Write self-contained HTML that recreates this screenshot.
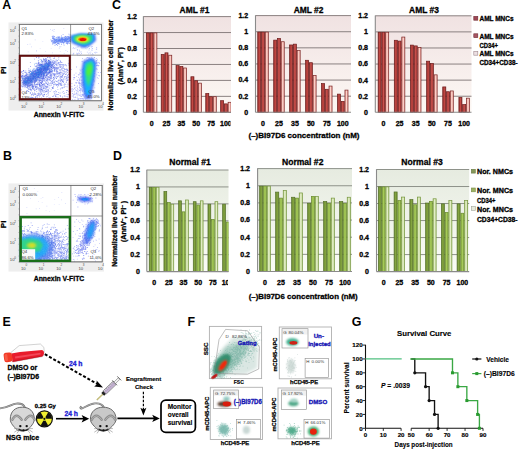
<!DOCTYPE html>
<html><head><meta charset="utf-8"><style>
html,body{margin:0;padding:0;background:#fff;overflow:hidden;}
svg{display:block;font-family:"Liberation Sans", sans-serif;}
</style></head><body>
<svg width="520" height="449" viewBox="0 0 520 449">
<defs>
<linearGradient id="cb1" x1="0" y1="0" x2="1" y2="0"><stop offset="0" stop-color="#8e2828"/><stop offset="0.5" stop-color="#c64c46"/><stop offset="1" stop-color="#922a2a"/></linearGradient><linearGradient id="cb2" x1="0" y1="0" x2="1" y2="0"><stop offset="0" stop-color="#9a2e2e"/><stop offset="0.5" stop-color="#cc5650"/><stop offset="1" stop-color="#9e3030"/></linearGradient><linearGradient id="cb3" x1="0" y1="0" x2="1" y2="0"><stop offset="0" stop-color="#e89890"/><stop offset="0.5" stop-color="#fcd4cc"/><stop offset="1" stop-color="#eaa098"/></linearGradient><linearGradient id="cbg" x1="0" y1="0" x2="0" y2="1"><stop offset="0" stop-color="#f0e2e2"/><stop offset="1" stop-color="#fdf8f4"/></linearGradient><linearGradient id="db1" x1="0" y1="0" x2="1" y2="0"><stop offset="0" stop-color="#66852c"/><stop offset="0.5" stop-color="#86a642"/><stop offset="1" stop-color="#68872e"/></linearGradient><linearGradient id="db2" x1="0" y1="0" x2="1" y2="0"><stop offset="0" stop-color="#86aa3e"/><stop offset="0.5" stop-color="#a8cc5c"/><stop offset="1" stop-color="#88ac40"/></linearGradient><linearGradient id="db3" x1="0" y1="0" x2="1" y2="0"><stop offset="0" stop-color="#b8d08a"/><stop offset="0.5" stop-color="#e6f0cc"/><stop offset="1" stop-color="#bad28c"/></linearGradient><linearGradient id="dbg" x1="0" y1="0" x2="0" y2="1"><stop offset="0" stop-color="#e6ebe0"/><stop offset="1" stop-color="#fafcf6"/></linearGradient>
<filter id="bl10" x="-50%" y="-50%" width="200%" height="200%"><feGaussianBlur stdDeviation="1.0"/></filter>
<filter id="bl14" x="-50%" y="-50%" width="200%" height="200%"><feGaussianBlur stdDeviation="1.4"/></filter>
<filter id="bl9" x="-50%" y="-50%" width="200%" height="200%"><feGaussianBlur stdDeviation="0.9"/></filter>
<filter id="bl8" x="-50%" y="-50%" width="200%" height="200%"><feGaussianBlur stdDeviation="0.8"/></filter>
<filter id="bl12" x="-50%" y="-50%" width="200%" height="200%"><feGaussianBlur stdDeviation="1.2"/></filter>
<filter id="bl6" x="-50%" y="-50%" width="200%" height="200%"><feGaussianBlur stdDeviation="0.6"/></filter>
</defs>
<rect width="520" height="449" fill="#fff"/>
<text x="2.20" y="8.60" font-size="12.4" font-weight="bold" text-anchor="start" fill="#000" stroke="#000" stroke-width="0.01" >A</text>
<text x="3.00" y="160.20" font-size="12.4" font-weight="bold" text-anchor="start" fill="#000" stroke="#000" stroke-width="0.01" >B</text>
<text x="112.00" y="8.50" font-size="12.4" font-weight="bold" text-anchor="start" fill="#000" stroke="#000" stroke-width="0.01" >C</text>
<text x="113.00" y="159.50" font-size="12.4" font-weight="bold" text-anchor="start" fill="#000" stroke="#000" stroke-width="0.01" >D</text>
<text x="2.50" y="326.40" font-size="12.4" font-weight="bold" text-anchor="start" fill="#000" stroke="#000" stroke-width="0.01" >E</text>
<text x="187.50" y="326.20" font-size="12.4" font-weight="bold" text-anchor="start" fill="#000" stroke="#000" stroke-width="0.01" >F</text>
<text x="351.80" y="326.10" font-size="12.4" font-weight="bold" text-anchor="start" fill="#000" stroke="#000" stroke-width="0.01" >G</text>
<rect x="8.50" y="22.40" width="95.00" height="88.20" fill="#eeeeee" stroke="none" stroke-width="1" />
<rect x="19.30" y="24.30" width="82.30" height="76.50" fill="#fff" stroke="#707070" stroke-width="0.7" />
<text x="9.80" y="32.00" font-size="4.2" font-weight="normal" text-anchor="start" fill="#484848" >10</text>
<text x="14.20" y="29.40" font-size="3.0" font-weight="normal" text-anchor="start" fill="#484848" >4</text>
<text x="9.80" y="45.00" font-size="4.2" font-weight="normal" text-anchor="start" fill="#484848" >10</text>
<text x="14.20" y="42.40" font-size="3.0" font-weight="normal" text-anchor="start" fill="#484848" >3</text>
<text x="9.80" y="64.20" font-size="4.2" font-weight="normal" text-anchor="start" fill="#484848" >10</text>
<text x="14.20" y="61.60" font-size="3.0" font-weight="normal" text-anchor="start" fill="#484848" >2</text>
<text x="9.80" y="82.80" font-size="4.2" font-weight="normal" text-anchor="start" fill="#484848" >10</text>
<text x="14.20" y="80.20" font-size="3.0" font-weight="normal" text-anchor="start" fill="#484848" >1</text>
<text x="9.80" y="100.30" font-size="4.2" font-weight="normal" text-anchor="start" fill="#484848" >10</text>
<text x="14.20" y="97.70" font-size="3.0" font-weight="normal" text-anchor="start" fill="#484848" >0</text>
<text x="21.00" y="108.40" font-size="4.2" font-weight="normal" text-anchor="start" fill="#484848" >10</text>
<text x="25.40" y="104.80" font-size="3.0" font-weight="normal" text-anchor="start" fill="#484848" >0</text>
<text x="38.40" y="108.40" font-size="4.2" font-weight="normal" text-anchor="start" fill="#484848" >10</text>
<text x="42.80" y="104.80" font-size="3.0" font-weight="normal" text-anchor="start" fill="#484848" >1</text>
<text x="56.20" y="108.40" font-size="4.2" font-weight="normal" text-anchor="start" fill="#484848" >10</text>
<text x="60.60" y="104.80" font-size="3.0" font-weight="normal" text-anchor="start" fill="#484848" >2</text>
<text x="78.40" y="108.40" font-size="4.2" font-weight="normal" text-anchor="start" fill="#484848" >10</text>
<text x="82.80" y="104.80" font-size="3.0" font-weight="normal" text-anchor="start" fill="#484848" >3</text>
<text x="97.80" y="108.40" font-size="4.2" font-weight="normal" text-anchor="start" fill="#484848" >10</text>
<text x="102.20" y="104.80" font-size="3.0" font-weight="normal" text-anchor="start" fill="#484848" >4</text>
<line x1="18.10" y1="24.30" x2="19.30" y2="24.30" stroke="#888" stroke-width="0.4" />
<line x1="18.10" y1="30.18" x2="19.30" y2="30.18" stroke="#888" stroke-width="0.4" />
<line x1="18.10" y1="36.07" x2="19.30" y2="36.07" stroke="#888" stroke-width="0.4" />
<line x1="18.10" y1="41.95" x2="19.30" y2="41.95" stroke="#888" stroke-width="0.4" />
<line x1="18.10" y1="47.84" x2="19.30" y2="47.84" stroke="#888" stroke-width="0.4" />
<line x1="18.10" y1="53.72" x2="19.30" y2="53.72" stroke="#888" stroke-width="0.4" />
<line x1="18.10" y1="59.61" x2="19.30" y2="59.61" stroke="#888" stroke-width="0.4" />
<line x1="18.10" y1="65.49" x2="19.30" y2="65.49" stroke="#888" stroke-width="0.4" />
<line x1="18.10" y1="71.38" x2="19.30" y2="71.38" stroke="#888" stroke-width="0.4" />
<line x1="18.10" y1="77.26" x2="19.30" y2="77.26" stroke="#888" stroke-width="0.4" />
<line x1="18.10" y1="83.15" x2="19.30" y2="83.15" stroke="#888" stroke-width="0.4" />
<line x1="18.10" y1="89.03" x2="19.30" y2="89.03" stroke="#888" stroke-width="0.4" />
<line x1="18.10" y1="94.92" x2="19.30" y2="94.92" stroke="#888" stroke-width="0.4" />
<line x1="18.10" y1="100.80" x2="19.30" y2="100.80" stroke="#888" stroke-width="0.4" />
<path d="M43.6 90.4h0.8v0.8h-0.8zM43.6 86.4h0.8v0.8h-0.8zM33.7 94.2h0.8v0.8h-0.8zM56.0 60.7h0.8v0.8h-0.8zM57.4 69.2h0.8v0.8h-0.8zM29.1 84.9h0.8v0.8h-0.8zM54.6 84.1h0.8v0.8h-0.8zM31.8 94.1h0.8v0.8h-0.8zM31.7 76.3h0.8v0.8h-0.8zM37.4 86.9h0.8v0.8h-0.8zM53.4 85.4h0.8v0.8h-0.8zM39.1 85.9h0.8v0.8h-0.8zM35.4 93.6h0.8v0.8h-0.8zM49.8 75.5h0.8v0.8h-0.8zM47.4 68.1h0.8v0.8h-0.8zM46.9 86.8h0.8v0.8h-0.8zM56.5 68.2h0.8v0.8h-0.8zM42.4 78.8h0.8v0.8h-0.8zM32.5 97.1h0.8v0.8h-0.8zM60.7 73.7h0.8v0.8h-0.8zM46.6 87.3h0.8v0.8h-0.8zM34.0 90.3h0.8v0.8h-0.8zM53.5 84.1h0.8v0.8h-0.8zM38.2 76.4h0.8v0.8h-0.8zM41.5 73.8h0.8v0.8h-0.8zM33.7 73.0h0.8v0.8h-0.8zM51.4 77.4h0.8v0.8h-0.8zM41.5 86.8h0.8v0.8h-0.8zM36.1 95.6h0.8v0.8h-0.8zM50.9 78.4h0.8v0.8h-0.8zM37.6 82.5h0.8v0.8h-0.8zM29.9 61.9h0.8v0.8h-0.8zM40.1 81.7h0.8v0.8h-0.8zM61.4 67.5h0.8v0.8h-0.8zM52.4 88.0h0.8v0.8h-0.8zM50.3 72.5h0.8v0.8h-0.8zM31.6 88.8h0.8v0.8h-0.8zM31.2 76.7h0.8v0.8h-0.8zM58.7 73.3h0.8v0.8h-0.8zM41.4 73.3h0.8v0.8h-0.8zM41.0 83.3h0.8v0.8h-0.8zM54.2 78.2h0.8v0.8h-0.8zM36.8 73.5h0.8v0.8h-0.8zM63.8 70.6h0.8v0.8h-0.8zM49.4 83.3h0.8v0.8h-0.8zM68.8 77.2h0.8v0.8h-0.8zM59.8 66.3h0.8v0.8h-0.8zM61.8 69.8h0.8v0.8h-0.8zM63.6 78.8h0.8v0.8h-0.8zM39.1 95.7h0.8v0.8h-0.8zM38.1 56.5h0.8v0.8h-0.8zM60.9 76.2h0.8v0.8h-0.8zM38.8 84.6h0.8v0.8h-0.8zM37.0 95.0h0.8v0.8h-0.8zM50.8 84.9h0.8v0.8h-0.8zM42.6 80.6h0.8v0.8h-0.8zM40.3 73.7h0.8v0.8h-0.8zM31.5 74.6h0.8v0.8h-0.8zM44.4 74.7h0.8v0.8h-0.8zM48.1 62.5h0.8v0.8h-0.8zM46.2 62.4h0.8v0.8h-0.8zM55.6 73.4h0.8v0.8h-0.8zM23.4 70.0h0.8v0.8h-0.8zM27.8 85.7h0.8v0.8h-0.8zM42.4 95.2h0.8v0.8h-0.8zM20.9 71.8h0.8v0.8h-0.8zM49.3 98.2h0.8v0.8h-0.8zM60.7 72.3h0.8v0.8h-0.8zM32.0 87.8h0.8v0.8h-0.8zM21.2 85.6h0.8v0.8h-0.8zM49.2 75.8h0.8v0.8h-0.8zM62.5 70.5h0.8v0.8h-0.8zM30.0 93.3h0.8v0.8h-0.8zM22.3 75.5h0.8v0.8h-0.8zM29.4 82.4h0.8v0.8h-0.8zM53.6 74.6h0.8v0.8h-0.8zM25.4 82.7h0.8v0.8h-0.8zM65.4 84.2h0.8v0.8h-0.8zM46.0 86.6h0.8v0.8h-0.8zM60.6 65.7h0.8v0.8h-0.8zM29.6 88.5h0.8v0.8h-0.8zM36.6 79.3h0.8v0.8h-0.8zM38.2 95.2h0.8v0.8h-0.8zM43.6 95.6h0.8v0.8h-0.8zM43.1 77.6h0.8v0.8h-0.8zM51.5 63.2h0.8v0.8h-0.8zM39.1 69.3h0.8v0.8h-0.8zM40.9 87.3h0.8v0.8h-0.8zM35.6 77.6h0.8v0.8h-0.8zM59.5 70.1h0.8v0.8h-0.8zM34.8 84.1h0.8v0.8h-0.8zM43.4 90.4h0.8v0.8h-0.8zM49.8 77.4h0.8v0.8h-0.8zM32.9 85.8h0.8v0.8h-0.8zM43.2 84.2h0.8v0.8h-0.8zM39.6 82.8h0.8v0.8h-0.8zM48.3 69.7h0.8v0.8h-0.8zM36.8 73.5h0.8v0.8h-0.8zM58.5 84.1h0.8v0.8h-0.8zM51.9 60.4h0.8v0.8h-0.8zM40.6 74.3h0.8v0.8h-0.8zM57.4 75.9h0.8v0.8h-0.8zM47.0 67.1h0.8v0.8h-0.8zM43.1 66.3h0.8v0.8h-0.8zM28.3 89.1h0.8v0.8h-0.8zM34.6 84.0h0.8v0.8h-0.8zM47.9 64.6h0.8v0.8h-0.8zM36.7 85.9h0.8v0.8h-0.8zM48.8 78.9h0.8v0.8h-0.8zM58.6 82.6h0.8v0.8h-0.8zM39.9 72.4h0.8v0.8h-0.8zM43.3 96.1h0.8v0.8h-0.8zM35.6 86.1h0.8v0.8h-0.8zM31.1 80.1h0.8v0.8h-0.8zM29.7 84.6h0.8v0.8h-0.8zM56.9 67.7h0.8v0.8h-0.8zM24.8 86.6h0.8v0.8h-0.8zM42.4 78.0h0.8v0.8h-0.8zM62.7 74.3h0.8v0.8h-0.8zM67.3 80.2h0.8v0.8h-0.8zM25.4 70.6h0.8v0.8h-0.8zM58.3 58.7h0.8v0.8h-0.8zM31.4 94.5h0.8v0.8h-0.8zM39.7 88.9h0.8v0.8h-0.8zM36.9 97.2h0.8v0.8h-0.8zM59.8 74.2h0.8v0.8h-0.8zM40.1 68.3h0.8v0.8h-0.8zM45.7 60.7h0.8v0.8h-0.8zM25.1 86.0h0.8v0.8h-0.8zM42.0 75.8h0.8v0.8h-0.8zM42.7 84.1h0.8v0.8h-0.8zM55.4 95.6h0.8v0.8h-0.8zM60.5 61.7h0.8v0.8h-0.8zM41.4 86.0h0.8v0.8h-0.8zM25.0 72.0h0.8v0.8h-0.8zM35.0 73.6h0.8v0.8h-0.8zM42.6 88.6h0.8v0.8h-0.8zM42.5 76.0h0.8v0.8h-0.8zM34.4 84.4h0.8v0.8h-0.8zM65.9 68.7h0.8v0.8h-0.8zM45.5 71.4h0.8v0.8h-0.8zM62.7 74.0h0.8v0.8h-0.8zM30.2 89.4h0.8v0.8h-0.8zM58.0 82.6h0.8v0.8h-0.8zM35.8 70.2h0.8v0.8h-0.8zM58.9 71.9h0.8v0.8h-0.8zM27.3 85.6h0.8v0.8h-0.8zM53.6 73.6h0.8v0.8h-0.8zM39.6 81.7h0.8v0.8h-0.8zM41.8 77.5h0.8v0.8h-0.8zM59.3 65.8h0.8v0.8h-0.8zM50.9 75.3h0.8v0.8h-0.8zM53.5 79.4h0.8v0.8h-0.8zM42.2 81.2h0.8v0.8h-0.8zM53.7 70.8h0.8v0.8h-0.8zM33.5 87.7h0.8v0.8h-0.8zM31.4 85.8h0.8v0.8h-0.8zM53.1 77.1h0.8v0.8h-0.8zM64.4 69.0h0.8v0.8h-0.8zM21.4 80.3h0.8v0.8h-0.8zM58.4 57.2h0.8v0.8h-0.8zM39.7 99.2h0.8v0.8h-0.8zM40.7 84.6h0.8v0.8h-0.8zM36.3 91.2h0.8v0.8h-0.8zM41.2 87.6h0.8v0.8h-0.8zM42.3 82.0h0.8v0.8h-0.8zM28.0 78.4h0.8v0.8h-0.8zM57.0 71.1h0.8v0.8h-0.8zM67.0 79.9h0.8v0.8h-0.8zM57.9 62.0h0.8v0.8h-0.8zM33.9 78.7h0.8v0.8h-0.8zM49.8 57.2h0.8v0.8h-0.8zM47.0 79.1h0.8v0.8h-0.8zM41.5 78.8h0.8v0.8h-0.8zM33.9 85.8h0.8v0.8h-0.8zM55.8 70.6h0.8v0.8h-0.8zM43.4 87.1h0.8v0.8h-0.8zM32.5 87.1h0.8v0.8h-0.8zM45.4 80.8h0.8v0.8h-0.8zM62.5 74.0h0.8v0.8h-0.8zM45.3 78.8h0.8v0.8h-0.8zM29.5 76.5h0.8v0.8h-0.8zM49.6 58.5h0.8v0.8h-0.8zM56.8 65.5h0.8v0.8h-0.8zM39.3 95.6h0.8v0.8h-0.8zM35.5 94.0h0.8v0.8h-0.8zM66.3 71.3h0.8v0.8h-0.8zM44.1 59.2h0.8v0.8h-0.8zM61.1 72.3h0.8v0.8h-0.8zM44.2 79.7h0.8v0.8h-0.8zM46.7 74.2h0.8v0.8h-0.8zM42.4 84.9h0.8v0.8h-0.8zM56.9 83.9h0.8v0.8h-0.8zM36.0 80.9h0.8v0.8h-0.8zM58.1 74.7h0.8v0.8h-0.8zM25.7 82.1h0.8v0.8h-0.8zM30.0 84.1h0.8v0.8h-0.8zM34.9 77.7h0.8v0.8h-0.8zM43.1 91.8h0.8v0.8h-0.8zM61.3 62.0h0.8v0.8h-0.8zM23.9 86.5h0.8v0.8h-0.8zM49.1 57.3h0.8v0.8h-0.8zM25.0 84.2h0.8v0.8h-0.8zM33.7 83.9h0.8v0.8h-0.8zM21.1 77.5h0.8v0.8h-0.8zM33.1 86.5h0.8v0.8h-0.8zM55.6 91.8h0.8v0.8h-0.8zM56.3 84.2h0.8v0.8h-0.8zM57.2 73.3h0.8v0.8h-0.8zM25.3 77.6h0.8v0.8h-0.8zM43.7 75.4h0.8v0.8h-0.8zM68.7 79.2h0.8v0.8h-0.8zM63.9 85.5h0.8v0.8h-0.8zM50.2 82.7h0.8v0.8h-0.8zM36.3 73.7h0.8v0.8h-0.8zM39.3 74.1h0.8v0.8h-0.8zM46.9 80.1h0.8v0.8h-0.8zM26.6 79.8h0.8v0.8h-0.8zM29.0 84.5h0.8v0.8h-0.8zM53.1 67.5h0.8v0.8h-0.8zM62.6 67.9h0.8v0.8h-0.8zM59.6 64.9h0.8v0.8h-0.8zM60.1 96.2h0.8v0.8h-0.8zM32.2 92.4h0.8v0.8h-0.8zM57.2 76.3h0.8v0.8h-0.8zM36.7 83.4h0.8v0.8h-0.8zM33.4 87.6h0.8v0.8h-0.8zM41.1 89.1h0.8v0.8h-0.8zM61.7 86.9h0.8v0.8h-0.8zM60.6 76.4h0.8v0.8h-0.8zM53.2 63.0h0.8v0.8h-0.8zM51.5 69.1h0.8v0.8h-0.8zM43.5 68.3h0.8v0.8h-0.8zM56.7 74.1h0.8v0.8h-0.8zM23.5 71.0h0.8v0.8h-0.8zM34.1 78.4h0.8v0.8h-0.8zM26.7 80.0h0.8v0.8h-0.8zM30.3 89.0h0.8v0.8h-0.8zM31.5 98.7h0.8v0.8h-0.8zM35.8 89.1h0.8v0.8h-0.8zM28.5 82.8h0.8v0.8h-0.8zM44.1 97.9h0.8v0.8h-0.8zM54.1 82.3h0.8v0.8h-0.8zM39.8 59.3h0.8v0.8h-0.8zM57.1 62.8h0.8v0.8h-0.8zM41.6 81.3h0.8v0.8h-0.8zM46.2 75.8h0.8v0.8h-0.8zM27.8 78.9h0.8v0.8h-0.8zM25.0 78.5h0.8v0.8h-0.8zM56.7 67.1h0.8v0.8h-0.8zM50.3 68.0h0.8v0.8h-0.8zM55.4 66.7h0.8v0.8h-0.8zM52.5 68.1h0.8v0.8h-0.8zM53.0 79.5h0.8v0.8h-0.8zM35.2 86.1h0.8v0.8h-0.8zM59.8 67.1h0.8v0.8h-0.8zM33.2 80.4h0.8v0.8h-0.8zM41.7 61.3h0.8v0.8h-0.8zM54.4 74.7h0.8v0.8h-0.8zM48.5 67.5h0.8v0.8h-0.8zM36.2 98.9h0.8v0.8h-0.8zM31.1 94.8h0.8v0.8h-0.8zM44.9 72.7h0.8v0.8h-0.8zM43.0 83.8h0.8v0.8h-0.8zM69.2 83.1h0.8v0.8h-0.8zM24.0 81.2h0.8v0.8h-0.8zM30.8 96.8h0.8v0.8h-0.8zM42.3 65.9h0.8v0.8h-0.8zM29.0 89.0h0.8v0.8h-0.8zM39.9 93.5h0.8v0.8h-0.8zM36.8 72.1h0.8v0.8h-0.8zM49.9 75.2h0.8v0.8h-0.8zM41.7 80.7h0.8v0.8h-0.8zM28.4 77.6h0.8v0.8h-0.8zM56.5 70.6h0.8v0.8h-0.8zM44.4 78.9h0.8v0.8h-0.8zM56.7 72.6h0.8v0.8h-0.8zM40.0 86.1h0.8v0.8h-0.8zM51.4 75.9h0.8v0.8h-0.8zM51.8 74.6h0.8v0.8h-0.8zM45.0 86.5h0.8v0.8h-0.8zM62.4 72.4h0.8v0.8h-0.8zM53.5 94.9h0.8v0.8h-0.8zM29.0 77.5h0.8v0.8h-0.8zM40.9 63.9h0.8v0.8h-0.8zM34.3 93.4h0.8v0.8h-0.8zM39.4 74.4h0.8v0.8h-0.8zM21.1 74.8h0.8v0.8h-0.8zM39.7 86.1h0.8v0.8h-0.8zM34.6 90.0h0.8v0.8h-0.8zM37.0 95.7h0.8v0.8h-0.8zM61.2 65.8h0.8v0.8h-0.8zM41.8 80.7h0.8v0.8h-0.8zM50.4 67.7h0.8v0.8h-0.8zM31.6 84.1h0.8v0.8h-0.8zM40.9 82.2h0.8v0.8h-0.8zM44.1 80.7h0.8v0.8h-0.8zM37.7 78.8h0.8v0.8h-0.8zM55.7 76.0h0.8v0.8h-0.8zM57.6 80.4h0.8v0.8h-0.8zM41.0 59.8h0.8v0.8h-0.8zM35.6 79.6h0.8v0.8h-0.8zM56.0 77.9h0.8v0.8h-0.8zM35.4 69.9h0.8v0.8h-0.8zM65.2 74.0h0.8v0.8h-0.8zM51.2 65.2h0.8v0.8h-0.8zM47.0 78.8h0.8v0.8h-0.8zM58.4 62.1h0.8v0.8h-0.8zM48.0 68.6h0.8v0.8h-0.8zM51.4 63.4h0.8v0.8h-0.8zM48.6 73.3h0.8v0.8h-0.8zM35.1 96.0h0.8v0.8h-0.8zM43.4 83.2h0.8v0.8h-0.8zM39.0 78.5h0.8v0.8h-0.8zM58.4 76.3h0.8v0.8h-0.8zM34.6 88.4h0.8v0.8h-0.8zM57.9 73.0h0.8v0.8h-0.8zM39.7 75.9h0.8v0.8h-0.8zM49.5 71.3h0.8v0.8h-0.8zM43.0 78.6h0.8v0.8h-0.8zM46.4 90.9h0.8v0.8h-0.8zM41.1 81.7h0.8v0.8h-0.8zM52.9 73.9h0.8v0.8h-0.8zM32.1 75.5h0.8v0.8h-0.8zM35.9 73.5h0.8v0.8h-0.8zM30.9 97.6h0.8v0.8h-0.8zM53.9 65.7h0.8v0.8h-0.8zM33.8 93.4h0.8v0.8h-0.8zM47.2 91.4h0.8v0.8h-0.8zM54.4 62.6h0.8v0.8h-0.8zM56.4 83.9h0.8v0.8h-0.8zM46.9 69.1h0.8v0.8h-0.8zM45.9 86.5h0.8v0.8h-0.8zM34.4 93.3h0.8v0.8h-0.8zM48.0 82.8h0.8v0.8h-0.8zM60.3 68.9h0.8v0.8h-0.8zM35.8 70.6h0.8v0.8h-0.8zM37.9 75.0h0.8v0.8h-0.8zM48.6 72.3h0.8v0.8h-0.8zM54.0 63.2h0.8v0.8h-0.8zM34.5 65.5h0.8v0.8h-0.8zM49.6 79.5h0.8v0.8h-0.8zM33.7 73.9h0.8v0.8h-0.8zM37.3 76.3h0.8v0.8h-0.8zM56.3 65.1h0.8v0.8h-0.8zM36.2 89.2h0.8v0.8h-0.8zM50.4 75.5h0.8v0.8h-0.8zM50.2 79.9h0.8v0.8h-0.8zM50.5 76.6h0.8v0.8h-0.8zM44.2 67.4h0.8v0.8h-0.8zM54.7 74.0h0.8v0.8h-0.8zM32.1 92.6h0.8v0.8h-0.8zM60.0 78.2h0.8v0.8h-0.8zM61.1 79.8h0.8v0.8h-0.8zM33.8 77.0h0.8v0.8h-0.8zM65.0 71.5h0.8v0.8h-0.8zM35.6 97.7h0.8v0.8h-0.8zM38.6 73.0h0.8v0.8h-0.8zM59.6 92.6h0.8v0.8h-0.8zM30.1 89.7h0.8v0.8h-0.8zM32.1 88.3h0.8v0.8h-0.8zM61.5 64.0h0.8v0.8h-0.8zM38.9 99.5h0.8v0.8h-0.8zM43.0 98.7h0.8v0.8h-0.8zM55.9 81.0h0.8v0.8h-0.8zM53.1 78.4h0.8v0.8h-0.8zM42.7 96.0h0.8v0.8h-0.8zM50.3 74.1h0.8v0.8h-0.8zM36.4 84.0h0.8v0.8h-0.8zM22.7 85.5h0.8v0.8h-0.8zM40.4 78.8h0.8v0.8h-0.8zM44.5 67.4h0.8v0.8h-0.8zM40.2 85.7h0.8v0.8h-0.8zM33.5 76.6h0.8v0.8h-0.8zM53.2 73.3h0.8v0.8h-0.8zM47.4 57.3h0.8v0.8h-0.8zM44.8 84.9h0.8v0.8h-0.8zM53.3 58.3h0.8v0.8h-0.8zM23.9 82.4h0.8v0.8h-0.8zM54.1 64.9h0.8v0.8h-0.8zM45.0 62.9h0.8v0.8h-0.8zM68.6 79.4h0.8v0.8h-0.8zM47.9 69.1h0.8v0.8h-0.8zM63.1 82.2h0.8v0.8h-0.8zM55.5 68.7h0.8v0.8h-0.8zM52.3 60.9h0.8v0.8h-0.8zM49.8 78.5h0.8v0.8h-0.8zM45.4 91.4h0.8v0.8h-0.8zM46.3 80.4h0.8v0.8h-0.8zM28.4 87.5h0.8v0.8h-0.8zM45.9 71.5h0.8v0.8h-0.8zM63.7 64.5h0.8v0.8h-0.8zM48.4 73.2h0.8v0.8h-0.8zM61.1 75.9h0.8v0.8h-0.8zM38.8 89.8h0.8v0.8h-0.8zM62.4 67.6h0.8v0.8h-0.8zM28.4 84.5h0.8v0.8h-0.8zM36.6 65.3h0.8v0.8h-0.8zM39.9 76.5h0.8v0.8h-0.8zM63.3 65.5h0.8v0.8h-0.8zM66.0 72.7h0.8v0.8h-0.8zM27.7 91.1h0.8v0.8h-0.8zM50.6 71.0h0.8v0.8h-0.8zM35.6 80.6h0.8v0.8h-0.8zM46.4 82.6h0.8v0.8h-0.8zM32.2 99.0h0.8v0.8h-0.8zM30.1 97.6h0.8v0.8h-0.8zM55.7 63.5h0.8v0.8h-0.8zM35.2 76.2h0.8v0.8h-0.8zM52.1 79.9h0.8v0.8h-0.8zM50.7 82.8h0.8v0.8h-0.8zM33.7 81.1h0.8v0.8h-0.8zM48.6 97.2h0.8v0.8h-0.8zM39.5 86.6h0.8v0.8h-0.8zM58.5 66.8h0.8v0.8h-0.8zM43.7 78.3h0.8v0.8h-0.8zM67.2 69.7h0.8v0.8h-0.8zM38.9 83.8h0.8v0.8h-0.8zM25.1 80.7h0.8v0.8h-0.8zM31.3 83.6h0.8v0.8h-0.8zM60.3 83.9h0.8v0.8h-0.8zM23.8 83.3h0.8v0.8h-0.8zM51.5 78.0h0.8v0.8h-0.8zM48.5 76.9h0.8v0.8h-0.8zM49.7 66.3h0.8v0.8h-0.8zM41.9 90.2h0.8v0.8h-0.8zM57.3 67.8h0.8v0.8h-0.8zM41.6 89.4h0.8v0.8h-0.8zM41.9 85.0h0.8v0.8h-0.8zM40.0 71.6h0.8v0.8h-0.8zM62.4 76.6h0.8v0.8h-0.8zM47.5 66.6h0.8v0.8h-0.8zM63.7 71.5h0.8v0.8h-0.8zM44.6 77.1h0.8v0.8h-0.8zM32.8 86.6h0.8v0.8h-0.8zM58.6 72.7h0.8v0.8h-0.8zM22.2 86.3h0.8v0.8h-0.8zM44.1 78.2h0.8v0.8h-0.8zM22.9 83.8h0.8v0.8h-0.8zM44.7 77.3h0.8v0.8h-0.8zM49.9 77.6h0.8v0.8h-0.8zM46.4 77.7h0.8v0.8h-0.8zM48.0 91.9h0.8v0.8h-0.8zM38.4 88.6h0.8v0.8h-0.8zM62.5 81.3h0.8v0.8h-0.8zM46.5 75.4h0.8v0.8h-0.8zM29.8 75.7h0.8v0.8h-0.8zM31.9 97.1h0.8v0.8h-0.8zM38.7 56.7h0.8v0.8h-0.8zM66.1 77.5h0.8v0.8h-0.8zM41.0 94.2h0.8v0.8h-0.8zM50.4 72.5h0.8v0.8h-0.8zM41.0 92.7h0.8v0.8h-0.8zM42.3 78.8h0.8v0.8h-0.8zM34.2 91.7h0.8v0.8h-0.8zM38.6 89.4h0.8v0.8h-0.8zM51.1 62.0h0.8v0.8h-0.8zM48.1 69.5h0.8v0.8h-0.8zM44.6 69.7h0.8v0.8h-0.8zM47.3 84.1h0.8v0.8h-0.8zM22.4 83.6h0.8v0.8h-0.8zM49.8 90.9h0.8v0.8h-0.8zM36.6 86.8h0.8v0.8h-0.8zM47.5 86.2h0.8v0.8h-0.8zM41.5 80.3h0.8v0.8h-0.8zM66.5 90.1h0.8v0.8h-0.8zM34.4 79.5h0.8v0.8h-0.8zM37.5 65.7h0.8v0.8h-0.8zM45.8 58.9h0.8v0.8h-0.8zM48.6 65.9h0.8v0.8h-0.8zM40.5 76.3h0.8v0.8h-0.8zM45.4 68.3h0.8v0.8h-0.8zM37.8 87.9h0.8v0.8h-0.8zM38.3 77.2h0.8v0.8h-0.8zM38.1 74.4h0.8v0.8h-0.8zM24.8 82.3h0.8v0.8h-0.8zM45.2 89.5h0.8v0.8h-0.8zM64.2 68.3h0.8v0.8h-0.8zM49.8 73.3h0.8v0.8h-0.8zM43.1 65.4h0.8v0.8h-0.8zM23.3 82.7h0.8v0.8h-0.8zM36.4 65.6h0.8v0.8h-0.8zM38.2 75.5h0.8v0.8h-0.8zM29.2 70.8h0.8v0.8h-0.8zM66.7 69.6h0.8v0.8h-0.8zM35.0 98.9h0.8v0.8h-0.8zM30.7 76.3h0.8v0.8h-0.8zM51.4 78.3h0.8v0.8h-0.8zM61.5 62.1h0.8v0.8h-0.8zM42.0 90.0h0.8v0.8h-0.8zM39.6 88.4h0.8v0.8h-0.8zM40.6 74.3h0.8v0.8h-0.8zM29.3 87.2h0.8v0.8h-0.8zM33.9 94.0h0.8v0.8h-0.8zM49.8 61.8h0.8v0.8h-0.8zM52.7 65.9h0.8v0.8h-0.8zM40.4 89.6h0.8v0.8h-0.8zM45.4 71.6h0.8v0.8h-0.8zM57.4 68.0h0.8v0.8h-0.8zM38.9 79.0h0.8v0.8h-0.8zM59.8 75.6h0.8v0.8h-0.8zM55.5 68.2h0.8v0.8h-0.8zM59.7 65.6h0.8v0.8h-0.8zM54.4 74.6h0.8v0.8h-0.8zM51.3 65.8h0.8v0.8h-0.8zM47.4 89.0h0.8v0.8h-0.8zM35.3 97.2h0.8v0.8h-0.8zM43.5 84.9h0.8v0.8h-0.8zM31.3 80.6h0.8v0.8h-0.8zM42.4 95.1h0.8v0.8h-0.8zM55.4 76.8h0.8v0.8h-0.8zM61.6 75.7h0.8v0.8h-0.8zM23.0 78.6h0.8v0.8h-0.8zM43.0 87.7h0.8v0.8h-0.8zM32.0 83.6h0.8v0.8h-0.8zM54.0 71.0h0.8v0.8h-0.8zM32.0 81.4h0.8v0.8h-0.8zM63.6 73.4h0.8v0.8h-0.8zM52.2 70.9h0.8v0.8h-0.8zM46.3 74.8h0.8v0.8h-0.8zM58.3 72.8h0.8v0.8h-0.8zM25.2 82.0h0.8v0.8h-0.8zM28.1 91.0h0.8v0.8h-0.8zM52.7 73.0h0.8v0.8h-0.8zM54.4 61.3h0.8v0.8h-0.8zM44.0 94.1h0.8v0.8h-0.8zM36.3 73.8h0.8v0.8h-0.8zM36.9 88.4h0.8v0.8h-0.8zM29.6 84.7h0.8v0.8h-0.8zM53.8 75.1h0.8v0.8h-0.8zM39.8 87.9h0.8v0.8h-0.8zM34.9 81.6h0.8v0.8h-0.8zM47.0 66.4h0.8v0.8h-0.8zM51.2 74.4h0.8v0.8h-0.8zM31.4 74.6h0.8v0.8h-0.8zM52.3 82.1h0.8v0.8h-0.8zM41.2 93.1h0.8v0.8h-0.8zM21.1 76.3h0.8v0.8h-0.8zM55.6 63.7h0.8v0.8h-0.8zM38.3 71.9h0.8v0.8h-0.8zM30.2 66.1h0.8v0.8h-0.8zM58.4 80.5h0.8v0.8h-0.8zM52.9 86.0h0.8v0.8h-0.8zM26.4 89.9h0.8v0.8h-0.8zM44.0 90.2h0.8v0.8h-0.8zM30.4 80.9h0.8v0.8h-0.8zM58.9 63.8h0.8v0.8h-0.8zM43.9 76.2h0.8v0.8h-0.8zM45.8 76.7h0.8v0.8h-0.8zM37.4 69.3h0.8v0.8h-0.8zM30.2 87.4h0.8v0.8h-0.8zM38.7 88.5h0.8v0.8h-0.8zM46.6 83.4h0.8v0.8h-0.8zM33.3 88.8h0.8v0.8h-0.8zM62.2 64.5h0.8v0.8h-0.8zM34.2 58.8h0.8v0.8h-0.8zM45.8 86.1h0.8v0.8h-0.8zM48.5 73.4h0.8v0.8h-0.8zM51.0 74.5h0.8v0.8h-0.8zM56.1 71.5h0.8v0.8h-0.8zM24.8 79.1h0.8v0.8h-0.8zM54.6 67.2h0.8v0.8h-0.8zM43.9 87.8h0.8v0.8h-0.8zM49.2 84.7h0.8v0.8h-0.8zM41.5 92.6h0.8v0.8h-0.8zM47.8 62.2h0.8v0.8h-0.8zM41.4 74.1h0.8v0.8h-0.8zM35.0 97.8h0.8v0.8h-0.8zM44.4 84.2h0.8v0.8h-0.8zM34.4 88.6h0.8v0.8h-0.8zM60.9 75.8h0.8v0.8h-0.8zM51.1 76.6h0.8v0.8h-0.8zM32.3 74.6h0.8v0.8h-0.8zM22.1 75.6h0.8v0.8h-0.8zM45.6 75.1h0.8v0.8h-0.8zM47.9 82.2h0.8v0.8h-0.8zM21.2 80.3h0.8v0.8h-0.8zM39.8 83.7h0.8v0.8h-0.8zM29.4 85.2h0.8v0.8h-0.8zM42.4 86.5h0.8v0.8h-0.8zM40.5 71.9h0.8v0.8h-0.8zM60.5 70.6h0.8v0.8h-0.8zM58.4 67.8h0.8v0.8h-0.8zM42.6 77.5h0.8v0.8h-0.8zM52.7 82.4h0.8v0.8h-0.8zM41.2 80.1h0.8v0.8h-0.8zM49.8 58.4h0.8v0.8h-0.8zM60.1 61.3h0.8v0.8h-0.8zM54.8 67.8h0.8v0.8h-0.8zM54.4 70.5h0.8v0.8h-0.8zM29.7 92.6h0.8v0.8h-0.8zM37.4 83.6h0.8v0.8h-0.8zM54.9 64.3h0.8v0.8h-0.8zM37.5 83.9h0.8v0.8h-0.8zM37.3 75.9h0.8v0.8h-0.8zM59.7 82.7h0.8v0.8h-0.8zM61.5 77.2h0.8v0.8h-0.8zM51.7 71.5h0.8v0.8h-0.8zM50.8 80.8h0.8v0.8h-0.8zM30.4 89.5h0.8v0.8h-0.8zM49.5 72.0h0.8v0.8h-0.8zM50.5 59.2h0.8v0.8h-0.8zM49.3 87.8h0.8v0.8h-0.8zM56.5 69.8h0.8v0.8h-0.8zM50.8 84.5h0.8v0.8h-0.8zM55.9 84.7h0.8v0.8h-0.8zM38.3 94.1h0.8v0.8h-0.8zM38.6 83.7h0.8v0.8h-0.8zM40.1 80.1h0.8v0.8h-0.8zM21.2 89.4h0.8v0.8h-0.8zM28.6 85.2h0.8v0.8h-0.8zM40.2 92.3h0.8v0.8h-0.8zM62.7 66.1h0.8v0.8h-0.8zM55.3 62.4h0.8v0.8h-0.8zM47.6 71.9h0.8v0.8h-0.8zM52.4 70.1h0.8v0.8h-0.8zM42.5 72.6h0.8v0.8h-0.8zM35.0 72.7h0.8v0.8h-0.8zM35.7 87.3h0.8v0.8h-0.8zM48.4 79.5h0.8v0.8h-0.8zM33.7 73.5h0.8v0.8h-0.8zM33.2 94.9h0.8v0.8h-0.8zM52.1 71.6h0.8v0.8h-0.8zM31.2 97.4h0.8v0.8h-0.8zM54.3 74.9h0.8v0.8h-0.8zM64.0 76.9h0.8v0.8h-0.8zM59.4 83.2h0.8v0.8h-0.8zM62.4 74.9h0.8v0.8h-0.8zM22.4 71.5h0.8v0.8h-0.8zM24.2 76.1h0.8v0.8h-0.8zM44.8 65.7h0.8v0.8h-0.8zM44.4 83.3h0.8v0.8h-0.8zM31.7 73.6h0.8v0.8h-0.8zM33.5 98.6h0.8v0.8h-0.8zM25.4 84.0h0.8v0.8h-0.8zM63.3 80.6h0.8v0.8h-0.8zM49.0 79.5h0.8v0.8h-0.8zM46.0 70.2h0.8v0.8h-0.8zM62.3 81.2h0.8v0.8h-0.8zM59.8 78.3h0.8v0.8h-0.8zM66.9 74.9h0.8v0.8h-0.8zM37.0 70.2h0.8v0.8h-0.8zM28.5 91.3h0.8v0.8h-0.8zM60.2 67.0h0.8v0.8h-0.8zM29.0 86.2h0.8v0.8h-0.8zM56.0 75.8h0.8v0.8h-0.8zM40.6 74.8h0.8v0.8h-0.8zM33.2 75.7h0.8v0.8h-0.8zM60.4 79.3h0.8v0.8h-0.8zM32.9 97.8h0.8v0.8h-0.8zM66.1 76.4h0.8v0.8h-0.8zM38.7 90.4h0.8v0.8h-0.8zM32.2 85.9h0.8v0.8h-0.8zM59.9 72.4h0.8v0.8h-0.8zM26.5 72.8h0.8v0.8h-0.8zM64.5 72.4h0.8v0.8h-0.8zM44.9 71.5h0.8v0.8h-0.8zM54.7 61.0h0.8v0.8h-0.8zM56.6 65.3h0.8v0.8h-0.8zM32.2 88.3h0.8v0.8h-0.8zM30.9 84.8h0.8v0.8h-0.8zM64.5 83.4h0.8v0.8h-0.8zM30.2 92.2h0.8v0.8h-0.8zM43.5 77.9h0.8v0.8h-0.8zM46.8 86.1h0.8v0.8h-0.8zM52.0 88.2h0.8v0.8h-0.8zM47.9 84.8h0.8v0.8h-0.8zM32.8 88.4h0.8v0.8h-0.8zM41.6 82.8h0.8v0.8h-0.8zM22.0 86.5h0.8v0.8h-0.8zM52.2 70.7h0.8v0.8h-0.8zM49.6 65.0h0.8v0.8h-0.8zM45.9 91.3h0.8v0.8h-0.8zM31.8 86.7h0.8v0.8h-0.8zM27.4 74.5h0.8v0.8h-0.8zM36.3 87.7h0.8v0.8h-0.8zM54.1 58.0h0.8v0.8h-0.8zM33.0 76.7h0.8v0.8h-0.8zM46.8 90.2h0.8v0.8h-0.8zM38.6 69.2h0.8v0.8h-0.8zM52.7 87.7h0.8v0.8h-0.8zM39.8 91.1h0.8v0.8h-0.8zM37.8 71.6h0.8v0.8h-0.8zM54.0 56.6h0.8v0.8h-0.8zM34.3 85.4h0.8v0.8h-0.8zM35.3 73.3h0.8v0.8h-0.8zM58.8 72.8h0.8v0.8h-0.8zM42.0 84.2h0.8v0.8h-0.8zM47.7 87.5h0.8v0.8h-0.8zM40.3 80.0h0.8v0.8h-0.8zM60.0 76.6h0.8v0.8h-0.8zM38.5 92.6h0.8v0.8h-0.8zM43.5 85.9h0.8v0.8h-0.8zM31.7 85.2h0.8v0.8h-0.8zM40.7 85.4h0.8v0.8h-0.8zM62.0 75.3h0.8v0.8h-0.8zM51.0 67.0h0.8v0.8h-0.8zM40.8 83.1h0.8v0.8h-0.8zM33.9 72.8h0.8v0.8h-0.8zM52.1 81.4h0.8v0.8h-0.8zM59.7 63.7h0.8v0.8h-0.8zM24.8 83.6h0.8v0.8h-0.8zM34.7 63.0h0.8v0.8h-0.8zM45.5 74.7h0.8v0.8h-0.8zM52.9 63.6h0.8v0.8h-0.8zM38.5 73.9h0.8v0.8h-0.8zM49.3 75.2h0.8v0.8h-0.8zM48.6 77.6h0.8v0.8h-0.8zM31.2 89.5h0.8v0.8h-0.8zM27.2 85.2h0.8v0.8h-0.8zM23.0 85.6h0.8v0.8h-0.8zM50.4 74.4h0.8v0.8h-0.8zM64.9 71.4h0.8v0.8h-0.8zM52.3 83.1h0.8v0.8h-0.8zM36.9 84.0h0.8v0.8h-0.8zM55.2 90.5h0.8v0.8h-0.8zM26.8 86.7h0.8v0.8h-0.8zM26.3 72.6h0.8v0.8h-0.8zM42.9 70.5h0.8v0.8h-0.8zM40.2 82.0h0.8v0.8h-0.8zM58.4 64.5h0.8v0.8h-0.8zM45.8 88.3h0.8v0.8h-0.8zM36.4 85.7h0.8v0.8h-0.8zM36.5 64.8h0.8v0.8h-0.8zM43.4 80.1h0.8v0.8h-0.8zM31.0 94.3h0.8v0.8h-0.8zM55.3 80.5h0.8v0.8h-0.8zM40.2 72.3h0.8v0.8h-0.8zM41.5 88.8h0.8v0.8h-0.8zM43.0 98.9h0.8v0.8h-0.8zM59.6 77.1h0.8v0.8h-0.8zM56.0 62.4h0.8v0.8h-0.8zM27.3 90.3h0.8v0.8h-0.8zM43.3 72.8h0.8v0.8h-0.8zM34.9 93.4h0.8v0.8h-0.8zM54.3 67.0h0.8v0.8h-0.8zM23.2 84.2h0.8v0.8h-0.8zM33.8 98.4h0.8v0.8h-0.8zM40.3 79.2h0.8v0.8h-0.8zM60.8 63.9h0.8v0.8h-0.8zM45.4 76.2h0.8v0.8h-0.8zM55.7 59.6h0.8v0.8h-0.8zM52.0 62.2h0.8v0.8h-0.8zM39.3 85.2h0.8v0.8h-0.8zM35.4 84.9h0.8v0.8h-0.8zM32.8 71.7h0.8v0.8h-0.8zM26.3 86.9h0.8v0.8h-0.8zM41.1 97.5h0.8v0.8h-0.8zM26.3 85.3h0.8v0.8h-0.8zM44.9 72.1h0.8v0.8h-0.8zM51.9 87.3h0.8v0.8h-0.8zM42.7 90.4h0.8v0.8h-0.8zM40.3 94.4h0.8v0.8h-0.8zM66.0 80.0h0.8v0.8h-0.8zM30.9 90.5h0.8v0.8h-0.8zM43.1 74.6h0.8v0.8h-0.8zM32.8 93.6h0.8v0.8h-0.8zM45.1 80.7h0.8v0.8h-0.8zM51.6 67.1h0.8v0.8h-0.8zM33.8 85.8h0.8v0.8h-0.8zM40.8 83.0h0.8v0.8h-0.8zM65.4 75.9h0.8v0.8h-0.8zM61.6 79.6h0.8v0.8h-0.8zM21.5 71.1h0.8v0.8h-0.8zM53.8 74.8h0.8v0.8h-0.8zM45.7 57.9h0.8v0.8h-0.8zM41.6 82.3h0.8v0.8h-0.8zM32.5 85.0h0.8v0.8h-0.8zM35.2 94.1h0.8v0.8h-0.8zM39.3 68.4h0.8v0.8h-0.8zM51.0 67.1h0.8v0.8h-0.8zM49.8 62.4h0.8v0.8h-0.8zM48.4 91.0h0.8v0.8h-0.8zM25.0 75.8h0.8v0.8h-0.8zM56.9 67.7h0.8v0.8h-0.8zM36.7 69.7h0.8v0.8h-0.8zM57.3 60.4h0.8v0.8h-0.8zM30.0 85.2h0.8v0.8h-0.8zM36.5 88.3h0.8v0.8h-0.8zM37.4 92.9h0.8v0.8h-0.8zM49.0 72.3h0.8v0.8h-0.8zM44.7 60.8h0.8v0.8h-0.8zM48.2 90.1h0.8v0.8h-0.8zM45.2 68.8h0.8v0.8h-0.8zM53.2 84.0h0.8v0.8h-0.8zM29.9 77.5h0.8v0.8h-0.8zM50.8 75.2h0.8v0.8h-0.8zM55.5 68.8h0.8v0.8h-0.8zM59.8 64.2h0.8v0.8h-0.8zM53.6 62.7h0.8v0.8h-0.8zM40.7 99.6h0.8v0.8h-0.8zM37.2 94.7h0.8v0.8h-0.8zM36.7 78.5h0.8v0.8h-0.8zM52.9 64.4h0.8v0.8h-0.8zM47.5 68.5h0.8v0.8h-0.8zM46.7 85.4h0.8v0.8h-0.8zM32.1 73.4h0.8v0.8h-0.8zM54.8 61.4h0.8v0.8h-0.8zM56.0 67.7h0.8v0.8h-0.8zM40.1 79.7h0.8v0.8h-0.8zM63.0 67.9h0.8v0.8h-0.8zM35.7 83.7h0.8v0.8h-0.8zM59.5 61.9h0.8v0.8h-0.8zM43.7 60.4h0.8v0.8h-0.8zM29.7 75.7h0.8v0.8h-0.8zM56.7 72.3h0.8v0.8h-0.8zM64.1 76.4h0.8v0.8h-0.8zM32.1 86.2h0.8v0.8h-0.8zM67.2 72.2h0.8v0.8h-0.8zM40.3 87.4h0.8v0.8h-0.8zM34.8 96.9h0.8v0.8h-0.8zM43.9 87.6h0.8v0.8h-0.8zM54.1 92.8h0.8v0.8h-0.8zM54.3 69.5h0.8v0.8h-0.8zM40.1 67.4h0.8v0.8h-0.8zM30.9 73.6h0.8v0.8h-0.8zM48.4 76.0h0.8v0.8h-0.8zM45.8 99.0h0.8v0.8h-0.8zM50.5 68.8h0.8v0.8h-0.8zM33.2 78.1h0.8v0.8h-0.8zM44.4 68.4h0.8v0.8h-0.8zM60.1 83.0h0.8v0.8h-0.8zM54.6 68.7h0.8v0.8h-0.8zM39.6 69.6h0.8v0.8h-0.8zM30.3 85.8h0.8v0.8h-0.8zM59.8 71.8h0.8v0.8h-0.8zM36.9 77.4h0.8v0.8h-0.8zM50.8 60.8h0.8v0.8h-0.8zM43.2 58.5h0.8v0.8h-0.8zM50.0 61.1h0.8v0.8h-0.8zM26.8 84.7h0.8v0.8h-0.8zM24.1 85.3h0.8v0.8h-0.8zM37.8 87.2h0.8v0.8h-0.8zM66.6 70.3h0.8v0.8h-0.8zM61.5 84.9h0.8v0.8h-0.8zM50.3 76.3h0.8v0.8h-0.8zM22.7 82.3h0.8v0.8h-0.8zM55.9 68.4h0.8v0.8h-0.8zM47.8 70.9h0.8v0.8h-0.8zM54.5 70.8h0.8v0.8h-0.8zM54.6 68.6h0.8v0.8h-0.8zM43.1 77.0h0.8v0.8h-0.8zM46.7 72.4h0.8v0.8h-0.8zM51.7 83.3h0.8v0.8h-0.8zM64.2 69.3h0.8v0.8h-0.8zM37.8 74.3h0.8v0.8h-0.8zM33.5 89.2h0.8v0.8h-0.8zM31.2 85.3h0.8v0.8h-0.8zM53.6 75.6h0.8v0.8h-0.8zM39.6 71.3h0.8v0.8h-0.8z" fill="#2238e0" fill-opacity="0.5"/>
<path d="M25.9 83.1h0.8v0.8h-0.8zM37.3 67.7h0.8v0.8h-0.8zM27.7 82.4h0.8v0.8h-0.8zM44.0 66.0h0.8v0.8h-0.8zM41.5 69.2h0.8v0.8h-0.8zM47.2 66.0h0.8v0.8h-0.8zM24.4 78.8h0.8v0.8h-0.8zM29.7 80.4h0.8v0.8h-0.8zM47.8 61.2h0.8v0.8h-0.8zM41.2 64.4h0.8v0.8h-0.8zM23.6 82.9h0.8v0.8h-0.8zM38.6 81.7h0.8v0.8h-0.8zM23.6 77.7h0.8v0.8h-0.8zM25.8 80.6h0.8v0.8h-0.8zM39.0 68.7h0.8v0.8h-0.8zM47.1 63.3h0.8v0.8h-0.8zM27.0 78.5h0.8v0.8h-0.8zM38.6 71.1h0.8v0.8h-0.8zM25.8 84.2h0.8v0.8h-0.8zM40.2 67.9h0.8v0.8h-0.8zM34.9 71.7h0.8v0.8h-0.8zM41.6 74.0h0.8v0.8h-0.8zM34.6 72.8h0.8v0.8h-0.8zM40.1 73.0h0.8v0.8h-0.8zM48.9 71.9h0.8v0.8h-0.8zM31.5 78.9h0.8v0.8h-0.8zM36.5 63.3h0.8v0.8h-0.8zM32.3 87.8h0.8v0.8h-0.8zM47.3 76.0h0.8v0.8h-0.8zM27.0 78.8h0.8v0.8h-0.8zM45.2 58.2h0.8v0.8h-0.8zM38.4 72.3h0.8v0.8h-0.8zM42.9 64.3h0.8v0.8h-0.8zM38.7 73.3h0.8v0.8h-0.8zM25.9 80.8h0.8v0.8h-0.8zM39.7 77.5h0.8v0.8h-0.8zM30.9 83.8h0.8v0.8h-0.8zM37.5 81.6h0.8v0.8h-0.8zM22.1 76.7h0.8v0.8h-0.8zM47.1 72.4h0.8v0.8h-0.8zM24.1 82.4h0.8v0.8h-0.8zM38.8 64.8h0.8v0.8h-0.8zM39.0 69.5h0.8v0.8h-0.8zM42.1 71.4h0.8v0.8h-0.8zM35.8 77.0h0.8v0.8h-0.8zM41.4 68.7h0.8v0.8h-0.8zM33.0 72.2h0.8v0.8h-0.8zM45.3 72.2h0.8v0.8h-0.8zM49.8 71.4h0.8v0.8h-0.8zM37.4 77.2h0.8v0.8h-0.8zM48.4 68.0h0.8v0.8h-0.8zM43.4 58.4h0.8v0.8h-0.8zM26.8 81.4h0.8v0.8h-0.8zM37.0 69.9h0.8v0.8h-0.8zM34.8 71.2h0.8v0.8h-0.8zM45.7 60.6h0.8v0.8h-0.8zM27.8 82.0h0.8v0.8h-0.8zM29.8 74.0h0.8v0.8h-0.8zM25.8 74.3h0.8v0.8h-0.8zM39.8 64.0h0.8v0.8h-0.8zM23.3 81.5h0.8v0.8h-0.8zM45.5 77.4h0.8v0.8h-0.8zM37.9 70.5h0.8v0.8h-0.8zM24.3 83.7h0.8v0.8h-0.8zM20.6 72.0h0.8v0.8h-0.8zM42.4 65.8h0.8v0.8h-0.8zM29.7 71.0h0.8v0.8h-0.8zM28.8 82.4h0.8v0.8h-0.8zM50.6 72.6h0.8v0.8h-0.8zM49.2 72.3h0.8v0.8h-0.8zM28.6 86.3h0.8v0.8h-0.8zM41.9 74.5h0.8v0.8h-0.8zM35.4 86.2h0.8v0.8h-0.8zM41.3 75.1h0.8v0.8h-0.8zM24.7 84.8h0.8v0.8h-0.8zM43.6 69.5h0.8v0.8h-0.8zM29.7 76.1h0.8v0.8h-0.8zM45.6 69.8h0.8v0.8h-0.8zM44.9 68.3h0.8v0.8h-0.8zM35.0 77.7h0.8v0.8h-0.8zM50.6 70.5h0.8v0.8h-0.8zM22.7 80.7h0.8v0.8h-0.8zM35.2 74.5h0.8v0.8h-0.8zM30.6 83.3h0.8v0.8h-0.8zM29.6 80.6h0.8v0.8h-0.8zM40.3 73.7h0.8v0.8h-0.8zM37.9 64.5h0.8v0.8h-0.8zM27.1 78.8h0.8v0.8h-0.8zM34.7 81.4h0.8v0.8h-0.8zM33.1 78.4h0.8v0.8h-0.8zM46.0 71.1h0.8v0.8h-0.8zM42.4 72.2h0.8v0.8h-0.8zM48.1 63.1h0.8v0.8h-0.8zM39.0 73.2h0.8v0.8h-0.8zM41.3 64.3h0.8v0.8h-0.8zM42.3 71.7h0.8v0.8h-0.8zM45.9 62.0h0.8v0.8h-0.8zM32.8 86.0h0.8v0.8h-0.8zM49.3 68.2h0.8v0.8h-0.8zM29.0 82.8h0.8v0.8h-0.8zM41.0 74.2h0.8v0.8h-0.8zM48.5 64.9h0.8v0.8h-0.8zM39.5 77.9h0.8v0.8h-0.8zM29.9 77.7h0.8v0.8h-0.8zM48.5 61.8h0.8v0.8h-0.8zM33.1 75.7h0.8v0.8h-0.8zM24.1 81.2h0.8v0.8h-0.8zM39.7 72.1h0.8v0.8h-0.8zM37.7 71.4h0.8v0.8h-0.8zM50.6 65.9h0.8v0.8h-0.8zM38.7 72.5h0.8v0.8h-0.8zM42.5 62.8h0.8v0.8h-0.8zM47.6 63.7h0.8v0.8h-0.8zM48.3 64.9h0.8v0.8h-0.8zM52.0 65.3h0.8v0.8h-0.8zM38.6 74.9h0.8v0.8h-0.8zM24.7 79.3h0.8v0.8h-0.8zM38.5 74.2h0.8v0.8h-0.8zM26.9 80.1h0.8v0.8h-0.8zM27.2 78.6h0.8v0.8h-0.8zM39.7 75.1h0.8v0.8h-0.8zM40.4 64.6h0.8v0.8h-0.8zM40.9 69.7h0.8v0.8h-0.8zM26.2 78.2h0.8v0.8h-0.8zM25.8 72.8h0.8v0.8h-0.8zM40.9 68.3h0.8v0.8h-0.8zM45.8 69.4h0.8v0.8h-0.8zM27.6 85.6h0.8v0.8h-0.8zM38.5 79.8h0.8v0.8h-0.8zM31.8 73.2h0.8v0.8h-0.8zM28.1 78.6h0.8v0.8h-0.8zM34.3 73.4h0.8v0.8h-0.8zM42.2 62.6h0.8v0.8h-0.8zM23.1 70.1h0.8v0.8h-0.8zM30.6 81.2h0.8v0.8h-0.8zM35.3 66.2h0.8v0.8h-0.8zM36.7 72.0h0.8v0.8h-0.8zM28.6 79.6h0.8v0.8h-0.8zM31.5 78.2h0.8v0.8h-0.8zM29.8 79.4h0.8v0.8h-0.8zM27.6 77.5h0.8v0.8h-0.8zM38.7 76.8h0.8v0.8h-0.8zM27.2 80.7h0.8v0.8h-0.8zM28.7 72.4h0.8v0.8h-0.8zM31.4 75.5h0.8v0.8h-0.8zM25.0 81.7h0.8v0.8h-0.8zM32.8 75.5h0.8v0.8h-0.8zM21.6 75.3h0.8v0.8h-0.8zM41.8 70.8h0.8v0.8h-0.8zM41.7 70.9h0.8v0.8h-0.8zM27.7 77.2h0.8v0.8h-0.8zM28.1 76.8h0.8v0.8h-0.8zM47.0 73.7h0.8v0.8h-0.8zM42.0 71.2h0.8v0.8h-0.8zM49.0 65.2h0.8v0.8h-0.8zM26.8 79.8h0.8v0.8h-0.8zM41.2 65.1h0.8v0.8h-0.8zM30.1 73.7h0.8v0.8h-0.8zM40.7 71.0h0.8v0.8h-0.8zM49.1 63.3h0.8v0.8h-0.8zM32.2 80.7h0.8v0.8h-0.8zM40.3 67.9h0.8v0.8h-0.8zM29.5 82.8h0.8v0.8h-0.8zM41.8 70.9h0.8v0.8h-0.8zM33.4 71.3h0.8v0.8h-0.8zM51.6 66.3h0.8v0.8h-0.8zM23.9 76.5h0.8v0.8h-0.8zM50.7 63.9h0.8v0.8h-0.8zM33.9 73.5h0.8v0.8h-0.8zM45.3 70.0h0.8v0.8h-0.8zM41.2 82.8h0.8v0.8h-0.8zM45.0 68.9h0.8v0.8h-0.8zM28.7 84.0h0.8v0.8h-0.8zM27.3 76.6h0.8v0.8h-0.8zM34.7 78.5h0.8v0.8h-0.8zM30.4 75.0h0.8v0.8h-0.8zM42.0 56.3h0.8v0.8h-0.8zM34.5 70.2h0.8v0.8h-0.8zM32.3 84.9h0.8v0.8h-0.8zM35.6 80.8h0.8v0.8h-0.8zM37.5 76.1h0.8v0.8h-0.8zM26.8 76.2h0.8v0.8h-0.8zM26.0 75.1h0.8v0.8h-0.8zM22.0 78.0h0.8v0.8h-0.8zM49.1 69.0h0.8v0.8h-0.8zM26.5 73.8h0.8v0.8h-0.8zM32.7 75.2h0.8v0.8h-0.8zM38.3 79.8h0.8v0.8h-0.8zM46.5 69.4h0.8v0.8h-0.8zM36.0 57.1h0.8v0.8h-0.8zM28.3 76.5h0.8v0.8h-0.8zM35.8 72.7h0.8v0.8h-0.8zM33.7 80.0h0.8v0.8h-0.8zM47.4 61.2h0.8v0.8h-0.8zM46.4 74.8h0.8v0.8h-0.8zM32.5 73.1h0.8v0.8h-0.8zM48.2 66.3h0.8v0.8h-0.8zM35.7 78.3h0.8v0.8h-0.8zM30.9 79.5h0.8v0.8h-0.8zM32.6 72.9h0.8v0.8h-0.8zM49.1 63.3h0.8v0.8h-0.8zM45.6 61.8h0.8v0.8h-0.8zM45.4 62.3h0.8v0.8h-0.8zM43.0 68.5h0.8v0.8h-0.8zM48.6 77.0h0.8v0.8h-0.8zM22.0 79.2h0.8v0.8h-0.8zM21.7 77.5h0.8v0.8h-0.8zM44.1 65.8h0.8v0.8h-0.8zM28.1 70.4h0.8v0.8h-0.8zM33.8 71.4h0.8v0.8h-0.8zM30.2 77.8h0.8v0.8h-0.8zM25.7 75.4h0.8v0.8h-0.8zM49.2 62.3h0.8v0.8h-0.8zM49.3 68.0h0.8v0.8h-0.8zM43.5 66.0h0.8v0.8h-0.8zM32.5 84.6h0.8v0.8h-0.8zM42.9 59.7h0.8v0.8h-0.8zM42.0 75.0h0.8v0.8h-0.8zM37.2 68.8h0.8v0.8h-0.8zM32.1 71.2h0.8v0.8h-0.8zM32.6 74.4h0.8v0.8h-0.8zM31.5 78.9h0.8v0.8h-0.8zM50.9 70.3h0.8v0.8h-0.8zM40.8 68.3h0.8v0.8h-0.8zM44.3 63.6h0.8v0.8h-0.8zM47.8 64.8h0.8v0.8h-0.8zM44.3 72.9h0.8v0.8h-0.8zM42.8 73.2h0.8v0.8h-0.8zM28.0 77.7h0.8v0.8h-0.8zM40.3 70.1h0.8v0.8h-0.8zM29.5 81.8h0.8v0.8h-0.8zM26.3 77.3h0.8v0.8h-0.8zM47.3 63.6h0.8v0.8h-0.8zM40.9 74.0h0.8v0.8h-0.8zM49.9 66.5h0.8v0.8h-0.8zM34.3 71.1h0.8v0.8h-0.8zM47.2 66.8h0.8v0.8h-0.8zM44.7 63.8h0.8v0.8h-0.8zM29.5 70.2h0.8v0.8h-0.8zM34.7 69.9h0.8v0.8h-0.8zM34.3 73.4h0.8v0.8h-0.8zM37.4 71.3h0.8v0.8h-0.8zM33.7 74.1h0.8v0.8h-0.8zM47.2 64.7h0.8v0.8h-0.8zM37.7 78.3h0.8v0.8h-0.8zM30.3 71.2h0.8v0.8h-0.8zM30.0 73.9h0.8v0.8h-0.8zM41.9 78.6h0.8v0.8h-0.8zM48.9 69.9h0.8v0.8h-0.8zM26.0 81.5h0.8v0.8h-0.8zM32.0 80.6h0.8v0.8h-0.8zM45.2 59.3h0.8v0.8h-0.8zM54.1 69.9h0.8v0.8h-0.8zM44.8 68.0h0.8v0.8h-0.8zM27.8 82.1h0.8v0.8h-0.8zM21.7 77.5h0.8v0.8h-0.8zM22.0 81.9h0.8v0.8h-0.8zM28.3 79.5h0.8v0.8h-0.8zM47.4 56.9h0.8v0.8h-0.8zM31.9 82.4h0.8v0.8h-0.8zM48.7 62.9h0.8v0.8h-0.8zM34.4 77.2h0.8v0.8h-0.8zM37.2 70.1h0.8v0.8h-0.8zM38.2 74.3h0.8v0.8h-0.8zM39.4 71.6h0.8v0.8h-0.8zM45.5 62.3h0.8v0.8h-0.8zM27.0 78.0h0.8v0.8h-0.8zM44.4 67.4h0.8v0.8h-0.8zM42.6 61.2h0.8v0.8h-0.8zM35.9 71.9h0.8v0.8h-0.8zM45.9 61.7h0.8v0.8h-0.8zM49.4 64.6h0.8v0.8h-0.8zM49.0 70.6h0.8v0.8h-0.8zM34.0 82.2h0.8v0.8h-0.8zM44.4 63.8h0.8v0.8h-0.8zM47.7 63.1h0.8v0.8h-0.8zM37.9 60.5h0.8v0.8h-0.8zM48.7 63.7h0.8v0.8h-0.8zM27.1 81.6h0.8v0.8h-0.8zM40.9 67.9h0.8v0.8h-0.8zM44.0 72.9h0.8v0.8h-0.8zM39.1 68.9h0.8v0.8h-0.8zM54.5 73.6h0.8v0.8h-0.8zM46.5 67.3h0.8v0.8h-0.8zM43.3 58.8h0.8v0.8h-0.8zM44.8 69.7h0.8v0.8h-0.8zM28.3 85.8h0.8v0.8h-0.8zM38.6 69.2h0.8v0.8h-0.8zM48.2 72.2h0.8v0.8h-0.8zM51.0 68.6h0.8v0.8h-0.8zM33.5 71.1h0.8v0.8h-0.8zM35.0 87.1h0.8v0.8h-0.8zM29.5 81.7h0.8v0.8h-0.8zM47.3 66.4h0.8v0.8h-0.8zM31.5 81.3h0.8v0.8h-0.8zM47.6 59.5h0.8v0.8h-0.8zM38.4 76.6h0.8v0.8h-0.8zM47.3 69.1h0.8v0.8h-0.8zM26.1 75.3h0.8v0.8h-0.8zM26.3 76.7h0.8v0.8h-0.8zM35.8 74.4h0.8v0.8h-0.8zM30.5 79.5h0.8v0.8h-0.8zM42.2 67.0h0.8v0.8h-0.8zM48.1 61.7h0.8v0.8h-0.8zM41.2 73.4h0.8v0.8h-0.8zM24.3 82.2h0.8v0.8h-0.8zM28.1 76.2h0.8v0.8h-0.8zM33.9 73.7h0.8v0.8h-0.8zM39.1 74.2h0.8v0.8h-0.8zM35.2 80.1h0.8v0.8h-0.8zM49.7 63.2h0.8v0.8h-0.8zM38.3 73.7h0.8v0.8h-0.8zM36.6 68.5h0.8v0.8h-0.8zM42.7 68.5h0.8v0.8h-0.8zM37.0 77.0h0.8v0.8h-0.8zM36.0 73.6h0.8v0.8h-0.8zM47.1 69.6h0.8v0.8h-0.8zM31.7 86.0h0.8v0.8h-0.8zM44.6 63.8h0.8v0.8h-0.8zM43.7 69.3h0.8v0.8h-0.8zM53.9 67.3h0.8v0.8h-0.8zM33.3 75.0h0.8v0.8h-0.8zM53.2 67.1h0.8v0.8h-0.8zM40.6 66.6h0.8v0.8h-0.8zM48.0 65.3h0.8v0.8h-0.8zM40.7 72.1h0.8v0.8h-0.8zM33.6 68.0h0.8v0.8h-0.8zM26.3 84.3h0.8v0.8h-0.8zM46.1 68.2h0.8v0.8h-0.8zM36.7 75.6h0.8v0.8h-0.8zM46.3 69.2h0.8v0.8h-0.8zM36.2 69.2h0.8v0.8h-0.8zM29.8 80.3h0.8v0.8h-0.8zM40.9 71.7h0.8v0.8h-0.8zM38.7 75.5h0.8v0.8h-0.8zM35.7 77.7h0.8v0.8h-0.8zM35.8 76.6h0.8v0.8h-0.8zM45.1 75.7h0.8v0.8h-0.8zM23.3 80.6h0.8v0.8h-0.8zM44.3 71.8h0.8v0.8h-0.8zM38.9 67.5h0.8v0.8h-0.8zM27.2 87.8h0.8v0.8h-0.8zM43.3 72.9h0.8v0.8h-0.8zM40.9 68.9h0.8v0.8h-0.8zM51.5 64.6h0.8v0.8h-0.8zM35.5 70.2h0.8v0.8h-0.8zM41.8 66.3h0.8v0.8h-0.8zM44.0 64.4h0.8v0.8h-0.8zM41.4 68.0h0.8v0.8h-0.8zM53.6 68.5h0.8v0.8h-0.8zM32.7 75.6h0.8v0.8h-0.8zM42.1 64.4h0.8v0.8h-0.8zM35.3 81.0h0.8v0.8h-0.8zM28.4 88.3h0.8v0.8h-0.8zM43.9 61.6h0.8v0.8h-0.8zM33.7 76.3h0.8v0.8h-0.8zM48.4 66.3h0.8v0.8h-0.8zM46.4 63.6h0.8v0.8h-0.8zM38.8 65.2h0.8v0.8h-0.8zM26.2 74.8h0.8v0.8h-0.8zM38.6 75.0h0.8v0.8h-0.8zM28.3 72.2h0.8v0.8h-0.8zM29.6 81.4h0.8v0.8h-0.8zM40.8 65.1h0.8v0.8h-0.8zM46.7 64.1h0.8v0.8h-0.8zM29.5 73.7h0.8v0.8h-0.8zM40.8 66.4h0.8v0.8h-0.8zM33.6 74.9h0.8v0.8h-0.8zM25.6 75.8h0.8v0.8h-0.8zM37.9 67.6h0.8v0.8h-0.8zM23.6 79.6h0.8v0.8h-0.8zM45.1 61.2h0.8v0.8h-0.8zM28.7 77.7h0.8v0.8h-0.8zM43.1 66.1h0.8v0.8h-0.8zM37.5 72.6h0.8v0.8h-0.8zM46.9 67.4h0.8v0.8h-0.8zM50.6 65.5h0.8v0.8h-0.8zM34.4 81.7h0.8v0.8h-0.8zM50.6 70.9h0.8v0.8h-0.8zM43.7 67.5h0.8v0.8h-0.8zM32.1 72.6h0.8v0.8h-0.8zM23.4 81.4h0.8v0.8h-0.8zM43.1 69.6h0.8v0.8h-0.8zM40.7 70.0h0.8v0.8h-0.8zM29.4 75.5h0.8v0.8h-0.8zM49.6 64.3h0.8v0.8h-0.8zM23.2 82.5h0.8v0.8h-0.8zM38.4 69.6h0.8v0.8h-0.8zM35.2 79.3h0.8v0.8h-0.8zM28.7 83.6h0.8v0.8h-0.8zM37.6 69.6h0.8v0.8h-0.8zM44.5 68.2h0.8v0.8h-0.8zM48.0 60.1h0.8v0.8h-0.8zM25.5 75.4h0.8v0.8h-0.8zM31.7 71.4h0.8v0.8h-0.8zM29.5 78.4h0.8v0.8h-0.8zM36.0 73.8h0.8v0.8h-0.8zM29.0 82.4h0.8v0.8h-0.8zM32.3 77.4h0.8v0.8h-0.8zM52.2 64.0h0.8v0.8h-0.8zM47.1 68.3h0.8v0.8h-0.8zM33.0 72.7h0.8v0.8h-0.8zM26.5 80.0h0.8v0.8h-0.8zM24.1 78.0h0.8v0.8h-0.8zM47.2 69.7h0.8v0.8h-0.8zM48.2 62.7h0.8v0.8h-0.8zM43.2 74.1h0.8v0.8h-0.8zM29.4 79.8h0.8v0.8h-0.8zM41.8 65.8h0.8v0.8h-0.8zM45.8 60.5h0.8v0.8h-0.8zM30.0 80.6h0.8v0.8h-0.8zM43.6 70.0h0.8v0.8h-0.8zM30.0 82.8h0.8v0.8h-0.8zM41.2 73.9h0.8v0.8h-0.8zM30.5 74.3h0.8v0.8h-0.8zM39.1 71.7h0.8v0.8h-0.8zM46.3 69.0h0.8v0.8h-0.8zM28.4 68.5h0.8v0.8h-0.8zM39.5 67.2h0.8v0.8h-0.8zM48.1 63.6h0.8v0.8h-0.8zM44.1 64.8h0.8v0.8h-0.8zM43.7 59.1h0.8v0.8h-0.8zM44.4 64.6h0.8v0.8h-0.8zM35.2 79.5h0.8v0.8h-0.8zM41.1 71.5h0.8v0.8h-0.8zM33.3 77.9h0.8v0.8h-0.8zM45.0 60.4h0.8v0.8h-0.8zM34.3 82.5h0.8v0.8h-0.8zM26.0 78.2h0.8v0.8h-0.8zM40.3 71.5h0.8v0.8h-0.8zM41.1 64.1h0.8v0.8h-0.8zM50.0 63.3h0.8v0.8h-0.8zM39.8 67.5h0.8v0.8h-0.8zM31.6 80.2h0.8v0.8h-0.8zM24.6 80.3h0.8v0.8h-0.8zM46.4 63.0h0.8v0.8h-0.8zM43.1 74.9h0.8v0.8h-0.8zM29.7 80.9h0.8v0.8h-0.8zM28.8 77.7h0.8v0.8h-0.8zM47.3 68.0h0.8v0.8h-0.8zM31.0 72.3h0.8v0.8h-0.8zM39.8 79.9h0.8v0.8h-0.8zM41.6 76.9h0.8v0.8h-0.8zM26.6 82.3h0.8v0.8h-0.8zM38.9 64.0h0.8v0.8h-0.8zM42.8 72.5h0.8v0.8h-0.8zM39.2 75.4h0.8v0.8h-0.8zM45.9 64.9h0.8v0.8h-0.8zM30.4 83.2h0.8v0.8h-0.8zM30.7 70.9h0.8v0.8h-0.8zM31.8 80.3h0.8v0.8h-0.8zM37.0 69.6h0.8v0.8h-0.8zM41.1 67.4h0.8v0.8h-0.8zM39.9 69.1h0.8v0.8h-0.8zM44.2 72.2h0.8v0.8h-0.8zM48.2 73.5h0.8v0.8h-0.8zM30.7 77.8h0.8v0.8h-0.8zM24.5 78.5h0.8v0.8h-0.8zM36.7 77.1h0.8v0.8h-0.8zM27.2 80.5h0.8v0.8h-0.8zM43.9 66.5h0.8v0.8h-0.8zM33.9 81.7h0.8v0.8h-0.8zM37.0 79.4h0.8v0.8h-0.8zM45.9 58.7h0.8v0.8h-0.8zM46.5 68.6h0.8v0.8h-0.8zM35.7 76.6h0.8v0.8h-0.8zM49.1 70.8h0.8v0.8h-0.8zM44.8 63.9h0.8v0.8h-0.8zM47.1 74.8h0.8v0.8h-0.8zM40.6 68.5h0.8v0.8h-0.8zM40.0 72.6h0.8v0.8h-0.8zM42.5 67.8h0.8v0.8h-0.8zM49.3 71.9h0.8v0.8h-0.8zM26.2 82.1h0.8v0.8h-0.8zM25.2 77.3h0.8v0.8h-0.8zM37.9 76.5h0.8v0.8h-0.8zM39.2 83.6h0.8v0.8h-0.8zM49.2 62.2h0.8v0.8h-0.8zM41.4 65.7h0.8v0.8h-0.8zM21.2 76.4h0.8v0.8h-0.8zM46.2 71.7h0.8v0.8h-0.8zM35.0 73.5h0.8v0.8h-0.8zM48.3 63.2h0.8v0.8h-0.8zM48.0 64.1h0.8v0.8h-0.8zM45.1 72.7h0.8v0.8h-0.8zM26.9 85.9h0.8v0.8h-0.8zM27.9 82.5h0.8v0.8h-0.8zM44.4 66.8h0.8v0.8h-0.8zM30.4 78.7h0.8v0.8h-0.8zM46.1 63.6h0.8v0.8h-0.8zM47.4 66.1h0.8v0.8h-0.8zM39.5 66.0h0.8v0.8h-0.8zM27.4 76.0h0.8v0.8h-0.8zM29.8 75.7h0.8v0.8h-0.8zM43.1 65.8h0.8v0.8h-0.8zM38.8 74.3h0.8v0.8h-0.8zM35.6 79.3h0.8v0.8h-0.8zM50.0 62.1h0.8v0.8h-0.8zM43.4 66.8h0.8v0.8h-0.8zM44.5 66.6h0.8v0.8h-0.8zM48.1 66.3h0.8v0.8h-0.8zM34.8 71.8h0.8v0.8h-0.8zM44.2 71.6h0.8v0.8h-0.8zM23.2 81.1h0.8v0.8h-0.8zM32.6 71.8h0.8v0.8h-0.8zM35.9 66.0h0.8v0.8h-0.8zM42.4 77.7h0.8v0.8h-0.8zM46.6 62.4h0.8v0.8h-0.8zM28.2 80.1h0.8v0.8h-0.8zM44.9 65.3h0.8v0.8h-0.8zM36.5 73.0h0.8v0.8h-0.8zM41.1 59.7h0.8v0.8h-0.8zM26.2 77.6h0.8v0.8h-0.8zM28.8 80.3h0.8v0.8h-0.8zM45.8 62.8h0.8v0.8h-0.8zM37.4 77.6h0.8v0.8h-0.8zM38.9 81.7h0.8v0.8h-0.8zM49.1 64.8h0.8v0.8h-0.8zM28.8 85.3h0.8v0.8h-0.8zM28.3 79.3h0.8v0.8h-0.8zM38.6 83.8h0.8v0.8h-0.8zM27.4 84.8h0.8v0.8h-0.8zM37.2 64.4h0.8v0.8h-0.8zM32.8 81.4h0.8v0.8h-0.8zM37.7 62.8h0.8v0.8h-0.8zM46.2 60.0h0.8v0.8h-0.8zM34.1 80.1h0.8v0.8h-0.8zM45.3 69.9h0.8v0.8h-0.8zM44.3 73.6h0.8v0.8h-0.8zM44.4 69.5h0.8v0.8h-0.8zM39.9 70.4h0.8v0.8h-0.8zM23.5 75.4h0.8v0.8h-0.8zM39.3 84.5h0.8v0.8h-0.8zM43.4 75.1h0.8v0.8h-0.8zM31.5 84.0h0.8v0.8h-0.8zM36.2 74.8h0.8v0.8h-0.8zM45.1 66.9h0.8v0.8h-0.8zM37.5 76.9h0.8v0.8h-0.8zM37.1 71.8h0.8v0.8h-0.8zM33.2 76.3h0.8v0.8h-0.8zM22.4 75.5h0.8v0.8h-0.8zM38.4 57.6h0.8v0.8h-0.8zM23.5 80.6h0.8v0.8h-0.8zM36.5 72.3h0.8v0.8h-0.8zM38.8 79.5h0.8v0.8h-0.8zM21.9 75.2h0.8v0.8h-0.8zM49.3 64.6h0.8v0.8h-0.8zM30.7 73.1h0.8v0.8h-0.8zM48.9 64.4h0.8v0.8h-0.8zM44.4 68.9h0.8v0.8h-0.8zM40.3 77.2h0.8v0.8h-0.8zM49.5 61.3h0.8v0.8h-0.8zM34.3 69.8h0.8v0.8h-0.8zM36.7 67.4h0.8v0.8h-0.8zM50.8 67.1h0.8v0.8h-0.8zM45.6 66.7h0.8v0.8h-0.8zM46.2 67.5h0.8v0.8h-0.8zM40.7 76.7h0.8v0.8h-0.8zM42.7 77.4h0.8v0.8h-0.8zM36.0 72.7h0.8v0.8h-0.8zM47.7 69.2h0.8v0.8h-0.8zM52.7 66.2h0.8v0.8h-0.8zM51.0 67.3h0.8v0.8h-0.8zM30.2 81.2h0.8v0.8h-0.8zM24.6 75.2h0.8v0.8h-0.8zM27.6 83.2h0.8v0.8h-0.8zM50.7 74.2h0.8v0.8h-0.8zM46.6 66.5h0.8v0.8h-0.8zM38.0 61.9h0.8v0.8h-0.8zM33.0 79.3h0.8v0.8h-0.8zM46.1 72.5h0.8v0.8h-0.8zM32.6 79.0h0.8v0.8h-0.8zM50.8 71.8h0.8v0.8h-0.8zM46.0 73.6h0.8v0.8h-0.8zM24.1 80.4h0.8v0.8h-0.8zM36.1 75.3h0.8v0.8h-0.8zM48.5 67.6h0.8v0.8h-0.8zM47.6 72.7h0.8v0.8h-0.8zM43.0 70.0h0.8v0.8h-0.8zM38.1 77.0h0.8v0.8h-0.8zM47.2 72.9h0.8v0.8h-0.8zM44.7 70.9h0.8v0.8h-0.8zM45.4 71.7h0.8v0.8h-0.8zM32.3 79.2h0.8v0.8h-0.8zM49.5 64.5h0.8v0.8h-0.8zM39.3 73.2h0.8v0.8h-0.8zM38.3 73.7h0.8v0.8h-0.8zM38.0 76.3h0.8v0.8h-0.8zM49.9 69.7h0.8v0.8h-0.8zM37.5 69.3h0.8v0.8h-0.8zM35.3 71.7h0.8v0.8h-0.8zM39.3 80.7h0.8v0.8h-0.8zM49.6 64.2h0.8v0.8h-0.8zM41.5 72.7h0.8v0.8h-0.8zM46.5 64.9h0.8v0.8h-0.8zM48.4 66.4h0.8v0.8h-0.8zM30.2 77.9h0.8v0.8h-0.8zM27.9 82.6h0.8v0.8h-0.8zM43.0 71.9h0.8v0.8h-0.8zM40.1 70.6h0.8v0.8h-0.8zM37.2 74.1h0.8v0.8h-0.8zM34.3 74.1h0.8v0.8h-0.8zM43.2 77.5h0.8v0.8h-0.8zM30.6 73.4h0.8v0.8h-0.8zM41.0 75.0h0.8v0.8h-0.8zM27.5 77.4h0.8v0.8h-0.8zM41.7 66.4h0.8v0.8h-0.8zM38.8 72.6h0.8v0.8h-0.8zM32.6 70.1h0.8v0.8h-0.8zM35.3 80.2h0.8v0.8h-0.8zM23.4 80.3h0.8v0.8h-0.8zM41.1 65.6h0.8v0.8h-0.8zM30.4 82.1h0.8v0.8h-0.8zM34.2 73.9h0.8v0.8h-0.8zM36.7 66.9h0.8v0.8h-0.8zM32.3 82.2h0.8v0.8h-0.8zM25.5 80.8h0.8v0.8h-0.8zM48.7 71.0h0.8v0.8h-0.8zM39.3 65.4h0.8v0.8h-0.8zM43.0 66.2h0.8v0.8h-0.8zM43.6 72.7h0.8v0.8h-0.8zM34.2 76.1h0.8v0.8h-0.8zM36.2 72.9h0.8v0.8h-0.8zM35.3 76.2h0.8v0.8h-0.8zM37.5 72.0h0.8v0.8h-0.8zM29.6 78.4h0.8v0.8h-0.8zM46.6 71.4h0.8v0.8h-0.8zM41.5 65.7h0.8v0.8h-0.8zM42.6 68.5h0.8v0.8h-0.8zM35.4 78.4h0.8v0.8h-0.8zM25.3 74.8h0.8v0.8h-0.8zM44.6 68.8h0.8v0.8h-0.8zM36.1 79.5h0.8v0.8h-0.8zM29.5 76.5h0.8v0.8h-0.8zM48.2 63.0h0.8v0.8h-0.8zM32.6 73.2h0.8v0.8h-0.8zM27.4 84.5h0.8v0.8h-0.8zM25.4 84.9h0.8v0.8h-0.8zM35.3 77.7h0.8v0.8h-0.8zM27.5 74.5h0.8v0.8h-0.8zM46.8 70.1h0.8v0.8h-0.8zM47.2 64.6h0.8v0.8h-0.8zM29.1 79.7h0.8v0.8h-0.8zM30.0 88.8h0.8v0.8h-0.8zM39.3 72.4h0.8v0.8h-0.8zM35.5 71.1h0.8v0.8h-0.8zM48.4 62.7h0.8v0.8h-0.8zM25.5 82.8h0.8v0.8h-0.8zM31.1 82.1h0.8v0.8h-0.8zM40.5 72.0h0.8v0.8h-0.8zM41.3 78.4h0.8v0.8h-0.8zM36.2 80.3h0.8v0.8h-0.8zM25.4 76.8h0.8v0.8h-0.8zM27.8 83.8h0.8v0.8h-0.8zM23.8 76.6h0.8v0.8h-0.8zM43.0 66.4h0.8v0.8h-0.8zM43.9 65.7h0.8v0.8h-0.8zM33.6 76.9h0.8v0.8h-0.8zM37.6 69.8h0.8v0.8h-0.8zM27.0 81.5h0.8v0.8h-0.8zM52.1 67.8h0.8v0.8h-0.8zM40.2 71.0h0.8v0.8h-0.8zM34.1 73.7h0.8v0.8h-0.8zM37.1 84.5h0.8v0.8h-0.8zM30.2 81.1h0.8v0.8h-0.8zM34.6 82.1h0.8v0.8h-0.8zM22.2 78.3h0.8v0.8h-0.8zM23.6 82.5h0.8v0.8h-0.8zM49.8 62.3h0.8v0.8h-0.8zM22.8 80.2h0.8v0.8h-0.8zM37.6 72.2h0.8v0.8h-0.8zM45.6 63.4h0.8v0.8h-0.8zM41.3 72.5h0.8v0.8h-0.8zM33.5 78.2h0.8v0.8h-0.8zM26.7 86.9h0.8v0.8h-0.8zM40.4 64.0h0.8v0.8h-0.8zM45.3 67.8h0.8v0.8h-0.8zM24.7 78.4h0.8v0.8h-0.8zM46.0 68.6h0.8v0.8h-0.8zM43.9 68.3h0.8v0.8h-0.8zM41.0 64.9h0.8v0.8h-0.8zM38.2 67.0h0.8v0.8h-0.8zM42.2 65.2h0.8v0.8h-0.8zM35.3 75.4h0.8v0.8h-0.8zM32.6 73.0h0.8v0.8h-0.8zM24.0 81.2h0.8v0.8h-0.8zM33.1 71.5h0.8v0.8h-0.8zM48.1 65.7h0.8v0.8h-0.8zM36.1 75.0h0.8v0.8h-0.8zM27.3 76.3h0.8v0.8h-0.8zM42.6 64.2h0.8v0.8h-0.8zM51.2 70.9h0.8v0.8h-0.8zM43.1 75.5h0.8v0.8h-0.8zM25.9 81.8h0.8v0.8h-0.8zM42.5 67.2h0.8v0.8h-0.8zM37.8 67.0h0.8v0.8h-0.8zM37.7 74.5h0.8v0.8h-0.8zM27.9 78.1h0.8v0.8h-0.8zM29.1 71.9h0.8v0.8h-0.8zM38.9 80.0h0.8v0.8h-0.8zM31.2 73.8h0.8v0.8h-0.8zM42.2 72.9h0.8v0.8h-0.8zM25.6 78.1h0.8v0.8h-0.8zM49.7 69.0h0.8v0.8h-0.8zM40.6 70.9h0.8v0.8h-0.8zM37.6 75.9h0.8v0.8h-0.8zM30.8 80.0h0.8v0.8h-0.8zM44.8 71.3h0.8v0.8h-0.8zM32.5 73.7h0.8v0.8h-0.8zM34.4 81.0h0.8v0.8h-0.8zM41.0 69.2h0.8v0.8h-0.8zM36.7 79.5h0.8v0.8h-0.8zM38.8 72.1h0.8v0.8h-0.8zM43.2 76.3h0.8v0.8h-0.8zM37.4 77.1h0.8v0.8h-0.8zM42.3 78.5h0.8v0.8h-0.8zM32.2 77.2h0.8v0.8h-0.8zM39.3 62.5h0.8v0.8h-0.8zM28.6 82.5h0.8v0.8h-0.8zM47.3 69.8h0.8v0.8h-0.8zM34.1 83.2h0.8v0.8h-0.8zM50.1 66.5h0.8v0.8h-0.8zM24.8 79.7h0.8v0.8h-0.8zM26.0 81.3h0.8v0.8h-0.8zM45.7 60.2h0.8v0.8h-0.8zM28.5 83.7h0.8v0.8h-0.8zM39.6 67.0h0.8v0.8h-0.8zM33.5 82.4h0.8v0.8h-0.8zM39.5 68.3h0.8v0.8h-0.8zM27.8 79.9h0.8v0.8h-0.8zM32.0 69.7h0.8v0.8h-0.8zM45.0 64.3h0.8v0.8h-0.8zM23.1 76.4h0.8v0.8h-0.8zM47.4 67.4h0.8v0.8h-0.8zM41.3 71.1h0.8v0.8h-0.8zM35.7 81.0h0.8v0.8h-0.8zM37.0 75.7h0.8v0.8h-0.8zM33.7 73.2h0.8v0.8h-0.8zM36.1 84.0h0.8v0.8h-0.8zM36.3 68.2h0.8v0.8h-0.8zM27.6 81.3h0.8v0.8h-0.8zM32.5 72.7h0.8v0.8h-0.8zM41.5 71.2h0.8v0.8h-0.8zM26.5 76.4h0.8v0.8h-0.8zM33.5 75.2h0.8v0.8h-0.8zM42.2 64.6h0.8v0.8h-0.8zM34.7 71.4h0.8v0.8h-0.8zM38.8 77.3h0.8v0.8h-0.8zM37.9 71.9h0.8v0.8h-0.8zM29.7 73.5h0.8v0.8h-0.8zM53.9 67.8h0.8v0.8h-0.8zM36.2 72.3h0.8v0.8h-0.8zM27.1 83.6h0.8v0.8h-0.8zM44.1 72.1h0.8v0.8h-0.8zM48.6 65.0h0.8v0.8h-0.8zM30.2 85.0h0.8v0.8h-0.8zM22.5 73.1h0.8v0.8h-0.8zM33.5 73.2h0.8v0.8h-0.8zM42.5 66.0h0.8v0.8h-0.8zM40.3 65.3h0.8v0.8h-0.8zM39.3 65.9h0.8v0.8h-0.8zM48.7 60.2h0.8v0.8h-0.8zM38.0 63.2h0.8v0.8h-0.8zM44.9 70.0h0.8v0.8h-0.8zM49.1 62.9h0.8v0.8h-0.8zM39.1 73.3h0.8v0.8h-0.8zM41.6 81.0h0.8v0.8h-0.8zM32.3 72.2h0.8v0.8h-0.8zM38.6 83.6h0.8v0.8h-0.8zM22.2 76.4h0.8v0.8h-0.8zM22.6 73.8h0.8v0.8h-0.8zM24.5 71.9h0.8v0.8h-0.8zM34.4 80.6h0.8v0.8h-0.8zM41.2 75.7h0.8v0.8h-0.8zM39.9 65.1h0.8v0.8h-0.8zM33.2 78.3h0.8v0.8h-0.8zM44.1 74.8h0.8v0.8h-0.8zM41.2 62.4h0.8v0.8h-0.8zM27.0 77.0h0.8v0.8h-0.8zM32.4 77.5h0.8v0.8h-0.8zM27.2 83.3h0.8v0.8h-0.8zM32.2 78.1h0.8v0.8h-0.8zM39.3 69.9h0.8v0.8h-0.8zM49.0 61.7h0.8v0.8h-0.8zM36.7 80.3h0.8v0.8h-0.8zM25.1 81.5h0.8v0.8h-0.8zM37.7 71.8h0.8v0.8h-0.8zM44.3 64.6h0.8v0.8h-0.8zM20.9 76.0h0.8v0.8h-0.8zM41.6 76.3h0.8v0.8h-0.8zM47.0 77.5h0.8v0.8h-0.8zM35.0 78.5h0.8v0.8h-0.8zM49.5 65.0h0.8v0.8h-0.8zM40.9 56.2h0.8v0.8h-0.8zM41.2 76.6h0.8v0.8h-0.8zM49.6 69.1h0.8v0.8h-0.8zM46.6 64.0h0.8v0.8h-0.8zM31.8 72.5h0.8v0.8h-0.8zM43.2 69.4h0.8v0.8h-0.8zM46.4 71.1h0.8v0.8h-0.8z" fill="#1f36d8" fill-opacity="0.6"/>
<path d="M61.4 83.7h0.8v0.8h-0.8zM49.3 60.7h0.8v0.8h-0.8zM51.4 69.4h0.8v0.8h-0.8zM56.2 98.7h0.8v0.8h-0.8zM44.5 63.0h0.8v0.8h-0.8zM59.5 64.3h0.8v0.8h-0.8zM44.9 77.3h0.8v0.8h-0.8zM68.6 72.8h0.8v0.8h-0.8zM47.8 78.8h0.8v0.8h-0.8zM43.0 75.9h0.8v0.8h-0.8zM59.7 72.8h0.8v0.8h-0.8zM62.7 67.3h0.8v0.8h-0.8zM41.1 84.8h0.8v0.8h-0.8zM52.0 96.3h0.8v0.8h-0.8zM41.3 89.5h0.8v0.8h-0.8zM58.8 74.6h0.8v0.8h-0.8zM42.0 84.2h0.8v0.8h-0.8zM61.5 78.7h0.8v0.8h-0.8zM52.6 87.1h0.8v0.8h-0.8zM56.9 76.7h0.8v0.8h-0.8zM43.8 78.3h0.8v0.8h-0.8zM55.0 95.4h0.8v0.8h-0.8zM68.8 82.0h0.8v0.8h-0.8zM48.2 68.8h0.8v0.8h-0.8zM57.5 89.2h0.8v0.8h-0.8zM45.7 87.3h0.8v0.8h-0.8zM69.0 75.5h0.8v0.8h-0.8zM67.1 77.2h0.8v0.8h-0.8zM58.2 94.2h0.8v0.8h-0.8zM44.3 73.6h0.8v0.8h-0.8zM68.5 62.6h0.8v0.8h-0.8zM47.5 78.8h0.8v0.8h-0.8zM61.1 84.9h0.8v0.8h-0.8zM66.8 86.5h0.8v0.8h-0.8zM38.0 62.8h0.8v0.8h-0.8zM39.1 77.0h0.8v0.8h-0.8zM38.8 80.8h0.8v0.8h-0.8zM57.6 68.0h0.8v0.8h-0.8zM64.5 76.3h0.8v0.8h-0.8zM67.8 74.1h0.8v0.8h-0.8zM57.2 81.4h0.8v0.8h-0.8zM46.2 90.8h0.8v0.8h-0.8zM38.1 69.9h0.8v0.8h-0.8zM47.9 94.8h0.8v0.8h-0.8zM53.5 61.4h0.8v0.8h-0.8zM47.3 84.1h0.8v0.8h-0.8zM63.1 64.3h0.8v0.8h-0.8zM62.2 75.4h0.8v0.8h-0.8zM54.2 76.6h0.8v0.8h-0.8zM51.6 99.1h0.8v0.8h-0.8zM66.5 96.3h0.8v0.8h-0.8zM60.8 87.7h0.8v0.8h-0.8zM42.4 61.4h0.8v0.8h-0.8zM63.8 86.6h0.8v0.8h-0.8zM57.6 72.4h0.8v0.8h-0.8zM46.3 96.4h0.8v0.8h-0.8zM54.5 60.8h0.8v0.8h-0.8zM48.6 73.8h0.8v0.8h-0.8zM40.1 98.6h0.8v0.8h-0.8zM66.0 92.2h0.8v0.8h-0.8zM38.1 76.5h0.8v0.8h-0.8zM41.5 88.7h0.8v0.8h-0.8zM63.1 91.2h0.8v0.8h-0.8zM62.5 64.8h0.8v0.8h-0.8zM38.4 63.7h0.8v0.8h-0.8zM64.1 92.8h0.8v0.8h-0.8zM54.0 69.3h0.8v0.8h-0.8zM64.6 64.8h0.8v0.8h-0.8zM48.1 60.1h0.8v0.8h-0.8zM68.5 76.4h0.8v0.8h-0.8zM61.9 91.7h0.8v0.8h-0.8zM56.0 99.0h0.8v0.8h-0.8zM62.0 96.6h0.8v0.8h-0.8zM67.9 63.2h0.8v0.8h-0.8zM61.3 68.9h0.8v0.8h-0.8zM48.1 73.5h0.8v0.8h-0.8zM68.6 62.4h0.8v0.8h-0.8zM51.5 65.1h0.8v0.8h-0.8zM68.9 79.6h0.8v0.8h-0.8zM59.8 80.5h0.8v0.8h-0.8zM61.8 73.3h0.8v0.8h-0.8zM50.8 89.4h0.8v0.8h-0.8zM59.8 95.1h0.8v0.8h-0.8zM47.6 93.5h0.8v0.8h-0.8zM60.9 82.6h0.8v0.8h-0.8zM50.7 82.4h0.8v0.8h-0.8zM40.4 63.8h0.8v0.8h-0.8zM47.7 64.9h0.8v0.8h-0.8zM39.5 88.3h0.8v0.8h-0.8zM60.7 84.3h0.8v0.8h-0.8zM44.4 88.5h0.8v0.8h-0.8zM63.6 84.5h0.8v0.8h-0.8zM45.1 82.3h0.8v0.8h-0.8zM50.2 70.6h0.8v0.8h-0.8zM42.6 94.2h0.8v0.8h-0.8zM57.6 96.8h0.8v0.8h-0.8zM43.3 70.4h0.8v0.8h-0.8zM53.8 62.3h0.8v0.8h-0.8zM47.4 81.3h0.8v0.8h-0.8zM52.9 95.9h0.8v0.8h-0.8zM55.9 85.2h0.8v0.8h-0.8zM56.1 91.0h0.8v0.8h-0.8zM49.4 60.0h0.8v0.8h-0.8zM68.4 91.3h0.8v0.8h-0.8zM41.9 64.4h0.8v0.8h-0.8zM44.9 86.0h0.8v0.8h-0.8zM42.1 60.8h0.8v0.8h-0.8zM53.3 60.2h0.8v0.8h-0.8zM46.0 75.1h0.8v0.8h-0.8zM44.4 60.1h0.8v0.8h-0.8zM46.1 69.6h0.8v0.8h-0.8zM48.1 76.4h0.8v0.8h-0.8zM49.2 72.8h0.8v0.8h-0.8zM38.6 93.1h0.8v0.8h-0.8zM60.9 79.5h0.8v0.8h-0.8zM38.1 69.2h0.8v0.8h-0.8zM65.9 78.1h0.8v0.8h-0.8zM44.4 92.4h0.8v0.8h-0.8zM65.6 64.8h0.8v0.8h-0.8zM53.5 82.2h0.8v0.8h-0.8zM41.6 72.6h0.8v0.8h-0.8zM57.2 86.6h0.8v0.8h-0.8zM57.5 84.5h0.8v0.8h-0.8zM49.7 62.7h0.8v0.8h-0.8zM38.5 93.1h0.8v0.8h-0.8zM64.8 95.8h0.8v0.8h-0.8zM40.4 90.4h0.8v0.8h-0.8zM43.3 73.7h0.8v0.8h-0.8zM44.2 94.0h0.8v0.8h-0.8zM63.4 92.9h0.8v0.8h-0.8zM49.8 97.0h0.8v0.8h-0.8zM46.1 82.7h0.8v0.8h-0.8zM58.9 69.2h0.8v0.8h-0.8zM49.8 64.0h0.8v0.8h-0.8zM62.7 67.3h0.8v0.8h-0.8zM42.2 71.0h0.8v0.8h-0.8zM57.8 85.2h0.8v0.8h-0.8zM54.3 93.7h0.8v0.8h-0.8zM61.3 68.3h0.8v0.8h-0.8zM54.6 66.7h0.8v0.8h-0.8zM45.5 65.8h0.8v0.8h-0.8zM40.4 73.8h0.8v0.8h-0.8zM65.5 85.9h0.8v0.8h-0.8zM40.7 68.7h0.8v0.8h-0.8zM56.3 80.9h0.8v0.8h-0.8zM38.8 63.7h0.8v0.8h-0.8zM55.5 83.7h0.8v0.8h-0.8zM40.5 90.5h0.8v0.8h-0.8zM45.5 83.3h0.8v0.8h-0.8zM54.4 73.4h0.8v0.8h-0.8zM67.3 75.6h0.8v0.8h-0.8zM51.1 81.3h0.8v0.8h-0.8zM64.0 99.0h0.8v0.8h-0.8zM61.9 81.3h0.8v0.8h-0.8zM60.2 85.2h0.8v0.8h-0.8zM67.7 98.3h0.8v0.8h-0.8zM61.6 68.5h0.8v0.8h-0.8zM55.6 77.4h0.8v0.8h-0.8zM45.2 90.9h0.8v0.8h-0.8zM44.9 88.0h0.8v0.8h-0.8zM53.2 76.9h0.8v0.8h-0.8zM59.9 88.6h0.8v0.8h-0.8zM68.7 99.5h0.8v0.8h-0.8zM62.8 70.4h0.8v0.8h-0.8zM58.7 79.6h0.8v0.8h-0.8zM67.2 77.7h0.8v0.8h-0.8zM49.1 61.0h0.8v0.8h-0.8zM52.6 81.0h0.8v0.8h-0.8zM47.6 64.2h0.8v0.8h-0.8zM53.0 62.8h0.8v0.8h-0.8zM43.3 77.5h0.8v0.8h-0.8zM48.8 79.8h0.8v0.8h-0.8zM54.4 75.3h0.8v0.8h-0.8zM42.1 60.7h0.8v0.8h-0.8zM55.3 98.3h0.8v0.8h-0.8zM46.7 73.9h0.8v0.8h-0.8zM47.9 89.3h0.8v0.8h-0.8zM53.3 91.4h0.8v0.8h-0.8zM38.2 65.2h0.8v0.8h-0.8zM44.4 74.6h0.8v0.8h-0.8zM50.4 75.2h0.8v0.8h-0.8zM67.9 77.3h0.8v0.8h-0.8zM55.8 98.1h0.8v0.8h-0.8zM57.9 83.5h0.8v0.8h-0.8zM63.7 73.2h0.8v0.8h-0.8zM39.1 97.8h0.8v0.8h-0.8zM54.6 83.0h0.8v0.8h-0.8zM40.1 89.4h0.8v0.8h-0.8zM49.6 85.4h0.8v0.8h-0.8zM46.8 96.3h0.8v0.8h-0.8zM49.4 70.9h0.8v0.8h-0.8zM65.7 68.8h0.8v0.8h-0.8zM46.4 79.2h0.8v0.8h-0.8zM68.4 64.6h0.8v0.8h-0.8zM44.5 91.4h0.8v0.8h-0.8zM40.3 76.4h0.8v0.8h-0.8zM62.3 88.2h0.8v0.8h-0.8zM62.6 64.6h0.8v0.8h-0.8zM65.6 74.1h0.8v0.8h-0.8zM63.2 78.6h0.8v0.8h-0.8zM65.6 78.9h0.8v0.8h-0.8zM46.0 66.0h0.8v0.8h-0.8zM53.4 62.0h0.8v0.8h-0.8zM43.1 94.5h0.8v0.8h-0.8zM55.8 94.1h0.8v0.8h-0.8zM42.7 79.0h0.8v0.8h-0.8zM52.5 64.3h0.8v0.8h-0.8zM46.2 96.4h0.8v0.8h-0.8zM60.4 80.1h0.8v0.8h-0.8zM56.9 94.0h0.8v0.8h-0.8zM67.6 83.5h0.8v0.8h-0.8zM39.6 94.4h0.8v0.8h-0.8zM43.1 69.5h0.8v0.8h-0.8zM42.2 80.2h0.8v0.8h-0.8zM56.1 78.2h0.8v0.8h-0.8zM52.6 65.6h0.8v0.8h-0.8zM60.3 81.2h0.8v0.8h-0.8zM47.6 92.9h0.8v0.8h-0.8zM67.1 96.4h0.8v0.8h-0.8zM68.5 62.7h0.8v0.8h-0.8zM50.0 77.8h0.8v0.8h-0.8zM46.0 89.4h0.8v0.8h-0.8zM66.1 65.5h0.8v0.8h-0.8zM53.7 98.2h0.8v0.8h-0.8zM65.6 77.8h0.8v0.8h-0.8zM41.2 78.0h0.8v0.8h-0.8zM54.0 91.0h0.8v0.8h-0.8zM43.8 71.0h0.8v0.8h-0.8zM68.5 60.5h0.8v0.8h-0.8zM56.9 63.8h0.8v0.8h-0.8zM61.3 76.7h0.8v0.8h-0.8zM66.7 68.8h0.8v0.8h-0.8zM65.2 69.0h0.8v0.8h-0.8zM39.5 63.4h0.8v0.8h-0.8zM40.4 75.4h0.8v0.8h-0.8zM68.1 74.0h0.8v0.8h-0.8zM60.2 61.4h0.8v0.8h-0.8zM54.0 81.3h0.8v0.8h-0.8zM41.0 82.9h0.8v0.8h-0.8zM51.8 72.9h0.8v0.8h-0.8zM63.7 87.3h0.8v0.8h-0.8zM41.7 64.2h0.8v0.8h-0.8zM39.6 70.4h0.8v0.8h-0.8zM57.7 98.3h0.8v0.8h-0.8zM68.0 94.1h0.8v0.8h-0.8zM41.9 91.3h0.8v0.8h-0.8zM61.6 78.7h0.8v0.8h-0.8zM68.9 83.7h0.8v0.8h-0.8zM41.7 68.5h0.8v0.8h-0.8zM42.0 84.1h0.8v0.8h-0.8zM57.3 93.9h0.8v0.8h-0.8zM38.3 60.4h0.8v0.8h-0.8zM68.2 70.4h0.8v0.8h-0.8zM46.2 94.2h0.8v0.8h-0.8zM41.5 91.3h0.8v0.8h-0.8zM65.8 82.2h0.8v0.8h-0.8zM56.9 60.2h0.8v0.8h-0.8zM56.8 84.2h0.8v0.8h-0.8zM61.9 80.4h0.8v0.8h-0.8zM41.5 68.8h0.8v0.8h-0.8zM58.2 63.1h0.8v0.8h-0.8zM41.3 69.9h0.8v0.8h-0.8zM62.7 81.6h0.8v0.8h-0.8zM49.1 98.1h0.8v0.8h-0.8zM56.0 69.4h0.8v0.8h-0.8zM55.5 93.8h0.8v0.8h-0.8zM49.4 77.2h0.8v0.8h-0.8zM55.9 99.0h0.8v0.8h-0.8zM57.8 67.2h0.8v0.8h-0.8zM56.0 72.7h0.8v0.8h-0.8zM52.7 88.2h0.8v0.8h-0.8zM38.6 80.1h0.8v0.8h-0.8zM47.7 83.7h0.8v0.8h-0.8zM63.4 78.5h0.8v0.8h-0.8zM57.5 71.4h0.8v0.8h-0.8zM45.9 80.1h0.8v0.8h-0.8zM54.5 68.8h0.8v0.8h-0.8zM61.7 79.7h0.8v0.8h-0.8zM49.0 70.0h0.8v0.8h-0.8zM63.9 95.6h0.8v0.8h-0.8zM67.1 69.8h0.8v0.8h-0.8zM40.2 84.9h0.8v0.8h-0.8zM38.8 93.8h0.8v0.8h-0.8zM59.1 73.3h0.8v0.8h-0.8zM51.7 87.0h0.8v0.8h-0.8zM43.0 74.4h0.8v0.8h-0.8zM62.4 86.9h0.8v0.8h-0.8zM56.1 64.1h0.8v0.8h-0.8zM44.7 70.1h0.8v0.8h-0.8zM39.0 85.3h0.8v0.8h-0.8zM55.8 96.5h0.8v0.8h-0.8zM55.2 96.3h0.8v0.8h-0.8zM52.5 80.4h0.8v0.8h-0.8zM46.7 78.3h0.8v0.8h-0.8zM67.0 79.3h0.8v0.8h-0.8zM38.1 74.0h0.8v0.8h-0.8zM44.1 84.6h0.8v0.8h-0.8zM53.8 78.8h0.8v0.8h-0.8zM66.7 90.1h0.8v0.8h-0.8zM40.7 61.2h0.8v0.8h-0.8zM59.7 83.6h0.8v0.8h-0.8zM58.2 79.8h0.8v0.8h-0.8zM39.1 77.8h0.8v0.8h-0.8zM63.9 83.8h0.8v0.8h-0.8zM39.4 64.9h0.8v0.8h-0.8zM66.0 81.5h0.8v0.8h-0.8zM43.1 87.9h0.8v0.8h-0.8zM66.7 94.2h0.8v0.8h-0.8zM58.0 91.9h0.8v0.8h-0.8zM40.7 78.3h0.8v0.8h-0.8zM63.1 73.5h0.8v0.8h-0.8zM42.5 94.2h0.8v0.8h-0.8zM59.8 60.3h0.8v0.8h-0.8zM40.0 82.0h0.8v0.8h-0.8zM67.6 84.4h0.8v0.8h-0.8zM65.2 64.2h0.8v0.8h-0.8zM55.9 67.2h0.8v0.8h-0.8zM48.3 65.9h0.8v0.8h-0.8zM52.4 61.8h0.8v0.8h-0.8zM58.4 85.5h0.8v0.8h-0.8z" fill="#2640e4" fill-opacity="0.5"/>
<path d="M22.0 80.0 L30.0 74.0 L42.0 65.0 L50.0 61.5 L53.0 64.0 L46.0 71.0 L36.0 79.0 L28.0 85.0 L22.0 86.0Z" fill="#3a62e0" fill-opacity="0.55" filter="url(#bl14)"/>
<path d="M24.0 82.0 L33.0 76.0 L44.0 67.0 L50.0 64.0 L45.0 70.0 L35.0 78.0 L26.0 84.0Z" fill="#2a4ed8" fill-opacity="0.45" filter="url(#bl10)"/>
<path d="M46.9 65.5h0.8v0.8h-0.8zM41.0 60.4h0.8v0.8h-0.8zM43.5 72.4h0.8v0.8h-0.8zM38.8 73.8h0.8v0.8h-0.8zM43.5 72.6h0.8v0.8h-0.8zM34.0 74.8h0.8v0.8h-0.8zM43.4 72.9h0.8v0.8h-0.8zM50.0 63.9h0.8v0.8h-0.8zM38.8 72.7h0.8v0.8h-0.8zM23.8 78.4h0.8v0.8h-0.8zM38.6 74.7h0.8v0.8h-0.8zM29.0 76.7h0.8v0.8h-0.8zM40.0 68.1h0.8v0.8h-0.8zM40.1 78.1h0.8v0.8h-0.8zM47.8 67.0h0.8v0.8h-0.8zM47.0 64.8h0.8v0.8h-0.8zM40.6 68.3h0.8v0.8h-0.8zM35.9 72.4h0.8v0.8h-0.8zM37.7 79.1h0.8v0.8h-0.8zM39.3 67.0h0.8v0.8h-0.8zM32.5 73.6h0.8v0.8h-0.8zM37.7 72.4h0.8v0.8h-0.8zM48.7 61.4h0.8v0.8h-0.8zM30.7 75.6h0.8v0.8h-0.8zM39.5 73.2h0.8v0.8h-0.8zM35.8 76.7h0.8v0.8h-0.8zM49.3 69.3h0.8v0.8h-0.8zM39.9 67.3h0.8v0.8h-0.8zM45.3 63.9h0.8v0.8h-0.8zM24.0 82.2h0.8v0.8h-0.8zM27.2 79.2h0.8v0.8h-0.8zM37.4 74.8h0.8v0.8h-0.8zM37.9 70.6h0.8v0.8h-0.8zM46.1 73.5h0.8v0.8h-0.8zM35.8 62.8h0.8v0.8h-0.8zM41.2 65.5h0.8v0.8h-0.8zM35.6 76.5h0.8v0.8h-0.8zM32.6 78.6h0.8v0.8h-0.8zM28.5 81.1h0.8v0.8h-0.8zM34.5 75.9h0.8v0.8h-0.8zM35.6 71.6h0.8v0.8h-0.8zM36.7 72.1h0.8v0.8h-0.8zM45.5 70.1h0.8v0.8h-0.8zM51.8 70.1h0.8v0.8h-0.8zM29.2 81.6h0.8v0.8h-0.8zM41.9 64.9h0.8v0.8h-0.8zM33.7 78.4h0.8v0.8h-0.8zM26.2 77.4h0.8v0.8h-0.8zM38.9 71.2h0.8v0.8h-0.8zM31.2 73.7h0.8v0.8h-0.8zM39.2 70.5h0.8v0.8h-0.8zM30.2 73.5h0.8v0.8h-0.8zM33.2 71.2h0.8v0.8h-0.8zM29.7 79.4h0.8v0.8h-0.8zM45.5 64.7h0.8v0.8h-0.8zM32.5 80.1h0.8v0.8h-0.8zM43.2 65.4h0.8v0.8h-0.8zM37.4 70.6h0.8v0.8h-0.8zM47.4 67.4h0.8v0.8h-0.8zM25.3 80.3h0.8v0.8h-0.8zM38.5 75.2h0.8v0.8h-0.8zM25.9 81.5h0.8v0.8h-0.8zM46.9 63.8h0.8v0.8h-0.8zM31.3 87.2h0.8v0.8h-0.8zM36.9 69.0h0.8v0.8h-0.8zM26.8 79.3h0.8v0.8h-0.8zM42.0 74.3h0.8v0.8h-0.8zM40.5 71.3h0.8v0.8h-0.8zM40.6 75.8h0.8v0.8h-0.8zM33.1 69.1h0.8v0.8h-0.8zM33.7 77.1h0.8v0.8h-0.8zM41.0 71.2h0.8v0.8h-0.8zM22.9 77.7h0.8v0.8h-0.8zM32.2 72.3h0.8v0.8h-0.8zM45.2 65.6h0.8v0.8h-0.8zM36.0 79.7h0.8v0.8h-0.8zM37.2 68.9h0.8v0.8h-0.8zM25.0 81.1h0.8v0.8h-0.8zM26.3 82.9h0.8v0.8h-0.8zM42.2 74.3h0.8v0.8h-0.8zM45.6 64.9h0.8v0.8h-0.8zM25.9 82.9h0.8v0.8h-0.8zM27.9 82.6h0.8v0.8h-0.8zM44.7 69.7h0.8v0.8h-0.8zM45.4 64.1h0.8v0.8h-0.8zM35.8 78.5h0.8v0.8h-0.8zM31.5 72.3h0.8v0.8h-0.8zM47.9 61.6h0.8v0.8h-0.8zM40.0 63.8h0.8v0.8h-0.8zM41.6 66.2h0.8v0.8h-0.8zM24.5 81.4h0.8v0.8h-0.8zM49.7 71.2h0.8v0.8h-0.8zM43.5 68.6h0.8v0.8h-0.8zM34.2 64.3h0.8v0.8h-0.8zM34.4 74.5h0.8v0.8h-0.8zM23.6 78.1h0.8v0.8h-0.8zM31.7 72.9h0.8v0.8h-0.8zM38.9 76.6h0.8v0.8h-0.8zM44.8 71.4h0.8v0.8h-0.8zM29.6 77.0h0.8v0.8h-0.8zM31.1 73.1h0.8v0.8h-0.8zM36.8 74.6h0.8v0.8h-0.8zM39.1 67.9h0.8v0.8h-0.8zM49.0 64.8h0.8v0.8h-0.8zM26.4 81.1h0.8v0.8h-0.8zM44.9 65.8h0.8v0.8h-0.8zM30.4 84.1h0.8v0.8h-0.8zM37.5 75.4h0.8v0.8h-0.8zM43.3 73.0h0.8v0.8h-0.8zM30.7 77.7h0.8v0.8h-0.8zM28.8 78.7h0.8v0.8h-0.8zM46.7 69.4h0.8v0.8h-0.8zM46.1 68.2h0.8v0.8h-0.8zM44.6 66.7h0.8v0.8h-0.8zM38.8 73.7h0.8v0.8h-0.8zM46.8 70.0h0.8v0.8h-0.8zM29.9 69.6h0.8v0.8h-0.8zM48.4 65.1h0.8v0.8h-0.8zM42.6 67.1h0.8v0.8h-0.8zM36.0 76.8h0.8v0.8h-0.8zM41.5 75.9h0.8v0.8h-0.8zM31.2 82.0h0.8v0.8h-0.8zM27.8 78.5h0.8v0.8h-0.8zM27.8 77.0h0.8v0.8h-0.8zM44.5 65.2h0.8v0.8h-0.8zM35.6 71.3h0.8v0.8h-0.8zM40.0 66.4h0.8v0.8h-0.8zM32.0 75.6h0.8v0.8h-0.8zM39.8 68.1h0.8v0.8h-0.8zM36.0 72.5h0.8v0.8h-0.8zM39.0 72.1h0.8v0.8h-0.8zM31.2 81.1h0.8v0.8h-0.8zM29.3 74.4h0.8v0.8h-0.8zM46.4 63.0h0.8v0.8h-0.8zM40.2 72.1h0.8v0.8h-0.8zM43.9 75.5h0.8v0.8h-0.8zM42.6 65.9h0.8v0.8h-0.8zM26.6 82.3h0.8v0.8h-0.8zM35.3 68.9h0.8v0.8h-0.8zM50.7 67.0h0.8v0.8h-0.8zM30.5 71.2h0.8v0.8h-0.8zM32.2 78.8h0.8v0.8h-0.8zM37.7 66.5h0.8v0.8h-0.8zM43.0 73.4h0.8v0.8h-0.8zM36.8 73.7h0.8v0.8h-0.8zM48.4 72.1h0.8v0.8h-0.8zM28.8 72.3h0.8v0.8h-0.8zM37.5 76.5h0.8v0.8h-0.8zM24.3 81.4h0.8v0.8h-0.8zM47.8 66.8h0.8v0.8h-0.8z" fill="#1898f0" fill-opacity="0.5"/>
<path d="M64.8 40.1h0.8v0.8h-0.8zM51.7 40.4h0.8v0.8h-0.8zM59.1 39.6h0.8v0.8h-0.8zM65.8 38.9h0.8v0.8h-0.8zM53.6 42.9h0.8v0.8h-0.8zM54.2 41.1h0.8v0.8h-0.8zM54.2 36.0h0.8v0.8h-0.8zM65.7 36.0h0.8v0.8h-0.8zM57.2 45.2h0.8v0.8h-0.8zM63.3 43.4h0.8v0.8h-0.8zM63.7 44.7h0.8v0.8h-0.8zM52.7 38.1h0.8v0.8h-0.8zM52.1 37.9h0.8v0.8h-0.8zM64.3 36.8h0.8v0.8h-0.8zM68.7 40.0h0.8v0.8h-0.8zM57.2 43.5h0.8v0.8h-0.8zM60.8 38.3h0.8v0.8h-0.8zM62.5 40.6h0.8v0.8h-0.8zM60.3 40.4h0.8v0.8h-0.8zM54.2 41.9h0.8v0.8h-0.8zM67.0 40.9h0.8v0.8h-0.8zM63.5 38.7h0.8v0.8h-0.8zM54.6 45.2h0.8v0.8h-0.8zM67.0 43.8h0.8v0.8h-0.8zM65.8 41.1h0.8v0.8h-0.8zM61.6 41.2h0.8v0.8h-0.8zM62.4 41.3h0.8v0.8h-0.8zM65.3 41.0h0.8v0.8h-0.8zM59.9 39.8h0.8v0.8h-0.8zM57.6 42.5h0.8v0.8h-0.8zM67.7 37.8h0.8v0.8h-0.8zM61.6 40.2h0.8v0.8h-0.8zM64.2 41.8h0.8v0.8h-0.8zM54.1 38.8h0.8v0.8h-0.8zM58.7 40.6h0.8v0.8h-0.8zM58.2 37.5h0.8v0.8h-0.8zM52.7 35.5h0.8v0.8h-0.8zM67.1 42.9h0.8v0.8h-0.8zM67.8 36.4h0.8v0.8h-0.8zM55.4 40.5h0.8v0.8h-0.8zM54.8 42.0h0.8v0.8h-0.8zM64.8 38.3h0.8v0.8h-0.8zM53.4 37.3h0.8v0.8h-0.8zM69.6 39.0h0.8v0.8h-0.8zM69.5 37.3h0.8v0.8h-0.8zM54.2 40.7h0.8v0.8h-0.8zM66.1 41.3h0.8v0.8h-0.8zM64.4 41.3h0.8v0.8h-0.8zM52.3 41.5h0.8v0.8h-0.8zM58.1 42.4h0.8v0.8h-0.8zM58.7 40.8h0.8v0.8h-0.8zM66.9 37.8h0.8v0.8h-0.8zM52.5 40.1h0.8v0.8h-0.8zM57.8 41.3h0.8v0.8h-0.8zM67.0 42.7h0.8v0.8h-0.8zM57.1 38.8h0.8v0.8h-0.8zM65.3 38.8h0.8v0.8h-0.8zM53.4 36.2h0.8v0.8h-0.8zM58.5 39.1h0.8v0.8h-0.8zM61.9 37.4h0.8v0.8h-0.8zM52.2 38.1h0.8v0.8h-0.8zM55.5 43.7h0.8v0.8h-0.8zM69.3 37.3h0.8v0.8h-0.8zM66.5 40.1h0.8v0.8h-0.8zM54.9 42.1h0.8v0.8h-0.8zM53.0 38.5h0.8v0.8h-0.8zM67.1 36.2h0.8v0.8h-0.8zM56.1 39.1h0.8v0.8h-0.8zM63.9 39.7h0.8v0.8h-0.8zM64.5 38.4h0.8v0.8h-0.8zM64.4 39.0h0.8v0.8h-0.8zM51.3 41.1h0.8v0.8h-0.8zM54.2 38.4h0.8v0.8h-0.8zM61.8 38.9h0.8v0.8h-0.8zM68.6 41.3h0.8v0.8h-0.8zM54.6 42.2h0.8v0.8h-0.8zM68.5 33.8h0.8v0.8h-0.8zM51.8 41.8h0.8v0.8h-0.8zM54.0 40.2h0.8v0.8h-0.8zM62.7 42.2h0.8v0.8h-0.8zM65.1 38.0h0.8v0.8h-0.8zM52.2 36.2h0.8v0.8h-0.8zM60.1 41.7h0.8v0.8h-0.8zM64.8 37.3h0.8v0.8h-0.8zM58.8 40.8h0.8v0.8h-0.8zM60.0 39.9h0.8v0.8h-0.8zM67.3 38.4h0.8v0.8h-0.8zM67.1 41.3h0.8v0.8h-0.8zM54.2 42.0h0.8v0.8h-0.8zM52.1 43.8h0.8v0.8h-0.8zM65.1 36.1h0.8v0.8h-0.8zM60.3 40.7h0.8v0.8h-0.8zM66.9 37.6h0.8v0.8h-0.8zM60.7 38.5h0.8v0.8h-0.8zM69.1 37.5h0.8v0.8h-0.8zM55.3 41.8h0.8v0.8h-0.8zM54.7 42.8h0.8v0.8h-0.8zM62.1 39.3h0.8v0.8h-0.8zM52.3 42.8h0.8v0.8h-0.8zM58.8 36.3h0.8v0.8h-0.8zM64.8 38.9h0.8v0.8h-0.8zM68.2 38.6h0.8v0.8h-0.8zM63.5 42.0h0.8v0.8h-0.8zM70.2 40.4h0.8v0.8h-0.8zM61.0 42.5h0.8v0.8h-0.8zM64.3 41.0h0.8v0.8h-0.8zM64.8 37.8h0.8v0.8h-0.8zM57.6 40.1h0.8v0.8h-0.8zM58.9 37.0h0.8v0.8h-0.8zM54.4 39.1h0.8v0.8h-0.8zM62.8 41.7h0.8v0.8h-0.8zM69.4 39.7h0.8v0.8h-0.8zM61.1 40.8h0.8v0.8h-0.8zM58.8 43.2h0.8v0.8h-0.8zM58.6 40.4h0.8v0.8h-0.8zM53.0 39.8h0.8v0.8h-0.8zM65.5 40.4h0.8v0.8h-0.8zM58.7 44.0h0.8v0.8h-0.8zM58.5 40.0h0.8v0.8h-0.8zM65.6 38.3h0.8v0.8h-0.8zM64.6 39.7h0.8v0.8h-0.8zM64.1 40.8h0.8v0.8h-0.8zM64.4 39.4h0.8v0.8h-0.8zM66.8 37.4h0.8v0.8h-0.8zM68.4 37.2h0.8v0.8h-0.8zM63.8 40.0h0.8v0.8h-0.8zM53.4 38.1h0.8v0.8h-0.8zM55.9 42.0h0.8v0.8h-0.8zM58.9 37.1h0.8v0.8h-0.8zM56.4 40.2h0.8v0.8h-0.8zM58.1 43.1h0.8v0.8h-0.8zM70.0 36.7h0.8v0.8h-0.8zM66.7 37.6h0.8v0.8h-0.8zM69.6 37.2h0.8v0.8h-0.8zM62.0 41.9h0.8v0.8h-0.8zM62.1 37.4h0.8v0.8h-0.8zM52.6 42.8h0.8v0.8h-0.8zM62.3 38.6h0.8v0.8h-0.8zM55.1 39.9h0.8v0.8h-0.8zM52.1 37.0h0.8v0.8h-0.8zM65.8 38.4h0.8v0.8h-0.8zM69.2 43.0h0.8v0.8h-0.8zM59.0 38.4h0.8v0.8h-0.8zM62.6 39.7h0.8v0.8h-0.8zM62.3 38.7h0.8v0.8h-0.8zM57.5 36.4h0.8v0.8h-0.8zM68.9 38.1h0.8v0.8h-0.8zM56.4 41.8h0.8v0.8h-0.8zM66.0 38.2h0.8v0.8h-0.8zM55.4 41.8h0.8v0.8h-0.8zM61.0 40.5h0.8v0.8h-0.8zM54.5 42.6h0.8v0.8h-0.8zM61.3 39.1h0.8v0.8h-0.8zM52.7 36.8h0.8v0.8h-0.8zM66.1 41.8h0.8v0.8h-0.8zM66.5 38.9h0.8v0.8h-0.8zM60.8 37.4h0.8v0.8h-0.8zM64.9 40.5h0.8v0.8h-0.8zM56.8 41.1h0.8v0.8h-0.8zM62.4 41.3h0.8v0.8h-0.8zM55.2 39.6h0.8v0.8h-0.8zM65.2 40.0h0.8v0.8h-0.8zM53.2 42.5h0.8v0.8h-0.8zM58.5 38.5h0.8v0.8h-0.8zM69.4 41.0h0.8v0.8h-0.8zM54.2 42.6h0.8v0.8h-0.8zM65.7 39.5h0.8v0.8h-0.8zM67.2 39.2h0.8v0.8h-0.8zM62.7 34.3h0.8v0.8h-0.8zM67.3 42.1h0.8v0.8h-0.8zM59.5 46.4h0.8v0.8h-0.8zM65.7 42.5h0.8v0.8h-0.8zM61.0 35.6h0.8v0.8h-0.8zM64.1 41.4h0.8v0.8h-0.8zM61.9 37.9h0.8v0.8h-0.8zM62.0 41.0h0.8v0.8h-0.8zM65.2 37.9h0.8v0.8h-0.8zM67.9 38.4h0.8v0.8h-0.8zM61.4 39.3h0.8v0.8h-0.8zM65.9 39.0h0.8v0.8h-0.8zM67.9 36.0h0.8v0.8h-0.8zM70.2 41.1h0.8v0.8h-0.8zM59.2 39.4h0.8v0.8h-0.8zM63.0 42.4h0.8v0.8h-0.8zM61.6 38.7h0.8v0.8h-0.8zM67.8 38.0h0.8v0.8h-0.8zM57.6 40.2h0.8v0.8h-0.8zM68.1 36.7h0.8v0.8h-0.8zM65.4 40.2h0.8v0.8h-0.8zM61.7 39.3h0.8v0.8h-0.8zM65.1 38.2h0.8v0.8h-0.8zM65.4 36.3h0.8v0.8h-0.8zM59.3 41.6h0.8v0.8h-0.8zM57.7 37.3h0.8v0.8h-0.8zM59.6 40.5h0.8v0.8h-0.8zM65.5 41.1h0.8v0.8h-0.8zM55.3 39.5h0.8v0.8h-0.8zM56.2 44.1h0.8v0.8h-0.8zM64.6 37.5h0.8v0.8h-0.8zM58.1 39.9h0.8v0.8h-0.8zM63.1 39.2h0.8v0.8h-0.8zM66.0 36.9h0.8v0.8h-0.8zM51.4 40.1h0.8v0.8h-0.8zM62.5 38.5h0.8v0.8h-0.8zM69.5 40.3h0.8v0.8h-0.8zM64.9 37.9h0.8v0.8h-0.8zM58.7 38.6h0.8v0.8h-0.8zM58.0 43.1h0.8v0.8h-0.8zM55.5 40.8h0.8v0.8h-0.8zM56.3 41.0h0.8v0.8h-0.8zM58.1 41.2h0.8v0.8h-0.8zM66.0 40.7h0.8v0.8h-0.8zM66.0 43.3h0.8v0.8h-0.8zM60.2 39.3h0.8v0.8h-0.8zM57.0 43.0h0.8v0.8h-0.8zM61.2 37.2h0.8v0.8h-0.8zM62.7 36.9h0.8v0.8h-0.8zM66.1 41.3h0.8v0.8h-0.8zM60.7 37.8h0.8v0.8h-0.8zM54.7 43.0h0.8v0.8h-0.8zM62.4 39.3h0.8v0.8h-0.8zM63.9 39.2h0.8v0.8h-0.8zM57.4 41.7h0.8v0.8h-0.8zM65.9 38.2h0.8v0.8h-0.8zM56.3 37.0h0.8v0.8h-0.8zM56.3 40.4h0.8v0.8h-0.8zM62.0 40.5h0.8v0.8h-0.8zM65.7 38.6h0.8v0.8h-0.8zM56.5 41.5h0.8v0.8h-0.8zM61.0 39.3h0.8v0.8h-0.8zM61.9 41.6h0.8v0.8h-0.8zM61.3 40.4h0.8v0.8h-0.8zM70.0 39.1h0.8v0.8h-0.8zM61.3 37.8h0.8v0.8h-0.8zM69.0 38.1h0.8v0.8h-0.8zM52.8 38.6h0.8v0.8h-0.8zM53.9 41.6h0.8v0.8h-0.8zM64.0 36.7h0.8v0.8h-0.8zM59.9 41.5h0.8v0.8h-0.8zM55.3 42.1h0.8v0.8h-0.8zM60.7 38.9h0.8v0.8h-0.8zM54.4 40.4h0.8v0.8h-0.8zM60.8 42.1h0.8v0.8h-0.8zM68.6 42.5h0.8v0.8h-0.8zM70.0 39.1h0.8v0.8h-0.8zM68.0 41.1h0.8v0.8h-0.8zM67.5 41.1h0.8v0.8h-0.8zM53.2 41.7h0.8v0.8h-0.8zM60.5 39.2h0.8v0.8h-0.8zM61.0 40.7h0.8v0.8h-0.8zM61.2 44.2h0.8v0.8h-0.8zM52.7 41.4h0.8v0.8h-0.8zM57.9 36.8h0.8v0.8h-0.8zM69.4 36.5h0.8v0.8h-0.8zM64.9 37.3h0.8v0.8h-0.8zM50.5 39.5h0.8v0.8h-0.8zM52.8 41.0h0.8v0.8h-0.8zM69.8 34.4h0.8v0.8h-0.8zM53.9 39.2h0.8v0.8h-0.8zM67.8 42.6h0.8v0.8h-0.8z" fill="#2a50f0" fill-opacity="0.6"/>
<path d="M54.0 38.5 L71.0 37.5 L71.0 41.5 L54.0 42.0Z" fill="#3a70f0" fill-opacity="0.6" filter="url(#bl10)"/>
<path d="M53.6 43.8h0.7v0.7h-0.7zM58.9 48.1h0.7v0.7h-0.7zM50.8 48.4h0.7v0.7h-0.7zM27.8 51.6h0.7v0.7h-0.7zM52.7 29.5h0.7v0.7h-0.7zM29.7 43.7h0.7v0.7h-0.7zM36.1 51.4h0.7v0.7h-0.7zM34.8 39.6h0.7v0.7h-0.7zM45.2 51.4h0.7v0.7h-0.7zM36.0 50.2h0.7v0.7h-0.7zM55.3 41.8h0.7v0.7h-0.7zM65.5 50.0h0.7v0.7h-0.7zM56.5 41.2h0.7v0.7h-0.7zM24.0 32.7h0.7v0.7h-0.7zM51.9 30.0h0.7v0.7h-0.7zM51.6 36.0h0.7v0.7h-0.7zM39.8 48.4h0.7v0.7h-0.7zM60.7 46.4h0.7v0.7h-0.7zM42.5 40.9h0.7v0.7h-0.7zM67.3 51.1h0.7v0.7h-0.7zM50.0 29.1h0.7v0.7h-0.7zM63.5 28.2h0.7v0.7h-0.7zM27.4 44.1h0.7v0.7h-0.7zM31.0 46.6h0.7v0.7h-0.7zM53.6 31.3h0.7v0.7h-0.7zM63.8 53.0h0.7v0.7h-0.7zM52.2 52.5h0.7v0.7h-0.7zM58.9 39.3h0.7v0.7h-0.7zM59.9 51.4h0.7v0.7h-0.7zM54.0 29.2h0.7v0.7h-0.7z" fill="#6070f0" fill-opacity="0.4"/>
<path d="M84.2 83.1h0.8v0.8h-0.8zM77.1 90.4h0.8v0.8h-0.8zM90.4 72.1h0.8v0.8h-0.8zM72.2 92.9h0.8v0.8h-0.8zM93.2 79.0h0.8v0.8h-0.8zM87.6 81.1h0.8v0.8h-0.8zM98.2 65.5h0.8v0.8h-0.8zM85.4 79.6h0.8v0.8h-0.8zM91.0 84.3h0.8v0.8h-0.8zM79.7 84.9h0.8v0.8h-0.8zM84.5 80.1h0.8v0.8h-0.8zM71.1 69.2h0.8v0.8h-0.8zM98.4 75.2h0.8v0.8h-0.8zM93.3 59.3h0.8v0.8h-0.8zM91.6 74.8h0.8v0.8h-0.8zM96.7 69.0h0.8v0.8h-0.8zM87.4 80.3h0.8v0.8h-0.8zM74.0 77.1h0.8v0.8h-0.8zM86.7 85.9h0.8v0.8h-0.8zM91.2 83.7h0.8v0.8h-0.8zM83.7 65.3h0.8v0.8h-0.8zM89.4 72.2h0.8v0.8h-0.8zM87.7 57.1h0.8v0.8h-0.8zM92.0 61.6h0.8v0.8h-0.8zM90.4 68.1h0.8v0.8h-0.8zM77.5 89.3h0.8v0.8h-0.8zM80.3 98.0h0.8v0.8h-0.8zM84.3 83.4h0.8v0.8h-0.8zM81.2 84.7h0.8v0.8h-0.8zM97.6 64.9h0.8v0.8h-0.8zM99.1 62.9h0.8v0.8h-0.8zM75.8 83.3h0.8v0.8h-0.8zM84.0 96.6h0.8v0.8h-0.8zM78.8 83.1h0.8v0.8h-0.8zM79.6 80.0h0.8v0.8h-0.8zM94.3 62.7h0.8v0.8h-0.8zM84.2 81.0h0.8v0.8h-0.8zM82.2 98.2h0.8v0.8h-0.8zM91.1 61.9h0.8v0.8h-0.8zM92.1 72.4h0.8v0.8h-0.8zM87.3 78.5h0.8v0.8h-0.8zM76.5 86.8h0.8v0.8h-0.8zM96.9 65.3h0.8v0.8h-0.8zM71.6 91.0h0.8v0.8h-0.8zM96.0 64.9h0.8v0.8h-0.8zM84.7 93.1h0.8v0.8h-0.8zM76.4 82.0h0.8v0.8h-0.8zM96.2 61.7h0.8v0.8h-0.8zM73.8 74.6h0.8v0.8h-0.8zM85.4 70.9h0.8v0.8h-0.8zM84.7 87.5h0.8v0.8h-0.8zM91.0 61.2h0.8v0.8h-0.8zM83.9 68.0h0.8v0.8h-0.8zM80.8 95.9h0.8v0.8h-0.8zM90.2 66.4h0.8v0.8h-0.8zM72.3 98.9h0.8v0.8h-0.8zM82.4 93.9h0.8v0.8h-0.8zM79.2 82.3h0.8v0.8h-0.8zM97.7 77.9h0.8v0.8h-0.8zM80.5 94.0h0.8v0.8h-0.8zM98.5 64.9h0.8v0.8h-0.8zM88.5 70.9h0.8v0.8h-0.8zM93.7 68.8h0.8v0.8h-0.8zM84.3 84.0h0.8v0.8h-0.8zM81.6 98.0h0.8v0.8h-0.8zM88.5 87.3h0.8v0.8h-0.8zM89.6 89.1h0.8v0.8h-0.8zM83.3 81.7h0.8v0.8h-0.8zM81.1 82.4h0.8v0.8h-0.8zM89.4 63.3h0.8v0.8h-0.8zM84.1 75.9h0.8v0.8h-0.8zM85.9 63.0h0.8v0.8h-0.8zM81.8 94.3h0.8v0.8h-0.8zM85.1 66.0h0.8v0.8h-0.8zM93.2 59.8h0.8v0.8h-0.8zM78.8 79.5h0.8v0.8h-0.8zM83.0 71.4h0.8v0.8h-0.8zM93.3 65.5h0.8v0.8h-0.8zM96.4 68.3h0.8v0.8h-0.8zM88.6 86.0h0.8v0.8h-0.8zM84.8 83.1h0.8v0.8h-0.8zM79.7 78.8h0.8v0.8h-0.8zM78.2 99.0h0.8v0.8h-0.8zM92.7 79.5h0.8v0.8h-0.8zM90.3 73.6h0.8v0.8h-0.8zM84.5 88.4h0.8v0.8h-0.8zM91.2 66.1h0.8v0.8h-0.8zM82.3 71.8h0.8v0.8h-0.8zM75.5 82.1h0.8v0.8h-0.8zM73.3 89.2h0.8v0.8h-0.8zM83.3 81.5h0.8v0.8h-0.8zM81.4 77.0h0.8v0.8h-0.8zM90.7 71.9h0.8v0.8h-0.8zM84.9 79.3h0.8v0.8h-0.8zM91.1 64.4h0.8v0.8h-0.8zM79.0 79.9h0.8v0.8h-0.8zM89.9 84.4h0.8v0.8h-0.8zM82.9 94.9h0.8v0.8h-0.8zM76.3 92.6h0.8v0.8h-0.8zM89.0 82.0h0.8v0.8h-0.8zM72.4 90.5h0.8v0.8h-0.8zM75.4 97.1h0.8v0.8h-0.8zM84.6 69.1h0.8v0.8h-0.8zM90.7 89.5h0.8v0.8h-0.8zM76.3 76.0h0.8v0.8h-0.8zM94.4 87.4h0.8v0.8h-0.8zM80.0 76.7h0.8v0.8h-0.8zM89.6 58.5h0.8v0.8h-0.8zM93.9 65.2h0.8v0.8h-0.8zM90.7 84.3h0.8v0.8h-0.8zM95.6 62.9h0.8v0.8h-0.8zM87.6 68.2h0.8v0.8h-0.8zM91.2 57.4h0.8v0.8h-0.8zM84.9 82.3h0.8v0.8h-0.8zM82.5 82.6h0.8v0.8h-0.8zM74.3 77.1h0.8v0.8h-0.8zM98.9 62.6h0.8v0.8h-0.8zM85.5 68.8h0.8v0.8h-0.8zM91.2 76.7h0.8v0.8h-0.8zM86.9 68.7h0.8v0.8h-0.8zM81.1 98.5h0.8v0.8h-0.8zM84.2 80.4h0.8v0.8h-0.8zM84.9 98.9h0.8v0.8h-0.8zM96.1 60.1h0.8v0.8h-0.8zM93.1 70.0h0.8v0.8h-0.8zM92.4 58.3h0.8v0.8h-0.8zM77.9 73.9h0.8v0.8h-0.8zM86.7 57.1h0.8v0.8h-0.8zM97.2 64.8h0.8v0.8h-0.8zM79.4 86.4h0.8v0.8h-0.8zM72.9 94.2h0.8v0.8h-0.8zM80.1 87.9h0.8v0.8h-0.8zM74.9 96.4h0.8v0.8h-0.8zM82.6 81.7h0.8v0.8h-0.8zM83.6 94.2h0.8v0.8h-0.8zM78.9 90.2h0.8v0.8h-0.8zM91.0 60.0h0.8v0.8h-0.8zM84.6 66.6h0.8v0.8h-0.8zM80.4 70.5h0.8v0.8h-0.8zM82.0 58.0h0.8v0.8h-0.8zM80.1 92.5h0.8v0.8h-0.8zM82.1 95.0h0.8v0.8h-0.8zM84.6 81.7h0.8v0.8h-0.8zM85.6 80.2h0.8v0.8h-0.8zM79.1 84.8h0.8v0.8h-0.8zM90.8 79.9h0.8v0.8h-0.8zM84.4 62.0h0.8v0.8h-0.8zM84.7 98.0h0.8v0.8h-0.8zM87.9 70.8h0.8v0.8h-0.8zM91.8 85.3h0.8v0.8h-0.8zM97.8 72.1h0.8v0.8h-0.8zM87.4 91.8h0.8v0.8h-0.8zM88.4 86.8h0.8v0.8h-0.8zM87.3 67.0h0.8v0.8h-0.8zM79.5 89.9h0.8v0.8h-0.8zM73.7 77.8h0.8v0.8h-0.8zM83.9 91.4h0.8v0.8h-0.8zM87.3 59.7h0.8v0.8h-0.8zM90.4 65.6h0.8v0.8h-0.8zM87.5 77.7h0.8v0.8h-0.8zM94.2 75.8h0.8v0.8h-0.8zM74.1 91.5h0.8v0.8h-0.8zM75.5 93.8h0.8v0.8h-0.8zM94.4 70.5h0.8v0.8h-0.8zM89.4 74.6h0.8v0.8h-0.8zM84.6 73.2h0.8v0.8h-0.8zM76.7 91.5h0.8v0.8h-0.8zM86.7 71.4h0.8v0.8h-0.8zM100.2 72.3h0.8v0.8h-0.8zM86.7 63.4h0.8v0.8h-0.8zM71.3 89.5h0.8v0.8h-0.8zM75.6 72.7h0.8v0.8h-0.8zM71.8 95.8h0.8v0.8h-0.8zM73.3 95.5h0.8v0.8h-0.8zM88.5 60.9h0.8v0.8h-0.8zM79.9 89.2h0.8v0.8h-0.8zM71.6 87.9h0.8v0.8h-0.8zM74.3 88.1h0.8v0.8h-0.8zM79.3 83.5h0.8v0.8h-0.8zM84.8 69.0h0.8v0.8h-0.8zM93.4 62.2h0.8v0.8h-0.8zM96.4 74.4h0.8v0.8h-0.8zM84.8 73.0h0.8v0.8h-0.8zM78.5 94.8h0.8v0.8h-0.8zM80.7 96.3h0.8v0.8h-0.8zM91.3 59.5h0.8v0.8h-0.8zM73.4 78.9h0.8v0.8h-0.8zM80.7 88.7h0.8v0.8h-0.8zM93.1 68.4h0.8v0.8h-0.8zM81.4 79.5h0.8v0.8h-0.8zM94.3 91.6h0.8v0.8h-0.8zM86.7 77.2h0.8v0.8h-0.8zM88.4 60.4h0.8v0.8h-0.8zM82.8 69.4h0.8v0.8h-0.8zM80.6 90.4h0.8v0.8h-0.8zM79.4 88.5h0.8v0.8h-0.8zM77.1 98.8h0.8v0.8h-0.8zM90.7 80.0h0.8v0.8h-0.8zM92.2 59.9h0.8v0.8h-0.8zM79.0 73.7h0.8v0.8h-0.8zM84.6 80.9h0.8v0.8h-0.8zM88.2 87.9h0.8v0.8h-0.8zM82.2 75.7h0.8v0.8h-0.8zM80.4 83.0h0.8v0.8h-0.8zM85.0 69.8h0.8v0.8h-0.8zM77.1 88.3h0.8v0.8h-0.8zM79.9 90.8h0.8v0.8h-0.8zM96.2 60.5h0.8v0.8h-0.8zM73.4 77.1h0.8v0.8h-0.8zM82.4 85.0h0.8v0.8h-0.8zM78.5 93.8h0.8v0.8h-0.8zM82.7 94.5h0.8v0.8h-0.8zM79.6 69.5h0.8v0.8h-0.8zM83.6 77.4h0.8v0.8h-0.8zM83.8 84.5h0.8v0.8h-0.8zM81.4 88.4h0.8v0.8h-0.8zM77.1 79.7h0.8v0.8h-0.8zM77.8 98.8h0.8v0.8h-0.8zM81.2 86.3h0.8v0.8h-0.8zM85.7 83.7h0.8v0.8h-0.8zM83.3 99.7h0.8v0.8h-0.8zM76.9 96.8h0.8v0.8h-0.8zM81.8 69.2h0.8v0.8h-0.8zM76.0 66.6h0.8v0.8h-0.8zM85.6 71.3h0.8v0.8h-0.8zM100.3 60.2h0.8v0.8h-0.8zM85.8 86.4h0.8v0.8h-0.8zM82.4 89.8h0.8v0.8h-0.8zM72.4 93.2h0.8v0.8h-0.8zM79.8 99.4h0.8v0.8h-0.8zM76.7 79.8h0.8v0.8h-0.8zM87.8 77.6h0.8v0.8h-0.8zM85.0 79.4h0.8v0.8h-0.8zM77.0 80.3h0.8v0.8h-0.8zM88.6 71.2h0.8v0.8h-0.8zM74.5 99.0h0.8v0.8h-0.8zM93.4 70.6h0.8v0.8h-0.8zM82.6 98.9h0.8v0.8h-0.8zM88.9 92.9h0.8v0.8h-0.8zM89.2 61.0h0.8v0.8h-0.8zM76.7 94.8h0.8v0.8h-0.8zM81.3 95.7h0.8v0.8h-0.8zM71.5 83.2h0.8v0.8h-0.8zM88.9 90.8h0.8v0.8h-0.8zM89.2 57.6h0.8v0.8h-0.8zM84.4 59.5h0.8v0.8h-0.8zM89.7 59.1h0.8v0.8h-0.8zM81.2 83.7h0.8v0.8h-0.8zM85.9 93.9h0.8v0.8h-0.8zM81.7 61.1h0.8v0.8h-0.8zM80.9 76.0h0.8v0.8h-0.8zM79.2 82.8h0.8v0.8h-0.8zM96.5 62.1h0.8v0.8h-0.8zM93.7 69.1h0.8v0.8h-0.8zM79.5 98.0h0.8v0.8h-0.8zM80.4 73.2h0.8v0.8h-0.8zM75.9 93.4h0.8v0.8h-0.8zM94.1 64.6h0.8v0.8h-0.8zM93.7 70.9h0.8v0.8h-0.8zM76.9 94.4h0.8v0.8h-0.8zM93.2 66.3h0.8v0.8h-0.8zM95.5 68.6h0.8v0.8h-0.8zM83.6 71.2h0.8v0.8h-0.8zM78.0 77.3h0.8v0.8h-0.8zM96.5 65.3h0.8v0.8h-0.8zM83.1 68.1h0.8v0.8h-0.8zM91.6 90.3h0.8v0.8h-0.8zM77.8 97.9h0.8v0.8h-0.8zM79.3 86.6h0.8v0.8h-0.8zM74.2 84.7h0.8v0.8h-0.8zM88.2 58.6h0.8v0.8h-0.8zM78.1 82.7h0.8v0.8h-0.8zM83.9 93.4h0.8v0.8h-0.8zM81.5 80.3h0.8v0.8h-0.8zM83.6 72.9h0.8v0.8h-0.8zM92.2 72.7h0.8v0.8h-0.8zM97.0 59.4h0.8v0.8h-0.8zM84.9 81.2h0.8v0.8h-0.8zM79.4 95.3h0.8v0.8h-0.8zM84.1 72.7h0.8v0.8h-0.8zM78.7 81.4h0.8v0.8h-0.8zM88.0 76.6h0.8v0.8h-0.8zM79.6 82.8h0.8v0.8h-0.8zM78.1 81.8h0.8v0.8h-0.8zM88.2 77.1h0.8v0.8h-0.8zM86.6 87.9h0.8v0.8h-0.8zM78.4 74.8h0.8v0.8h-0.8zM94.0 57.1h0.8v0.8h-0.8zM79.0 82.5h0.8v0.8h-0.8zM81.7 89.9h0.8v0.8h-0.8zM93.2 84.5h0.8v0.8h-0.8zM98.0 83.0h0.8v0.8h-0.8zM76.6 92.9h0.8v0.8h-0.8zM94.3 72.9h0.8v0.8h-0.8zM91.2 63.6h0.8v0.8h-0.8zM93.5 59.2h0.8v0.8h-0.8zM79.3 78.6h0.8v0.8h-0.8zM82.4 87.2h0.8v0.8h-0.8zM83.4 72.7h0.8v0.8h-0.8zM91.1 98.2h0.8v0.8h-0.8zM86.7 63.0h0.8v0.8h-0.8zM79.8 84.6h0.8v0.8h-0.8zM89.2 63.3h0.8v0.8h-0.8zM89.5 83.1h0.8v0.8h-0.8zM92.0 67.2h0.8v0.8h-0.8zM81.5 88.7h0.8v0.8h-0.8zM76.8 80.2h0.8v0.8h-0.8zM73.9 94.3h0.8v0.8h-0.8zM92.9 64.9h0.8v0.8h-0.8zM82.9 95.6h0.8v0.8h-0.8zM76.9 85.6h0.8v0.8h-0.8zM93.9 80.4h0.8v0.8h-0.8zM79.8 90.2h0.8v0.8h-0.8zM85.5 80.9h0.8v0.8h-0.8zM82.8 84.3h0.8v0.8h-0.8zM88.7 69.7h0.8v0.8h-0.8zM78.9 87.1h0.8v0.8h-0.8zM72.9 95.6h0.8v0.8h-0.8zM84.7 91.4h0.8v0.8h-0.8zM84.7 72.2h0.8v0.8h-0.8zM89.9 64.7h0.8v0.8h-0.8zM74.4 93.4h0.8v0.8h-0.8zM80.3 95.4h0.8v0.8h-0.8zM86.7 95.2h0.8v0.8h-0.8zM79.4 72.4h0.8v0.8h-0.8zM86.5 82.0h0.8v0.8h-0.8zM88.3 95.3h0.8v0.8h-0.8zM84.9 67.4h0.8v0.8h-0.8zM86.5 70.3h0.8v0.8h-0.8zM93.5 60.8h0.8v0.8h-0.8zM86.5 64.2h0.8v0.8h-0.8zM75.2 89.4h0.8v0.8h-0.8zM74.4 85.2h0.8v0.8h-0.8zM89.6 78.5h0.8v0.8h-0.8zM88.4 73.3h0.8v0.8h-0.8zM91.0 61.3h0.8v0.8h-0.8zM93.3 62.9h0.8v0.8h-0.8zM93.7 81.5h0.8v0.8h-0.8zM84.2 80.6h0.8v0.8h-0.8zM92.8 63.0h0.8v0.8h-0.8zM90.2 73.8h0.8v0.8h-0.8zM82.1 91.2h0.8v0.8h-0.8zM87.1 72.1h0.8v0.8h-0.8zM74.8 87.3h0.8v0.8h-0.8zM92.5 66.0h0.8v0.8h-0.8zM81.3 80.5h0.8v0.8h-0.8zM85.4 85.5h0.8v0.8h-0.8zM86.6 98.4h0.8v0.8h-0.8zM86.3 93.3h0.8v0.8h-0.8zM83.3 97.9h0.8v0.8h-0.8zM86.7 72.8h0.8v0.8h-0.8zM73.6 97.1h0.8v0.8h-0.8zM96.1 64.9h0.8v0.8h-0.8zM84.2 62.0h0.8v0.8h-0.8zM99.2 75.4h0.8v0.8h-0.8zM76.0 90.0h0.8v0.8h-0.8zM90.1 69.6h0.8v0.8h-0.8zM89.9 81.5h0.8v0.8h-0.8zM84.2 69.2h0.8v0.8h-0.8zM90.0 69.0h0.8v0.8h-0.8zM96.9 77.2h0.8v0.8h-0.8zM88.0 88.1h0.8v0.8h-0.8zM84.4 90.4h0.8v0.8h-0.8zM86.0 73.9h0.8v0.8h-0.8zM85.8 58.5h0.8v0.8h-0.8zM90.2 62.8h0.8v0.8h-0.8zM90.2 68.8h0.8v0.8h-0.8zM71.5 86.3h0.8v0.8h-0.8zM78.0 91.4h0.8v0.8h-0.8zM84.8 91.0h0.8v0.8h-0.8zM84.9 95.3h0.8v0.8h-0.8zM83.2 82.1h0.8v0.8h-0.8zM96.5 62.8h0.8v0.8h-0.8zM83.9 66.6h0.8v0.8h-0.8zM86.3 92.5h0.8v0.8h-0.8zM84.4 89.8h0.8v0.8h-0.8zM96.3 58.0h0.8v0.8h-0.8zM86.5 60.3h0.8v0.8h-0.8zM71.8 88.6h0.8v0.8h-0.8zM97.9 62.2h0.8v0.8h-0.8z" fill="#3040f0" fill-opacity="0.45"/>
<path d="M76.5 52.9h0.8v0.8h-0.8zM76.9 49.1h0.8v0.8h-0.8zM96.3 47.1h0.8v0.8h-0.8zM86.5 48.5h0.8v0.8h-0.8zM90.9 46.6h0.8v0.8h-0.8zM88.9 48.3h0.8v0.8h-0.8zM95.9 49.0h0.8v0.8h-0.8zM88.7 46.3h0.8v0.8h-0.8zM95.5 51.7h0.8v0.8h-0.8zM94.9 52.7h0.8v0.8h-0.8zM73.5 52.7h0.8v0.8h-0.8zM81.5 47.8h0.8v0.8h-0.8zM94.3 52.0h0.8v0.8h-0.8zM80.7 46.6h0.8v0.8h-0.8zM88.2 46.5h0.8v0.8h-0.8zM78.0 46.4h0.8v0.8h-0.8zM76.3 52.7h0.8v0.8h-0.8zM78.7 54.9h0.8v0.8h-0.8zM79.0 53.2h0.8v0.8h-0.8zM90.4 51.8h0.8v0.8h-0.8zM87.1 47.3h0.8v0.8h-0.8zM92.7 54.3h0.8v0.8h-0.8zM85.3 47.7h0.8v0.8h-0.8zM74.2 48.3h0.8v0.8h-0.8zM96.3 48.9h0.8v0.8h-0.8zM79.0 50.7h0.8v0.8h-0.8zM72.9 53.1h0.8v0.8h-0.8zM91.5 48.8h0.8v0.8h-0.8zM72.7 54.1h0.8v0.8h-0.8zM92.2 52.9h0.8v0.8h-0.8zM77.3 54.6h0.8v0.8h-0.8zM88.0 46.3h0.8v0.8h-0.8zM96.5 52.3h0.8v0.8h-0.8zM76.6 54.0h0.8v0.8h-0.8zM86.9 51.7h0.8v0.8h-0.8zM72.7 47.9h0.8v0.8h-0.8zM91.8 46.1h0.8v0.8h-0.8zM76.8 46.6h0.8v0.8h-0.8zM86.6 47.2h0.8v0.8h-0.8zM91.6 50.1h0.8v0.8h-0.8zM91.6 54.2h0.8v0.8h-0.8zM96.3 47.7h0.8v0.8h-0.8zM81.1 53.1h0.8v0.8h-0.8zM80.3 54.4h0.8v0.8h-0.8zM80.4 51.6h0.8v0.8h-0.8zM78.4 52.5h0.8v0.8h-0.8zM79.1 49.8h0.8v0.8h-0.8zM90.1 53.5h0.8v0.8h-0.8zM75.5 47.6h0.8v0.8h-0.8zM77.3 52.9h0.8v0.8h-0.8zM88.8 52.5h0.8v0.8h-0.8zM92.2 48.1h0.8v0.8h-0.8zM84.4 46.0h0.8v0.8h-0.8zM80.8 51.4h0.8v0.8h-0.8zM78.5 53.2h0.8v0.8h-0.8zM77.3 50.0h0.8v0.8h-0.8zM89.1 48.0h0.8v0.8h-0.8zM88.6 49.6h0.8v0.8h-0.8zM73.2 46.9h0.8v0.8h-0.8zM88.3 53.4h0.8v0.8h-0.8z" fill="#4060f0" fill-opacity="0.4"/>
<path d="M70.0 36.0 L80.0 33.5 L95.0 34.0 L96.0 40.5 L90.0 45.5 L84.0 48.0 L79.0 46.0 L72.0 43.0Z" fill="#3a5cf0" fill-opacity="0.9" filter="url(#bl12)"/>
<path d="M71.5 36.0 L81.0 34.0 L94.0 34.5 L94.0 40.5 L89.0 44.5 L84.0 46.0 L79.0 44.0 L72.5 41.5Z" fill="#18a8ff" fill-opacity="1.0" filter="url(#bl10)"/>
<path d="M74.0 36.2 L82.0 34.8 L92.0 35.5 L92.0 40.5 L87.5 43.5 L83.0 44.0 L78.0 42.5 L74.0 40.0Z" fill="#30e070" fill-opacity="1.0" filter="url(#bl9)"/>
<ellipse cx="82.4" cy="39.2" rx="6.6" ry="3.2" fill="#e8f020" filter="url(#bl8)"/>
<ellipse cx="82.6" cy="39.3" rx="4.4" ry="2.1" fill="#ff8000" filter="url(#bl6)"/>
<ellipse cx="82.8" cy="39.4" rx="3.2" ry="1.5" fill="#e41200" filter="url(#bl6)"/>
<path d="M83.0 61.0 L92.0 57.5 L96.5 62.0 L95.0 78.0 L91.0 99.0 L85.0 99.0 L82.0 85.0 L81.5 70.0Z" fill="#3a5cf0" fill-opacity="0.85" filter="url(#bl12)"/>
<path d="M84.5 63.0 L92.0 59.5 L95.0 64.0 L93.0 78.0 L89.5 95.0 L86.0 95.0 L84.0 83.0 L83.5 70.0Z" fill="#18b0ff" fill-opacity="1.0" filter="url(#bl10)"/>
<path d="M86.0 64.0 L91.5 61.5 L93.0 66.0 L91.5 78.0 L88.5 87.0 L86.0 80.0 L85.5 70.0Z" fill="#30e080" fill-opacity="1.0" filter="url(#bl9)"/>
<ellipse cx="89.2" cy="70.5" rx="2.4" ry="5.4" fill="#50f040" transform="rotate(16 89.2 70.5)" filter="url(#bl8)"/>
<rect x="19.30" y="24.30" width="82.30" height="76.50" fill="none" stroke="#707070" stroke-width="0.7" />
<line x1="70.60" y1="24.30" x2="70.60" y2="100.80" stroke="#555" stroke-width="0.6" />
<line x1="19.30" y1="55.20" x2="101.60" y2="55.20" stroke="#555" stroke-width="0.6" />
<rect x="19.80" y="55.80" width="50.00" height="43.40" fill="none" stroke="#5e0c0c" stroke-width="2.0" />
<text x="21.50" y="29.60" font-size="4.3" font-weight="normal" text-anchor="start" fill="#303030" >Q1</text>
<text x="21.50" y="34.60" font-size="4.3" font-weight="normal" text-anchor="start" fill="#303030" >2.83%</text>
<text x="88.50" y="29.60" font-size="4.3" font-weight="normal" text-anchor="start" fill="#303030" >Q2</text>
<text x="87.50" y="34.60" font-size="4.3" font-weight="normal" text-anchor="start" fill="#303030" >43.5%</text>
<text x="88.50" y="93.40" font-size="4.3" font-weight="normal" text-anchor="start" fill="#303030" >Q3</text>
<text x="87.50" y="98.40" font-size="4.3" font-weight="normal" text-anchor="start" fill="#303030" >45.0%</text>
<text x="21.50" y="93.80" font-size="4.3" font-weight="normal" text-anchor="start" fill="#303030" >Q4</text>
<text x="21.50" y="98.80" font-size="4.3" font-weight="normal" text-anchor="start" fill="#303030" >13%</text>
<text x="6.20" y="70.20" font-size="8" font-weight="bold" text-anchor="middle" fill="#000" stroke="#000" stroke-width="0.3" transform="rotate(-90 6.2 70.2)">PI</text>
<text x="59.00" y="117.30" font-size="8" font-weight="bold" text-anchor="middle" fill="#000" textLength="50.5" lengthAdjust="spacingAndGlyphs" stroke="#000" stroke-width="0.3" >Annexin V-FITC</text>
<rect x="8.50" y="183.40" width="95.50" height="88.20" fill="#eeeeee" stroke="none" stroke-width="1" />
<rect x="19.40" y="185.40" width="82.80" height="76.50" fill="#fff" stroke="#707070" stroke-width="0.7" />
<text x="9.80" y="193.00" font-size="4.2" font-weight="normal" text-anchor="start" fill="#484848" >10</text>
<text x="14.20" y="190.40" font-size="3.0" font-weight="normal" text-anchor="start" fill="#484848" >4</text>
<text x="9.80" y="206.00" font-size="4.2" font-weight="normal" text-anchor="start" fill="#484848" >10</text>
<text x="14.20" y="203.40" font-size="3.0" font-weight="normal" text-anchor="start" fill="#484848" >3</text>
<text x="9.80" y="225.20" font-size="4.2" font-weight="normal" text-anchor="start" fill="#484848" >10</text>
<text x="14.20" y="222.60" font-size="3.0" font-weight="normal" text-anchor="start" fill="#484848" >2</text>
<text x="9.80" y="243.80" font-size="4.2" font-weight="normal" text-anchor="start" fill="#484848" >10</text>
<text x="14.20" y="241.20" font-size="3.0" font-weight="normal" text-anchor="start" fill="#484848" >1</text>
<text x="9.80" y="261.30" font-size="4.2" font-weight="normal" text-anchor="start" fill="#484848" >10</text>
<text x="14.20" y="258.70" font-size="3.0" font-weight="normal" text-anchor="start" fill="#484848" >0</text>
<text x="21.00" y="269.60" font-size="4.2" font-weight="normal" text-anchor="start" fill="#484848" >10</text>
<text x="25.40" y="266.00" font-size="3.0" font-weight="normal" text-anchor="start" fill="#484848" >0</text>
<text x="38.40" y="269.60" font-size="4.2" font-weight="normal" text-anchor="start" fill="#484848" >10</text>
<text x="42.80" y="266.00" font-size="3.0" font-weight="normal" text-anchor="start" fill="#484848" >1</text>
<text x="56.20" y="269.60" font-size="4.2" font-weight="normal" text-anchor="start" fill="#484848" >10</text>
<text x="60.60" y="266.00" font-size="3.0" font-weight="normal" text-anchor="start" fill="#484848" >2</text>
<text x="78.40" y="269.60" font-size="4.2" font-weight="normal" text-anchor="start" fill="#484848" >10</text>
<text x="82.80" y="266.00" font-size="3.0" font-weight="normal" text-anchor="start" fill="#484848" >3</text>
<text x="97.80" y="269.60" font-size="4.2" font-weight="normal" text-anchor="start" fill="#484848" >10</text>
<text x="102.20" y="266.00" font-size="3.0" font-weight="normal" text-anchor="start" fill="#484848" >4</text>
<line x1="18.20" y1="185.40" x2="19.40" y2="185.40" stroke="#888" stroke-width="0.4" />
<line x1="18.20" y1="191.28" x2="19.40" y2="191.28" stroke="#888" stroke-width="0.4" />
<line x1="18.20" y1="197.17" x2="19.40" y2="197.17" stroke="#888" stroke-width="0.4" />
<line x1="18.20" y1="203.05" x2="19.40" y2="203.05" stroke="#888" stroke-width="0.4" />
<line x1="18.20" y1="208.94" x2="19.40" y2="208.94" stroke="#888" stroke-width="0.4" />
<line x1="18.20" y1="214.82" x2="19.40" y2="214.82" stroke="#888" stroke-width="0.4" />
<line x1="18.20" y1="220.71" x2="19.40" y2="220.71" stroke="#888" stroke-width="0.4" />
<line x1="18.20" y1="226.59" x2="19.40" y2="226.59" stroke="#888" stroke-width="0.4" />
<line x1="18.20" y1="232.48" x2="19.40" y2="232.48" stroke="#888" stroke-width="0.4" />
<line x1="18.20" y1="238.36" x2="19.40" y2="238.36" stroke="#888" stroke-width="0.4" />
<line x1="18.20" y1="244.25" x2="19.40" y2="244.25" stroke="#888" stroke-width="0.4" />
<line x1="18.20" y1="250.13" x2="19.40" y2="250.13" stroke="#888" stroke-width="0.4" />
<line x1="18.20" y1="256.02" x2="19.40" y2="256.02" stroke="#888" stroke-width="0.4" />
<line x1="18.20" y1="261.90" x2="19.40" y2="261.90" stroke="#888" stroke-width="0.4" />
<path d="M53.9 255.2h0.8v0.8h-0.8zM58.7 254.1h0.8v0.8h-0.8zM33.8 256.6h0.8v0.8h-0.8zM30.0 243.3h0.8v0.8h-0.8zM63.0 255.2h0.8v0.8h-0.8zM21.8 255.0h0.8v0.8h-0.8zM37.5 248.1h0.8v0.8h-0.8zM55.5 257.1h0.8v0.8h-0.8zM31.5 240.4h0.8v0.8h-0.8zM44.6 239.4h0.8v0.8h-0.8zM58.9 261.1h0.8v0.8h-0.8zM64.3 232.9h0.8v0.8h-0.8zM42.9 240.3h0.8v0.8h-0.8zM37.7 244.8h0.8v0.8h-0.8zM55.1 244.2h0.8v0.8h-0.8zM49.6 245.1h0.8v0.8h-0.8zM23.3 254.5h0.8v0.8h-0.8zM48.8 239.0h0.8v0.8h-0.8zM51.9 239.9h0.8v0.8h-0.8zM40.5 252.6h0.8v0.8h-0.8zM40.6 255.1h0.8v0.8h-0.8zM51.8 249.1h0.8v0.8h-0.8zM55.4 259.3h0.8v0.8h-0.8zM62.7 239.1h0.8v0.8h-0.8zM47.0 238.0h0.8v0.8h-0.8zM60.2 236.8h0.8v0.8h-0.8zM43.8 224.0h0.8v0.8h-0.8zM47.2 260.3h0.8v0.8h-0.8zM67.4 247.7h0.8v0.8h-0.8zM52.0 258.1h0.8v0.8h-0.8zM69.5 240.8h0.8v0.8h-0.8zM32.3 246.5h0.8v0.8h-0.8zM33.6 235.8h0.8v0.8h-0.8zM64.2 244.3h0.8v0.8h-0.8zM30.8 232.0h0.8v0.8h-0.8zM58.8 237.1h0.8v0.8h-0.8zM22.7 247.8h0.8v0.8h-0.8zM55.2 227.3h0.8v0.8h-0.8zM21.7 257.8h0.8v0.8h-0.8zM63.9 259.3h0.8v0.8h-0.8zM33.9 261.0h0.8v0.8h-0.8zM60.0 256.7h0.8v0.8h-0.8zM50.6 255.6h0.8v0.8h-0.8zM45.5 257.6h0.8v0.8h-0.8zM59.5 252.8h0.8v0.8h-0.8zM54.4 247.7h0.8v0.8h-0.8zM47.6 254.7h0.8v0.8h-0.8zM39.3 248.7h0.8v0.8h-0.8zM62.9 257.6h0.8v0.8h-0.8zM52.5 247.0h0.8v0.8h-0.8zM54.0 257.4h0.8v0.8h-0.8zM54.3 258.0h0.8v0.8h-0.8zM37.9 253.5h0.8v0.8h-0.8zM32.4 255.0h0.8v0.8h-0.8zM68.6 252.0h0.8v0.8h-0.8zM29.8 246.3h0.8v0.8h-0.8zM20.8 233.0h0.8v0.8h-0.8zM50.3 256.1h0.8v0.8h-0.8zM52.8 258.5h0.8v0.8h-0.8zM42.2 235.5h0.8v0.8h-0.8zM32.5 261.1h0.8v0.8h-0.8zM64.6 256.4h0.8v0.8h-0.8zM27.3 238.5h0.8v0.8h-0.8zM43.2 237.6h0.8v0.8h-0.8zM23.0 257.2h0.8v0.8h-0.8zM47.2 252.3h0.8v0.8h-0.8zM26.5 258.2h0.8v0.8h-0.8zM48.7 243.0h0.8v0.8h-0.8zM53.3 260.0h0.8v0.8h-0.8zM32.7 258.7h0.8v0.8h-0.8zM63.7 256.8h0.8v0.8h-0.8zM28.3 245.4h0.8v0.8h-0.8zM26.3 261.2h0.8v0.8h-0.8zM51.7 241.2h0.8v0.8h-0.8zM39.7 250.7h0.8v0.8h-0.8zM64.0 248.6h0.8v0.8h-0.8zM61.8 258.4h0.8v0.8h-0.8zM46.4 258.6h0.8v0.8h-0.8zM40.0 240.6h0.8v0.8h-0.8zM51.4 238.4h0.8v0.8h-0.8zM33.6 248.2h0.8v0.8h-0.8zM55.4 251.1h0.8v0.8h-0.8zM30.6 245.3h0.8v0.8h-0.8zM64.0 258.0h0.8v0.8h-0.8zM47.3 256.4h0.8v0.8h-0.8zM54.4 231.1h0.8v0.8h-0.8zM31.4 256.6h0.8v0.8h-0.8zM30.0 242.7h0.8v0.8h-0.8zM69.3 244.5h0.8v0.8h-0.8zM42.4 253.3h0.8v0.8h-0.8zM33.3 253.8h0.8v0.8h-0.8zM25.1 256.8h0.8v0.8h-0.8zM54.9 252.2h0.8v0.8h-0.8zM47.1 240.4h0.8v0.8h-0.8zM27.2 256.0h0.8v0.8h-0.8zM34.4 247.3h0.8v0.8h-0.8zM68.2 247.8h0.8v0.8h-0.8zM66.5 252.0h0.8v0.8h-0.8zM52.8 261.0h0.8v0.8h-0.8zM43.1 233.1h0.8v0.8h-0.8zM54.8 253.8h0.8v0.8h-0.8zM59.3 260.5h0.8v0.8h-0.8zM49.6 257.6h0.8v0.8h-0.8zM21.2 236.7h0.8v0.8h-0.8zM41.4 242.4h0.8v0.8h-0.8zM50.6 244.2h0.8v0.8h-0.8zM42.8 248.4h0.8v0.8h-0.8zM47.8 249.6h0.8v0.8h-0.8zM52.8 246.0h0.8v0.8h-0.8zM47.2 261.0h0.8v0.8h-0.8zM23.7 243.5h0.8v0.8h-0.8zM31.7 261.1h0.8v0.8h-0.8zM56.6 233.2h0.8v0.8h-0.8zM68.4 256.4h0.8v0.8h-0.8zM42.2 236.5h0.8v0.8h-0.8zM31.6 256.1h0.8v0.8h-0.8zM36.1 253.5h0.8v0.8h-0.8zM45.2 239.7h0.8v0.8h-0.8zM28.9 255.9h0.8v0.8h-0.8zM57.0 260.2h0.8v0.8h-0.8zM55.5 237.7h0.8v0.8h-0.8zM50.7 246.0h0.8v0.8h-0.8zM21.3 253.2h0.8v0.8h-0.8zM24.4 243.6h0.8v0.8h-0.8zM61.8 254.4h0.8v0.8h-0.8zM22.5 248.3h0.8v0.8h-0.8zM62.3 260.7h0.8v0.8h-0.8zM62.7 230.8h0.8v0.8h-0.8zM27.9 251.1h0.8v0.8h-0.8zM44.4 232.2h0.8v0.8h-0.8zM33.7 258.6h0.8v0.8h-0.8zM22.9 260.0h0.8v0.8h-0.8zM54.6 245.2h0.8v0.8h-0.8zM43.2 236.0h0.8v0.8h-0.8zM26.6 248.1h0.8v0.8h-0.8zM66.6 255.7h0.8v0.8h-0.8zM55.7 236.3h0.8v0.8h-0.8zM43.2 258.5h0.8v0.8h-0.8zM25.9 247.6h0.8v0.8h-0.8zM28.3 257.6h0.8v0.8h-0.8zM31.7 260.9h0.8v0.8h-0.8zM55.9 238.1h0.8v0.8h-0.8zM28.8 253.8h0.8v0.8h-0.8zM51.9 261.0h0.8v0.8h-0.8zM21.4 244.3h0.8v0.8h-0.8zM31.1 248.6h0.8v0.8h-0.8zM66.8 259.7h0.8v0.8h-0.8zM60.2 257.8h0.8v0.8h-0.8zM24.6 240.9h0.8v0.8h-0.8zM46.9 253.3h0.8v0.8h-0.8zM63.3 238.8h0.8v0.8h-0.8zM57.4 239.5h0.8v0.8h-0.8zM51.6 250.1h0.8v0.8h-0.8zM58.2 243.0h0.8v0.8h-0.8zM28.7 252.5h0.8v0.8h-0.8zM63.3 249.7h0.8v0.8h-0.8zM58.3 248.8h0.8v0.8h-0.8zM23.8 254.8h0.8v0.8h-0.8zM25.4 239.5h0.8v0.8h-0.8zM27.6 246.1h0.8v0.8h-0.8zM30.3 260.7h0.8v0.8h-0.8zM54.1 243.0h0.8v0.8h-0.8zM47.2 257.6h0.8v0.8h-0.8zM21.3 257.3h0.8v0.8h-0.8zM48.2 258.8h0.8v0.8h-0.8zM23.6 238.9h0.8v0.8h-0.8zM28.4 258.3h0.8v0.8h-0.8zM50.8 245.6h0.8v0.8h-0.8zM61.5 237.2h0.8v0.8h-0.8zM31.6 252.3h0.8v0.8h-0.8zM43.4 246.0h0.8v0.8h-0.8zM51.1 260.2h0.8v0.8h-0.8zM31.7 246.7h0.8v0.8h-0.8zM37.9 252.6h0.8v0.8h-0.8zM26.9 235.2h0.8v0.8h-0.8zM62.6 256.4h0.8v0.8h-0.8zM43.4 259.9h0.8v0.8h-0.8zM61.6 246.7h0.8v0.8h-0.8zM52.4 255.6h0.8v0.8h-0.8zM41.5 245.7h0.8v0.8h-0.8zM26.2 246.6h0.8v0.8h-0.8zM61.1 246.0h0.8v0.8h-0.8zM45.6 253.2h0.8v0.8h-0.8zM39.9 260.4h0.8v0.8h-0.8zM42.9 256.8h0.8v0.8h-0.8zM40.3 244.4h0.8v0.8h-0.8zM23.1 238.7h0.8v0.8h-0.8zM28.3 241.1h0.8v0.8h-0.8zM24.1 254.0h0.8v0.8h-0.8zM32.5 256.8h0.8v0.8h-0.8zM44.5 249.4h0.8v0.8h-0.8zM66.9 256.8h0.8v0.8h-0.8zM22.9 245.2h0.8v0.8h-0.8zM39.2 249.1h0.8v0.8h-0.8zM49.3 244.5h0.8v0.8h-0.8zM49.1 250.4h0.8v0.8h-0.8zM26.0 258.1h0.8v0.8h-0.8zM39.1 253.3h0.8v0.8h-0.8zM22.5 251.0h0.8v0.8h-0.8zM62.2 254.4h0.8v0.8h-0.8zM21.4 249.3h0.8v0.8h-0.8zM22.1 256.4h0.8v0.8h-0.8zM25.6 259.5h0.8v0.8h-0.8zM51.7 226.8h0.8v0.8h-0.8zM55.2 248.7h0.8v0.8h-0.8zM22.3 242.6h0.8v0.8h-0.8zM37.5 255.4h0.8v0.8h-0.8zM48.4 259.2h0.8v0.8h-0.8zM26.2 247.7h0.8v0.8h-0.8zM33.0 243.1h0.8v0.8h-0.8zM36.7 252.9h0.8v0.8h-0.8zM47.4 247.8h0.8v0.8h-0.8zM60.3 243.5h0.8v0.8h-0.8zM52.6 249.6h0.8v0.8h-0.8zM40.4 240.4h0.8v0.8h-0.8zM43.8 256.0h0.8v0.8h-0.8zM42.3 253.8h0.8v0.8h-0.8zM35.7 232.4h0.8v0.8h-0.8zM30.8 239.1h0.8v0.8h-0.8zM46.4 231.8h0.8v0.8h-0.8zM42.2 247.6h0.8v0.8h-0.8zM39.2 256.9h0.8v0.8h-0.8zM38.9 238.4h0.8v0.8h-0.8zM61.1 259.1h0.8v0.8h-0.8zM30.1 257.2h0.8v0.8h-0.8zM49.5 252.2h0.8v0.8h-0.8zM44.6 248.6h0.8v0.8h-0.8zM31.5 259.9h0.8v0.8h-0.8zM45.7 260.7h0.8v0.8h-0.8zM57.2 259.2h0.8v0.8h-0.8zM55.7 253.3h0.8v0.8h-0.8zM57.8 248.0h0.8v0.8h-0.8zM22.2 246.3h0.8v0.8h-0.8zM55.8 258.9h0.8v0.8h-0.8zM24.8 255.0h0.8v0.8h-0.8zM65.6 248.8h0.8v0.8h-0.8zM29.9 261.2h0.8v0.8h-0.8zM35.7 248.2h0.8v0.8h-0.8zM55.4 230.0h0.8v0.8h-0.8zM50.2 258.6h0.8v0.8h-0.8zM30.9 259.8h0.8v0.8h-0.8zM31.5 233.6h0.8v0.8h-0.8zM55.8 251.4h0.8v0.8h-0.8zM66.5 256.7h0.8v0.8h-0.8zM48.7 235.5h0.8v0.8h-0.8zM32.9 245.9h0.8v0.8h-0.8zM49.2 259.0h0.8v0.8h-0.8zM53.5 248.9h0.8v0.8h-0.8zM24.3 247.0h0.8v0.8h-0.8zM61.7 254.4h0.8v0.8h-0.8zM52.3 244.4h0.8v0.8h-0.8zM29.6 260.9h0.8v0.8h-0.8zM65.2 258.7h0.8v0.8h-0.8zM38.0 249.3h0.8v0.8h-0.8zM55.9 259.4h0.8v0.8h-0.8zM40.4 249.9h0.8v0.8h-0.8zM62.1 261.0h0.8v0.8h-0.8zM39.9 260.0h0.8v0.8h-0.8zM39.3 246.6h0.8v0.8h-0.8zM51.0 243.4h0.8v0.8h-0.8zM56.0 260.3h0.8v0.8h-0.8zM49.5 251.2h0.8v0.8h-0.8zM22.8 253.0h0.8v0.8h-0.8zM57.3 252.5h0.8v0.8h-0.8zM47.8 255.3h0.8v0.8h-0.8zM24.1 256.3h0.8v0.8h-0.8zM55.2 243.4h0.8v0.8h-0.8zM34.2 241.3h0.8v0.8h-0.8zM26.5 247.9h0.8v0.8h-0.8zM55.8 256.9h0.8v0.8h-0.8zM47.2 244.8h0.8v0.8h-0.8zM21.9 256.0h0.8v0.8h-0.8zM40.5 242.9h0.8v0.8h-0.8zM35.0 252.1h0.8v0.8h-0.8zM26.3 242.6h0.8v0.8h-0.8zM30.5 260.8h0.8v0.8h-0.8zM43.7 252.8h0.8v0.8h-0.8zM29.9 250.5h0.8v0.8h-0.8zM44.1 259.9h0.8v0.8h-0.8zM28.6 234.2h0.8v0.8h-0.8zM23.1 248.6h0.8v0.8h-0.8zM47.4 248.1h0.8v0.8h-0.8zM21.7 241.3h0.8v0.8h-0.8zM33.4 257.0h0.8v0.8h-0.8zM38.8 255.2h0.8v0.8h-0.8zM26.8 237.4h0.8v0.8h-0.8zM59.6 248.2h0.8v0.8h-0.8zM40.8 248.7h0.8v0.8h-0.8zM42.5 255.6h0.8v0.8h-0.8zM49.7 244.7h0.8v0.8h-0.8zM24.2 249.3h0.8v0.8h-0.8zM50.9 253.0h0.8v0.8h-0.8zM26.0 235.0h0.8v0.8h-0.8zM25.4 252.7h0.8v0.8h-0.8zM69.0 257.8h0.8v0.8h-0.8zM53.5 252.2h0.8v0.8h-0.8zM39.3 244.0h0.8v0.8h-0.8zM65.3 259.2h0.8v0.8h-0.8zM20.9 231.2h0.8v0.8h-0.8zM58.3 255.5h0.8v0.8h-0.8zM39.4 237.2h0.8v0.8h-0.8zM65.7 250.3h0.8v0.8h-0.8zM33.9 259.2h0.8v0.8h-0.8zM44.5 253.3h0.8v0.8h-0.8zM43.3 248.7h0.8v0.8h-0.8zM62.2 247.8h0.8v0.8h-0.8zM32.9 252.9h0.8v0.8h-0.8zM23.5 261.1h0.8v0.8h-0.8zM57.1 251.3h0.8v0.8h-0.8zM60.3 252.1h0.8v0.8h-0.8zM47.0 256.4h0.8v0.8h-0.8zM57.9 247.9h0.8v0.8h-0.8zM24.9 256.2h0.8v0.8h-0.8zM56.8 257.2h0.8v0.8h-0.8zM52.5 258.7h0.8v0.8h-0.8zM54.9 260.3h0.8v0.8h-0.8zM30.7 222.4h0.8v0.8h-0.8zM36.9 252.4h0.8v0.8h-0.8zM42.5 260.8h0.8v0.8h-0.8zM26.9 257.6h0.8v0.8h-0.8zM29.9 237.7h0.8v0.8h-0.8zM40.9 259.8h0.8v0.8h-0.8zM55.4 235.9h0.8v0.8h-0.8zM24.1 250.8h0.8v0.8h-0.8zM24.3 251.4h0.8v0.8h-0.8zM35.5 231.5h0.8v0.8h-0.8zM64.3 253.8h0.8v0.8h-0.8zM27.9 230.1h0.8v0.8h-0.8zM45.0 254.6h0.8v0.8h-0.8zM45.2 260.3h0.8v0.8h-0.8zM29.3 245.6h0.8v0.8h-0.8zM25.4 253.5h0.8v0.8h-0.8zM32.5 253.0h0.8v0.8h-0.8zM33.7 243.3h0.8v0.8h-0.8zM40.6 254.3h0.8v0.8h-0.8zM66.2 256.9h0.8v0.8h-0.8zM43.5 233.3h0.8v0.8h-0.8zM39.5 257.9h0.8v0.8h-0.8zM41.7 248.7h0.8v0.8h-0.8zM21.8 232.9h0.8v0.8h-0.8zM59.4 259.8h0.8v0.8h-0.8zM44.5 253.4h0.8v0.8h-0.8zM28.4 254.8h0.8v0.8h-0.8zM67.7 243.7h0.8v0.8h-0.8zM26.6 256.8h0.8v0.8h-0.8zM44.8 251.0h0.8v0.8h-0.8zM55.0 247.8h0.8v0.8h-0.8zM35.4 239.3h0.8v0.8h-0.8zM40.5 258.8h0.8v0.8h-0.8zM30.4 255.3h0.8v0.8h-0.8zM40.0 251.9h0.8v0.8h-0.8zM52.4 261.1h0.8v0.8h-0.8zM40.3 251.6h0.8v0.8h-0.8zM58.1 254.6h0.8v0.8h-0.8zM37.9 251.5h0.8v0.8h-0.8zM30.2 255.3h0.8v0.8h-0.8zM51.8 255.1h0.8v0.8h-0.8zM43.5 248.5h0.8v0.8h-0.8zM45.3 254.1h0.8v0.8h-0.8zM55.9 229.8h0.8v0.8h-0.8zM28.9 236.9h0.8v0.8h-0.8zM50.2 247.0h0.8v0.8h-0.8zM62.1 233.7h0.8v0.8h-0.8zM41.7 244.7h0.8v0.8h-0.8zM66.3 253.2h0.8v0.8h-0.8zM41.2 240.8h0.8v0.8h-0.8zM29.7 243.2h0.8v0.8h-0.8zM39.4 259.7h0.8v0.8h-0.8zM52.3 257.4h0.8v0.8h-0.8zM22.2 245.5h0.8v0.8h-0.8zM57.7 236.4h0.8v0.8h-0.8zM31.9 232.2h0.8v0.8h-0.8zM46.8 223.6h0.8v0.8h-0.8zM56.3 229.7h0.8v0.8h-0.8zM40.6 258.9h0.8v0.8h-0.8zM23.1 260.7h0.8v0.8h-0.8zM67.0 250.2h0.8v0.8h-0.8zM27.0 230.7h0.8v0.8h-0.8zM69.3 257.6h0.8v0.8h-0.8zM31.5 251.1h0.8v0.8h-0.8zM62.4 240.3h0.8v0.8h-0.8zM27.1 251.4h0.8v0.8h-0.8zM34.5 260.0h0.8v0.8h-0.8zM29.3 235.5h0.8v0.8h-0.8zM37.4 229.2h0.8v0.8h-0.8zM51.4 235.4h0.8v0.8h-0.8zM36.3 231.4h0.8v0.8h-0.8zM38.3 260.7h0.8v0.8h-0.8zM36.8 252.3h0.8v0.8h-0.8zM47.7 257.0h0.8v0.8h-0.8zM52.4 258.4h0.8v0.8h-0.8zM35.2 236.8h0.8v0.8h-0.8zM21.1 243.8h0.8v0.8h-0.8zM52.4 252.9h0.8v0.8h-0.8zM50.1 229.1h0.8v0.8h-0.8zM48.6 224.3h0.8v0.8h-0.8zM29.7 227.2h0.8v0.8h-0.8zM21.5 254.3h0.8v0.8h-0.8zM45.5 242.8h0.8v0.8h-0.8zM47.4 252.5h0.8v0.8h-0.8zM51.5 249.2h0.8v0.8h-0.8zM57.4 236.5h0.8v0.8h-0.8zM23.5 231.1h0.8v0.8h-0.8zM30.0 247.6h0.8v0.8h-0.8zM50.8 234.6h0.8v0.8h-0.8zM27.9 252.0h0.8v0.8h-0.8zM58.8 244.5h0.8v0.8h-0.8zM37.4 243.7h0.8v0.8h-0.8zM27.1 261.2h0.8v0.8h-0.8zM54.6 254.0h0.8v0.8h-0.8zM29.2 238.2h0.8v0.8h-0.8zM37.5 252.7h0.8v0.8h-0.8zM41.1 258.3h0.8v0.8h-0.8zM45.1 242.4h0.8v0.8h-0.8zM60.5 240.2h0.8v0.8h-0.8zM49.3 251.5h0.8v0.8h-0.8zM29.5 256.2h0.8v0.8h-0.8zM21.4 236.5h0.8v0.8h-0.8zM42.4 253.3h0.8v0.8h-0.8zM49.2 240.5h0.8v0.8h-0.8zM63.4 254.6h0.8v0.8h-0.8zM61.0 252.7h0.8v0.8h-0.8zM57.1 244.7h0.8v0.8h-0.8zM38.6 253.5h0.8v0.8h-0.8zM37.1 252.0h0.8v0.8h-0.8zM50.8 227.6h0.8v0.8h-0.8zM65.7 255.9h0.8v0.8h-0.8zM63.9 252.8h0.8v0.8h-0.8zM29.6 252.3h0.8v0.8h-0.8zM40.2 256.7h0.8v0.8h-0.8zM56.3 252.2h0.8v0.8h-0.8zM29.1 248.2h0.8v0.8h-0.8zM40.9 237.7h0.8v0.8h-0.8zM57.4 259.9h0.8v0.8h-0.8zM53.4 260.6h0.8v0.8h-0.8zM32.2 260.4h0.8v0.8h-0.8zM35.6 258.8h0.8v0.8h-0.8zM47.9 240.7h0.8v0.8h-0.8zM21.9 245.9h0.8v0.8h-0.8zM61.4 259.3h0.8v0.8h-0.8zM22.9 246.6h0.8v0.8h-0.8zM64.6 254.9h0.8v0.8h-0.8zM63.0 253.1h0.8v0.8h-0.8zM39.2 258.1h0.8v0.8h-0.8zM26.8 253.5h0.8v0.8h-0.8zM63.8 253.1h0.8v0.8h-0.8zM21.1 259.2h0.8v0.8h-0.8zM25.0 257.5h0.8v0.8h-0.8zM32.8 258.1h0.8v0.8h-0.8zM25.8 257.6h0.8v0.8h-0.8zM23.9 248.5h0.8v0.8h-0.8zM64.4 252.2h0.8v0.8h-0.8zM67.1 243.2h0.8v0.8h-0.8zM55.6 244.8h0.8v0.8h-0.8zM53.9 250.9h0.8v0.8h-0.8zM34.4 252.4h0.8v0.8h-0.8zM51.9 247.0h0.8v0.8h-0.8zM22.8 240.9h0.8v0.8h-0.8zM32.4 257.9h0.8v0.8h-0.8zM52.6 246.0h0.8v0.8h-0.8zM41.8 254.5h0.8v0.8h-0.8zM53.7 260.2h0.8v0.8h-0.8zM49.3 255.7h0.8v0.8h-0.8zM37.2 248.5h0.8v0.8h-0.8zM32.6 250.5h0.8v0.8h-0.8zM48.0 260.3h0.8v0.8h-0.8zM54.2 232.8h0.8v0.8h-0.8zM52.6 255.1h0.8v0.8h-0.8zM33.2 253.9h0.8v0.8h-0.8zM33.7 241.6h0.8v0.8h-0.8zM59.6 249.8h0.8v0.8h-0.8zM35.9 235.4h0.8v0.8h-0.8zM42.9 241.4h0.8v0.8h-0.8zM67.3 243.7h0.8v0.8h-0.8zM46.4 257.6h0.8v0.8h-0.8zM22.9 230.1h0.8v0.8h-0.8zM61.1 249.8h0.8v0.8h-0.8zM36.2 233.5h0.8v0.8h-0.8zM51.5 253.4h0.8v0.8h-0.8zM49.4 234.5h0.8v0.8h-0.8zM51.1 242.5h0.8v0.8h-0.8zM35.7 236.3h0.8v0.8h-0.8zM25.5 253.5h0.8v0.8h-0.8zM34.2 258.8h0.8v0.8h-0.8zM26.8 249.9h0.8v0.8h-0.8zM61.8 258.0h0.8v0.8h-0.8zM54.2 237.7h0.8v0.8h-0.8zM27.8 252.9h0.8v0.8h-0.8zM29.0 240.7h0.8v0.8h-0.8zM33.4 236.4h0.8v0.8h-0.8zM43.7 260.8h0.8v0.8h-0.8zM61.9 256.6h0.8v0.8h-0.8zM65.5 245.6h0.8v0.8h-0.8zM27.0 251.2h0.8v0.8h-0.8zM27.7 260.9h0.8v0.8h-0.8zM66.1 258.7h0.8v0.8h-0.8zM63.5 256.9h0.8v0.8h-0.8zM21.8 231.1h0.8v0.8h-0.8zM40.6 252.9h0.8v0.8h-0.8zM41.9 253.4h0.8v0.8h-0.8zM21.8 237.4h0.8v0.8h-0.8zM47.5 253.9h0.8v0.8h-0.8zM25.7 256.8h0.8v0.8h-0.8zM44.3 258.1h0.8v0.8h-0.8zM30.8 240.4h0.8v0.8h-0.8zM24.5 252.8h0.8v0.8h-0.8zM26.3 254.5h0.8v0.8h-0.8zM39.6 248.3h0.8v0.8h-0.8zM43.7 232.5h0.8v0.8h-0.8zM48.0 261.2h0.8v0.8h-0.8zM20.9 255.9h0.8v0.8h-0.8zM28.9 250.1h0.8v0.8h-0.8zM59.9 252.3h0.8v0.8h-0.8zM47.6 248.5h0.8v0.8h-0.8zM40.1 258.0h0.8v0.8h-0.8zM25.8 237.5h0.8v0.8h-0.8zM25.1 260.8h0.8v0.8h-0.8zM28.2 258.6h0.8v0.8h-0.8zM26.7 241.4h0.8v0.8h-0.8zM57.5 248.4h0.8v0.8h-0.8zM34.1 249.8h0.8v0.8h-0.8zM35.5 254.7h0.8v0.8h-0.8zM61.8 241.6h0.8v0.8h-0.8zM43.6 241.1h0.8v0.8h-0.8zM34.9 250.1h0.8v0.8h-0.8zM23.1 250.0h0.8v0.8h-0.8zM28.7 260.6h0.8v0.8h-0.8zM31.4 257.5h0.8v0.8h-0.8zM57.5 257.5h0.8v0.8h-0.8zM51.5 233.3h0.8v0.8h-0.8zM34.1 245.7h0.8v0.8h-0.8zM22.1 226.2h0.8v0.8h-0.8zM46.7 260.5h0.8v0.8h-0.8zM49.5 249.5h0.8v0.8h-0.8zM68.5 251.8h0.8v0.8h-0.8zM39.2 258.1h0.8v0.8h-0.8zM62.2 233.6h0.8v0.8h-0.8zM32.9 254.0h0.8v0.8h-0.8zM26.1 255.7h0.8v0.8h-0.8zM32.0 258.0h0.8v0.8h-0.8zM37.7 259.6h0.8v0.8h-0.8zM32.2 249.6h0.8v0.8h-0.8zM51.0 253.0h0.8v0.8h-0.8zM41.7 244.8h0.8v0.8h-0.8zM61.9 250.7h0.8v0.8h-0.8zM22.9 257.1h0.8v0.8h-0.8zM22.1 230.3h0.8v0.8h-0.8zM37.7 260.9h0.8v0.8h-0.8zM24.1 245.6h0.8v0.8h-0.8zM24.7 257.7h0.8v0.8h-0.8zM31.6 235.4h0.8v0.8h-0.8zM23.9 227.8h0.8v0.8h-0.8zM49.6 260.8h0.8v0.8h-0.8zM27.0 247.5h0.8v0.8h-0.8zM47.4 251.0h0.8v0.8h-0.8zM30.4 252.1h0.8v0.8h-0.8zM26.5 229.2h0.8v0.8h-0.8zM59.4 245.5h0.8v0.8h-0.8zM48.3 239.4h0.8v0.8h-0.8zM36.7 250.4h0.8v0.8h-0.8zM58.8 248.3h0.8v0.8h-0.8zM48.8 251.9h0.8v0.8h-0.8zM48.1 243.2h0.8v0.8h-0.8zM46.7 250.2h0.8v0.8h-0.8zM21.6 259.9h0.8v0.8h-0.8zM29.3 258.3h0.8v0.8h-0.8zM68.8 242.5h0.8v0.8h-0.8zM40.2 259.2h0.8v0.8h-0.8zM54.7 244.0h0.8v0.8h-0.8zM26.8 255.4h0.8v0.8h-0.8zM56.3 258.0h0.8v0.8h-0.8zM21.8 258.4h0.8v0.8h-0.8zM22.0 233.7h0.8v0.8h-0.8zM67.7 243.0h0.8v0.8h-0.8zM63.2 257.4h0.8v0.8h-0.8zM61.2 255.3h0.8v0.8h-0.8zM60.4 258.7h0.8v0.8h-0.8zM58.0 243.4h0.8v0.8h-0.8zM41.1 250.8h0.8v0.8h-0.8zM30.2 257.7h0.8v0.8h-0.8zM52.0 235.4h0.8v0.8h-0.8zM37.9 253.6h0.8v0.8h-0.8zM51.8 238.1h0.8v0.8h-0.8zM42.0 252.2h0.8v0.8h-0.8zM42.9 243.0h0.8v0.8h-0.8zM30.4 255.6h0.8v0.8h-0.8zM22.8 256.2h0.8v0.8h-0.8zM57.2 258.8h0.8v0.8h-0.8zM46.7 245.7h0.8v0.8h-0.8zM32.8 240.5h0.8v0.8h-0.8zM30.0 252.5h0.8v0.8h-0.8zM27.7 251.4h0.8v0.8h-0.8zM31.9 260.8h0.8v0.8h-0.8zM37.2 255.1h0.8v0.8h-0.8zM36.0 244.6h0.8v0.8h-0.8zM28.2 249.5h0.8v0.8h-0.8zM65.1 260.3h0.8v0.8h-0.8zM23.3 240.1h0.8v0.8h-0.8zM43.5 243.8h0.8v0.8h-0.8zM58.2 259.6h0.8v0.8h-0.8zM45.2 240.3h0.8v0.8h-0.8zM23.7 255.9h0.8v0.8h-0.8zM32.1 240.1h0.8v0.8h-0.8zM68.8 227.8h0.8v0.8h-0.8zM31.5 258.7h0.8v0.8h-0.8zM59.5 258.6h0.8v0.8h-0.8zM32.5 241.3h0.8v0.8h-0.8zM26.8 231.0h0.8v0.8h-0.8zM29.4 256.2h0.8v0.8h-0.8zM45.5 234.5h0.8v0.8h-0.8zM50.5 256.1h0.8v0.8h-0.8zM37.2 239.3h0.8v0.8h-0.8zM45.4 249.6h0.8v0.8h-0.8zM34.7 258.9h0.8v0.8h-0.8zM46.8 257.7h0.8v0.8h-0.8zM58.0 251.2h0.8v0.8h-0.8zM42.4 244.0h0.8v0.8h-0.8zM46.2 254.5h0.8v0.8h-0.8zM69.3 260.4h0.8v0.8h-0.8zM50.8 241.8h0.8v0.8h-0.8zM59.6 260.2h0.8v0.8h-0.8zM53.7 236.9h0.8v0.8h-0.8zM60.0 253.4h0.8v0.8h-0.8zM59.8 241.2h0.8v0.8h-0.8zM37.8 250.4h0.8v0.8h-0.8zM48.7 247.9h0.8v0.8h-0.8zM49.5 256.2h0.8v0.8h-0.8zM47.2 237.4h0.8v0.8h-0.8zM41.8 239.0h0.8v0.8h-0.8zM39.9 253.8h0.8v0.8h-0.8zM36.2 257.5h0.8v0.8h-0.8zM22.3 248.0h0.8v0.8h-0.8zM31.7 243.5h0.8v0.8h-0.8zM46.4 250.1h0.8v0.8h-0.8zM64.8 256.6h0.8v0.8h-0.8zM24.3 230.7h0.8v0.8h-0.8zM32.3 258.2h0.8v0.8h-0.8zM45.6 258.8h0.8v0.8h-0.8zM64.5 240.3h0.8v0.8h-0.8zM53.4 227.6h0.8v0.8h-0.8zM64.1 253.2h0.8v0.8h-0.8zM34.9 249.1h0.8v0.8h-0.8zM54.1 235.9h0.8v0.8h-0.8zM52.6 255.5h0.8v0.8h-0.8zM41.7 255.3h0.8v0.8h-0.8zM28.7 249.0h0.8v0.8h-0.8zM65.5 244.1h0.8v0.8h-0.8zM46.6 249.3h0.8v0.8h-0.8zM28.6 260.9h0.8v0.8h-0.8zM39.7 247.3h0.8v0.8h-0.8zM25.9 248.7h0.8v0.8h-0.8zM49.0 258.0h0.8v0.8h-0.8zM53.8 260.4h0.8v0.8h-0.8zM21.1 257.1h0.8v0.8h-0.8zM29.3 253.6h0.8v0.8h-0.8zM59.2 255.9h0.8v0.8h-0.8zM41.7 252.1h0.8v0.8h-0.8zM32.5 244.3h0.8v0.8h-0.8zM22.9 230.1h0.8v0.8h-0.8zM53.1 245.2h0.8v0.8h-0.8zM31.2 253.5h0.8v0.8h-0.8zM35.4 239.2h0.8v0.8h-0.8zM37.7 260.3h0.8v0.8h-0.8zM40.2 253.5h0.8v0.8h-0.8zM66.6 243.9h0.8v0.8h-0.8zM31.0 252.7h0.8v0.8h-0.8zM66.2 236.3h0.8v0.8h-0.8zM37.8 244.8h0.8v0.8h-0.8zM38.6 247.4h0.8v0.8h-0.8zM56.2 246.1h0.8v0.8h-0.8zM34.5 248.7h0.8v0.8h-0.8zM60.1 257.2h0.8v0.8h-0.8zM38.2 240.4h0.8v0.8h-0.8zM30.8 244.1h0.8v0.8h-0.8zM45.9 251.4h0.8v0.8h-0.8zM44.0 258.1h0.8v0.8h-0.8zM42.6 236.1h0.8v0.8h-0.8zM30.5 255.6h0.8v0.8h-0.8zM30.0 255.4h0.8v0.8h-0.8zM39.9 259.8h0.8v0.8h-0.8zM65.7 251.7h0.8v0.8h-0.8zM48.7 230.9h0.8v0.8h-0.8zM67.9 228.5h0.8v0.8h-0.8zM54.8 256.9h0.8v0.8h-0.8zM35.2 252.7h0.8v0.8h-0.8zM49.6 248.6h0.8v0.8h-0.8zM44.5 247.7h0.8v0.8h-0.8zM50.3 248.5h0.8v0.8h-0.8zM38.5 237.4h0.8v0.8h-0.8zM22.5 259.8h0.8v0.8h-0.8zM37.8 260.3h0.8v0.8h-0.8zM25.1 255.5h0.8v0.8h-0.8zM31.3 251.0h0.8v0.8h-0.8zM42.0 254.3h0.8v0.8h-0.8zM33.7 237.3h0.8v0.8h-0.8zM48.8 247.5h0.8v0.8h-0.8zM22.7 250.7h0.8v0.8h-0.8zM34.4 258.6h0.8v0.8h-0.8zM59.1 260.7h0.8v0.8h-0.8zM56.6 253.0h0.8v0.8h-0.8zM40.3 230.6h0.8v0.8h-0.8zM58.1 239.0h0.8v0.8h-0.8zM41.9 226.8h0.8v0.8h-0.8zM29.8 254.4h0.8v0.8h-0.8zM35.5 251.8h0.8v0.8h-0.8zM35.3 251.9h0.8v0.8h-0.8zM65.6 232.1h0.8v0.8h-0.8zM44.1 261.2h0.8v0.8h-0.8zM40.4 249.8h0.8v0.8h-0.8zM66.8 251.0h0.8v0.8h-0.8zM23.0 252.4h0.8v0.8h-0.8zM42.4 252.8h0.8v0.8h-0.8zM36.5 261.0h0.8v0.8h-0.8zM67.3 250.0h0.8v0.8h-0.8zM41.6 260.2h0.8v0.8h-0.8zM43.0 243.9h0.8v0.8h-0.8zM55.4 229.1h0.8v0.8h-0.8zM44.8 255.0h0.8v0.8h-0.8zM42.6 225.3h0.8v0.8h-0.8zM52.8 258.0h0.8v0.8h-0.8zM44.8 242.3h0.8v0.8h-0.8zM33.3 244.4h0.8v0.8h-0.8zM26.5 258.0h0.8v0.8h-0.8zM60.7 260.9h0.8v0.8h-0.8zM36.6 256.5h0.8v0.8h-0.8zM26.1 244.0h0.8v0.8h-0.8zM22.5 256.1h0.8v0.8h-0.8zM24.5 258.7h0.8v0.8h-0.8zM56.5 260.9h0.8v0.8h-0.8zM44.3 259.2h0.8v0.8h-0.8zM47.7 241.0h0.8v0.8h-0.8zM63.1 257.5h0.8v0.8h-0.8zM58.2 233.4h0.8v0.8h-0.8zM44.2 241.7h0.8v0.8h-0.8zM58.5 246.4h0.8v0.8h-0.8zM68.8 254.1h0.8v0.8h-0.8zM31.0 254.9h0.8v0.8h-0.8zM53.6 251.2h0.8v0.8h-0.8zM54.1 231.8h0.8v0.8h-0.8zM54.7 231.5h0.8v0.8h-0.8zM22.7 259.0h0.8v0.8h-0.8zM45.5 242.9h0.8v0.8h-0.8zM20.9 244.8h0.8v0.8h-0.8zM57.9 250.8h0.8v0.8h-0.8zM27.6 239.4h0.8v0.8h-0.8zM58.6 240.9h0.8v0.8h-0.8zM53.9 239.3h0.8v0.8h-0.8zM50.1 256.1h0.8v0.8h-0.8zM28.3 240.9h0.8v0.8h-0.8zM26.2 242.5h0.8v0.8h-0.8zM53.7 242.1h0.8v0.8h-0.8zM60.6 231.7h0.8v0.8h-0.8zM60.3 247.2h0.8v0.8h-0.8zM54.4 251.7h0.8v0.8h-0.8zM40.6 238.1h0.8v0.8h-0.8zM57.2 233.4h0.8v0.8h-0.8zM43.6 244.3h0.8v0.8h-0.8zM27.8 235.4h0.8v0.8h-0.8zM62.6 247.1h0.8v0.8h-0.8zM23.2 250.3h0.8v0.8h-0.8zM40.2 253.6h0.8v0.8h-0.8zM30.6 253.9h0.8v0.8h-0.8zM38.2 245.9h0.8v0.8h-0.8zM44.9 242.1h0.8v0.8h-0.8zM56.9 245.0h0.8v0.8h-0.8zM67.5 259.8h0.8v0.8h-0.8zM33.7 254.7h0.8v0.8h-0.8zM37.9 256.1h0.8v0.8h-0.8zM58.4 255.0h0.8v0.8h-0.8zM50.7 244.2h0.8v0.8h-0.8zM48.8 257.7h0.8v0.8h-0.8zM44.3 246.5h0.8v0.8h-0.8zM29.8 237.8h0.8v0.8h-0.8zM29.7 240.6h0.8v0.8h-0.8zM24.3 259.9h0.8v0.8h-0.8zM24.7 245.5h0.8v0.8h-0.8zM33.1 243.6h0.8v0.8h-0.8zM27.0 258.3h0.8v0.8h-0.8zM24.3 253.6h0.8v0.8h-0.8zM41.4 255.7h0.8v0.8h-0.8zM50.6 256.8h0.8v0.8h-0.8zM34.4 234.8h0.8v0.8h-0.8zM49.4 252.0h0.8v0.8h-0.8zM21.1 253.1h0.8v0.8h-0.8zM62.1 243.7h0.8v0.8h-0.8zM48.9 243.7h0.8v0.8h-0.8zM46.2 243.6h0.8v0.8h-0.8zM39.3 237.9h0.8v0.8h-0.8zM33.9 257.4h0.8v0.8h-0.8zM66.9 225.3h0.8v0.8h-0.8zM62.4 261.0h0.8v0.8h-0.8zM54.9 248.1h0.8v0.8h-0.8zM51.9 259.6h0.8v0.8h-0.8zM35.5 232.9h0.8v0.8h-0.8zM49.8 257.9h0.8v0.8h-0.8zM57.3 254.0h0.8v0.8h-0.8zM54.8 232.1h0.8v0.8h-0.8zM22.9 237.1h0.8v0.8h-0.8zM35.0 251.0h0.8v0.8h-0.8zM51.6 241.5h0.8v0.8h-0.8zM45.1 257.0h0.8v0.8h-0.8zM66.2 251.6h0.8v0.8h-0.8zM40.2 254.4h0.8v0.8h-0.8zM35.2 240.7h0.8v0.8h-0.8zM50.8 251.2h0.8v0.8h-0.8zM27.2 249.1h0.8v0.8h-0.8zM40.0 255.9h0.8v0.8h-0.8zM58.0 246.8h0.8v0.8h-0.8zM29.0 256.7h0.8v0.8h-0.8zM58.8 240.6h0.8v0.8h-0.8zM37.6 250.9h0.8v0.8h-0.8zM46.0 261.2h0.8v0.8h-0.8zM26.6 245.2h0.8v0.8h-0.8zM65.7 245.8h0.8v0.8h-0.8zM62.8 247.3h0.8v0.8h-0.8zM37.6 254.6h0.8v0.8h-0.8zM67.7 258.7h0.8v0.8h-0.8zM25.5 256.6h0.8v0.8h-0.8zM22.2 248.5h0.8v0.8h-0.8zM47.6 260.8h0.8v0.8h-0.8zM60.7 246.8h0.8v0.8h-0.8zM60.7 257.5h0.8v0.8h-0.8zM41.6 260.8h0.8v0.8h-0.8zM49.8 234.1h0.8v0.8h-0.8zM57.2 233.2h0.8v0.8h-0.8zM54.1 247.4h0.8v0.8h-0.8zM29.7 237.2h0.8v0.8h-0.8zM56.6 250.3h0.8v0.8h-0.8zM66.3 255.7h0.8v0.8h-0.8zM45.3 258.7h0.8v0.8h-0.8zM39.4 239.5h0.8v0.8h-0.8zM50.3 246.5h0.8v0.8h-0.8zM29.2 228.7h0.8v0.8h-0.8zM49.3 255.6h0.8v0.8h-0.8zM61.5 255.4h0.8v0.8h-0.8zM33.7 232.8h0.8v0.8h-0.8zM30.5 259.8h0.8v0.8h-0.8zM33.6 252.7h0.8v0.8h-0.8zM21.4 250.7h0.8v0.8h-0.8zM69.2 254.2h0.8v0.8h-0.8zM34.5 256.9h0.8v0.8h-0.8zM36.7 258.4h0.8v0.8h-0.8zM51.3 250.0h0.8v0.8h-0.8zM50.2 251.7h0.8v0.8h-0.8zM66.2 239.0h0.8v0.8h-0.8zM54.2 255.6h0.8v0.8h-0.8zM60.7 255.0h0.8v0.8h-0.8zM32.1 260.3h0.8v0.8h-0.8zM22.6 247.2h0.8v0.8h-0.8zM30.0 246.1h0.8v0.8h-0.8zM28.3 230.9h0.8v0.8h-0.8zM43.5 241.8h0.8v0.8h-0.8zM58.6 254.1h0.8v0.8h-0.8zM40.2 254.8h0.8v0.8h-0.8zM51.0 242.1h0.8v0.8h-0.8zM38.0 258.3h0.8v0.8h-0.8zM34.7 238.1h0.8v0.8h-0.8zM48.6 258.6h0.8v0.8h-0.8zM20.8 254.3h0.8v0.8h-0.8zM20.7 260.8h0.8v0.8h-0.8zM38.5 234.2h0.8v0.8h-0.8zM67.8 251.0h0.8v0.8h-0.8zM32.4 259.3h0.8v0.8h-0.8zM21.7 256.4h0.8v0.8h-0.8zM32.6 248.2h0.8v0.8h-0.8zM67.9 254.8h0.8v0.8h-0.8zM27.8 225.1h0.8v0.8h-0.8zM66.9 255.4h0.8v0.8h-0.8zM22.7 243.4h0.8v0.8h-0.8zM25.4 242.0h0.8v0.8h-0.8zM32.0 258.2h0.8v0.8h-0.8zM30.3 255.0h0.8v0.8h-0.8zM41.1 256.2h0.8v0.8h-0.8zM37.3 233.0h0.8v0.8h-0.8zM44.0 257.9h0.8v0.8h-0.8zM57.5 244.1h0.8v0.8h-0.8zM36.2 243.2h0.8v0.8h-0.8zM37.3 252.0h0.8v0.8h-0.8zM24.8 255.2h0.8v0.8h-0.8zM51.5 257.4h0.8v0.8h-0.8zM53.5 247.2h0.8v0.8h-0.8zM63.1 244.1h0.8v0.8h-0.8zM36.7 256.9h0.8v0.8h-0.8zM26.2 258.8h0.8v0.8h-0.8zM37.5 258.5h0.8v0.8h-0.8zM25.9 243.1h0.8v0.8h-0.8zM36.1 258.8h0.8v0.8h-0.8zM43.3 257.9h0.8v0.8h-0.8zM29.4 260.0h0.8v0.8h-0.8zM56.9 230.0h0.8v0.8h-0.8zM67.0 248.9h0.8v0.8h-0.8zM29.7 247.2h0.8v0.8h-0.8zM31.5 257.2h0.8v0.8h-0.8zM59.3 251.9h0.8v0.8h-0.8zM36.6 233.9h0.8v0.8h-0.8zM45.2 253.1h0.8v0.8h-0.8zM51.9 247.4h0.8v0.8h-0.8zM40.3 248.7h0.8v0.8h-0.8zM27.5 260.3h0.8v0.8h-0.8zM48.5 245.6h0.8v0.8h-0.8zM27.2 257.1h0.8v0.8h-0.8zM50.7 259.0h0.8v0.8h-0.8zM53.6 235.8h0.8v0.8h-0.8zM36.5 249.4h0.8v0.8h-0.8zM23.3 234.6h0.8v0.8h-0.8zM49.4 258.3h0.8v0.8h-0.8zM24.1 244.3h0.8v0.8h-0.8zM30.6 257.9h0.8v0.8h-0.8zM22.5 255.3h0.8v0.8h-0.8zM24.1 229.8h0.8v0.8h-0.8zM59.0 250.9h0.8v0.8h-0.8zM68.8 257.8h0.8v0.8h-0.8zM28.4 250.3h0.8v0.8h-0.8zM60.2 260.4h0.8v0.8h-0.8zM37.1 237.6h0.8v0.8h-0.8zM26.6 244.8h0.8v0.8h-0.8zM65.7 247.4h0.8v0.8h-0.8zM27.3 246.7h0.8v0.8h-0.8zM23.1 249.4h0.8v0.8h-0.8zM42.6 238.1h0.8v0.8h-0.8zM52.6 238.5h0.8v0.8h-0.8zM44.6 251.9h0.8v0.8h-0.8zM64.7 257.9h0.8v0.8h-0.8zM65.3 236.3h0.8v0.8h-0.8zM25.3 239.3h0.8v0.8h-0.8zM57.7 257.1h0.8v0.8h-0.8zM24.4 245.9h0.8v0.8h-0.8zM57.9 255.9h0.8v0.8h-0.8zM40.6 247.2h0.8v0.8h-0.8zM42.7 251.1h0.8v0.8h-0.8zM45.6 255.6h0.8v0.8h-0.8zM58.7 236.6h0.8v0.8h-0.8zM51.9 260.2h0.8v0.8h-0.8zM27.1 240.6h0.8v0.8h-0.8zM24.2 233.8h0.8v0.8h-0.8zM27.2 238.6h0.8v0.8h-0.8zM43.9 247.2h0.8v0.8h-0.8zM22.4 259.2h0.8v0.8h-0.8zM32.5 248.1h0.8v0.8h-0.8zM60.3 259.9h0.8v0.8h-0.8zM41.8 257.6h0.8v0.8h-0.8zM42.9 255.3h0.8v0.8h-0.8zM59.7 251.4h0.8v0.8h-0.8zM29.8 242.1h0.8v0.8h-0.8zM48.5 256.9h0.8v0.8h-0.8zM67.9 257.2h0.8v0.8h-0.8zM37.5 252.5h0.8v0.8h-0.8zM24.3 238.0h0.8v0.8h-0.8zM44.6 256.5h0.8v0.8h-0.8zM66.2 257.9h0.8v0.8h-0.8zM51.1 235.4h0.8v0.8h-0.8zM45.8 256.7h0.8v0.8h-0.8zM65.1 260.5h0.8v0.8h-0.8zM29.2 247.0h0.8v0.8h-0.8zM59.2 240.5h0.8v0.8h-0.8zM44.3 242.5h0.8v0.8h-0.8zM53.6 250.6h0.8v0.8h-0.8zM28.5 242.7h0.8v0.8h-0.8zM61.0 253.1h0.8v0.8h-0.8zM60.2 247.8h0.8v0.8h-0.8zM54.4 251.9h0.8v0.8h-0.8zM60.3 255.3h0.8v0.8h-0.8zM25.9 257.5h0.8v0.8h-0.8zM49.4 249.0h0.8v0.8h-0.8zM35.9 233.5h0.8v0.8h-0.8zM26.4 238.3h0.8v0.8h-0.8zM48.6 255.7h0.8v0.8h-0.8zM54.6 250.3h0.8v0.8h-0.8zM30.1 238.9h0.8v0.8h-0.8zM25.8 246.0h0.8v0.8h-0.8zM50.8 261.0h0.8v0.8h-0.8zM58.9 250.7h0.8v0.8h-0.8zM24.4 257.3h0.8v0.8h-0.8zM27.4 258.1h0.8v0.8h-0.8zM42.3 249.3h0.8v0.8h-0.8zM41.2 255.8h0.8v0.8h-0.8zM66.8 245.8h0.8v0.8h-0.8zM50.7 229.1h0.8v0.8h-0.8zM28.4 259.5h0.8v0.8h-0.8zM64.3 258.6h0.8v0.8h-0.8zM56.9 259.7h0.8v0.8h-0.8zM45.5 257.0h0.8v0.8h-0.8zM35.4 261.1h0.8v0.8h-0.8zM59.7 247.3h0.8v0.8h-0.8zM51.3 255.7h0.8v0.8h-0.8zM34.8 258.7h0.8v0.8h-0.8zM49.4 255.7h0.8v0.8h-0.8zM22.5 247.3h0.8v0.8h-0.8zM48.6 250.0h0.8v0.8h-0.8zM35.1 259.0h0.8v0.8h-0.8zM42.6 240.2h0.8v0.8h-0.8zM47.2 244.3h0.8v0.8h-0.8zM34.4 259.4h0.8v0.8h-0.8zM25.2 240.0h0.8v0.8h-0.8zM34.9 257.5h0.8v0.8h-0.8zM63.3 242.0h0.8v0.8h-0.8zM31.0 260.8h0.8v0.8h-0.8zM22.5 254.8h0.8v0.8h-0.8zM37.9 244.8h0.8v0.8h-0.8zM43.6 259.1h0.8v0.8h-0.8zM62.1 246.8h0.8v0.8h-0.8zM64.6 258.8h0.8v0.8h-0.8zM27.7 251.0h0.8v0.8h-0.8zM26.6 253.6h0.8v0.8h-0.8zM68.6 244.0h0.8v0.8h-0.8zM30.9 232.6h0.8v0.8h-0.8zM50.0 253.4h0.8v0.8h-0.8zM42.0 251.8h0.8v0.8h-0.8zM25.3 239.7h0.8v0.8h-0.8zM38.5 257.9h0.8v0.8h-0.8zM57.3 234.8h0.8v0.8h-0.8zM22.4 250.5h0.8v0.8h-0.8zM28.2 237.8h0.8v0.8h-0.8zM21.2 233.8h0.8v0.8h-0.8zM21.9 253.1h0.8v0.8h-0.8zM41.4 244.4h0.8v0.8h-0.8zM23.1 256.7h0.8v0.8h-0.8zM50.1 233.3h0.8v0.8h-0.8zM26.1 257.1h0.8v0.8h-0.8zM40.0 256.7h0.8v0.8h-0.8zM50.7 248.5h0.8v0.8h-0.8zM27.4 255.9h0.8v0.8h-0.8zM50.8 255.4h0.8v0.8h-0.8zM43.4 245.0h0.8v0.8h-0.8zM39.8 249.8h0.8v0.8h-0.8zM23.2 234.0h0.8v0.8h-0.8zM56.5 235.7h0.8v0.8h-0.8zM30.5 235.5h0.8v0.8h-0.8zM27.5 247.3h0.8v0.8h-0.8zM36.1 251.0h0.8v0.8h-0.8zM27.7 245.7h0.8v0.8h-0.8zM34.0 245.9h0.8v0.8h-0.8zM60.0 256.3h0.8v0.8h-0.8zM23.0 251.6h0.8v0.8h-0.8zM42.6 255.0h0.8v0.8h-0.8zM26.3 246.8h0.8v0.8h-0.8zM41.1 251.7h0.8v0.8h-0.8zM37.7 227.2h0.8v0.8h-0.8zM45.7 244.2h0.8v0.8h-0.8zM64.5 233.7h0.8v0.8h-0.8zM38.3 250.7h0.8v0.8h-0.8zM50.8 247.3h0.8v0.8h-0.8zM31.3 250.2h0.8v0.8h-0.8zM50.5 253.7h0.8v0.8h-0.8zM29.1 244.6h0.8v0.8h-0.8zM46.7 251.6h0.8v0.8h-0.8zM43.9 241.8h0.8v0.8h-0.8zM66.0 258.2h0.8v0.8h-0.8zM46.3 248.9h0.8v0.8h-0.8zM33.0 258.8h0.8v0.8h-0.8zM44.9 245.6h0.8v0.8h-0.8zM66.9 238.6h0.8v0.8h-0.8zM26.4 243.6h0.8v0.8h-0.8zM57.9 248.4h0.8v0.8h-0.8zM67.7 259.8h0.8v0.8h-0.8zM27.7 237.9h0.8v0.8h-0.8zM40.6 253.3h0.8v0.8h-0.8zM37.6 240.6h0.8v0.8h-0.8zM36.5 258.9h0.8v0.8h-0.8zM63.8 251.1h0.8v0.8h-0.8zM28.3 243.5h0.8v0.8h-0.8zM26.8 260.4h0.8v0.8h-0.8zM23.5 257.1h0.8v0.8h-0.8zM53.8 243.3h0.8v0.8h-0.8zM25.6 259.4h0.8v0.8h-0.8zM52.7 245.7h0.8v0.8h-0.8zM67.6 249.1h0.8v0.8h-0.8zM40.2 247.8h0.8v0.8h-0.8zM33.3 250.0h0.8v0.8h-0.8zM34.8 246.0h0.8v0.8h-0.8zM48.3 240.2h0.8v0.8h-0.8zM45.4 258.1h0.8v0.8h-0.8zM31.2 248.6h0.8v0.8h-0.8zM61.4 243.2h0.8v0.8h-0.8zM49.5 260.5h0.8v0.8h-0.8zM51.4 256.7h0.8v0.8h-0.8zM60.7 251.4h0.8v0.8h-0.8zM39.2 260.5h0.8v0.8h-0.8zM34.5 253.3h0.8v0.8h-0.8zM27.9 240.9h0.8v0.8h-0.8zM61.8 252.6h0.8v0.8h-0.8zM28.0 246.3h0.8v0.8h-0.8zM57.9 237.2h0.8v0.8h-0.8zM24.7 226.2h0.8v0.8h-0.8zM53.7 245.0h0.8v0.8h-0.8zM34.4 256.0h0.8v0.8h-0.8zM21.5 256.2h0.8v0.8h-0.8zM47.9 232.2h0.8v0.8h-0.8zM45.6 246.7h0.8v0.8h-0.8zM38.3 246.9h0.8v0.8h-0.8zM30.0 254.0h0.8v0.8h-0.8zM27.1 236.9h0.8v0.8h-0.8zM42.8 257.2h0.8v0.8h-0.8zM30.6 249.3h0.8v0.8h-0.8zM49.4 252.6h0.8v0.8h-0.8zM24.1 257.8h0.8v0.8h-0.8zM45.6 248.6h0.8v0.8h-0.8zM65.9 254.4h0.8v0.8h-0.8zM25.7 242.0h0.8v0.8h-0.8zM26.8 244.1h0.8v0.8h-0.8zM25.5 251.3h0.8v0.8h-0.8zM29.5 256.0h0.8v0.8h-0.8zM50.3 261.0h0.8v0.8h-0.8zM46.4 259.3h0.8v0.8h-0.8zM41.0 260.5h0.8v0.8h-0.8zM22.6 259.0h0.8v0.8h-0.8zM63.7 237.1h0.8v0.8h-0.8zM43.5 256.3h0.8v0.8h-0.8zM43.7 260.7h0.8v0.8h-0.8zM31.7 235.4h0.8v0.8h-0.8zM36.3 249.9h0.8v0.8h-0.8zM27.2 229.8h0.8v0.8h-0.8zM34.0 252.0h0.8v0.8h-0.8zM44.3 255.1h0.8v0.8h-0.8zM21.6 256.6h0.8v0.8h-0.8zM56.9 252.6h0.8v0.8h-0.8zM27.4 243.8h0.8v0.8h-0.8zM66.0 251.0h0.8v0.8h-0.8zM22.3 238.5h0.8v0.8h-0.8zM65.1 257.5h0.8v0.8h-0.8zM34.6 252.0h0.8v0.8h-0.8zM35.7 254.7h0.8v0.8h-0.8zM31.8 248.5h0.8v0.8h-0.8zM49.1 260.2h0.8v0.8h-0.8zM30.9 231.5h0.8v0.8h-0.8zM51.7 257.2h0.8v0.8h-0.8zM49.2 259.3h0.8v0.8h-0.8zM48.8 243.5h0.8v0.8h-0.8zM28.3 237.5h0.8v0.8h-0.8zM20.7 258.3h0.8v0.8h-0.8zM41.1 257.6h0.8v0.8h-0.8zM39.8 239.9h0.8v0.8h-0.8zM41.1 242.9h0.8v0.8h-0.8zM46.0 256.0h0.8v0.8h-0.8zM39.0 241.4h0.8v0.8h-0.8zM20.8 248.4h0.8v0.8h-0.8zM40.7 242.7h0.8v0.8h-0.8zM23.4 253.8h0.8v0.8h-0.8zM50.6 260.1h0.8v0.8h-0.8zM41.8 253.1h0.8v0.8h-0.8zM30.4 252.6h0.8v0.8h-0.8zM41.1 257.3h0.8v0.8h-0.8zM37.0 249.1h0.8v0.8h-0.8zM37.9 236.1h0.8v0.8h-0.8zM49.3 253.6h0.8v0.8h-0.8zM54.5 261.2h0.8v0.8h-0.8zM57.0 232.3h0.8v0.8h-0.8zM38.4 253.7h0.8v0.8h-0.8zM21.3 243.8h0.8v0.8h-0.8zM66.9 260.5h0.8v0.8h-0.8zM51.0 247.1h0.8v0.8h-0.8zM41.8 252.9h0.8v0.8h-0.8zM61.3 258.0h0.8v0.8h-0.8zM45.9 255.7h0.8v0.8h-0.8zM42.7 254.2h0.8v0.8h-0.8zM47.0 255.7h0.8v0.8h-0.8zM47.8 255.2h0.8v0.8h-0.8zM23.9 233.1h0.8v0.8h-0.8zM21.5 250.7h0.8v0.8h-0.8zM21.4 257.2h0.8v0.8h-0.8zM50.6 252.8h0.8v0.8h-0.8zM33.9 232.7h0.8v0.8h-0.8zM51.0 242.8h0.8v0.8h-0.8zM42.8 257.8h0.8v0.8h-0.8zM50.6 260.2h0.8v0.8h-0.8zM52.7 242.3h0.8v0.8h-0.8zM56.0 237.5h0.8v0.8h-0.8zM39.1 258.3h0.8v0.8h-0.8zM22.6 247.5h0.8v0.8h-0.8zM20.8 259.3h0.8v0.8h-0.8zM60.6 250.9h0.8v0.8h-0.8zM55.0 244.6h0.8v0.8h-0.8zM29.2 258.1h0.8v0.8h-0.8zM42.9 246.4h0.8v0.8h-0.8zM28.2 252.2h0.8v0.8h-0.8zM31.7 248.2h0.8v0.8h-0.8zM41.1 256.3h0.8v0.8h-0.8zM46.7 234.2h0.8v0.8h-0.8zM24.2 259.9h0.8v0.8h-0.8zM21.3 255.3h0.8v0.8h-0.8zM63.6 260.5h0.8v0.8h-0.8zM44.2 250.1h0.8v0.8h-0.8zM69.5 234.4h0.8v0.8h-0.8zM64.1 259.8h0.8v0.8h-0.8zM34.3 249.5h0.8v0.8h-0.8zM58.3 255.5h0.8v0.8h-0.8zM28.0 237.1h0.8v0.8h-0.8zM21.0 235.6h0.8v0.8h-0.8zM66.0 253.8h0.8v0.8h-0.8zM50.8 249.2h0.8v0.8h-0.8zM43.2 240.8h0.8v0.8h-0.8zM40.9 253.7h0.8v0.8h-0.8zM56.0 246.3h0.8v0.8h-0.8zM34.6 240.6h0.8v0.8h-0.8zM33.8 250.3h0.8v0.8h-0.8zM30.1 237.9h0.8v0.8h-0.8zM67.6 236.9h0.8v0.8h-0.8zM69.3 256.9h0.8v0.8h-0.8zM24.8 258.1h0.8v0.8h-0.8zM34.2 239.9h0.8v0.8h-0.8zM24.1 240.1h0.8v0.8h-0.8zM30.3 248.8h0.8v0.8h-0.8zM34.5 256.3h0.8v0.8h-0.8zM27.9 257.7h0.8v0.8h-0.8zM33.0 255.6h0.8v0.8h-0.8zM65.7 248.1h0.8v0.8h-0.8zM40.2 260.9h0.8v0.8h-0.8zM41.4 231.4h0.8v0.8h-0.8zM56.5 229.0h0.8v0.8h-0.8zM32.3 261.1h0.8v0.8h-0.8zM63.4 260.9h0.8v0.8h-0.8zM53.6 249.8h0.8v0.8h-0.8zM51.0 261.0h0.8v0.8h-0.8zM46.8 241.5h0.8v0.8h-0.8zM29.9 251.8h0.8v0.8h-0.8zM55.7 251.9h0.8v0.8h-0.8zM37.5 258.9h0.8v0.8h-0.8zM45.0 255.6h0.8v0.8h-0.8zM54.7 239.1h0.8v0.8h-0.8zM31.1 243.2h0.8v0.8h-0.8zM51.7 253.2h0.8v0.8h-0.8zM53.9 258.4h0.8v0.8h-0.8zM62.3 258.4h0.8v0.8h-0.8zM39.8 261.0h0.8v0.8h-0.8zM37.9 253.0h0.8v0.8h-0.8zM66.5 243.4h0.8v0.8h-0.8zM30.4 261.1h0.8v0.8h-0.8zM34.4 253.4h0.8v0.8h-0.8zM60.6 255.7h0.8v0.8h-0.8zM42.0 234.7h0.8v0.8h-0.8zM67.9 260.6h0.8v0.8h-0.8zM65.0 228.7h0.8v0.8h-0.8zM45.7 255.6h0.8v0.8h-0.8zM67.6 237.1h0.8v0.8h-0.8zM38.1 246.2h0.8v0.8h-0.8zM45.3 248.5h0.8v0.8h-0.8zM41.6 254.4h0.8v0.8h-0.8zM28.7 255.0h0.8v0.8h-0.8zM24.6 247.3h0.8v0.8h-0.8zM67.2 244.7h0.8v0.8h-0.8zM52.5 244.0h0.8v0.8h-0.8zM41.0 256.5h0.8v0.8h-0.8zM26.7 248.2h0.8v0.8h-0.8zM46.3 260.1h0.8v0.8h-0.8zM48.2 240.4h0.8v0.8h-0.8zM47.2 231.1h0.8v0.8h-0.8zM36.6 239.5h0.8v0.8h-0.8zM62.5 257.2h0.8v0.8h-0.8zM63.8 256.8h0.8v0.8h-0.8zM47.1 256.8h0.8v0.8h-0.8zM47.4 237.2h0.8v0.8h-0.8zM45.9 232.3h0.8v0.8h-0.8zM58.2 253.2h0.8v0.8h-0.8zM37.3 253.6h0.8v0.8h-0.8zM49.8 250.0h0.8v0.8h-0.8zM29.4 246.6h0.8v0.8h-0.8zM48.9 254.4h0.8v0.8h-0.8zM39.6 258.8h0.8v0.8h-0.8zM21.9 261.0h0.8v0.8h-0.8zM28.7 246.4h0.8v0.8h-0.8zM50.6 254.1h0.8v0.8h-0.8zM25.0 245.9h0.8v0.8h-0.8zM50.8 252.8h0.8v0.8h-0.8zM51.9 260.0h0.8v0.8h-0.8zM58.6 243.3h0.8v0.8h-0.8zM59.1 249.2h0.8v0.8h-0.8zM59.7 256.1h0.8v0.8h-0.8zM58.8 248.3h0.8v0.8h-0.8zM68.9 259.6h0.8v0.8h-0.8zM28.5 245.0h0.8v0.8h-0.8zM61.9 240.8h0.8v0.8h-0.8zM21.2 236.6h0.8v0.8h-0.8zM21.2 259.6h0.8v0.8h-0.8zM42.1 237.2h0.8v0.8h-0.8zM64.1 247.8h0.8v0.8h-0.8zM29.9 256.6h0.8v0.8h-0.8zM61.5 247.4h0.8v0.8h-0.8zM69.6 240.1h0.8v0.8h-0.8zM47.8 259.3h0.8v0.8h-0.8zM37.4 258.2h0.8v0.8h-0.8zM51.5 261.0h0.8v0.8h-0.8zM33.3 254.5h0.8v0.8h-0.8zM42.6 244.1h0.8v0.8h-0.8zM21.2 254.7h0.8v0.8h-0.8zM28.3 241.1h0.8v0.8h-0.8zM64.4 247.0h0.8v0.8h-0.8zM57.2 232.3h0.8v0.8h-0.8zM45.1 258.8h0.8v0.8h-0.8zM28.6 252.7h0.8v0.8h-0.8zM45.6 235.4h0.8v0.8h-0.8zM45.3 236.6h0.8v0.8h-0.8zM34.5 247.5h0.8v0.8h-0.8zM69.6 259.0h0.8v0.8h-0.8zM58.6 235.0h0.8v0.8h-0.8zM33.6 259.0h0.8v0.8h-0.8zM29.1 256.2h0.8v0.8h-0.8zM22.8 257.6h0.8v0.8h-0.8zM25.8 252.1h0.8v0.8h-0.8zM32.4 258.3h0.8v0.8h-0.8zM49.1 254.6h0.8v0.8h-0.8zM55.1 257.0h0.8v0.8h-0.8zM53.6 226.7h0.8v0.8h-0.8zM38.0 257.4h0.8v0.8h-0.8zM38.1 241.2h0.8v0.8h-0.8zM51.6 253.2h0.8v0.8h-0.8zM35.8 246.6h0.8v0.8h-0.8zM52.9 242.1h0.8v0.8h-0.8zM29.8 242.6h0.8v0.8h-0.8zM52.8 241.7h0.8v0.8h-0.8zM68.1 240.9h0.8v0.8h-0.8zM42.9 253.1h0.8v0.8h-0.8zM39.0 253.2h0.8v0.8h-0.8zM54.1 246.1h0.8v0.8h-0.8zM43.8 250.9h0.8v0.8h-0.8zM54.8 260.2h0.8v0.8h-0.8zM45.8 258.1h0.8v0.8h-0.8zM52.2 237.1h0.8v0.8h-0.8zM33.2 260.1h0.8v0.8h-0.8zM40.4 253.6h0.8v0.8h-0.8zM41.1 245.0h0.8v0.8h-0.8zM52.9 260.8h0.8v0.8h-0.8zM36.1 260.3h0.8v0.8h-0.8zM58.7 261.0h0.8v0.8h-0.8zM24.5 259.5h0.8v0.8h-0.8zM61.4 247.6h0.8v0.8h-0.8zM39.2 253.4h0.8v0.8h-0.8zM20.6 241.4h0.8v0.8h-0.8zM57.9 237.8h0.8v0.8h-0.8zM63.1 249.0h0.8v0.8h-0.8zM25.3 255.5h0.8v0.8h-0.8zM57.2 241.4h0.8v0.8h-0.8zM39.4 257.5h0.8v0.8h-0.8zM41.6 255.1h0.8v0.8h-0.8zM53.0 241.9h0.8v0.8h-0.8zM31.2 259.5h0.8v0.8h-0.8zM32.9 241.4h0.8v0.8h-0.8zM27.7 252.1h0.8v0.8h-0.8zM49.7 253.8h0.8v0.8h-0.8zM38.5 260.7h0.8v0.8h-0.8zM55.9 252.1h0.8v0.8h-0.8zM66.3 257.7h0.8v0.8h-0.8zM50.4 259.8h0.8v0.8h-0.8zM64.2 245.8h0.8v0.8h-0.8zM68.7 243.4h0.8v0.8h-0.8zM51.1 253.4h0.8v0.8h-0.8zM46.9 235.7h0.8v0.8h-0.8zM61.0 252.5h0.8v0.8h-0.8zM25.9 236.5h0.8v0.8h-0.8zM63.0 252.8h0.8v0.8h-0.8zM27.7 252.1h0.8v0.8h-0.8zM50.2 242.2h0.8v0.8h-0.8zM65.9 243.7h0.8v0.8h-0.8zM44.4 254.2h0.8v0.8h-0.8zM53.7 253.4h0.8v0.8h-0.8zM24.0 259.9h0.8v0.8h-0.8zM25.1 234.2h0.8v0.8h-0.8zM48.1 253.2h0.8v0.8h-0.8zM42.1 251.2h0.8v0.8h-0.8zM24.0 244.1h0.8v0.8h-0.8zM58.5 243.1h0.8v0.8h-0.8zM32.5 259.2h0.8v0.8h-0.8zM52.6 256.8h0.8v0.8h-0.8zM59.7 232.2h0.8v0.8h-0.8zM24.7 243.1h0.8v0.8h-0.8zM42.4 256.3h0.8v0.8h-0.8zM47.2 257.3h0.8v0.8h-0.8zM39.4 254.2h0.8v0.8h-0.8zM42.7 253.0h0.8v0.8h-0.8zM21.1 253.4h0.8v0.8h-0.8zM45.7 260.5h0.8v0.8h-0.8zM61.1 256.2h0.8v0.8h-0.8zM48.9 246.6h0.8v0.8h-0.8zM29.6 257.9h0.8v0.8h-0.8zM53.7 234.9h0.8v0.8h-0.8zM23.7 256.8h0.8v0.8h-0.8zM68.2 257.8h0.8v0.8h-0.8zM28.6 251.7h0.8v0.8h-0.8zM34.2 254.7h0.8v0.8h-0.8zM43.9 233.7h0.8v0.8h-0.8zM49.1 237.2h0.8v0.8h-0.8zM31.8 225.1h0.8v0.8h-0.8zM24.8 259.0h0.8v0.8h-0.8zM32.0 252.6h0.8v0.8h-0.8zM28.6 244.0h0.8v0.8h-0.8zM41.6 245.3h0.8v0.8h-0.8zM41.6 256.1h0.8v0.8h-0.8zM39.6 261.0h0.8v0.8h-0.8zM32.7 254.3h0.8v0.8h-0.8zM32.8 239.0h0.8v0.8h-0.8zM47.4 250.8h0.8v0.8h-0.8zM60.4 248.8h0.8v0.8h-0.8zM29.5 246.0h0.8v0.8h-0.8zM55.1 235.9h0.8v0.8h-0.8zM40.5 250.1h0.8v0.8h-0.8zM37.5 256.3h0.8v0.8h-0.8zM49.5 251.6h0.8v0.8h-0.8zM54.6 245.5h0.8v0.8h-0.8zM51.6 255.9h0.8v0.8h-0.8zM26.7 250.8h0.8v0.8h-0.8zM39.1 235.2h0.8v0.8h-0.8zM40.4 242.1h0.8v0.8h-0.8zM61.2 244.4h0.8v0.8h-0.8zM51.0 248.7h0.8v0.8h-0.8zM50.7 253.5h0.8v0.8h-0.8zM38.7 259.3h0.8v0.8h-0.8zM33.5 247.5h0.8v0.8h-0.8zM37.6 231.4h0.8v0.8h-0.8zM34.2 251.4h0.8v0.8h-0.8zM37.1 259.0h0.8v0.8h-0.8zM28.5 240.0h0.8v0.8h-0.8zM22.1 254.0h0.8v0.8h-0.8zM30.8 252.4h0.8v0.8h-0.8zM46.9 254.7h0.8v0.8h-0.8zM29.3 261.1h0.8v0.8h-0.8zM30.8 260.0h0.8v0.8h-0.8zM21.5 255.0h0.8v0.8h-0.8zM33.7 248.6h0.8v0.8h-0.8zM65.2 248.1h0.8v0.8h-0.8zM46.9 258.4h0.8v0.8h-0.8zM50.0 232.8h0.8v0.8h-0.8zM46.7 247.4h0.8v0.8h-0.8zM31.8 253.0h0.8v0.8h-0.8zM33.4 246.0h0.8v0.8h-0.8zM56.5 252.7h0.8v0.8h-0.8zM56.7 248.4h0.8v0.8h-0.8zM46.4 242.1h0.8v0.8h-0.8zM53.8 245.9h0.8v0.8h-0.8zM41.7 235.5h0.8v0.8h-0.8zM54.5 241.1h0.8v0.8h-0.8zM63.5 249.8h0.8v0.8h-0.8zM63.2 236.0h0.8v0.8h-0.8zM27.0 243.0h0.8v0.8h-0.8zM33.2 260.8h0.8v0.8h-0.8zM22.2 259.4h0.8v0.8h-0.8zM40.5 250.4h0.8v0.8h-0.8zM55.6 258.9h0.8v0.8h-0.8zM63.3 247.6h0.8v0.8h-0.8zM31.4 252.5h0.8v0.8h-0.8zM38.7 238.0h0.8v0.8h-0.8zM30.0 259.0h0.8v0.8h-0.8zM42.3 246.7h0.8v0.8h-0.8zM50.4 238.5h0.8v0.8h-0.8zM24.5 245.8h0.8v0.8h-0.8zM64.6 260.3h0.8v0.8h-0.8zM43.1 231.8h0.8v0.8h-0.8zM42.7 256.1h0.8v0.8h-0.8zM66.4 256.1h0.8v0.8h-0.8zM50.5 238.2h0.8v0.8h-0.8zM30.1 255.2h0.8v0.8h-0.8zM22.7 255.3h0.8v0.8h-0.8zM26.3 251.1h0.8v0.8h-0.8zM26.1 251.2h0.8v0.8h-0.8zM66.8 252.4h0.8v0.8h-0.8zM33.1 257.5h0.8v0.8h-0.8zM41.2 244.9h0.8v0.8h-0.8zM20.8 245.1h0.8v0.8h-0.8zM35.5 249.2h0.8v0.8h-0.8zM33.5 254.1h0.8v0.8h-0.8zM49.3 237.1h0.8v0.8h-0.8zM38.7 259.3h0.8v0.8h-0.8zM47.8 252.3h0.8v0.8h-0.8zM40.1 243.1h0.8v0.8h-0.8zM20.8 245.1h0.8v0.8h-0.8zM59.4 255.4h0.8v0.8h-0.8zM32.7 241.9h0.8v0.8h-0.8zM51.0 252.1h0.8v0.8h-0.8zM22.1 252.4h0.8v0.8h-0.8zM61.6 252.1h0.8v0.8h-0.8zM38.9 248.0h0.8v0.8h-0.8zM66.9 258.9h0.8v0.8h-0.8zM20.8 245.7h0.8v0.8h-0.8zM65.4 244.0h0.8v0.8h-0.8zM39.9 255.6h0.8v0.8h-0.8zM28.6 239.0h0.8v0.8h-0.8zM61.4 254.3h0.8v0.8h-0.8zM33.0 249.8h0.8v0.8h-0.8zM41.5 236.8h0.8v0.8h-0.8zM54.5 239.6h0.8v0.8h-0.8zM38.1 260.8h0.8v0.8h-0.8zM66.2 260.1h0.8v0.8h-0.8zM31.3 256.3h0.8v0.8h-0.8zM43.5 238.8h0.8v0.8h-0.8zM55.4 235.8h0.8v0.8h-0.8zM49.1 254.9h0.8v0.8h-0.8zM50.6 247.8h0.8v0.8h-0.8zM34.0 246.9h0.8v0.8h-0.8zM41.3 254.1h0.8v0.8h-0.8zM41.9 245.5h0.8v0.8h-0.8zM44.2 256.3h0.8v0.8h-0.8zM28.8 255.7h0.8v0.8h-0.8zM52.5 242.8h0.8v0.8h-0.8zM47.3 259.2h0.8v0.8h-0.8zM51.8 242.2h0.8v0.8h-0.8zM24.3 244.9h0.8v0.8h-0.8zM54.8 250.0h0.8v0.8h-0.8zM61.5 251.9h0.8v0.8h-0.8zM47.3 237.2h0.8v0.8h-0.8zM39.6 248.6h0.8v0.8h-0.8zM26.9 258.3h0.8v0.8h-0.8zM56.0 258.3h0.8v0.8h-0.8z" fill="#2d48e8" fill-opacity="0.55"/>
<path d="M60.7 248.9h0.8v0.8h-0.8zM35.7 241.2h0.8v0.8h-0.8zM51.9 233.3h0.8v0.8h-0.8zM25.4 241.9h0.8v0.8h-0.8zM55.0 237.6h0.8v0.8h-0.8zM47.5 234.5h0.8v0.8h-0.8zM47.0 238.3h0.8v0.8h-0.8zM42.1 234.8h0.8v0.8h-0.8zM40.7 252.0h0.8v0.8h-0.8zM29.5 242.1h0.8v0.8h-0.8zM46.3 236.5h0.8v0.8h-0.8zM28.5 257.3h0.8v0.8h-0.8zM38.6 246.5h0.8v0.8h-0.8zM43.7 245.5h0.8v0.8h-0.8zM56.5 242.4h0.8v0.8h-0.8zM39.0 245.2h0.8v0.8h-0.8zM50.8 238.4h0.8v0.8h-0.8zM49.7 245.0h0.8v0.8h-0.8zM33.8 256.5h0.8v0.8h-0.8zM39.2 253.1h0.8v0.8h-0.8zM23.7 248.0h0.8v0.8h-0.8zM56.5 240.0h0.8v0.8h-0.8zM36.5 245.4h0.8v0.8h-0.8zM34.4 246.9h0.8v0.8h-0.8zM55.0 243.9h0.8v0.8h-0.8zM51.3 238.5h0.8v0.8h-0.8zM55.5 248.5h0.8v0.8h-0.8zM42.5 242.1h0.8v0.8h-0.8zM57.0 255.0h0.8v0.8h-0.8zM45.2 252.6h0.8v0.8h-0.8zM55.2 243.2h0.8v0.8h-0.8zM42.9 239.0h0.8v0.8h-0.8zM24.3 246.1h0.8v0.8h-0.8zM41.6 240.4h0.8v0.8h-0.8zM57.5 234.4h0.8v0.8h-0.8zM31.2 245.6h0.8v0.8h-0.8zM27.9 245.2h0.8v0.8h-0.8zM41.5 228.8h0.8v0.8h-0.8zM34.4 232.8h0.8v0.8h-0.8zM41.9 234.8h0.8v0.8h-0.8zM45.5 247.6h0.8v0.8h-0.8zM32.7 251.6h0.8v0.8h-0.8zM38.7 250.0h0.8v0.8h-0.8zM32.6 245.3h0.8v0.8h-0.8zM32.7 232.7h0.8v0.8h-0.8zM24.2 247.5h0.8v0.8h-0.8zM56.3 231.6h0.8v0.8h-0.8zM50.2 233.3h0.8v0.8h-0.8zM34.8 246.3h0.8v0.8h-0.8zM42.0 251.5h0.8v0.8h-0.8zM50.1 232.6h0.8v0.8h-0.8zM34.3 260.0h0.8v0.8h-0.8zM51.0 236.8h0.8v0.8h-0.8zM62.4 241.0h0.8v0.8h-0.8zM43.1 246.4h0.8v0.8h-0.8zM44.6 244.3h0.8v0.8h-0.8zM34.6 252.4h0.8v0.8h-0.8zM45.2 246.8h0.8v0.8h-0.8zM42.5 248.9h0.8v0.8h-0.8zM42.2 254.9h0.8v0.8h-0.8zM40.5 259.1h0.8v0.8h-0.8zM51.2 240.5h0.8v0.8h-0.8zM32.2 238.4h0.8v0.8h-0.8zM30.0 250.7h0.8v0.8h-0.8zM34.3 239.3h0.8v0.8h-0.8zM36.7 253.3h0.8v0.8h-0.8zM41.0 238.0h0.8v0.8h-0.8zM51.2 243.1h0.8v0.8h-0.8zM53.8 238.7h0.8v0.8h-0.8zM51.7 243.1h0.8v0.8h-0.8zM35.4 255.4h0.8v0.8h-0.8zM61.3 245.2h0.8v0.8h-0.8zM42.7 246.3h0.8v0.8h-0.8zM53.8 233.8h0.8v0.8h-0.8zM26.6 248.6h0.8v0.8h-0.8zM30.4 245.6h0.8v0.8h-0.8zM50.3 243.9h0.8v0.8h-0.8zM34.4 240.0h0.8v0.8h-0.8zM43.7 244.1h0.8v0.8h-0.8zM45.6 241.1h0.8v0.8h-0.8zM54.9 240.1h0.8v0.8h-0.8zM57.3 240.2h0.8v0.8h-0.8zM48.0 257.2h0.8v0.8h-0.8zM28.8 245.4h0.8v0.8h-0.8zM38.5 244.9h0.8v0.8h-0.8zM54.5 253.1h0.8v0.8h-0.8zM56.2 240.0h0.8v0.8h-0.8zM46.0 232.8h0.8v0.8h-0.8zM38.2 239.4h0.8v0.8h-0.8zM42.1 239.7h0.8v0.8h-0.8zM48.8 247.7h0.8v0.8h-0.8zM34.9 249.6h0.8v0.8h-0.8zM49.3 242.3h0.8v0.8h-0.8zM50.8 238.5h0.8v0.8h-0.8zM34.8 250.8h0.8v0.8h-0.8zM43.3 235.9h0.8v0.8h-0.8zM36.6 238.5h0.8v0.8h-0.8zM26.0 255.6h0.8v0.8h-0.8zM41.0 238.9h0.8v0.8h-0.8zM23.8 245.6h0.8v0.8h-0.8zM28.7 243.1h0.8v0.8h-0.8zM29.8 250.6h0.8v0.8h-0.8zM47.4 234.2h0.8v0.8h-0.8zM28.2 248.1h0.8v0.8h-0.8zM36.7 231.0h0.8v0.8h-0.8zM55.3 255.8h0.8v0.8h-0.8zM27.0 251.3h0.8v0.8h-0.8zM32.7 243.3h0.8v0.8h-0.8zM58.5 233.0h0.8v0.8h-0.8zM41.2 242.4h0.8v0.8h-0.8zM31.7 250.2h0.8v0.8h-0.8zM36.9 249.7h0.8v0.8h-0.8zM44.0 257.2h0.8v0.8h-0.8zM39.2 235.7h0.8v0.8h-0.8zM31.1 250.4h0.8v0.8h-0.8zM58.7 237.9h0.8v0.8h-0.8zM41.1 250.1h0.8v0.8h-0.8zM41.3 242.7h0.8v0.8h-0.8zM58.6 245.4h0.8v0.8h-0.8zM30.2 239.4h0.8v0.8h-0.8zM54.1 235.8h0.8v0.8h-0.8zM50.2 238.0h0.8v0.8h-0.8zM46.2 250.8h0.8v0.8h-0.8zM23.7 247.3h0.8v0.8h-0.8zM46.7 234.4h0.8v0.8h-0.8zM34.8 254.7h0.8v0.8h-0.8zM27.9 257.4h0.8v0.8h-0.8zM28.9 248.3h0.8v0.8h-0.8zM47.6 233.6h0.8v0.8h-0.8zM48.3 236.1h0.8v0.8h-0.8zM42.0 237.0h0.8v0.8h-0.8zM25.7 241.4h0.8v0.8h-0.8zM44.3 239.9h0.8v0.8h-0.8zM31.4 232.1h0.8v0.8h-0.8zM47.9 246.2h0.8v0.8h-0.8zM53.5 237.5h0.8v0.8h-0.8zM55.2 247.2h0.8v0.8h-0.8zM47.2 226.7h0.8v0.8h-0.8zM38.6 252.9h0.8v0.8h-0.8zM30.7 252.9h0.8v0.8h-0.8zM44.7 245.5h0.8v0.8h-0.8zM65.1 249.9h0.8v0.8h-0.8zM38.7 242.4h0.8v0.8h-0.8zM48.1 245.8h0.8v0.8h-0.8zM30.1 247.7h0.8v0.8h-0.8zM59.0 242.3h0.8v0.8h-0.8zM52.2 246.5h0.8v0.8h-0.8zM52.9 242.6h0.8v0.8h-0.8zM38.8 242.4h0.8v0.8h-0.8zM61.2 235.8h0.8v0.8h-0.8zM48.8 237.9h0.8v0.8h-0.8zM51.2 241.3h0.8v0.8h-0.8zM42.7 238.7h0.8v0.8h-0.8zM44.6 248.2h0.8v0.8h-0.8zM53.5 239.3h0.8v0.8h-0.8zM53.6 244.8h0.8v0.8h-0.8zM38.5 240.3h0.8v0.8h-0.8zM43.1 239.6h0.8v0.8h-0.8zM27.3 244.2h0.8v0.8h-0.8zM33.1 243.8h0.8v0.8h-0.8zM39.5 254.2h0.8v0.8h-0.8zM26.5 247.4h0.8v0.8h-0.8zM54.9 230.7h0.8v0.8h-0.8zM36.8 238.5h0.8v0.8h-0.8zM27.5 249.7h0.8v0.8h-0.8zM46.0 241.7h0.8v0.8h-0.8zM47.2 230.0h0.8v0.8h-0.8zM40.9 235.1h0.8v0.8h-0.8zM54.6 234.6h0.8v0.8h-0.8zM29.1 247.2h0.8v0.8h-0.8zM52.5 235.7h0.8v0.8h-0.8zM54.0 235.2h0.8v0.8h-0.8zM55.3 235.1h0.8v0.8h-0.8zM58.2 240.4h0.8v0.8h-0.8zM60.6 244.6h0.8v0.8h-0.8zM42.4 255.5h0.8v0.8h-0.8zM50.3 245.5h0.8v0.8h-0.8zM31.9 256.6h0.8v0.8h-0.8zM53.5 233.3h0.8v0.8h-0.8zM51.8 243.7h0.8v0.8h-0.8zM49.7 240.0h0.8v0.8h-0.8zM48.8 249.2h0.8v0.8h-0.8zM23.0 235.7h0.8v0.8h-0.8zM53.2 242.6h0.8v0.8h-0.8zM44.1 244.0h0.8v0.8h-0.8zM56.3 235.0h0.8v0.8h-0.8zM28.4 244.2h0.8v0.8h-0.8zM30.8 231.9h0.8v0.8h-0.8zM45.2 248.5h0.8v0.8h-0.8zM42.5 235.8h0.8v0.8h-0.8zM49.1 249.7h0.8v0.8h-0.8zM40.7 238.9h0.8v0.8h-0.8zM45.1 237.7h0.8v0.8h-0.8zM34.5 249.3h0.8v0.8h-0.8zM46.2 247.1h0.8v0.8h-0.8zM52.5 245.1h0.8v0.8h-0.8zM28.3 254.5h0.8v0.8h-0.8zM27.6 256.9h0.8v0.8h-0.8zM44.7 251.3h0.8v0.8h-0.8zM50.4 244.4h0.8v0.8h-0.8zM40.5 242.6h0.8v0.8h-0.8zM32.1 240.3h0.8v0.8h-0.8zM44.4 241.2h0.8v0.8h-0.8zM55.6 241.2h0.8v0.8h-0.8zM39.0 253.7h0.8v0.8h-0.8zM29.8 231.1h0.8v0.8h-0.8zM62.7 247.7h0.8v0.8h-0.8zM26.0 248.7h0.8v0.8h-0.8zM47.4 236.1h0.8v0.8h-0.8zM45.8 233.9h0.8v0.8h-0.8zM39.6 247.0h0.8v0.8h-0.8zM49.5 249.5h0.8v0.8h-0.8zM31.1 231.3h0.8v0.8h-0.8zM53.8 240.5h0.8v0.8h-0.8zM48.3 233.8h0.8v0.8h-0.8zM59.8 236.8h0.8v0.8h-0.8zM33.7 244.2h0.8v0.8h-0.8zM39.1 254.9h0.8v0.8h-0.8zM53.9 224.4h0.8v0.8h-0.8zM27.4 253.7h0.8v0.8h-0.8zM36.3 240.5h0.8v0.8h-0.8zM27.1 246.1h0.8v0.8h-0.8zM55.7 233.7h0.8v0.8h-0.8zM52.4 248.5h0.8v0.8h-0.8zM42.1 241.8h0.8v0.8h-0.8zM39.6 248.6h0.8v0.8h-0.8zM42.9 236.0h0.8v0.8h-0.8zM40.9 236.7h0.8v0.8h-0.8zM50.8 238.8h0.8v0.8h-0.8zM33.0 247.5h0.8v0.8h-0.8zM41.6 236.9h0.8v0.8h-0.8zM42.0 243.5h0.8v0.8h-0.8zM51.7 239.6h0.8v0.8h-0.8zM59.2 232.9h0.8v0.8h-0.8zM52.2 250.0h0.8v0.8h-0.8zM30.0 249.8h0.8v0.8h-0.8zM42.2 228.3h0.8v0.8h-0.8zM54.0 246.7h0.8v0.8h-0.8zM37.5 245.4h0.8v0.8h-0.8zM30.1 257.2h0.8v0.8h-0.8zM28.3 239.8h0.8v0.8h-0.8zM61.2 241.9h0.8v0.8h-0.8zM38.7 257.6h0.8v0.8h-0.8zM36.5 254.5h0.8v0.8h-0.8zM36.3 244.2h0.8v0.8h-0.8zM25.6 237.3h0.8v0.8h-0.8zM57.3 238.0h0.8v0.8h-0.8zM39.3 253.6h0.8v0.8h-0.8zM31.3 253.4h0.8v0.8h-0.8zM45.6 227.3h0.8v0.8h-0.8zM51.2 240.0h0.8v0.8h-0.8zM36.8 239.5h0.8v0.8h-0.8zM49.2 242.1h0.8v0.8h-0.8zM49.1 234.1h0.8v0.8h-0.8zM37.2 242.6h0.8v0.8h-0.8zM30.2 242.3h0.8v0.8h-0.8zM48.4 238.7h0.8v0.8h-0.8zM33.0 243.9h0.8v0.8h-0.8zM38.9 256.3h0.8v0.8h-0.8zM24.5 236.3h0.8v0.8h-0.8zM47.7 258.3h0.8v0.8h-0.8zM21.6 232.3h0.8v0.8h-0.8zM44.2 240.2h0.8v0.8h-0.8zM43.7 244.2h0.8v0.8h-0.8zM37.4 233.9h0.8v0.8h-0.8zM26.0 237.8h0.8v0.8h-0.8zM49.0 231.0h0.8v0.8h-0.8zM51.3 248.1h0.8v0.8h-0.8zM44.6 237.3h0.8v0.8h-0.8zM38.4 239.3h0.8v0.8h-0.8zM43.8 239.2h0.8v0.8h-0.8zM43.9 239.5h0.8v0.8h-0.8zM50.3 248.7h0.8v0.8h-0.8zM45.2 238.3h0.8v0.8h-0.8zM60.6 241.1h0.8v0.8h-0.8zM40.1 239.5h0.8v0.8h-0.8zM46.4 231.3h0.8v0.8h-0.8zM58.8 244.3h0.8v0.8h-0.8zM41.0 247.2h0.8v0.8h-0.8zM31.0 245.8h0.8v0.8h-0.8zM25.1 243.1h0.8v0.8h-0.8zM32.1 260.7h0.8v0.8h-0.8zM37.6 253.5h0.8v0.8h-0.8zM41.7 238.8h0.8v0.8h-0.8zM51.9 241.5h0.8v0.8h-0.8zM62.4 252.2h0.8v0.8h-0.8zM24.8 252.5h0.8v0.8h-0.8zM46.3 242.2h0.8v0.8h-0.8zM54.7 241.6h0.8v0.8h-0.8zM59.0 244.6h0.8v0.8h-0.8zM36.9 253.2h0.8v0.8h-0.8zM54.4 242.2h0.8v0.8h-0.8zM28.1 256.9h0.8v0.8h-0.8zM51.7 235.5h0.8v0.8h-0.8zM58.9 240.0h0.8v0.8h-0.8zM51.0 233.9h0.8v0.8h-0.8zM27.1 247.0h0.8v0.8h-0.8zM51.4 241.7h0.8v0.8h-0.8zM24.4 246.5h0.8v0.8h-0.8zM41.4 244.7h0.8v0.8h-0.8z" fill="#2a4ae0" fill-opacity="0.5"/>
<path d="M20.6 236.0 L34.0 233.0 L48.0 236.0 L54.0 244.0 L52.0 256.0 L42.0 261.0 L20.6 261.0Z" fill="#3a70ec" fill-opacity="0.6" filter="url(#bl14)"/>
<path d="M20.6 238.0 L32.0 236.0 L44.0 238.0 L49.0 245.0 L46.0 254.0 L36.0 259.0 L20.6 259.0Z" fill="#18b0f8" fill-opacity="0.8" filter="url(#bl12)"/>
<path d="M20.6 240.0 L30.0 238.5 L39.0 240.0 L43.0 245.0 L40.0 251.0 L30.0 253.0 L20.6 253.0Z" fill="#30d880" fill-opacity="0.9" filter="url(#bl10)"/>
<ellipse cx="31.5" cy="245.4" rx="5.0" ry="3.0" fill="#a8e040" filter="url(#bl10)"/>
<ellipse cx="32" cy="245.4" rx="2.8" ry="1.8" fill="#d8dc28" filter="url(#bl8)"/>
<path d="M82.7 246.1h0.8v0.8h-0.8zM91.4 237.9h0.8v0.8h-0.8zM88.0 230.1h0.8v0.8h-0.8zM87.3 227.2h0.8v0.8h-0.8zM83.2 258.3h0.8v0.8h-0.8zM82.8 243.0h0.8v0.8h-0.8zM83.1 247.1h0.8v0.8h-0.8zM91.6 223.2h0.8v0.8h-0.8zM84.6 237.6h0.8v0.8h-0.8zM82.0 259.2h0.8v0.8h-0.8zM88.4 238.4h0.8v0.8h-0.8zM86.2 238.6h0.8v0.8h-0.8zM89.4 235.3h0.8v0.8h-0.8zM81.2 248.0h0.8v0.8h-0.8zM84.3 236.5h0.8v0.8h-0.8zM76.8 230.3h0.8v0.8h-0.8zM91.4 227.2h0.8v0.8h-0.8zM77.1 249.1h0.8v0.8h-0.8zM81.7 250.4h0.8v0.8h-0.8zM89.9 227.7h0.8v0.8h-0.8zM82.7 244.4h0.8v0.8h-0.8zM87.7 233.0h0.8v0.8h-0.8zM87.6 253.0h0.8v0.8h-0.8zM97.0 222.1h0.8v0.8h-0.8zM82.5 239.9h0.8v0.8h-0.8zM85.7 228.2h0.8v0.8h-0.8zM89.7 218.5h0.8v0.8h-0.8zM85.8 231.6h0.8v0.8h-0.8zM83.4 255.1h0.8v0.8h-0.8zM88.3 239.7h0.8v0.8h-0.8zM76.6 249.5h0.8v0.8h-0.8zM84.4 233.4h0.8v0.8h-0.8zM93.3 224.9h0.8v0.8h-0.8zM90.2 237.5h0.8v0.8h-0.8zM92.3 228.1h0.8v0.8h-0.8zM85.7 231.5h0.8v0.8h-0.8zM81.4 252.1h0.8v0.8h-0.8zM79.1 252.7h0.8v0.8h-0.8zM90.8 227.1h0.8v0.8h-0.8zM83.3 243.8h0.8v0.8h-0.8zM91.0 235.2h0.8v0.8h-0.8zM92.9 231.1h0.8v0.8h-0.8zM95.8 228.2h0.8v0.8h-0.8zM94.4 232.0h0.8v0.8h-0.8zM78.5 235.5h0.8v0.8h-0.8zM89.3 228.7h0.8v0.8h-0.8zM95.5 224.0h0.8v0.8h-0.8zM79.7 251.2h0.8v0.8h-0.8zM82.9 246.3h0.8v0.8h-0.8zM85.0 235.1h0.8v0.8h-0.8zM84.0 251.2h0.8v0.8h-0.8zM94.9 227.7h0.8v0.8h-0.8zM83.5 243.7h0.8v0.8h-0.8zM79.7 243.7h0.8v0.8h-0.8zM83.1 243.9h0.8v0.8h-0.8zM76.8 245.6h0.8v0.8h-0.8zM90.1 226.4h0.8v0.8h-0.8zM76.2 247.0h0.8v0.8h-0.8zM80.9 242.3h0.8v0.8h-0.8zM83.3 247.5h0.8v0.8h-0.8zM91.5 220.3h0.8v0.8h-0.8zM84.4 251.0h0.8v0.8h-0.8zM89.9 234.2h0.8v0.8h-0.8zM93.1 223.2h0.8v0.8h-0.8zM88.2 235.9h0.8v0.8h-0.8zM86.9 242.0h0.8v0.8h-0.8zM78.4 255.1h0.8v0.8h-0.8zM86.1 243.2h0.8v0.8h-0.8zM94.5 224.8h0.8v0.8h-0.8zM77.7 247.5h0.8v0.8h-0.8zM90.1 234.8h0.8v0.8h-0.8zM83.4 240.3h0.8v0.8h-0.8zM92.6 225.2h0.8v0.8h-0.8zM85.9 252.6h0.8v0.8h-0.8zM86.3 234.0h0.8v0.8h-0.8zM85.8 239.2h0.8v0.8h-0.8zM80.2 243.4h0.8v0.8h-0.8zM88.7 239.6h0.8v0.8h-0.8zM88.9 235.2h0.8v0.8h-0.8zM95.4 219.2h0.8v0.8h-0.8zM91.8 224.0h0.8v0.8h-0.8zM83.9 245.0h0.8v0.8h-0.8zM88.8 232.5h0.8v0.8h-0.8zM86.9 238.1h0.8v0.8h-0.8zM80.2 244.3h0.8v0.8h-0.8zM79.1 248.5h0.8v0.8h-0.8zM83.7 243.8h0.8v0.8h-0.8zM99.9 225.5h0.8v0.8h-0.8zM98.0 225.2h0.8v0.8h-0.8zM96.0 224.6h0.8v0.8h-0.8zM85.3 237.6h0.8v0.8h-0.8zM96.5 223.7h0.8v0.8h-0.8zM88.7 235.7h0.8v0.8h-0.8zM78.3 253.0h0.8v0.8h-0.8zM90.6 226.3h0.8v0.8h-0.8zM75.8 249.8h0.8v0.8h-0.8zM92.6 232.6h0.8v0.8h-0.8zM88.5 230.9h0.8v0.8h-0.8zM83.3 238.7h0.8v0.8h-0.8zM87.8 234.5h0.8v0.8h-0.8zM94.7 229.8h0.8v0.8h-0.8zM98.2 223.2h0.8v0.8h-0.8zM92.0 223.9h0.8v0.8h-0.8zM91.1 224.4h0.8v0.8h-0.8zM97.5 226.1h0.8v0.8h-0.8zM86.0 240.7h0.8v0.8h-0.8zM92.7 233.8h0.8v0.8h-0.8zM92.5 229.8h0.8v0.8h-0.8zM78.8 250.0h0.8v0.8h-0.8zM84.8 229.4h0.8v0.8h-0.8zM91.6 219.9h0.8v0.8h-0.8zM72.0 253.5h0.8v0.8h-0.8zM77.7 251.7h0.8v0.8h-0.8zM75.1 250.0h0.8v0.8h-0.8zM97.7 221.3h0.8v0.8h-0.8zM95.4 223.8h0.8v0.8h-0.8zM85.0 246.1h0.8v0.8h-0.8zM88.2 236.4h0.8v0.8h-0.8zM83.3 241.4h0.8v0.8h-0.8zM89.8 228.3h0.8v0.8h-0.8zM80.3 242.2h0.8v0.8h-0.8zM89.5 240.4h0.8v0.8h-0.8zM92.2 229.3h0.8v0.8h-0.8zM85.6 234.9h0.8v0.8h-0.8zM89.1 244.6h0.8v0.8h-0.8zM84.3 238.5h0.8v0.8h-0.8zM87.9 255.8h0.8v0.8h-0.8zM92.6 233.8h0.8v0.8h-0.8zM86.0 242.0h0.8v0.8h-0.8zM91.4 219.9h0.8v0.8h-0.8zM89.0 239.2h0.8v0.8h-0.8zM88.8 239.5h0.8v0.8h-0.8zM89.1 238.3h0.8v0.8h-0.8zM85.8 232.9h0.8v0.8h-0.8zM83.0 246.8h0.8v0.8h-0.8zM83.1 247.3h0.8v0.8h-0.8zM88.2 224.2h0.8v0.8h-0.8zM76.7 255.7h0.8v0.8h-0.8zM96.4 223.1h0.8v0.8h-0.8zM90.1 225.7h0.8v0.8h-0.8zM88.2 225.6h0.8v0.8h-0.8zM96.0 221.1h0.8v0.8h-0.8zM89.4 230.4h0.8v0.8h-0.8zM95.5 226.8h0.8v0.8h-0.8zM78.0 245.6h0.8v0.8h-0.8zM92.5 233.8h0.8v0.8h-0.8zM84.0 235.2h0.8v0.8h-0.8zM96.7 223.2h0.8v0.8h-0.8zM95.3 228.9h0.8v0.8h-0.8zM92.9 222.5h0.8v0.8h-0.8zM85.6 224.0h0.8v0.8h-0.8zM81.3 245.4h0.8v0.8h-0.8zM80.7 240.9h0.8v0.8h-0.8zM93.3 222.1h0.8v0.8h-0.8zM81.8 233.3h0.8v0.8h-0.8zM88.2 240.2h0.8v0.8h-0.8zM88.5 240.4h0.8v0.8h-0.8zM94.9 223.9h0.8v0.8h-0.8zM82.4 240.8h0.8v0.8h-0.8zM91.5 223.8h0.8v0.8h-0.8zM88.6 232.2h0.8v0.8h-0.8zM76.2 253.3h0.8v0.8h-0.8zM81.7 245.7h0.8v0.8h-0.8zM83.4 248.4h0.8v0.8h-0.8zM92.6 223.7h0.8v0.8h-0.8zM91.3 226.4h0.8v0.8h-0.8zM96.2 217.9h0.8v0.8h-0.8zM93.5 230.5h0.8v0.8h-0.8zM85.7 226.4h0.8v0.8h-0.8zM89.9 235.9h0.8v0.8h-0.8zM79.4 244.3h0.8v0.8h-0.8zM83.1 254.9h0.8v0.8h-0.8zM81.0 249.2h0.8v0.8h-0.8zM90.1 232.2h0.8v0.8h-0.8zM79.5 243.8h0.8v0.8h-0.8zM90.0 241.9h0.8v0.8h-0.8zM93.0 221.4h0.8v0.8h-0.8zM97.7 222.6h0.8v0.8h-0.8zM87.7 232.0h0.8v0.8h-0.8zM93.4 234.7h0.8v0.8h-0.8zM80.8 245.0h0.8v0.8h-0.8zM90.6 226.5h0.8v0.8h-0.8zM91.4 229.7h0.8v0.8h-0.8zM89.0 233.2h0.8v0.8h-0.8zM95.5 225.8h0.8v0.8h-0.8zM87.5 242.3h0.8v0.8h-0.8zM87.6 244.4h0.8v0.8h-0.8zM83.4 248.3h0.8v0.8h-0.8zM90.6 238.7h0.8v0.8h-0.8zM84.2 235.2h0.8v0.8h-0.8zM90.1 226.1h0.8v0.8h-0.8zM85.7 231.3h0.8v0.8h-0.8zM81.4 242.8h0.8v0.8h-0.8zM81.6 249.1h0.8v0.8h-0.8zM94.6 228.7h0.8v0.8h-0.8zM88.4 237.1h0.8v0.8h-0.8zM76.9 249.1h0.8v0.8h-0.8zM81.8 247.5h0.8v0.8h-0.8zM73.5 247.4h0.8v0.8h-0.8zM89.4 218.3h0.8v0.8h-0.8zM84.3 234.2h0.8v0.8h-0.8zM85.4 233.5h0.8v0.8h-0.8zM89.9 234.4h0.8v0.8h-0.8zM98.8 230.6h0.8v0.8h-0.8zM84.7 230.3h0.8v0.8h-0.8zM84.7 234.3h0.8v0.8h-0.8zM83.8 245.6h0.8v0.8h-0.8zM84.3 233.9h0.8v0.8h-0.8zM91.5 222.4h0.8v0.8h-0.8zM96.8 219.5h0.8v0.8h-0.8zM96.2 221.1h0.8v0.8h-0.8zM85.8 233.9h0.8v0.8h-0.8zM89.1 237.0h0.8v0.8h-0.8zM87.3 225.9h0.8v0.8h-0.8zM85.1 229.5h0.8v0.8h-0.8zM88.4 233.2h0.8v0.8h-0.8zM78.3 251.2h0.8v0.8h-0.8zM99.4 223.8h0.8v0.8h-0.8zM92.5 226.8h0.8v0.8h-0.8zM94.9 226.2h0.8v0.8h-0.8zM98.0 225.0h0.8v0.8h-0.8zM82.9 249.2h0.8v0.8h-0.8zM87.0 229.6h0.8v0.8h-0.8zM82.5 245.1h0.8v0.8h-0.8zM94.3 229.7h0.8v0.8h-0.8zM90.6 219.9h0.8v0.8h-0.8zM86.0 236.6h0.8v0.8h-0.8zM82.4 237.6h0.8v0.8h-0.8zM87.2 237.9h0.8v0.8h-0.8zM92.5 236.9h0.8v0.8h-0.8zM79.1 252.4h0.8v0.8h-0.8zM90.2 221.9h0.8v0.8h-0.8zM87.8 222.1h0.8v0.8h-0.8zM88.7 232.0h0.8v0.8h-0.8zM94.6 225.0h0.8v0.8h-0.8zM96.0 226.8h0.8v0.8h-0.8zM86.0 232.0h0.8v0.8h-0.8zM82.6 241.2h0.8v0.8h-0.8zM87.0 250.9h0.8v0.8h-0.8zM73.8 252.7h0.8v0.8h-0.8zM79.6 236.3h0.8v0.8h-0.8zM90.5 232.7h0.8v0.8h-0.8zM94.5 233.6h0.8v0.8h-0.8zM93.1 240.8h0.8v0.8h-0.8zM90.8 234.7h0.8v0.8h-0.8zM85.7 251.4h0.8v0.8h-0.8zM85.7 253.9h0.8v0.8h-0.8zM82.1 249.5h0.8v0.8h-0.8zM88.8 237.5h0.8v0.8h-0.8zM91.5 232.6h0.8v0.8h-0.8zM89.3 232.9h0.8v0.8h-0.8zM96.2 222.1h0.8v0.8h-0.8zM78.2 249.6h0.8v0.8h-0.8zM80.2 245.6h0.8v0.8h-0.8zM86.3 232.5h0.8v0.8h-0.8zM96.4 219.4h0.8v0.8h-0.8zM81.3 244.6h0.8v0.8h-0.8zM90.2 232.2h0.8v0.8h-0.8zM89.2 243.2h0.8v0.8h-0.8zM79.5 249.0h0.8v0.8h-0.8zM82.5 235.4h0.8v0.8h-0.8zM77.5 248.2h0.8v0.8h-0.8zM91.1 237.2h0.8v0.8h-0.8zM79.8 241.3h0.8v0.8h-0.8zM85.9 231.6h0.8v0.8h-0.8zM86.0 228.3h0.8v0.8h-0.8zM90.3 224.4h0.8v0.8h-0.8zM77.4 241.3h0.8v0.8h-0.8zM94.3 220.3h0.8v0.8h-0.8zM92.2 221.5h0.8v0.8h-0.8zM89.7 235.3h0.8v0.8h-0.8zM92.0 237.6h0.8v0.8h-0.8zM86.7 243.0h0.8v0.8h-0.8zM97.0 222.5h0.8v0.8h-0.8zM76.2 245.1h0.8v0.8h-0.8zM81.4 249.7h0.8v0.8h-0.8zM90.8 221.7h0.8v0.8h-0.8zM92.5 221.8h0.8v0.8h-0.8zM96.3 226.2h0.8v0.8h-0.8zM82.1 232.5h0.8v0.8h-0.8zM85.3 247.1h0.8v0.8h-0.8zM92.2 225.3h0.8v0.8h-0.8zM83.4 238.5h0.8v0.8h-0.8zM79.5 233.0h0.8v0.8h-0.8zM82.0 252.5h0.8v0.8h-0.8zM87.0 229.9h0.8v0.8h-0.8zM82.2 242.6h0.8v0.8h-0.8zM85.9 231.8h0.8v0.8h-0.8zM80.1 248.9h0.8v0.8h-0.8zM90.3 229.6h0.8v0.8h-0.8zM88.1 227.5h0.8v0.8h-0.8zM81.4 243.2h0.8v0.8h-0.8zM99.0 229.5h0.8v0.8h-0.8zM86.3 239.0h0.8v0.8h-0.8zM94.0 222.6h0.8v0.8h-0.8zM82.6 241.4h0.8v0.8h-0.8zM85.1 248.1h0.8v0.8h-0.8zM77.5 253.0h0.8v0.8h-0.8zM77.9 251.8h0.8v0.8h-0.8zM86.4 232.3h0.8v0.8h-0.8zM86.2 240.2h0.8v0.8h-0.8zM83.4 225.8h0.8v0.8h-0.8zM90.3 233.1h0.8v0.8h-0.8zM90.4 222.7h0.8v0.8h-0.8zM87.9 227.0h0.8v0.8h-0.8zM87.8 228.3h0.8v0.8h-0.8zM87.2 230.4h0.8v0.8h-0.8zM91.1 223.7h0.8v0.8h-0.8zM75.2 252.1h0.8v0.8h-0.8zM74.3 246.3h0.8v0.8h-0.8zM86.4 244.9h0.8v0.8h-0.8zM91.6 230.8h0.8v0.8h-0.8zM86.6 232.9h0.8v0.8h-0.8zM83.2 242.2h0.8v0.8h-0.8zM85.4 243.4h0.8v0.8h-0.8zM97.8 220.0h0.8v0.8h-0.8zM93.0 235.3h0.8v0.8h-0.8zM90.2 220.9h0.8v0.8h-0.8zM90.1 235.8h0.8v0.8h-0.8zM91.5 231.3h0.8v0.8h-0.8zM90.3 237.3h0.8v0.8h-0.8zM88.4 240.2h0.8v0.8h-0.8zM82.4 247.6h0.8v0.8h-0.8zM81.4 248.6h0.8v0.8h-0.8zM85.8 233.6h0.8v0.8h-0.8zM88.5 229.1h0.8v0.8h-0.8zM97.7 225.2h0.8v0.8h-0.8zM87.0 247.1h0.8v0.8h-0.8zM76.7 252.4h0.8v0.8h-0.8zM82.7 239.0h0.8v0.8h-0.8zM89.9 224.7h0.8v0.8h-0.8zM90.3 226.1h0.8v0.8h-0.8zM84.1 237.6h0.8v0.8h-0.8zM77.9 238.3h0.8v0.8h-0.8zM83.3 231.0h0.8v0.8h-0.8zM83.8 247.6h0.8v0.8h-0.8zM94.6 227.0h0.8v0.8h-0.8zM80.6 249.6h0.8v0.8h-0.8zM89.0 233.2h0.8v0.8h-0.8zM93.2 226.8h0.8v0.8h-0.8zM82.2 248.0h0.8v0.8h-0.8zM86.7 228.1h0.8v0.8h-0.8zM84.6 238.2h0.8v0.8h-0.8zM88.6 218.1h0.8v0.8h-0.8zM86.7 240.7h0.8v0.8h-0.8zM85.7 253.1h0.8v0.8h-0.8zM90.4 230.3h0.8v0.8h-0.8zM88.0 230.9h0.8v0.8h-0.8zM83.7 232.8h0.8v0.8h-0.8zM81.9 251.8h0.8v0.8h-0.8zM92.0 226.6h0.8v0.8h-0.8zM83.4 243.3h0.8v0.8h-0.8zM96.1 224.3h0.8v0.8h-0.8zM95.0 226.8h0.8v0.8h-0.8zM88.3 233.2h0.8v0.8h-0.8zM85.1 249.1h0.8v0.8h-0.8zM85.8 231.5h0.8v0.8h-0.8zM79.8 249.7h0.8v0.8h-0.8zM84.9 240.0h0.8v0.8h-0.8zM94.1 228.5h0.8v0.8h-0.8zM85.9 236.8h0.8v0.8h-0.8zM78.8 254.9h0.8v0.8h-0.8zM90.2 222.7h0.8v0.8h-0.8zM81.5 240.1h0.8v0.8h-0.8zM79.8 235.8h0.8v0.8h-0.8zM87.0 244.8h0.8v0.8h-0.8zM85.3 233.8h0.8v0.8h-0.8zM94.4 219.9h0.8v0.8h-0.8zM79.7 246.2h0.8v0.8h-0.8zM84.3 245.0h0.8v0.8h-0.8zM90.9 230.4h0.8v0.8h-0.8zM84.9 237.4h0.8v0.8h-0.8zM79.7 250.4h0.8v0.8h-0.8zM89.6 231.6h0.8v0.8h-0.8zM89.8 240.2h0.8v0.8h-0.8zM92.9 223.1h0.8v0.8h-0.8zM80.3 244.7h0.8v0.8h-0.8zM91.2 227.7h0.8v0.8h-0.8zM78.3 248.0h0.8v0.8h-0.8zM87.7 240.6h0.8v0.8h-0.8zM89.5 229.2h0.8v0.8h-0.8zM95.3 220.6h0.8v0.8h-0.8zM82.8 253.1h0.8v0.8h-0.8zM80.4 252.4h0.8v0.8h-0.8zM81.6 244.2h0.8v0.8h-0.8zM90.1 233.6h0.8v0.8h-0.8zM82.9 246.7h0.8v0.8h-0.8zM85.6 247.2h0.8v0.8h-0.8zM95.4 222.5h0.8v0.8h-0.8zM82.0 241.0h0.8v0.8h-0.8zM87.1 220.6h0.8v0.8h-0.8zM87.2 242.7h0.8v0.8h-0.8zM83.4 258.4h0.8v0.8h-0.8zM93.3 249.8h0.8v0.8h-0.8zM81.6 248.0h0.8v0.8h-0.8zM87.1 225.3h0.8v0.8h-0.8zM93.3 228.7h0.8v0.8h-0.8zM79.4 237.9h0.8v0.8h-0.8zM91.6 222.9h0.8v0.8h-0.8zM84.1 249.2h0.8v0.8h-0.8zM88.8 226.6h0.8v0.8h-0.8zM91.3 224.2h0.8v0.8h-0.8zM83.1 248.4h0.8v0.8h-0.8zM82.8 235.3h0.8v0.8h-0.8zM84.5 234.2h0.8v0.8h-0.8zM87.2 240.6h0.8v0.8h-0.8zM92.3 225.7h0.8v0.8h-0.8zM91.1 222.6h0.8v0.8h-0.8zM82.1 236.6h0.8v0.8h-0.8zM86.2 253.0h0.8v0.8h-0.8zM84.4 241.7h0.8v0.8h-0.8zM83.1 226.5h0.8v0.8h-0.8zM84.0 234.8h0.8v0.8h-0.8zM84.2 242.7h0.8v0.8h-0.8zM81.5 247.2h0.8v0.8h-0.8zM80.0 243.4h0.8v0.8h-0.8zM79.5 252.4h0.8v0.8h-0.8zM97.8 221.4h0.8v0.8h-0.8zM90.0 235.7h0.8v0.8h-0.8zM86.9 237.3h0.8v0.8h-0.8z" fill="#2e42e8" fill-opacity="0.55"/>
<path d="M76.7 240.2h0.8v0.8h-0.8zM89.3 242.6h0.8v0.8h-0.8zM80.7 245.4h0.8v0.8h-0.8zM84.1 258.0h0.8v0.8h-0.8zM81.9 223.9h0.8v0.8h-0.8zM84.1 231.3h0.8v0.8h-0.8zM95.1 249.7h0.8v0.8h-0.8zM98.7 238.6h0.8v0.8h-0.8zM93.4 246.0h0.8v0.8h-0.8zM74.4 221.6h0.8v0.8h-0.8zM97.1 258.5h0.8v0.8h-0.8zM82.6 220.7h0.8v0.8h-0.8zM77.9 253.5h0.8v0.8h-0.8zM82.3 249.5h0.8v0.8h-0.8zM91.7 230.4h0.8v0.8h-0.8zM74.4 226.0h0.8v0.8h-0.8zM79.3 228.4h0.8v0.8h-0.8zM85.8 247.7h0.8v0.8h-0.8zM86.4 229.4h0.8v0.8h-0.8zM97.3 219.0h0.8v0.8h-0.8zM94.5 236.3h0.8v0.8h-0.8zM93.2 218.1h0.8v0.8h-0.8zM72.8 259.0h0.8v0.8h-0.8zM85.3 239.3h0.8v0.8h-0.8zM73.3 255.8h0.8v0.8h-0.8zM81.9 258.1h0.8v0.8h-0.8zM75.0 233.7h0.8v0.8h-0.8zM96.0 257.2h0.8v0.8h-0.8zM96.7 220.6h0.8v0.8h-0.8zM93.7 254.2h0.8v0.8h-0.8zM96.5 249.0h0.8v0.8h-0.8zM77.0 239.6h0.8v0.8h-0.8zM76.1 219.1h0.8v0.8h-0.8zM88.1 245.2h0.8v0.8h-0.8zM96.5 221.2h0.8v0.8h-0.8zM95.6 239.4h0.8v0.8h-0.8zM92.8 230.3h0.8v0.8h-0.8zM85.6 249.2h0.8v0.8h-0.8zM81.4 219.6h0.8v0.8h-0.8zM80.5 247.4h0.8v0.8h-0.8zM74.1 260.7h0.8v0.8h-0.8zM86.4 241.3h0.8v0.8h-0.8zM74.5 250.8h0.8v0.8h-0.8zM87.9 235.3h0.8v0.8h-0.8zM93.5 223.7h0.8v0.8h-0.8zM78.5 255.8h0.8v0.8h-0.8zM76.9 258.8h0.8v0.8h-0.8zM95.0 260.6h0.8v0.8h-0.8zM94.7 244.4h0.8v0.8h-0.8zM77.9 252.5h0.8v0.8h-0.8zM93.8 258.7h0.8v0.8h-0.8zM92.8 220.6h0.8v0.8h-0.8zM95.6 249.2h0.8v0.8h-0.8zM87.7 220.2h0.8v0.8h-0.8zM78.1 220.8h0.8v0.8h-0.8zM72.7 237.3h0.8v0.8h-0.8zM72.8 248.1h0.8v0.8h-0.8zM73.6 258.9h0.8v0.8h-0.8zM93.6 235.9h0.8v0.8h-0.8zM90.1 224.8h0.8v0.8h-0.8zM99.0 243.2h0.8v0.8h-0.8zM79.5 222.1h0.8v0.8h-0.8zM79.4 228.7h0.8v0.8h-0.8zM90.0 233.3h0.8v0.8h-0.8zM80.2 235.7h0.8v0.8h-0.8zM91.0 257.9h0.8v0.8h-0.8zM93.6 223.9h0.8v0.8h-0.8zM97.6 221.8h0.8v0.8h-0.8zM73.0 248.5h0.8v0.8h-0.8zM88.1 224.1h0.8v0.8h-0.8zM98.4 251.1h0.8v0.8h-0.8zM78.2 250.8h0.8v0.8h-0.8zM76.1 240.4h0.8v0.8h-0.8zM85.2 236.6h0.8v0.8h-0.8zM74.1 248.9h0.8v0.8h-0.8zM83.4 256.9h0.8v0.8h-0.8zM72.9 231.1h0.8v0.8h-0.8zM95.9 239.9h0.8v0.8h-0.8zM75.3 255.7h0.8v0.8h-0.8zM75.9 241.3h0.8v0.8h-0.8zM86.5 240.7h0.8v0.8h-0.8zM79.0 228.1h0.8v0.8h-0.8zM85.6 242.0h0.8v0.8h-0.8zM97.2 247.1h0.8v0.8h-0.8zM73.4 251.4h0.8v0.8h-0.8zM90.6 235.1h0.8v0.8h-0.8zM98.7 250.1h0.8v0.8h-0.8zM86.6 228.7h0.8v0.8h-0.8zM75.8 250.1h0.8v0.8h-0.8zM92.2 255.3h0.8v0.8h-0.8z" fill="#4050f0" fill-opacity="0.4"/>
<path d="M84.0 236.0 L88.0 223.0 L94.0 219.0 L96.0 224.0 L93.0 236.0 L88.0 244.0 L84.0 244.0Z" fill="#3a60f0" fill-opacity="0.7" filter="url(#bl12)"/>
<path d="M87.0 234.0 L90.0 225.0 L94.0 222.0 L94.5 227.0 L92.0 236.0 L88.0 239.0Z" fill="#1aa8f8" fill-opacity="0.8" filter="url(#bl10)"/>
<path d="M78.0 197.0 L85.0 196.5 L92.0 198.0 L91.0 201.5 L84.0 202.0 L78.0 200.5Z" fill="#3a58f0" fill-opacity="0.8" filter="url(#bl9)"/>
<ellipse cx="85" cy="199.2" rx="3.5" ry="1.3" fill="#2090f8" filter="url(#bl6)"/>
<path d="M87.2 203.4h0.8v0.8h-0.8zM84.5 198.1h0.8v0.8h-0.8zM84.4 194.1h0.8v0.8h-0.8zM91.9 200.4h0.8v0.8h-0.8zM94.4 194.8h0.8v0.8h-0.8zM79.6 194.4h0.8v0.8h-0.8zM90.6 197.1h0.8v0.8h-0.8zM85.0 196.6h0.8v0.8h-0.8zM78.2 196.9h0.8v0.8h-0.8zM85.5 197.5h0.8v0.8h-0.8zM81.8 199.2h0.8v0.8h-0.8zM81.2 198.8h0.8v0.8h-0.8zM78.3 194.4h0.8v0.8h-0.8zM77.4 195.7h0.8v0.8h-0.8zM87.7 194.3h0.8v0.8h-0.8zM77.5 206.6h0.8v0.8h-0.8zM81.8 202.3h0.8v0.8h-0.8zM79.3 197.8h0.8v0.8h-0.8zM82.7 197.6h0.8v0.8h-0.8zM86.4 199.3h0.8v0.8h-0.8zM89.5 198.1h0.8v0.8h-0.8zM85.4 196.4h0.8v0.8h-0.8zM89.7 195.1h0.8v0.8h-0.8zM77.0 196.8h0.8v0.8h-0.8zM80.7 194.0h0.8v0.8h-0.8zM75.2 195.9h0.8v0.8h-0.8zM84.6 203.7h0.8v0.8h-0.8zM80.4 196.1h0.8v0.8h-0.8zM84.4 201.4h0.8v0.8h-0.8zM90.6 201.1h0.8v0.8h-0.8zM80.6 201.4h0.8v0.8h-0.8zM72.7 199.8h0.8v0.8h-0.8zM92.2 201.5h0.8v0.8h-0.8zM95.5 197.6h0.8v0.8h-0.8zM84.6 198.5h0.8v0.8h-0.8zM88.1 202.4h0.8v0.8h-0.8zM83.8 200.9h0.8v0.8h-0.8zM86.0 199.5h0.8v0.8h-0.8zM77.2 199.6h0.8v0.8h-0.8zM88.3 197.3h0.8v0.8h-0.8zM76.0 201.9h0.8v0.8h-0.8zM92.1 198.3h0.8v0.8h-0.8zM89.2 194.9h0.8v0.8h-0.8zM90.4 198.1h0.8v0.8h-0.8zM89.9 195.5h0.8v0.8h-0.8zM85.5 197.0h0.8v0.8h-0.8zM74.6 194.1h0.8v0.8h-0.8zM86.7 197.3h0.8v0.8h-0.8zM87.8 200.2h0.8v0.8h-0.8zM87.9 197.9h0.8v0.8h-0.8z" fill="#3040f0" fill-opacity="0.45"/>
<path d="M37.5 190.9h0.7v0.7h-0.7zM40.7 197.9h0.7v0.7h-0.7zM33.9 188.0h0.7v0.7h-0.7zM26.5 207.2h0.7v0.7h-0.7zM49.1 211.4h0.7v0.7h-0.7zM26.6 213.2h0.7v0.7h-0.7zM58.2 197.1h0.7v0.7h-0.7zM42.5 197.1h0.7v0.7h-0.7zM65.1 203.2h0.7v0.7h-0.7zM27.0 195.6h0.7v0.7h-0.7zM38.3 200.9h0.7v0.7h-0.7zM45.7 209.9h0.7v0.7h-0.7zM35.8 208.6h0.7v0.7h-0.7zM53.9 203.9h0.7v0.7h-0.7zM53.9 210.4h0.7v0.7h-0.7zM58.8 203.9h0.7v0.7h-0.7zM24.9 190.6h0.7v0.7h-0.7zM25.5 188.8h0.7v0.7h-0.7zM30.3 198.2h0.7v0.7h-0.7zM41.8 201.9h0.7v0.7h-0.7zM46.5 205.7h0.7v0.7h-0.7zM39.0 208.1h0.7v0.7h-0.7zM61.5 192.1h0.7v0.7h-0.7zM54.4 199.4h0.7v0.7h-0.7zM61.2 199.5h0.7v0.7h-0.7z" fill="#6070f0" fill-opacity="0.35"/>
<rect x="20.60" y="249.20" width="14.60" height="11.80" fill="#fafafa" stroke="none" stroke-width="1" />
<rect x="19.40" y="185.40" width="82.80" height="76.50" fill="none" stroke="#707070" stroke-width="0.7" />
<line x1="70.90" y1="185.40" x2="70.90" y2="261.90" stroke="#555" stroke-width="0.6" />
<line x1="19.40" y1="216.00" x2="102.20" y2="216.00" stroke="#555" stroke-width="0.6" />
<rect x="20.70" y="217.20" width="49.20" height="43.60" fill="none" stroke="#1a6e1a" stroke-width="2.4" />
<text x="22.50" y="190.20" font-size="4.3" font-weight="normal" text-anchor="start" fill="#303030" >Q1</text>
<text x="22.50" y="195.60" font-size="4.3" font-weight="normal" text-anchor="start" fill="#303030" >0.000%</text>
<text x="90.50" y="190.20" font-size="4.3" font-weight="normal" text-anchor="start" fill="#303030" >Q2</text>
<text x="89.50" y="195.60" font-size="4.3" font-weight="normal" text-anchor="start" fill="#303030" >2.28%</text>
<text x="90.50" y="253.40" font-size="4.3" font-weight="normal" text-anchor="start" fill="#303030" >Q3</text>
<text x="89.50" y="258.80" font-size="4.3" font-weight="normal" text-anchor="start" fill="#303030" >11.0%</text>
<text x="21.50" y="253.40" font-size="4.3" font-weight="normal" text-anchor="start" fill="#303030" >Q4</text>
<text x="21.50" y="258.80" font-size="4.3" font-weight="normal" text-anchor="start" fill="#303030" >86.6%</text>
<text x="6.20" y="224.40" font-size="8" font-weight="bold" text-anchor="middle" fill="#000" stroke="#000" stroke-width="0.3" transform="rotate(-90 6.2 224.4)">PI</text>
<text x="59.00" y="280.50" font-size="8" font-weight="bold" text-anchor="middle" fill="#000" textLength="50.5" lengthAdjust="spacingAndGlyphs" stroke="#000" stroke-width="0.3" >Annexin V-FITC</text>
<clipPath id="cp143"><rect x="143.4" y="14.600000000000001" width="87.6" height="99.69999999999999"/></clipPath>
<clipPath id="cp143l"><rect x="141.4" y="112.3" width="89.1" height="20"/></clipPath>
<rect x="143.40" y="16.60" width="87.60" height="95.70" fill="url(#cbg)" stroke="none" stroke-width="1" />
<line x1="143.40" y1="96.35" x2="231.00" y2="96.35" stroke="#8a8080" stroke-width="1.0" />
<line x1="143.40" y1="80.40" x2="231.00" y2="80.40" stroke="#8a8080" stroke-width="1.0" />
<line x1="143.40" y1="64.45" x2="231.00" y2="64.45" stroke="#8a8080" stroke-width="1.0" />
<line x1="143.40" y1="48.50" x2="231.00" y2="48.50" stroke="#8a8080" stroke-width="1.0" />
<line x1="143.40" y1="32.55" x2="231.00" y2="32.55" stroke="#8a8080" stroke-width="1.0" />
<line x1="143.40" y1="16.60" x2="231.00" y2="16.60" stroke="#8a8080" stroke-width="1.0" />
<g clip-path="url(#cp143)">
<rect x="146.35" y="32.90" width="3.05" height="79.40" fill="url(#cb1)" stroke="#6e1c1c" stroke-width="0.7" />
<rect x="150.10" y="32.90" width="3.05" height="79.40" fill="url(#cb2)" stroke="#6e1c1c" stroke-width="0.7" />
<rect x="153.85" y="32.90" width="3.05" height="79.40" fill="url(#cb3)" stroke="#7a2424" stroke-width="0.7" />
<rect x="161.20" y="54.43" width="3.05" height="57.87" fill="url(#cb1)" stroke="#6e1c1c" stroke-width="0.7" />
<rect x="164.95" y="52.84" width="3.05" height="59.46" fill="url(#cb2)" stroke="#6e1c1c" stroke-width="0.7" />
<rect x="168.70" y="55.23" width="3.05" height="57.07" fill="url(#cb3)" stroke="#7a2424" stroke-width="0.7" />
<rect x="176.05" y="65.60" width="3.05" height="46.70" fill="url(#cb1)" stroke="#6e1c1c" stroke-width="0.7" />
<rect x="179.80" y="66.39" width="3.05" height="45.90" fill="url(#cb2)" stroke="#6e1c1c" stroke-width="0.7" />
<rect x="183.55" y="67.99" width="3.05" height="44.31" fill="url(#cb3)" stroke="#7a2424" stroke-width="0.7" />
<rect x="190.90" y="76.76" width="3.05" height="35.54" fill="url(#cb1)" stroke="#6e1c1c" stroke-width="0.7" />
<rect x="194.65" y="80.75" width="3.05" height="31.55" fill="url(#cb2)" stroke="#6e1c1c" stroke-width="0.7" />
<rect x="198.40" y="83.14" width="3.05" height="29.16" fill="url(#cb3)" stroke="#7a2424" stroke-width="0.7" />
<rect x="205.75" y="93.51" width="3.05" height="18.79" fill="url(#cb1)" stroke="#6e1c1c" stroke-width="0.7" />
<rect x="209.50" y="96.70" width="3.05" height="15.60" fill="url(#cb2)" stroke="#6e1c1c" stroke-width="0.7" />
<rect x="213.25" y="96.70" width="3.05" height="15.60" fill="url(#cb3)" stroke="#7a2424" stroke-width="0.7" />
<rect x="220.60" y="100.69" width="3.05" height="11.61" fill="url(#cb1)" stroke="#6e1c1c" stroke-width="0.7" />
<rect x="224.35" y="103.88" width="3.05" height="8.42" fill="url(#cb2)" stroke="#6e1c1c" stroke-width="0.7" />
<rect x="228.10" y="102.28" width="3.05" height="10.02" fill="url(#cb3)" stroke="#7a2424" stroke-width="0.7" />
</g>
<line x1="143.40" y1="16.30" x2="143.40" y2="112.30" stroke="#8a8a8a" stroke-width="1.1" />
<line x1="143.40" y1="112.30" x2="231.00" y2="112.30" stroke="#8a8a8a" stroke-width="1.1" />
<text x="137.00" y="114.70" font-size="7" font-weight="bold" text-anchor="end" fill="#000" stroke="#000" stroke-width="0.3" >0</text>
<text x="137.00" y="98.75" font-size="7" font-weight="bold" text-anchor="end" fill="#000" stroke="#000" stroke-width="0.3" >0.2</text>
<text x="137.00" y="82.80" font-size="7" font-weight="bold" text-anchor="end" fill="#000" stroke="#000" stroke-width="0.3" >0.4</text>
<text x="137.00" y="66.85" font-size="7" font-weight="bold" text-anchor="end" fill="#000" stroke="#000" stroke-width="0.3" >0.6</text>
<text x="137.00" y="50.90" font-size="7" font-weight="bold" text-anchor="end" fill="#000" stroke="#000" stroke-width="0.3" >0.8</text>
<text x="137.00" y="34.95" font-size="7" font-weight="bold" text-anchor="end" fill="#000" stroke="#000" stroke-width="0.3" >1</text>
<text x="137.00" y="19.00" font-size="7" font-weight="bold" text-anchor="end" fill="#000" stroke="#000" stroke-width="0.3" >1.2</text>
<g clip-path="url(#cp143l)">
<text x="151.62" y="126.20" font-size="7" font-weight="bold" text-anchor="middle" fill="#000" stroke="#000" stroke-width="0.3" >0</text>
<text x="166.47" y="126.20" font-size="7" font-weight="bold" text-anchor="middle" fill="#000" stroke="#000" stroke-width="0.3" >25</text>
<text x="181.32" y="126.20" font-size="7" font-weight="bold" text-anchor="middle" fill="#000" stroke="#000" stroke-width="0.3" >35</text>
<text x="196.17" y="126.20" font-size="7" font-weight="bold" text-anchor="middle" fill="#000" stroke="#000" stroke-width="0.3" >50</text>
<text x="211.03" y="126.20" font-size="7" font-weight="bold" text-anchor="middle" fill="#000" stroke="#000" stroke-width="0.3" >75</text>
<text x="225.88" y="126.20" font-size="7" font-weight="bold" text-anchor="middle" fill="#000" stroke="#000" stroke-width="0.3" >100</text>
</g>
<text x="194.50" y="12.60" font-size="9.2" font-weight="bold" text-anchor="middle" fill="#000" textLength="29.8" lengthAdjust="spacingAndGlyphs" stroke="#000" stroke-width="0.3" >AML #1</text>
<clipPath id="cp255"><rect x="255.5" y="13.6" width="95.5" height="100.7"/></clipPath>
<clipPath id="cp255l"><rect x="253.5" y="112.3" width="97.0" height="20"/></clipPath>
<rect x="255.50" y="15.60" width="95.50" height="96.70" fill="url(#cbg)" stroke="none" stroke-width="1" />
<line x1="255.50" y1="96.18" x2="351.00" y2="96.18" stroke="#8a8080" stroke-width="1.0" />
<line x1="255.50" y1="80.07" x2="351.00" y2="80.07" stroke="#8a8080" stroke-width="1.0" />
<line x1="255.50" y1="63.95" x2="351.00" y2="63.95" stroke="#8a8080" stroke-width="1.0" />
<line x1="255.50" y1="47.83" x2="351.00" y2="47.83" stroke="#8a8080" stroke-width="1.0" />
<line x1="255.50" y1="31.72" x2="351.00" y2="31.72" stroke="#8a8080" stroke-width="1.0" />
<line x1="255.50" y1="15.60" x2="351.00" y2="15.60" stroke="#8a8080" stroke-width="1.0" />
<g clip-path="url(#cp255)">
<rect x="257.75" y="32.07" width="3.05" height="80.23" fill="url(#cb1)" stroke="#6e1c1c" stroke-width="0.7" />
<rect x="261.50" y="32.07" width="3.05" height="80.23" fill="url(#cb2)" stroke="#6e1c1c" stroke-width="0.7" />
<rect x="265.25" y="32.07" width="3.05" height="80.23" fill="url(#cb3)" stroke="#7a2424" stroke-width="0.7" />
<rect x="273.69" y="40.12" width="3.05" height="72.18" fill="url(#cb1)" stroke="#6e1c1c" stroke-width="0.7" />
<rect x="277.44" y="38.51" width="3.05" height="73.79" fill="url(#cb2)" stroke="#6e1c1c" stroke-width="0.7" />
<rect x="281.19" y="41.74" width="3.05" height="70.56" fill="url(#cb3)" stroke="#7a2424" stroke-width="0.7" />
<rect x="289.63" y="44.96" width="3.05" height="67.34" fill="url(#cb1)" stroke="#6e1c1c" stroke-width="0.7" />
<rect x="293.38" y="44.15" width="3.05" height="68.15" fill="url(#cb2)" stroke="#6e1c1c" stroke-width="0.7" />
<rect x="297.13" y="50.60" width="3.05" height="61.70" fill="url(#cb3)" stroke="#7a2424" stroke-width="0.7" />
<rect x="305.57" y="60.27" width="3.05" height="52.03" fill="url(#cb1)" stroke="#6e1c1c" stroke-width="0.7" />
<rect x="309.32" y="62.69" width="3.05" height="49.61" fill="url(#cb2)" stroke="#6e1c1c" stroke-width="0.7" />
<rect x="313.07" y="75.58" width="3.05" height="36.72" fill="url(#cb3)" stroke="#7a2424" stroke-width="0.7" />
<rect x="321.51" y="83.64" width="3.05" height="28.66" fill="url(#cb1)" stroke="#6e1c1c" stroke-width="0.7" />
<rect x="325.26" y="89.28" width="3.05" height="23.02" fill="url(#cb2)" stroke="#6e1c1c" stroke-width="0.7" />
<rect x="329.01" y="86.06" width="3.05" height="26.24" fill="url(#cb3)" stroke="#7a2424" stroke-width="0.7" />
<rect x="337.45" y="94.12" width="3.05" height="18.18" fill="url(#cb1)" stroke="#6e1c1c" stroke-width="0.7" />
<rect x="341.20" y="101.37" width="3.05" height="10.93" fill="url(#cb2)" stroke="#6e1c1c" stroke-width="0.7" />
<rect x="344.95" y="90.09" width="3.05" height="22.21" fill="url(#cb3)" stroke="#7a2424" stroke-width="0.7" />
</g>
<line x1="255.50" y1="15.30" x2="255.50" y2="112.30" stroke="#8a8a8a" stroke-width="1.1" />
<line x1="255.50" y1="112.30" x2="351.00" y2="112.30" stroke="#8a8a8a" stroke-width="1.1" />
<text x="248.20" y="114.70" font-size="7" font-weight="bold" text-anchor="end" fill="#000" stroke="#000" stroke-width="0.3" >0</text>
<text x="248.20" y="98.58" font-size="7" font-weight="bold" text-anchor="end" fill="#000" stroke="#000" stroke-width="0.3" >0.2</text>
<text x="248.20" y="82.47" font-size="7" font-weight="bold" text-anchor="end" fill="#000" stroke="#000" stroke-width="0.3" >0.4</text>
<text x="248.20" y="66.35" font-size="7" font-weight="bold" text-anchor="end" fill="#000" stroke="#000" stroke-width="0.3" >0.6</text>
<text x="248.20" y="50.23" font-size="7" font-weight="bold" text-anchor="end" fill="#000" stroke="#000" stroke-width="0.3" >0.8</text>
<text x="248.20" y="34.12" font-size="7" font-weight="bold" text-anchor="end" fill="#000" stroke="#000" stroke-width="0.3" >1</text>
<text x="248.20" y="18.00" font-size="7" font-weight="bold" text-anchor="end" fill="#000" stroke="#000" stroke-width="0.3" >1.2</text>
<g clip-path="url(#cp255l)">
<text x="263.02" y="126.20" font-size="7" font-weight="bold" text-anchor="middle" fill="#000" stroke="#000" stroke-width="0.3" >0</text>
<text x="278.96" y="126.20" font-size="7" font-weight="bold" text-anchor="middle" fill="#000" stroke="#000" stroke-width="0.3" >25</text>
<text x="294.90" y="126.20" font-size="7" font-weight="bold" text-anchor="middle" fill="#000" stroke="#000" stroke-width="0.3" >35</text>
<text x="310.84" y="126.20" font-size="7" font-weight="bold" text-anchor="middle" fill="#000" stroke="#000" stroke-width="0.3" >50</text>
<text x="326.78" y="126.20" font-size="7" font-weight="bold" text-anchor="middle" fill="#000" stroke="#000" stroke-width="0.3" >75</text>
<text x="342.72" y="126.20" font-size="7" font-weight="bold" text-anchor="middle" fill="#000" stroke="#000" stroke-width="0.3" >100</text>
</g>
<text x="308.60" y="12.60" font-size="9.2" font-weight="bold" text-anchor="middle" fill="#000" textLength="29.8" lengthAdjust="spacingAndGlyphs" stroke="#000" stroke-width="0.3" >AML #2</text>
<clipPath id="cp375"><rect x="375.3" y="13.8" width="96.19999999999999" height="100.5"/></clipPath>
<clipPath id="cp375l"><rect x="373.3" y="112.3" width="97.69999999999999" height="20"/></clipPath>
<rect x="375.30" y="15.80" width="96.20" height="96.50" fill="url(#cbg)" stroke="none" stroke-width="1" />
<line x1="375.30" y1="96.22" x2="471.50" y2="96.22" stroke="#8a8080" stroke-width="1.0" />
<line x1="375.30" y1="80.13" x2="471.50" y2="80.13" stroke="#8a8080" stroke-width="1.0" />
<line x1="375.30" y1="64.05" x2="471.50" y2="64.05" stroke="#8a8080" stroke-width="1.0" />
<line x1="375.30" y1="47.97" x2="471.50" y2="47.97" stroke="#8a8080" stroke-width="1.0" />
<line x1="375.30" y1="31.88" x2="471.50" y2="31.88" stroke="#8a8080" stroke-width="1.0" />
<line x1="375.30" y1="15.80" x2="471.50" y2="15.80" stroke="#8a8080" stroke-width="1.0" />
<g clip-path="url(#cp375)">
<rect x="378.15" y="32.23" width="3.05" height="80.07" fill="url(#cb1)" stroke="#6e1c1c" stroke-width="0.7" />
<rect x="381.90" y="32.23" width="3.05" height="80.07" fill="url(#cb2)" stroke="#6e1c1c" stroke-width="0.7" />
<rect x="385.65" y="32.23" width="3.05" height="80.07" fill="url(#cb3)" stroke="#7a2424" stroke-width="0.7" />
<rect x="394.30" y="40.27" width="3.05" height="72.03" fill="url(#cb1)" stroke="#6e1c1c" stroke-width="0.7" />
<rect x="398.05" y="41.08" width="3.05" height="71.22" fill="url(#cb2)" stroke="#6e1c1c" stroke-width="0.7" />
<rect x="401.80" y="37.06" width="3.05" height="75.24" fill="url(#cb3)" stroke="#7a2424" stroke-width="0.7" />
<rect x="410.45" y="45.10" width="3.05" height="67.20" fill="url(#cb1)" stroke="#6e1c1c" stroke-width="0.7" />
<rect x="414.20" y="45.90" width="3.05" height="66.40" fill="url(#cb2)" stroke="#6e1c1c" stroke-width="0.7" />
<rect x="417.95" y="47.51" width="3.05" height="64.79" fill="url(#cb3)" stroke="#7a2424" stroke-width="0.7" />
<rect x="426.60" y="61.18" width="3.05" height="51.12" fill="url(#cb1)" stroke="#6e1c1c" stroke-width="0.7" />
<rect x="430.35" y="63.60" width="3.05" height="48.70" fill="url(#cb2)" stroke="#6e1c1c" stroke-width="0.7" />
<rect x="434.10" y="74.85" width="3.05" height="37.45" fill="url(#cb3)" stroke="#7a2424" stroke-width="0.7" />
<rect x="442.75" y="86.92" width="3.05" height="25.38" fill="url(#cb1)" stroke="#6e1c1c" stroke-width="0.7" />
<rect x="446.50" y="91.74" width="3.05" height="20.56" fill="url(#cb2)" stroke="#6e1c1c" stroke-width="0.7" />
<rect x="450.25" y="90.94" width="3.05" height="21.36" fill="url(#cb3)" stroke="#7a2424" stroke-width="0.7" />
<rect x="458.90" y="97.37" width="3.05" height="14.93" fill="url(#cb1)" stroke="#6e1c1c" stroke-width="0.7" />
<rect x="462.65" y="104.61" width="3.05" height="7.69" fill="url(#cb2)" stroke="#6e1c1c" stroke-width="0.7" />
<rect x="466.40" y="98.17" width="3.05" height="14.12" fill="url(#cb3)" stroke="#7a2424" stroke-width="0.7" />
</g>
<line x1="375.30" y1="15.50" x2="375.30" y2="112.30" stroke="#8a8a8a" stroke-width="1.1" />
<line x1="375.30" y1="112.30" x2="471.50" y2="112.30" stroke="#8a8a8a" stroke-width="1.1" />
<text x="368.00" y="114.70" font-size="7" font-weight="bold" text-anchor="end" fill="#000" stroke="#000" stroke-width="0.3" >0</text>
<text x="368.00" y="98.62" font-size="7" font-weight="bold" text-anchor="end" fill="#000" stroke="#000" stroke-width="0.3" >0.2</text>
<text x="368.00" y="82.53" font-size="7" font-weight="bold" text-anchor="end" fill="#000" stroke="#000" stroke-width="0.3" >0.4</text>
<text x="368.00" y="66.45" font-size="7" font-weight="bold" text-anchor="end" fill="#000" stroke="#000" stroke-width="0.3" >0.6</text>
<text x="368.00" y="50.37" font-size="7" font-weight="bold" text-anchor="end" fill="#000" stroke="#000" stroke-width="0.3" >0.8</text>
<text x="368.00" y="34.28" font-size="7" font-weight="bold" text-anchor="end" fill="#000" stroke="#000" stroke-width="0.3" >1</text>
<text x="368.00" y="18.20" font-size="7" font-weight="bold" text-anchor="end" fill="#000" stroke="#000" stroke-width="0.3" >1.2</text>
<g clip-path="url(#cp375l)">
<text x="383.43" y="126.20" font-size="7" font-weight="bold" text-anchor="middle" fill="#000" stroke="#000" stroke-width="0.3" >0</text>
<text x="399.57" y="126.20" font-size="7" font-weight="bold" text-anchor="middle" fill="#000" stroke="#000" stroke-width="0.3" >25</text>
<text x="415.73" y="126.20" font-size="7" font-weight="bold" text-anchor="middle" fill="#000" stroke="#000" stroke-width="0.3" >35</text>
<text x="431.88" y="126.20" font-size="7" font-weight="bold" text-anchor="middle" fill="#000" stroke="#000" stroke-width="0.3" >50</text>
<text x="448.02" y="126.20" font-size="7" font-weight="bold" text-anchor="middle" fill="#000" stroke="#000" stroke-width="0.3" >75</text>
<text x="464.18" y="126.20" font-size="7" font-weight="bold" text-anchor="middle" fill="#000" stroke="#000" stroke-width="0.3" >100</text>
</g>
<text x="424.00" y="12.60" font-size="9.2" font-weight="bold" text-anchor="middle" fill="#000" textLength="29.8" lengthAdjust="spacingAndGlyphs" stroke="#000" stroke-width="0.3" >AML #3</text>
<clipPath id="cp146"><rect x="146.8" y="168.0" width="81.69999999999999" height="105.60000000000002"/></clipPath>
<clipPath id="cp146l"><rect x="144.8" y="271.6" width="83.19999999999999" height="20"/></clipPath>
<rect x="146.80" y="170.00" width="81.70" height="101.60" fill="url(#dbg)" stroke="none" stroke-width="1" />
<line x1="146.80" y1="254.67" x2="228.50" y2="254.67" stroke="#8e928a" stroke-width="1.0" />
<line x1="146.80" y1="237.73" x2="228.50" y2="237.73" stroke="#8e928a" stroke-width="1.0" />
<line x1="146.80" y1="220.80" x2="228.50" y2="220.80" stroke="#8e928a" stroke-width="1.0" />
<line x1="146.80" y1="203.87" x2="228.50" y2="203.87" stroke="#8e928a" stroke-width="1.0" />
<line x1="146.80" y1="186.93" x2="228.50" y2="186.93" stroke="#8e928a" stroke-width="1.0" />
<line x1="146.80" y1="170.00" x2="228.50" y2="170.00" stroke="#8e928a" stroke-width="1.0" />
<g clip-path="url(#cp146)">
<rect x="149.25" y="187.28" width="2.80" height="84.32" fill="url(#db1)" stroke="#56722a" stroke-width="0.7" />
<rect x="152.75" y="187.28" width="2.80" height="84.32" fill="url(#db2)" stroke="#6a8a30" stroke-width="0.7" />
<rect x="156.25" y="187.28" width="2.80" height="84.32" fill="url(#db3)" stroke="#76963e" stroke-width="0.7" />
<rect x="163.93" y="191.52" width="2.80" height="80.08" fill="url(#db1)" stroke="#56722a" stroke-width="0.7" />
<rect x="167.43" y="202.52" width="2.80" height="69.08" fill="url(#db2)" stroke="#6a8a30" stroke-width="0.7" />
<rect x="170.93" y="204.22" width="2.80" height="67.38" fill="url(#db3)" stroke="#76963e" stroke-width="0.7" />
<rect x="178.61" y="200.83" width="2.80" height="70.77" fill="url(#db1)" stroke="#56722a" stroke-width="0.7" />
<rect x="182.11" y="211.84" width="2.80" height="59.76" fill="url(#db2)" stroke="#6a8a30" stroke-width="0.7" />
<rect x="185.61" y="199.98" width="2.80" height="71.62" fill="url(#db3)" stroke="#76963e" stroke-width="0.7" />
<rect x="193.29" y="201.68" width="2.80" height="69.92" fill="url(#db1)" stroke="#56722a" stroke-width="0.7" />
<rect x="196.79" y="205.06" width="2.80" height="66.54" fill="url(#db2)" stroke="#6a8a30" stroke-width="0.7" />
<rect x="200.29" y="200.83" width="2.80" height="70.77" fill="url(#db3)" stroke="#76963e" stroke-width="0.7" />
<rect x="207.97" y="204.22" width="2.80" height="67.38" fill="url(#db1)" stroke="#56722a" stroke-width="0.7" />
<rect x="211.47" y="219.46" width="2.80" height="52.14" fill="url(#db2)" stroke="#6a8a30" stroke-width="0.7" />
<rect x="214.97" y="201.68" width="2.80" height="69.92" fill="url(#db3)" stroke="#76963e" stroke-width="0.7" />
<rect x="222.65" y="204.22" width="2.80" height="67.38" fill="url(#db1)" stroke="#56722a" stroke-width="0.7" />
<rect x="226.15" y="222.00" width="2.80" height="49.60" fill="url(#db2)" stroke="#6a8a30" stroke-width="0.7" />
<rect x="229.65" y="204.22" width="2.80" height="67.38" fill="url(#db3)" stroke="#76963e" stroke-width="0.7" />
</g>
<line x1="146.80" y1="169.70" x2="146.80" y2="271.60" stroke="#8a8a8a" stroke-width="1.1" />
<line x1="146.80" y1="271.60" x2="228.50" y2="271.60" stroke="#8a8a8a" stroke-width="1.1" />
<text x="140.00" y="274.00" font-size="7" font-weight="bold" text-anchor="end" fill="#000" stroke="#000" stroke-width="0.3" >0</text>
<text x="140.00" y="257.07" font-size="7" font-weight="bold" text-anchor="end" fill="#000" stroke="#000" stroke-width="0.3" >0.2</text>
<text x="140.00" y="240.13" font-size="7" font-weight="bold" text-anchor="end" fill="#000" stroke="#000" stroke-width="0.3" >0.4</text>
<text x="140.00" y="223.20" font-size="7" font-weight="bold" text-anchor="end" fill="#000" stroke="#000" stroke-width="0.3" >0.6</text>
<text x="140.00" y="206.27" font-size="7" font-weight="bold" text-anchor="end" fill="#000" stroke="#000" stroke-width="0.3" >0.8</text>
<text x="140.00" y="189.33" font-size="7" font-weight="bold" text-anchor="end" fill="#000" stroke="#000" stroke-width="0.3" >1</text>
<text x="140.00" y="172.40" font-size="7" font-weight="bold" text-anchor="end" fill="#000" stroke="#000" stroke-width="0.3" >1.2</text>
<g clip-path="url(#cp146l)">
<text x="154.15" y="284.60" font-size="7" font-weight="bold" text-anchor="middle" fill="#000" stroke="#000" stroke-width="0.3" >0</text>
<text x="168.83" y="284.60" font-size="7" font-weight="bold" text-anchor="middle" fill="#000" stroke="#000" stroke-width="0.3" >25</text>
<text x="183.51" y="284.60" font-size="7" font-weight="bold" text-anchor="middle" fill="#000" stroke="#000" stroke-width="0.3" >35</text>
<text x="198.19" y="284.60" font-size="7" font-weight="bold" text-anchor="middle" fill="#000" stroke="#000" stroke-width="0.3" >50</text>
<text x="212.87" y="284.60" font-size="7" font-weight="bold" text-anchor="middle" fill="#000" stroke="#000" stroke-width="0.3" >75</text>
<text x="227.55" y="284.60" font-size="7" font-weight="bold" text-anchor="middle" fill="#000" stroke="#000" stroke-width="0.3" >100</text>
</g>
<text x="190.00" y="165.30" font-size="9.2" font-weight="bold" text-anchor="middle" fill="#000" textLength="41.4" lengthAdjust="spacingAndGlyphs" stroke="#000" stroke-width="0.3" >Normal #1</text>
<clipPath id="cp257"><rect x="257.6" y="166.6" width="94.39999999999998" height="106.9"/></clipPath>
<clipPath id="cp257l"><rect x="255.60000000000002" y="271.5" width="95.89999999999998" height="20"/></clipPath>
<rect x="257.60" y="168.60" width="94.40" height="102.90" fill="url(#dbg)" stroke="none" stroke-width="1" />
<line x1="257.60" y1="254.35" x2="352.00" y2="254.35" stroke="#8e928a" stroke-width="1.0" />
<line x1="257.60" y1="237.20" x2="352.00" y2="237.20" stroke="#8e928a" stroke-width="1.0" />
<line x1="257.60" y1="220.05" x2="352.00" y2="220.05" stroke="#8e928a" stroke-width="1.0" />
<line x1="257.60" y1="202.90" x2="352.00" y2="202.90" stroke="#8e928a" stroke-width="1.0" />
<line x1="257.60" y1="185.75" x2="352.00" y2="185.75" stroke="#8e928a" stroke-width="1.0" />
<line x1="257.60" y1="168.60" x2="352.00" y2="168.60" stroke="#8e928a" stroke-width="1.0" />
<g clip-path="url(#cp257)">
<rect x="259.65" y="186.10" width="3.10" height="85.40" fill="url(#db1)" stroke="#56722a" stroke-width="0.7" />
<rect x="263.45" y="186.10" width="3.10" height="85.40" fill="url(#db2)" stroke="#6a8a30" stroke-width="0.7" />
<rect x="267.25" y="186.10" width="3.10" height="85.40" fill="url(#db3)" stroke="#76963e" stroke-width="0.7" />
<rect x="275.65" y="192.10" width="3.10" height="79.40" fill="url(#db1)" stroke="#56722a" stroke-width="0.7" />
<rect x="279.45" y="198.10" width="3.10" height="73.40" fill="url(#db2)" stroke="#6a8a30" stroke-width="0.7" />
<rect x="283.25" y="190.39" width="3.10" height="81.11" fill="url(#db3)" stroke="#76963e" stroke-width="0.7" />
<rect x="291.65" y="197.25" width="3.10" height="74.25" fill="url(#db1)" stroke="#56722a" stroke-width="0.7" />
<rect x="295.45" y="198.10" width="3.10" height="73.40" fill="url(#db2)" stroke="#6a8a30" stroke-width="0.7" />
<rect x="299.25" y="192.96" width="3.10" height="78.54" fill="url(#db3)" stroke="#76963e" stroke-width="0.7" />
<rect x="307.65" y="203.25" width="3.10" height="68.25" fill="url(#db1)" stroke="#56722a" stroke-width="0.7" />
<rect x="311.45" y="196.39" width="3.10" height="75.11" fill="url(#db2)" stroke="#6a8a30" stroke-width="0.7" />
<rect x="315.25" y="196.39" width="3.10" height="75.11" fill="url(#db3)" stroke="#76963e" stroke-width="0.7" />
<rect x="323.65" y="201.53" width="3.10" height="69.97" fill="url(#db1)" stroke="#56722a" stroke-width="0.7" />
<rect x="327.45" y="203.25" width="3.10" height="68.25" fill="url(#db2)" stroke="#6a8a30" stroke-width="0.7" />
<rect x="331.25" y="198.10" width="3.10" height="73.40" fill="url(#db3)" stroke="#76963e" stroke-width="0.7" />
<rect x="339.65" y="201.53" width="3.10" height="69.97" fill="url(#db1)" stroke="#56722a" stroke-width="0.7" />
<rect x="343.45" y="203.25" width="3.10" height="68.25" fill="url(#db2)" stroke="#6a8a30" stroke-width="0.7" />
<rect x="347.25" y="197.25" width="3.10" height="74.25" fill="url(#db3)" stroke="#76963e" stroke-width="0.7" />
</g>
<line x1="257.60" y1="168.30" x2="257.60" y2="271.50" stroke="#8a8a8a" stroke-width="1.1" />
<line x1="257.60" y1="271.50" x2="352.00" y2="271.50" stroke="#8a8a8a" stroke-width="1.1" />
<text x="250.00" y="273.90" font-size="7" font-weight="bold" text-anchor="end" fill="#000" stroke="#000" stroke-width="0.3" >0</text>
<text x="250.00" y="256.75" font-size="7" font-weight="bold" text-anchor="end" fill="#000" stroke="#000" stroke-width="0.3" >0.2</text>
<text x="250.00" y="239.60" font-size="7" font-weight="bold" text-anchor="end" fill="#000" stroke="#000" stroke-width="0.3" >0.4</text>
<text x="250.00" y="222.45" font-size="7" font-weight="bold" text-anchor="end" fill="#000" stroke="#000" stroke-width="0.3" >0.6</text>
<text x="250.00" y="205.30" font-size="7" font-weight="bold" text-anchor="end" fill="#000" stroke="#000" stroke-width="0.3" >0.8</text>
<text x="250.00" y="188.15" font-size="7" font-weight="bold" text-anchor="end" fill="#000" stroke="#000" stroke-width="0.3" >1</text>
<text x="250.00" y="171.00" font-size="7" font-weight="bold" text-anchor="end" fill="#000" stroke="#000" stroke-width="0.3" >1.2</text>
<g clip-path="url(#cp257l)">
<text x="265.00" y="284.60" font-size="7" font-weight="bold" text-anchor="middle" fill="#000" stroke="#000" stroke-width="0.3" >0</text>
<text x="281.00" y="284.60" font-size="7" font-weight="bold" text-anchor="middle" fill="#000" stroke="#000" stroke-width="0.3" >25</text>
<text x="297.00" y="284.60" font-size="7" font-weight="bold" text-anchor="middle" fill="#000" stroke="#000" stroke-width="0.3" >35</text>
<text x="313.00" y="284.60" font-size="7" font-weight="bold" text-anchor="middle" fill="#000" stroke="#000" stroke-width="0.3" >50</text>
<text x="329.00" y="284.60" font-size="7" font-weight="bold" text-anchor="middle" fill="#000" stroke="#000" stroke-width="0.3" >75</text>
<text x="345.00" y="284.60" font-size="7" font-weight="bold" text-anchor="middle" fill="#000" stroke="#000" stroke-width="0.3" >100</text>
</g>
<text x="302.70" y="165.30" font-size="9.2" font-weight="bold" text-anchor="middle" fill="#000" textLength="41.4" lengthAdjust="spacingAndGlyphs" stroke="#000" stroke-width="0.3" >Normal #2</text>
<clipPath id="cp376"><rect x="376.5" y="167.5" width="92.69999999999999" height="106.10000000000002"/></clipPath>
<clipPath id="cp376l"><rect x="374.5" y="271.6" width="94.19999999999999" height="20"/></clipPath>
<rect x="376.50" y="169.50" width="92.70" height="102.10" fill="url(#dbg)" stroke="none" stroke-width="1" />
<line x1="376.50" y1="254.58" x2="469.20" y2="254.58" stroke="#8e928a" stroke-width="1.0" />
<line x1="376.50" y1="237.57" x2="469.20" y2="237.57" stroke="#8e928a" stroke-width="1.0" />
<line x1="376.50" y1="220.55" x2="469.20" y2="220.55" stroke="#8e928a" stroke-width="1.0" />
<line x1="376.50" y1="203.53" x2="469.20" y2="203.53" stroke="#8e928a" stroke-width="1.0" />
<line x1="376.50" y1="186.52" x2="469.20" y2="186.52" stroke="#8e928a" stroke-width="1.0" />
<line x1="376.50" y1="169.50" x2="469.20" y2="169.50" stroke="#8e928a" stroke-width="1.0" />
<g clip-path="url(#cp376)">
<rect x="378.35" y="186.87" width="3.05" height="84.73" fill="url(#db1)" stroke="#56722a" stroke-width="0.7" />
<rect x="382.10" y="186.87" width="3.05" height="84.73" fill="url(#db2)" stroke="#6a8a30" stroke-width="0.7" />
<rect x="385.85" y="186.87" width="3.05" height="84.73" fill="url(#db3)" stroke="#76963e" stroke-width="0.7" />
<rect x="394.10" y="191.97" width="3.05" height="79.63" fill="url(#db1)" stroke="#56722a" stroke-width="0.7" />
<rect x="397.85" y="200.48" width="3.05" height="71.12" fill="url(#db2)" stroke="#6a8a30" stroke-width="0.7" />
<rect x="401.60" y="197.08" width="3.05" height="74.52" fill="url(#db3)" stroke="#76963e" stroke-width="0.7" />
<rect x="409.85" y="199.63" width="3.05" height="71.97" fill="url(#db1)" stroke="#56722a" stroke-width="0.7" />
<rect x="413.60" y="204.73" width="3.05" height="66.87" fill="url(#db2)" stroke="#6a8a30" stroke-width="0.7" />
<rect x="417.35" y="197.08" width="3.05" height="74.52" fill="url(#db3)" stroke="#76963e" stroke-width="0.7" />
<rect x="425.60" y="203.03" width="3.05" height="68.57" fill="url(#db1)" stroke="#56722a" stroke-width="0.7" />
<rect x="429.35" y="201.33" width="3.05" height="70.27" fill="url(#db2)" stroke="#6a8a30" stroke-width="0.7" />
<rect x="433.10" y="198.78" width="3.05" height="72.82" fill="url(#db3)" stroke="#76963e" stroke-width="0.7" />
<rect x="441.35" y="203.88" width="3.05" height="67.72" fill="url(#db1)" stroke="#56722a" stroke-width="0.7" />
<rect x="445.10" y="212.39" width="3.05" height="59.21" fill="url(#db2)" stroke="#6a8a30" stroke-width="0.7" />
<rect x="448.85" y="200.48" width="3.05" height="71.12" fill="url(#db3)" stroke="#76963e" stroke-width="0.7" />
<rect x="457.10" y="203.88" width="3.05" height="67.72" fill="url(#db1)" stroke="#56722a" stroke-width="0.7" />
<rect x="460.85" y="213.24" width="3.05" height="58.36" fill="url(#db2)" stroke="#6a8a30" stroke-width="0.7" />
<rect x="464.60" y="200.48" width="3.05" height="71.12" fill="url(#db3)" stroke="#76963e" stroke-width="0.7" />
</g>
<line x1="376.50" y1="169.20" x2="376.50" y2="271.60" stroke="#8a8a8a" stroke-width="1.1" />
<line x1="376.50" y1="271.60" x2="469.20" y2="271.60" stroke="#8a8a8a" stroke-width="1.1" />
<text x="369.00" y="274.00" font-size="7" font-weight="bold" text-anchor="end" fill="#000" stroke="#000" stroke-width="0.3" >0</text>
<text x="369.00" y="256.98" font-size="7" font-weight="bold" text-anchor="end" fill="#000" stroke="#000" stroke-width="0.3" >0.2</text>
<text x="369.00" y="239.97" font-size="7" font-weight="bold" text-anchor="end" fill="#000" stroke="#000" stroke-width="0.3" >0.4</text>
<text x="369.00" y="222.95" font-size="7" font-weight="bold" text-anchor="end" fill="#000" stroke="#000" stroke-width="0.3" >0.6</text>
<text x="369.00" y="205.93" font-size="7" font-weight="bold" text-anchor="end" fill="#000" stroke="#000" stroke-width="0.3" >0.8</text>
<text x="369.00" y="188.92" font-size="7" font-weight="bold" text-anchor="end" fill="#000" stroke="#000" stroke-width="0.3" >1</text>
<text x="369.00" y="171.90" font-size="7" font-weight="bold" text-anchor="end" fill="#000" stroke="#000" stroke-width="0.3" >1.2</text>
<g clip-path="url(#cp376l)">
<text x="383.62" y="284.60" font-size="7" font-weight="bold" text-anchor="middle" fill="#000" stroke="#000" stroke-width="0.3" >0</text>
<text x="399.38" y="284.60" font-size="7" font-weight="bold" text-anchor="middle" fill="#000" stroke="#000" stroke-width="0.3" >25</text>
<text x="415.12" y="284.60" font-size="7" font-weight="bold" text-anchor="middle" fill="#000" stroke="#000" stroke-width="0.3" >35</text>
<text x="430.88" y="284.60" font-size="7" font-weight="bold" text-anchor="middle" fill="#000" stroke="#000" stroke-width="0.3" >50</text>
<text x="446.62" y="284.60" font-size="7" font-weight="bold" text-anchor="middle" fill="#000" stroke="#000" stroke-width="0.3" >75</text>
<text x="462.38" y="284.60" font-size="7" font-weight="bold" text-anchor="middle" fill="#000" stroke="#000" stroke-width="0.3" >100</text>
</g>
<text x="422.00" y="165.30" font-size="9.2" font-weight="bold" text-anchor="middle" fill="#000" textLength="41.4" lengthAdjust="spacingAndGlyphs" stroke="#000" stroke-width="0.3" >Normal #3</text>
<text x="113.00" y="65.20" font-size="7.8" font-weight="bold" text-anchor="middle" fill="#000" textLength="90.7" lengthAdjust="spacingAndGlyphs" stroke="#000" stroke-width="0.3" transform="rotate(-90 113.0 65.2)">Normalized live cell number</text>
<text x="122.6" y="65.8" font-size="7.6" font-weight="bold" text-anchor="middle" stroke="#000" stroke-width="0.3" transform="rotate(-90 122.6 65.8)" textLength="37.2" lengthAdjust="spacingAndGlyphs">(AnnV<tspan font-size="5.2" dy="-2.9">–</tspan><tspan dy="2.9">, PI</tspan><tspan font-size="5.2" dy="-2.9">–</tspan><tspan dy="2.9">)</tspan></text>
<text x="116.80" y="221.00" font-size="7.8" font-weight="bold" text-anchor="middle" fill="#000" textLength="91.7" lengthAdjust="spacingAndGlyphs" stroke="#000" stroke-width="0.3" transform="rotate(-90 116.8 221.0)">Normalized live Cell number</text>
<text x="126.5" y="221.4" font-size="7.6" font-weight="bold" text-anchor="middle" stroke="#000" stroke-width="0.3" transform="rotate(-90 126.5 221.4)" textLength="41.2" lengthAdjust="spacingAndGlyphs">(AnnV<tspan font-size="5.2" dy="-2.9">–</tspan><tspan dy="2.9">,  PI</tspan><tspan font-size="5.2" dy="-2.9">–</tspan><tspan dy="2.9"> )</tspan></text>
<text x="304.00" y="138.20" font-size="8" font-weight="bold" text-anchor="middle" fill="#000" textLength="111" lengthAdjust="spacingAndGlyphs" stroke="#000" stroke-width="0.3" >(–)BI97D6 concentration (nM)</text>
<text x="303.20" y="298.60" font-size="8" font-weight="bold" text-anchor="middle" fill="#000" textLength="109" lengthAdjust="spacingAndGlyphs" stroke="#000" stroke-width="0.3" >(–)BI97D6 concentration (nM)</text>
<rect x="473.80" y="16.40" width="4.00" height="3.80" fill="#9e4656" stroke="#6e2830" stroke-width="0.6" />
<text x="479.50" y="21.20" font-size="6.8" font-weight="bold" text-anchor="start" fill="#000" textLength="34" lengthAdjust="spacingAndGlyphs" stroke="#000" stroke-width="0.3" >AML MNCs</text>
<rect x="473.80" y="33.80" width="4.00" height="3.80" fill="#a85664" stroke="#6e2830" stroke-width="0.6" />
<text x="479.50" y="38.60" font-size="6.8" font-weight="bold" text-anchor="start" fill="#000" textLength="34" lengthAdjust="spacingAndGlyphs" stroke="#000" stroke-width="0.3" >AML MNCs</text>
<text x="479.50" y="47.60" font-size="6.8" font-weight="bold" text-anchor="start" fill="#000" textLength="18.5" lengthAdjust="spacingAndGlyphs" stroke="#000" stroke-width="0.3" >CD34+</text>
<rect x="473.80" y="51.40" width="4.00" height="3.80" fill="#ecdfe2" stroke="#a08890" stroke-width="0.6" />
<text x="479.50" y="56.00" font-size="6.8" font-weight="bold" text-anchor="start" fill="#000" textLength="34" lengthAdjust="spacingAndGlyphs" stroke="#000" stroke-width="0.3" >AML MNCs</text>
<text x="479.50" y="64.80" font-size="6.8" font-weight="bold" text-anchor="start" fill="#000" textLength="38" lengthAdjust="spacingAndGlyphs" stroke="#000" stroke-width="0.3" >CD34+CD38-</text>
<rect x="471.30" y="169.30" width="4.00" height="3.80" fill="#86985a" stroke="#687a46" stroke-width="0.6" />
<text x="477.00" y="174.30" font-size="6.8" font-weight="bold" text-anchor="start" fill="#000" textLength="36" lengthAdjust="spacingAndGlyphs" stroke="#000" stroke-width="0.3" >Nor. NMCs</text>
<rect x="471.30" y="188.00" width="4.00" height="3.80" fill="#9cb262" stroke="#7a8c48" stroke-width="0.6" />
<text x="477.00" y="193.00" font-size="6.8" font-weight="bold" text-anchor="start" fill="#000" textLength="36" lengthAdjust="spacingAndGlyphs" stroke="#000" stroke-width="0.3" >Nor. MNCs</text>
<text x="477.00" y="202.80" font-size="6.8" font-weight="bold" text-anchor="start" fill="#000" textLength="18.5" lengthAdjust="spacingAndGlyphs" stroke="#000" stroke-width="0.3" >CD34+</text>
<rect x="471.30" y="206.60" width="4.00" height="3.80" fill="#e6eadc" stroke="#a0a498" stroke-width="0.6" />
<text x="477.00" y="212.20" font-size="6.8" font-weight="bold" text-anchor="start" fill="#000" textLength="36" lengthAdjust="spacingAndGlyphs" stroke="#000" stroke-width="0.3" >Nor. MNCs</text>
<text x="477.00" y="221.90" font-size="6.8" font-weight="bold" text-anchor="start" fill="#000" textLength="40.5" lengthAdjust="spacingAndGlyphs" stroke="#000" stroke-width="0.3" >CD34+CD38-</text>
<path d="M11 352.4 L19.2 345.6 L40.4 344.0 L43.9 347.4 L44.2 352.6 L42.6 356.6 L12.6 362.0 Z" fill="#fdfdfd" stroke="#b4b4b4" stroke-width="0.6"/>
<path d="M11.4 353.4 L20 352.0 L42.2 350.0 Q44.6 351.2 44.0 353.4 Q43.6 355.8 42.2 356.6 L12.6 362.0 Z" fill="#e81c2c"/>
<path d="M15 356.6 L40.5 352.8 L40.6 354.4 L15.2 358.4 Z" fill="#f65a6a" opacity="0.7"/>
<path d="M13 360.6 L42.2 355.4 L42.2 356.6 L12.6 362.0 Z" fill="#b81222" opacity="0.6"/>
<rect x="3.9" y="352.6" width="8.4" height="9.4" rx="2.6" fill="#f23a26" transform="rotate(-8 8.1 357.3)"/>
<rect x="4.8" y="353.8" width="2.8" height="7" rx="1.2" fill="#fa7058" transform="rotate(-8 8.1 357.3)" opacity="0.6"/>
<text x="7.40" y="370.30" font-size="7.0" font-weight="bold" text-anchor="start" fill="#000" stroke="#000" stroke-width="0.3" >DMSO or</text>
<text x="7.40" y="379.40" font-size="7.0" font-weight="bold" text-anchor="start" fill="#000" textLength="31.6" lengthAdjust="spacingAndGlyphs" stroke="#000" stroke-width="0.3" >(–)BI97D6</text>
<line x1="44.80" y1="354.20" x2="97.40" y2="384.00" stroke="#000" stroke-width="2.0" stroke-dasharray="3.0 1.9"/>
<path d="M103.0 387.6 L94.2 386.4 L97.0 384.2 L96.6 380.6 Z" fill="#000"/>
<text x="75.70" y="366.40" font-size="6.8" font-weight="bold" text-anchor="middle" fill="#1c1cd4" stroke="#1c1cd4" stroke-width="0.3" >24 h</text>
<g transform="translate(103.3 393.8) rotate(-44)">
<line x1="-9.0" y1="0" x2="0" y2="0" stroke="#b0a860" stroke-width="1.2"/>
<line x1="-8.6" y1="0" x2="0" y2="0" stroke="#e8e0a0" stroke-width="0.4"/>
<rect x="-0.8" y="-2.0" width="2.8" height="4.0" fill="#222"/>
<rect x="2.0" y="-2.2" width="13.8" height="4.4" fill="#ddd2e6" stroke="#5a5a5a" stroke-width="0.6"/>
<rect x="2.0" y="-0.9" width="13.8" height="2.4" fill="#b49cc4" opacity="0.7"/>
<line x1="4.0" y1="-2.3" x2="4.0" y2="-0.4" stroke="#606060" stroke-width="0.4"/>
<line x1="6.0" y1="-2.3" x2="6.0" y2="-0.4" stroke="#606060" stroke-width="0.4"/>
<line x1="8.0" y1="-2.3" x2="8.0" y2="-0.4" stroke="#606060" stroke-width="0.4"/>
<line x1="10.0" y1="-2.3" x2="10.0" y2="-0.4" stroke="#606060" stroke-width="0.4"/>
<line x1="12.0" y1="-2.3" x2="12.0" y2="-0.4" stroke="#606060" stroke-width="0.4"/>
<line x1="14.0" y1="-2.3" x2="14.0" y2="-0.4" stroke="#606060" stroke-width="0.4"/>
<line x1="15.8" y1="-3.4" x2="15.8" y2="3.4" stroke="#6a6a6a" stroke-width="0.9"/>
<rect x="15.8" y="-1.1" width="6.2" height="2.2" fill="#f2f2f2" stroke="#6a6a6a" stroke-width="0.5"/>
<line x1="22.2" y1="-2.8" x2="22.2" y2="2.8" stroke="#6a6a6a" stroke-width="0.9"/>
</g>
<path d="M24.8 407.4 C23.6 404.4 20.6 403.2 16.2 403.6 C11.5 404.1 8.8 407.4 0 408.4" fill="none" stroke="#6e6e6e" stroke-width="1.9" stroke-linecap="round"/>
<path d="M24.8 407.4 C23.6 404.4 20.6 403.2 16.2 403.6 C11.5 404.1 8.8 407.4 0 408.4" fill="none" stroke="#c8c8c8" stroke-width="0.7" stroke-linecap="round"/>
<path d="M10.3 419.2 C10.3 411.2 15.3 407.2 22.3 407.2 C29.3 407.2 34.3 411.2 34.3 419.2 C34.3 423.2 30.8 426.7 27.1 430.2 Q22.3 432.1 17.5 430.2 C13.8 426.7 10.3 423.2 10.3 419.2 Z" fill="#d8d8d8" stroke="#686868" stroke-width="1.0"/>
<path d="M12.4 419.8 Q16.1 411.6 21.7 419.8" fill="none" stroke="#8c8c8c" stroke-width="2.4" stroke-linecap="round"/>
<path d="M12.4 419.8 Q16.1 411.6 21.7 419.8" fill="none" stroke="#bdbdbd" stroke-width="0.7" stroke-linecap="round"/>
<path d="M34.6 419.8 Q30.9 411.6 25.3 419.8" fill="none" stroke="#8c8c8c" stroke-width="2.4" stroke-linecap="round"/>
<path d="M34.6 419.8 Q30.9 411.6 25.3 419.8" fill="none" stroke="#bdbdbd" stroke-width="0.7" stroke-linecap="round"/>
<circle cx="20.3" cy="426.1" r="1.2" fill="#111"/>
<circle cx="26.7" cy="426.1" r="1.2" fill="#111"/>
<path d="M18.5 429.1 Q23.5 432.0 28.5 429.1" fill="none" stroke="#2a2a2a" stroke-width="1.5"/>
<circle cx="23.5" cy="430.3" r="1.0" fill="#111"/>
<line x1="18.5" y1="428.6" x2="14.1" y2="428.6" stroke="#8a8a8a" stroke-width="0.6"/>
<line x1="28.5" y1="428.6" x2="32.9" y2="428.6" stroke="#8a8a8a" stroke-width="0.6"/>
<line x1="18.5" y1="429.4" x2="14.3" y2="432.2" stroke="#8a8a8a" stroke-width="0.6"/>
<line x1="28.5" y1="429.4" x2="32.7" y2="432.2" stroke="#8a8a8a" stroke-width="0.6"/>
<line x1="19.3" y1="430.0" x2="17.0" y2="433.4" stroke="#8a8a8a" stroke-width="0.6"/>
<line x1="27.7" y1="430.0" x2="30.0" y2="433.4" stroke="#8a8a8a" stroke-width="0.6"/>
<path d="M103.8 407.4 C102.4 404.2 99.4 403.0 95 403.4 C90 403.9 86.2 406.6 82 408.4 C80.4 408.9 80.0 407.6 80.8 406.8" fill="none" stroke="#6e6e6e" stroke-width="1.9" stroke-linecap="round"/>
<path d="M103.8 407.4 C102.4 404.2 99.4 403.0 95 403.4 C90 403.9 86.2 406.6 82 408.4 C80.4 408.9 80.0 407.6 80.8 406.8" fill="none" stroke="#c8c8c8" stroke-width="0.7" stroke-linecap="round"/>
<path d="M90.4 419.2 C90.4 411.2 96.2 407.2 103.2 407.2 C110.2 407.2 116.0 411.2 116.0 419.2 C116.0 423.2 111.7 426.7 108.0 430.2 Q103.2 432.1 98.4 430.2 C94.7 426.7 90.4 423.2 90.4 419.2 Z" fill="#c9c9c9" stroke="#686868" stroke-width="1.0"/>
<path d="M91.6 419.8 Q96.1 411.6 101.7 419.8" fill="none" stroke="#8c8c8c" stroke-width="2.4" stroke-linecap="round"/>
<path d="M91.6 419.8 Q96.1 411.6 101.7 419.8" fill="none" stroke="#bdbdbd" stroke-width="0.7" stroke-linecap="round"/>
<path d="M115.4 419.8 Q110.9 411.6 105.3 419.8" fill="none" stroke="#8c8c8c" stroke-width="2.4" stroke-linecap="round"/>
<path d="M115.4 419.8 Q110.9 411.6 105.3 419.8" fill="none" stroke="#bdbdbd" stroke-width="0.7" stroke-linecap="round"/>
<circle cx="100.3" cy="426.1" r="1.2" fill="#111"/>
<circle cx="106.7" cy="426.1" r="1.2" fill="#111"/>
<path d="M98.5 429.1 Q103.5 432.0 108.5 429.1" fill="none" stroke="#2a2a2a" stroke-width="1.5"/>
<circle cx="103.5" cy="430.3" r="1.0" fill="#111"/>
<line x1="98.5" y1="428.6" x2="94.1" y2="428.6" stroke="#8a8a8a" stroke-width="0.6"/>
<line x1="108.5" y1="428.6" x2="112.9" y2="428.6" stroke="#8a8a8a" stroke-width="0.6"/>
<line x1="98.5" y1="429.4" x2="94.3" y2="432.2" stroke="#8a8a8a" stroke-width="0.6"/>
<line x1="108.5" y1="429.4" x2="112.7" y2="432.2" stroke="#8a8a8a" stroke-width="0.6"/>
<line x1="99.3" y1="430.0" x2="97.0" y2="433.4" stroke="#8a8a8a" stroke-width="0.6"/>
<line x1="107.7" y1="430.0" x2="110.0" y2="433.4" stroke="#8a8a8a" stroke-width="0.6"/>
<text x="22.60" y="439.60" font-size="7.0" font-weight="bold" text-anchor="middle" fill="#000" stroke="#000" stroke-width="0.3" >NSG mice</text>
<text x="45.30" y="407.70" font-size="5.9" font-weight="bold" text-anchor="middle" fill="#000" stroke="#000" stroke-width="0.3" >0.25 Gy</text>
<circle cx="44.4" cy="418.8" r="8.0" fill="#f0ee30" stroke="#111" stroke-width="1.2"/>
<path d="M52.00 418.80 A7.6 7.6 0 0 0 48.20 412.22 L45.35 417.15 A1.9 1.9 0 0 1 46.30 418.80 Z" fill="#111"/>
<path d="M40.60 412.22 A7.6 7.6 0 0 0 36.80 418.80 L42.50 418.80 A1.9 1.9 0 0 1 43.45 417.15 Z" fill="#111"/>
<path d="M40.60 425.38 A7.6 7.6 0 0 0 48.20 425.38 L45.35 420.45 A1.9 1.9 0 0 1 43.45 420.45 Z" fill="#111"/>
<circle cx="44.4" cy="418.8" r="1.15" fill="#111"/>
<line x1="56.00" y1="418.70" x2="85.00" y2="418.70" stroke="#000" stroke-width="1.6" />
<path d="M89.2 418.7 L81.6 415.0 L83.4 418.7 L81.6 422.4 Z" fill="#000"/>
<text x="71.20" y="416.20" font-size="6.8" font-weight="bold" text-anchor="middle" fill="#1c1cd4" stroke="#1c1cd4" stroke-width="0.3" >24 h</text>
<line x1="117.40" y1="418.40" x2="155.50" y2="418.40" stroke="#000" stroke-width="1.6" />
<path d="M159.8 418.4 L152.2 414.8 L154.0 418.4 L152.2 422.0 Z" fill="#000"/>
<text x="143.60" y="380.90" font-size="6.0" font-weight="bold" text-anchor="middle" fill="#000" stroke="#000" stroke-width="0.15" >Engraftment</text>
<text x="144.00" y="389.00" font-size="6.0" font-weight="bold" text-anchor="middle" fill="#000" stroke="#000" stroke-width="0.15" >Check</text>
<line x1="143.40" y1="391.80" x2="143.40" y2="410.00" stroke="#000" stroke-width="1.2" stroke-dasharray="2.4 1.6"/>
<path d="M143.4 415.4 L140.4 407.8 L143.4 409.6 L146.4 407.8 Z" fill="#000"/>
<rect x="161.0" y="400.2" width="34.4" height="32.2" rx="4.8" ry="4.8" fill="#fff" stroke="#000" stroke-width="1.7"/>
<text x="167.70" y="408.80" font-size="6.5" font-weight="bold" text-anchor="start" fill="#000" stroke="#000" stroke-width="0.12" >Monitor</text>
<text x="167.70" y="417.30" font-size="6.5" font-weight="bold" text-anchor="start" fill="#000" stroke="#000" stroke-width="0.12" >overall</text>
<text x="167.70" y="425.20" font-size="6.5" font-weight="bold" text-anchor="start" fill="#000" stroke="#000" stroke-width="0.12" >survival</text>
<rect x="209.40" y="326.40" width="52.20" height="52.20" fill="#fff" stroke="#b0b0b0" stroke-width="0.9" />
<path d="M214.0 375.0 L219.0 352.0 L232.0 338.0 L248.0 336.0 L258.0 347.0 L257.0 368.0 L246.0 374.0Z" fill="#d6e4e0" fill-opacity="0.9" filter="url(#bl14)"/>
<path d="M212.0 378.0 L216.0 360.0 L226.0 347.0 L240.0 342.0 L248.0 348.0 L240.0 362.0 L226.0 374.0Z" fill="#9cc8bc" fill-opacity="0.8" filter="url(#bl14)"/>
<path d="M216.4 366.7h0.8v0.8h-0.8zM249.7 344.4h0.8v0.8h-0.8zM244.7 356.6h0.8v0.8h-0.8zM211.5 373.8h0.8v0.8h-0.8zM216.1 361.8h0.8v0.8h-0.8zM243.1 353.6h0.8v0.8h-0.8zM222.9 370.6h0.8v0.8h-0.8zM233.6 360.1h0.8v0.8h-0.8zM220.0 368.7h0.8v0.8h-0.8zM226.5 356.8h0.8v0.8h-0.8zM226.3 363.6h0.8v0.8h-0.8zM243.0 343.9h0.8v0.8h-0.8zM226.8 372.0h0.8v0.8h-0.8zM242.1 342.2h0.8v0.8h-0.8zM229.5 349.6h0.8v0.8h-0.8zM237.7 349.8h0.8v0.8h-0.8zM235.0 359.0h0.8v0.8h-0.8zM253.2 346.4h0.8v0.8h-0.8zM258.7 349.4h0.8v0.8h-0.8zM229.1 355.9h0.8v0.8h-0.8zM245.1 339.7h0.8v0.8h-0.8zM217.2 363.4h0.8v0.8h-0.8zM219.5 375.9h0.8v0.8h-0.8zM258.8 340.2h0.8v0.8h-0.8zM216.5 369.0h0.8v0.8h-0.8zM238.1 347.8h0.8v0.8h-0.8zM232.6 357.4h0.8v0.8h-0.8zM234.6 348.4h0.8v0.8h-0.8zM248.9 336.7h0.8v0.8h-0.8zM254.2 348.7h0.8v0.8h-0.8zM227.3 360.4h0.8v0.8h-0.8zM221.6 367.0h0.8v0.8h-0.8zM233.8 359.6h0.8v0.8h-0.8zM236.3 349.4h0.8v0.8h-0.8zM228.4 362.5h0.8v0.8h-0.8zM224.4 369.5h0.8v0.8h-0.8zM220.7 377.7h0.8v0.8h-0.8zM254.6 339.8h0.8v0.8h-0.8zM232.4 360.4h0.8v0.8h-0.8zM222.8 372.5h0.8v0.8h-0.8zM246.2 346.5h0.8v0.8h-0.8zM224.9 355.5h0.8v0.8h-0.8zM235.2 369.5h0.8v0.8h-0.8zM228.5 365.3h0.8v0.8h-0.8zM224.5 356.7h0.8v0.8h-0.8zM231.3 361.4h0.8v0.8h-0.8zM213.0 374.2h0.8v0.8h-0.8zM219.7 372.8h0.8v0.8h-0.8zM235.6 356.5h0.8v0.8h-0.8zM227.8 367.0h0.8v0.8h-0.8zM241.0 353.7h0.8v0.8h-0.8zM225.1 362.8h0.8v0.8h-0.8zM224.3 369.8h0.8v0.8h-0.8zM227.2 363.6h0.8v0.8h-0.8zM226.7 356.5h0.8v0.8h-0.8zM229.5 356.9h0.8v0.8h-0.8zM223.3 367.4h0.8v0.8h-0.8zM212.6 375.9h0.8v0.8h-0.8zM235.0 347.6h0.8v0.8h-0.8zM240.3 346.0h0.8v0.8h-0.8zM246.9 347.5h0.8v0.8h-0.8zM235.5 361.1h0.8v0.8h-0.8zM241.4 356.9h0.8v0.8h-0.8zM210.5 369.0h0.8v0.8h-0.8zM237.3 357.4h0.8v0.8h-0.8zM247.7 348.0h0.8v0.8h-0.8zM242.6 365.8h0.8v0.8h-0.8zM235.9 352.2h0.8v0.8h-0.8zM239.3 355.9h0.8v0.8h-0.8zM234.6 374.0h0.8v0.8h-0.8zM236.3 344.8h0.8v0.8h-0.8zM221.0 377.9h0.8v0.8h-0.8zM217.5 367.1h0.8v0.8h-0.8zM230.3 353.2h0.8v0.8h-0.8zM220.3 370.4h0.8v0.8h-0.8zM232.5 361.5h0.8v0.8h-0.8zM229.0 358.5h0.8v0.8h-0.8zM230.8 369.5h0.8v0.8h-0.8zM226.4 361.9h0.8v0.8h-0.8zM250.4 343.4h0.8v0.8h-0.8zM217.6 365.1h0.8v0.8h-0.8zM246.7 341.7h0.8v0.8h-0.8zM220.6 375.3h0.8v0.8h-0.8zM235.4 350.8h0.8v0.8h-0.8zM232.6 366.6h0.8v0.8h-0.8zM226.4 360.4h0.8v0.8h-0.8zM242.8 345.7h0.8v0.8h-0.8zM227.3 361.3h0.8v0.8h-0.8zM235.2 351.4h0.8v0.8h-0.8zM240.9 363.3h0.8v0.8h-0.8zM222.8 362.8h0.8v0.8h-0.8zM227.1 361.6h0.8v0.8h-0.8zM230.7 372.7h0.8v0.8h-0.8zM217.6 367.1h0.8v0.8h-0.8zM256.7 351.2h0.8v0.8h-0.8zM236.2 355.1h0.8v0.8h-0.8zM254.2 339.4h0.8v0.8h-0.8zM249.0 351.0h0.8v0.8h-0.8zM219.5 374.2h0.8v0.8h-0.8zM237.6 349.5h0.8v0.8h-0.8zM241.5 362.8h0.8v0.8h-0.8zM220.4 367.7h0.8v0.8h-0.8zM243.2 350.7h0.8v0.8h-0.8zM235.6 342.2h0.8v0.8h-0.8zM251.0 346.1h0.8v0.8h-0.8zM215.3 362.7h0.8v0.8h-0.8zM218.9 363.0h0.8v0.8h-0.8zM243.4 354.2h0.8v0.8h-0.8zM217.8 368.0h0.8v0.8h-0.8zM244.2 345.8h0.8v0.8h-0.8zM227.1 360.3h0.8v0.8h-0.8zM251.9 349.2h0.8v0.8h-0.8zM234.2 359.0h0.8v0.8h-0.8zM252.9 347.5h0.8v0.8h-0.8zM247.0 341.0h0.8v0.8h-0.8zM218.5 366.4h0.8v0.8h-0.8zM219.2 368.0h0.8v0.8h-0.8zM241.3 357.3h0.8v0.8h-0.8zM245.5 348.0h0.8v0.8h-0.8zM240.7 361.2h0.8v0.8h-0.8zM255.9 345.4h0.8v0.8h-0.8zM227.3 364.4h0.8v0.8h-0.8zM246.5 345.6h0.8v0.8h-0.8zM242.8 351.3h0.8v0.8h-0.8zM248.7 332.3h0.8v0.8h-0.8zM239.6 349.6h0.8v0.8h-0.8zM215.1 368.5h0.8v0.8h-0.8zM213.8 365.8h0.8v0.8h-0.8zM218.0 372.9h0.8v0.8h-0.8zM250.9 339.8h0.8v0.8h-0.8zM229.1 352.3h0.8v0.8h-0.8zM242.5 345.8h0.8v0.8h-0.8zM217.5 367.2h0.8v0.8h-0.8zM223.4 360.7h0.8v0.8h-0.8zM212.9 374.9h0.8v0.8h-0.8zM228.1 358.8h0.8v0.8h-0.8zM247.6 355.2h0.8v0.8h-0.8zM226.7 350.9h0.8v0.8h-0.8zM225.9 369.4h0.8v0.8h-0.8zM221.3 377.0h0.8v0.8h-0.8zM242.9 339.8h0.8v0.8h-0.8zM252.8 349.9h0.8v0.8h-0.8zM249.6 355.0h0.8v0.8h-0.8zM217.1 362.1h0.8v0.8h-0.8zM220.5 366.6h0.8v0.8h-0.8zM243.7 344.9h0.8v0.8h-0.8zM216.8 358.6h0.8v0.8h-0.8zM249.2 337.6h0.8v0.8h-0.8zM217.0 373.0h0.8v0.8h-0.8zM237.0 368.6h0.8v0.8h-0.8zM245.7 349.2h0.8v0.8h-0.8zM252.1 344.9h0.8v0.8h-0.8zM223.6 363.9h0.8v0.8h-0.8zM238.8 345.4h0.8v0.8h-0.8zM232.1 349.6h0.8v0.8h-0.8zM227.6 358.2h0.8v0.8h-0.8zM219.9 371.9h0.8v0.8h-0.8zM237.8 359.6h0.8v0.8h-0.8zM245.6 339.5h0.8v0.8h-0.8zM223.4 368.0h0.8v0.8h-0.8zM216.6 371.3h0.8v0.8h-0.8zM236.4 351.9h0.8v0.8h-0.8zM238.8 352.6h0.8v0.8h-0.8zM211.0 367.7h0.8v0.8h-0.8zM239.7 342.2h0.8v0.8h-0.8zM217.7 371.7h0.8v0.8h-0.8zM227.1 365.1h0.8v0.8h-0.8zM227.5 359.6h0.8v0.8h-0.8zM219.3 374.7h0.8v0.8h-0.8zM218.0 353.4h0.8v0.8h-0.8zM219.9 362.8h0.8v0.8h-0.8zM245.0 348.0h0.8v0.8h-0.8zM234.7 355.7h0.8v0.8h-0.8zM229.2 351.8h0.8v0.8h-0.8zM217.7 367.2h0.8v0.8h-0.8zM247.0 340.5h0.8v0.8h-0.8zM220.6 369.5h0.8v0.8h-0.8zM229.2 356.3h0.8v0.8h-0.8zM234.9 360.9h0.8v0.8h-0.8zM251.8 348.2h0.8v0.8h-0.8zM223.0 371.5h0.8v0.8h-0.8zM214.7 365.9h0.8v0.8h-0.8zM251.2 344.1h0.8v0.8h-0.8zM233.2 359.5h0.8v0.8h-0.8zM215.9 370.7h0.8v0.8h-0.8zM251.5 340.4h0.8v0.8h-0.8zM254.6 335.9h0.8v0.8h-0.8zM225.9 365.2h0.8v0.8h-0.8zM227.4 359.3h0.8v0.8h-0.8zM225.1 361.8h0.8v0.8h-0.8zM210.1 372.3h0.8v0.8h-0.8zM232.0 372.6h0.8v0.8h-0.8zM239.2 355.7h0.8v0.8h-0.8zM226.3 366.3h0.8v0.8h-0.8zM238.6 363.9h0.8v0.8h-0.8zM214.5 368.8h0.8v0.8h-0.8zM241.8 341.9h0.8v0.8h-0.8zM223.2 363.3h0.8v0.8h-0.8zM216.6 363.9h0.8v0.8h-0.8zM230.1 363.8h0.8v0.8h-0.8zM214.4 377.5h0.8v0.8h-0.8zM234.3 358.2h0.8v0.8h-0.8zM253.0 340.6h0.8v0.8h-0.8zM240.1 340.5h0.8v0.8h-0.8zM237.1 357.6h0.8v0.8h-0.8zM223.7 374.1h0.8v0.8h-0.8zM227.5 358.1h0.8v0.8h-0.8zM217.4 370.0h0.8v0.8h-0.8zM250.2 351.2h0.8v0.8h-0.8zM236.4 358.2h0.8v0.8h-0.8zM259.6 331.9h0.8v0.8h-0.8zM244.5 354.6h0.8v0.8h-0.8zM231.2 354.7h0.8v0.8h-0.8zM247.9 349.6h0.8v0.8h-0.8zM239.5 355.4h0.8v0.8h-0.8zM247.3 341.7h0.8v0.8h-0.8zM220.1 361.3h0.8v0.8h-0.8zM228.4 357.8h0.8v0.8h-0.8zM234.0 358.8h0.8v0.8h-0.8zM222.2 364.7h0.8v0.8h-0.8zM245.6 345.8h0.8v0.8h-0.8zM250.8 342.6h0.8v0.8h-0.8zM239.5 359.7h0.8v0.8h-0.8zM214.3 372.9h0.8v0.8h-0.8zM238.8 348.6h0.8v0.8h-0.8zM225.3 369.0h0.8v0.8h-0.8zM214.3 371.8h0.8v0.8h-0.8zM230.5 352.9h0.8v0.8h-0.8zM231.8 359.6h0.8v0.8h-0.8zM257.6 330.8h0.8v0.8h-0.8zM228.6 358.9h0.8v0.8h-0.8zM216.0 370.5h0.8v0.8h-0.8zM236.7 354.2h0.8v0.8h-0.8zM220.5 367.3h0.8v0.8h-0.8zM253.2 347.2h0.8v0.8h-0.8zM225.7 369.6h0.8v0.8h-0.8zM238.0 357.6h0.8v0.8h-0.8zM243.1 344.5h0.8v0.8h-0.8zM227.9 368.8h0.8v0.8h-0.8zM242.8 339.3h0.8v0.8h-0.8zM233.7 367.7h0.8v0.8h-0.8zM213.7 372.2h0.8v0.8h-0.8zM240.7 347.1h0.8v0.8h-0.8zM257.2 344.2h0.8v0.8h-0.8zM228.1 361.4h0.8v0.8h-0.8zM213.7 361.9h0.8v0.8h-0.8zM246.0 343.0h0.8v0.8h-0.8zM244.1 357.0h0.8v0.8h-0.8zM236.9 352.7h0.8v0.8h-0.8zM224.8 366.9h0.8v0.8h-0.8zM246.6 342.9h0.8v0.8h-0.8zM245.5 352.1h0.8v0.8h-0.8zM211.4 369.5h0.8v0.8h-0.8zM245.4 360.9h0.8v0.8h-0.8zM235.5 364.3h0.8v0.8h-0.8zM253.4 341.7h0.8v0.8h-0.8zM216.9 355.2h0.8v0.8h-0.8zM217.4 366.3h0.8v0.8h-0.8zM239.1 363.7h0.8v0.8h-0.8zM239.8 355.3h0.8v0.8h-0.8zM242.1 345.5h0.8v0.8h-0.8zM231.5 361.2h0.8v0.8h-0.8zM240.8 347.3h0.8v0.8h-0.8zM242.3 332.6h0.8v0.8h-0.8zM244.2 354.6h0.8v0.8h-0.8zM231.3 354.9h0.8v0.8h-0.8zM233.8 365.0h0.8v0.8h-0.8zM251.1 338.9h0.8v0.8h-0.8zM230.9 370.4h0.8v0.8h-0.8zM225.9 367.8h0.8v0.8h-0.8zM244.8 353.4h0.8v0.8h-0.8zM240.9 362.4h0.8v0.8h-0.8zM252.4 338.7h0.8v0.8h-0.8zM235.9 345.9h0.8v0.8h-0.8zM216.4 369.3h0.8v0.8h-0.8zM238.4 362.1h0.8v0.8h-0.8zM236.4 366.1h0.8v0.8h-0.8zM242.8 352.2h0.8v0.8h-0.8zM232.9 348.3h0.8v0.8h-0.8zM234.2 363.5h0.8v0.8h-0.8zM223.2 377.7h0.8v0.8h-0.8zM244.4 339.4h0.8v0.8h-0.8zM233.2 353.2h0.8v0.8h-0.8zM227.5 367.8h0.8v0.8h-0.8zM214.4 359.6h0.8v0.8h-0.8zM254.0 334.3h0.8v0.8h-0.8zM236.5 354.9h0.8v0.8h-0.8zM222.9 365.7h0.8v0.8h-0.8zM246.1 345.6h0.8v0.8h-0.8zM259.2 338.9h0.8v0.8h-0.8zM235.5 352.6h0.8v0.8h-0.8zM250.5 333.1h0.8v0.8h-0.8zM236.4 347.6h0.8v0.8h-0.8zM253.5 348.0h0.8v0.8h-0.8zM234.5 349.1h0.8v0.8h-0.8zM217.0 372.7h0.8v0.8h-0.8zM239.5 350.0h0.8v0.8h-0.8zM234.1 360.3h0.8v0.8h-0.8zM213.9 374.8h0.8v0.8h-0.8zM239.2 348.9h0.8v0.8h-0.8zM240.8 341.2h0.8v0.8h-0.8zM224.3 368.8h0.8v0.8h-0.8zM247.9 336.7h0.8v0.8h-0.8zM231.8 352.2h0.8v0.8h-0.8zM229.4 364.7h0.8v0.8h-0.8zM227.6 367.2h0.8v0.8h-0.8zM211.6 369.4h0.8v0.8h-0.8zM210.2 363.6h0.8v0.8h-0.8zM214.9 377.7h0.8v0.8h-0.8zM223.0 367.4h0.8v0.8h-0.8zM223.6 369.5h0.8v0.8h-0.8zM231.6 355.9h0.8v0.8h-0.8zM213.8 374.6h0.8v0.8h-0.8zM219.7 372.7h0.8v0.8h-0.8zM223.8 374.2h0.8v0.8h-0.8zM216.2 365.5h0.8v0.8h-0.8zM220.5 376.4h0.8v0.8h-0.8zM252.7 338.3h0.8v0.8h-0.8zM231.8 371.1h0.8v0.8h-0.8zM236.0 365.2h0.8v0.8h-0.8zM243.4 340.7h0.8v0.8h-0.8zM219.6 375.7h0.8v0.8h-0.8zM217.4 360.7h0.8v0.8h-0.8zM228.5 372.5h0.8v0.8h-0.8zM222.7 362.2h0.8v0.8h-0.8zM240.7 353.5h0.8v0.8h-0.8zM251.2 344.3h0.8v0.8h-0.8zM221.8 375.1h0.8v0.8h-0.8zM238.0 359.7h0.8v0.8h-0.8zM234.3 362.0h0.8v0.8h-0.8zM237.4 338.0h0.8v0.8h-0.8zM226.3 361.5h0.8v0.8h-0.8zM228.6 369.8h0.8v0.8h-0.8zM225.8 361.5h0.8v0.8h-0.8zM237.5 359.1h0.8v0.8h-0.8zM247.1 354.5h0.8v0.8h-0.8zM253.7 346.8h0.8v0.8h-0.8zM258.4 342.7h0.8v0.8h-0.8zM222.4 376.2h0.8v0.8h-0.8zM237.4 353.5h0.8v0.8h-0.8zM242.9 339.8h0.8v0.8h-0.8zM253.6 342.8h0.8v0.8h-0.8zM230.8 352.2h0.8v0.8h-0.8zM233.3 346.9h0.8v0.8h-0.8zM237.4 356.6h0.8v0.8h-0.8zM258.9 345.6h0.8v0.8h-0.8zM224.8 372.9h0.8v0.8h-0.8zM252.0 347.0h0.8v0.8h-0.8zM216.9 372.7h0.8v0.8h-0.8zM235.0 355.7h0.8v0.8h-0.8zM231.8 363.1h0.8v0.8h-0.8zM252.8 339.7h0.8v0.8h-0.8zM255.5 335.5h0.8v0.8h-0.8zM243.2 333.4h0.8v0.8h-0.8zM228.4 368.4h0.8v0.8h-0.8zM249.5 342.2h0.8v0.8h-0.8zM216.0 371.9h0.8v0.8h-0.8zM232.4 359.3h0.8v0.8h-0.8zM245.1 356.6h0.8v0.8h-0.8zM222.9 372.4h0.8v0.8h-0.8zM215.7 366.7h0.8v0.8h-0.8zM213.9 372.1h0.8v0.8h-0.8zM220.7 365.1h0.8v0.8h-0.8zM256.2 341.4h0.8v0.8h-0.8zM238.8 358.2h0.8v0.8h-0.8zM223.0 375.2h0.8v0.8h-0.8zM223.4 363.5h0.8v0.8h-0.8zM210.1 369.4h0.8v0.8h-0.8zM242.7 355.7h0.8v0.8h-0.8zM250.4 345.5h0.8v0.8h-0.8zM223.0 363.3h0.8v0.8h-0.8zM224.5 373.9h0.8v0.8h-0.8zM223.8 366.0h0.8v0.8h-0.8zM236.8 347.6h0.8v0.8h-0.8zM213.9 356.3h0.8v0.8h-0.8zM256.3 338.3h0.8v0.8h-0.8zM248.2 349.5h0.8v0.8h-0.8zM222.2 368.8h0.8v0.8h-0.8zM219.3 368.1h0.8v0.8h-0.8zM238.5 345.7h0.8v0.8h-0.8zM229.7 358.3h0.8v0.8h-0.8zM240.7 354.3h0.8v0.8h-0.8zM210.1 370.6h0.8v0.8h-0.8zM220.0 373.3h0.8v0.8h-0.8zM232.1 363.4h0.8v0.8h-0.8zM218.6 370.0h0.8v0.8h-0.8zM250.3 340.6h0.8v0.8h-0.8zM210.5 370.9h0.8v0.8h-0.8zM248.9 347.9h0.8v0.8h-0.8zM234.4 358.2h0.8v0.8h-0.8zM235.7 348.9h0.8v0.8h-0.8zM259.6 332.8h0.8v0.8h-0.8zM222.3 371.9h0.8v0.8h-0.8zM212.4 370.1h0.8v0.8h-0.8zM224.2 364.7h0.8v0.8h-0.8zM234.6 364.9h0.8v0.8h-0.8zM239.8 344.4h0.8v0.8h-0.8zM247.4 354.4h0.8v0.8h-0.8zM220.5 373.3h0.8v0.8h-0.8zM256.9 330.8h0.8v0.8h-0.8zM215.0 363.1h0.8v0.8h-0.8zM218.4 368.1h0.8v0.8h-0.8zM218.1 371.2h0.8v0.8h-0.8zM235.6 358.6h0.8v0.8h-0.8zM220.6 369.7h0.8v0.8h-0.8zM227.8 357.1h0.8v0.8h-0.8zM245.8 360.8h0.8v0.8h-0.8zM232.0 349.2h0.8v0.8h-0.8zM224.0 361.3h0.8v0.8h-0.8zM221.8 367.0h0.8v0.8h-0.8zM214.0 362.2h0.8v0.8h-0.8zM226.5 366.3h0.8v0.8h-0.8zM235.8 356.8h0.8v0.8h-0.8zM231.7 352.9h0.8v0.8h-0.8zM256.2 336.9h0.8v0.8h-0.8zM248.9 342.1h0.8v0.8h-0.8zM243.7 345.0h0.8v0.8h-0.8zM246.8 357.8h0.8v0.8h-0.8zM231.5 365.7h0.8v0.8h-0.8zM233.9 350.9h0.8v0.8h-0.8zM249.2 329.6h0.8v0.8h-0.8zM232.4 359.9h0.8v0.8h-0.8zM245.0 352.6h0.8v0.8h-0.8zM232.6 362.8h0.8v0.8h-0.8zM242.0 335.4h0.8v0.8h-0.8zM217.6 366.1h0.8v0.8h-0.8zM250.2 350.3h0.8v0.8h-0.8zM230.6 366.0h0.8v0.8h-0.8zM239.9 347.6h0.8v0.8h-0.8zM227.6 355.3h0.8v0.8h-0.8zM216.6 376.5h0.8v0.8h-0.8zM222.6 370.2h0.8v0.8h-0.8zM251.7 344.2h0.8v0.8h-0.8zM234.5 351.5h0.8v0.8h-0.8zM219.0 371.3h0.8v0.8h-0.8zM219.9 360.7h0.8v0.8h-0.8zM230.3 364.6h0.8v0.8h-0.8zM223.1 366.9h0.8v0.8h-0.8zM239.0 352.4h0.8v0.8h-0.8zM219.4 377.1h0.8v0.8h-0.8zM258.0 335.8h0.8v0.8h-0.8zM245.5 336.9h0.8v0.8h-0.8zM223.1 360.6h0.8v0.8h-0.8zM225.1 358.3h0.8v0.8h-0.8zM216.8 367.4h0.8v0.8h-0.8zM244.5 347.8h0.8v0.8h-0.8zM251.2 351.1h0.8v0.8h-0.8zM241.4 353.3h0.8v0.8h-0.8zM229.3 360.3h0.8v0.8h-0.8zM242.0 340.1h0.8v0.8h-0.8zM224.7 369.1h0.8v0.8h-0.8zM220.2 368.9h0.8v0.8h-0.8zM224.7 364.2h0.8v0.8h-0.8zM219.3 371.9h0.8v0.8h-0.8zM214.8 371.9h0.8v0.8h-0.8zM227.1 362.8h0.8v0.8h-0.8zM224.0 358.0h0.8v0.8h-0.8zM257.2 341.2h0.8v0.8h-0.8zM228.0 364.7h0.8v0.8h-0.8zM241.5 356.7h0.8v0.8h-0.8zM219.5 376.0h0.8v0.8h-0.8zM213.7 372.1h0.8v0.8h-0.8zM219.6 364.3h0.8v0.8h-0.8zM233.1 363.2h0.8v0.8h-0.8zM238.2 353.1h0.8v0.8h-0.8zM236.8 350.6h0.8v0.8h-0.8zM222.8 357.3h0.8v0.8h-0.8zM248.2 333.6h0.8v0.8h-0.8zM241.4 348.4h0.8v0.8h-0.8zM227.9 362.6h0.8v0.8h-0.8zM213.7 363.3h0.8v0.8h-0.8zM254.1 340.8h0.8v0.8h-0.8zM218.5 366.6h0.8v0.8h-0.8zM221.5 376.4h0.8v0.8h-0.8zM237.6 344.9h0.8v0.8h-0.8zM215.0 366.6h0.8v0.8h-0.8zM237.0 360.5h0.8v0.8h-0.8zM235.5 349.5h0.8v0.8h-0.8zM239.3 351.5h0.8v0.8h-0.8zM249.1 340.1h0.8v0.8h-0.8zM229.4 367.6h0.8v0.8h-0.8zM234.0 342.2h0.8v0.8h-0.8zM248.6 344.0h0.8v0.8h-0.8zM219.2 368.3h0.8v0.8h-0.8zM233.8 368.7h0.8v0.8h-0.8zM229.1 342.1h0.8v0.8h-0.8zM251.4 336.1h0.8v0.8h-0.8zM239.9 351.2h0.8v0.8h-0.8zM244.0 341.5h0.8v0.8h-0.8zM223.3 371.9h0.8v0.8h-0.8zM233.6 363.8h0.8v0.8h-0.8zM237.3 348.9h0.8v0.8h-0.8zM226.5 366.9h0.8v0.8h-0.8zM248.1 345.0h0.8v0.8h-0.8zM226.7 370.3h0.8v0.8h-0.8zM219.4 374.5h0.8v0.8h-0.8zM245.6 344.9h0.8v0.8h-0.8zM252.3 353.1h0.8v0.8h-0.8zM248.4 346.1h0.8v0.8h-0.8zM216.4 375.1h0.8v0.8h-0.8zM250.8 350.7h0.8v0.8h-0.8zM215.4 367.1h0.8v0.8h-0.8zM245.7 343.9h0.8v0.8h-0.8zM239.5 363.8h0.8v0.8h-0.8zM238.4 354.1h0.8v0.8h-0.8zM222.0 361.9h0.8v0.8h-0.8zM242.9 342.3h0.8v0.8h-0.8zM254.4 337.9h0.8v0.8h-0.8zM233.3 362.2h0.8v0.8h-0.8zM236.1 357.5h0.8v0.8h-0.8zM228.5 363.8h0.8v0.8h-0.8zM226.9 373.0h0.8v0.8h-0.8zM232.4 360.9h0.8v0.8h-0.8zM253.8 341.7h0.8v0.8h-0.8zM218.4 373.4h0.8v0.8h-0.8zM243.8 350.3h0.8v0.8h-0.8zM221.9 374.6h0.8v0.8h-0.8zM234.4 360.6h0.8v0.8h-0.8zM220.0 363.9h0.8v0.8h-0.8zM218.7 371.8h0.8v0.8h-0.8zM220.2 376.9h0.8v0.8h-0.8zM237.0 363.6h0.8v0.8h-0.8zM235.4 363.4h0.8v0.8h-0.8zM244.2 338.5h0.8v0.8h-0.8zM242.8 343.4h0.8v0.8h-0.8zM230.6 367.1h0.8v0.8h-0.8zM213.9 366.2h0.8v0.8h-0.8zM218.9 360.8h0.8v0.8h-0.8zM253.1 338.9h0.8v0.8h-0.8zM224.5 356.5h0.8v0.8h-0.8zM217.2 361.5h0.8v0.8h-0.8zM246.3 333.1h0.8v0.8h-0.8zM220.5 375.7h0.8v0.8h-0.8zM233.2 343.9h0.8v0.8h-0.8zM218.9 364.1h0.8v0.8h-0.8zM216.1 363.2h0.8v0.8h-0.8zM210.7 377.8h0.8v0.8h-0.8zM224.0 358.0h0.8v0.8h-0.8zM225.8 370.1h0.8v0.8h-0.8zM221.4 371.3h0.8v0.8h-0.8zM234.4 347.1h0.8v0.8h-0.8zM249.8 343.1h0.8v0.8h-0.8zM253.9 350.8h0.8v0.8h-0.8zM230.0 364.5h0.8v0.8h-0.8zM243.6 358.3h0.8v0.8h-0.8zM215.5 374.0h0.8v0.8h-0.8zM224.9 372.4h0.8v0.8h-0.8zM233.1 351.2h0.8v0.8h-0.8zM240.3 350.7h0.8v0.8h-0.8zM248.1 332.6h0.8v0.8h-0.8zM218.0 375.0h0.8v0.8h-0.8zM224.0 361.6h0.8v0.8h-0.8zM240.9 344.0h0.8v0.8h-0.8zM255.8 344.8h0.8v0.8h-0.8zM236.7 363.4h0.8v0.8h-0.8zM220.0 366.0h0.8v0.8h-0.8zM240.4 352.7h0.8v0.8h-0.8zM227.3 356.1h0.8v0.8h-0.8zM212.8 373.9h0.8v0.8h-0.8zM223.0 354.3h0.8v0.8h-0.8zM237.2 358.6h0.8v0.8h-0.8zM244.3 352.6h0.8v0.8h-0.8zM213.6 360.6h0.8v0.8h-0.8zM248.3 347.5h0.8v0.8h-0.8zM217.8 376.2h0.8v0.8h-0.8zM245.3 335.1h0.8v0.8h-0.8zM235.5 353.3h0.8v0.8h-0.8zM218.8 376.0h0.8v0.8h-0.8zM233.3 355.8h0.8v0.8h-0.8zM240.5 343.1h0.8v0.8h-0.8zM248.0 353.6h0.8v0.8h-0.8zM248.1 350.4h0.8v0.8h-0.8zM214.1 370.9h0.8v0.8h-0.8zM225.9 376.7h0.8v0.8h-0.8zM218.8 372.4h0.8v0.8h-0.8zM253.5 332.1h0.8v0.8h-0.8zM223.2 368.9h0.8v0.8h-0.8zM223.0 372.9h0.8v0.8h-0.8zM243.2 353.9h0.8v0.8h-0.8zM222.8 373.5h0.8v0.8h-0.8zM224.7 372.8h0.8v0.8h-0.8zM218.5 368.4h0.8v0.8h-0.8zM241.5 347.9h0.8v0.8h-0.8zM224.6 370.0h0.8v0.8h-0.8zM217.2 364.5h0.8v0.8h-0.8zM249.3 340.1h0.8v0.8h-0.8zM227.6 346.2h0.8v0.8h-0.8zM240.6 348.5h0.8v0.8h-0.8zM245.8 336.2h0.8v0.8h-0.8zM231.9 369.1h0.8v0.8h-0.8zM223.2 371.2h0.8v0.8h-0.8zM243.0 338.6h0.8v0.8h-0.8zM242.3 353.4h0.8v0.8h-0.8zM231.7 356.2h0.8v0.8h-0.8zM252.9 349.0h0.8v0.8h-0.8zM248.4 342.2h0.8v0.8h-0.8zM228.6 360.9h0.8v0.8h-0.8zM235.8 348.7h0.8v0.8h-0.8zM246.6 341.1h0.8v0.8h-0.8zM245.6 339.0h0.8v0.8h-0.8zM223.2 369.3h0.8v0.8h-0.8zM219.5 371.1h0.8v0.8h-0.8zM220.9 362.5h0.8v0.8h-0.8zM238.5 355.0h0.8v0.8h-0.8zM220.1 363.3h0.8v0.8h-0.8zM244.5 352.7h0.8v0.8h-0.8zM225.8 371.0h0.8v0.8h-0.8zM227.7 366.4h0.8v0.8h-0.8zM224.6 366.0h0.8v0.8h-0.8zM243.5 347.6h0.8v0.8h-0.8zM220.2 349.9h0.8v0.8h-0.8zM241.5 347.2h0.8v0.8h-0.8zM246.6 348.3h0.8v0.8h-0.8zM237.4 346.7h0.8v0.8h-0.8zM215.1 376.9h0.8v0.8h-0.8zM236.6 363.4h0.8v0.8h-0.8zM230.3 356.6h0.8v0.8h-0.8zM230.9 364.5h0.8v0.8h-0.8zM227.5 359.8h0.8v0.8h-0.8zM225.1 367.9h0.8v0.8h-0.8zM245.9 355.7h0.8v0.8h-0.8zM215.7 365.4h0.8v0.8h-0.8zM225.5 354.8h0.8v0.8h-0.8zM219.8 366.0h0.8v0.8h-0.8zM255.4 335.7h0.8v0.8h-0.8zM228.7 359.3h0.8v0.8h-0.8zM242.7 346.3h0.8v0.8h-0.8zM255.7 348.3h0.8v0.8h-0.8zM238.7 352.8h0.8v0.8h-0.8zM244.5 348.2h0.8v0.8h-0.8zM239.3 356.0h0.8v0.8h-0.8zM245.3 344.0h0.8v0.8h-0.8zM233.9 367.9h0.8v0.8h-0.8zM239.5 351.6h0.8v0.8h-0.8zM240.2 360.6h0.8v0.8h-0.8zM224.5 362.3h0.8v0.8h-0.8zM221.8 370.9h0.8v0.8h-0.8zM238.8 350.7h0.8v0.8h-0.8zM225.5 364.5h0.8v0.8h-0.8zM254.2 345.2h0.8v0.8h-0.8zM251.0 345.3h0.8v0.8h-0.8zM227.4 355.3h0.8v0.8h-0.8zM224.2 375.1h0.8v0.8h-0.8zM257.3 343.0h0.8v0.8h-0.8zM250.3 339.4h0.8v0.8h-0.8zM233.0 362.9h0.8v0.8h-0.8zM231.2 369.3h0.8v0.8h-0.8zM233.5 350.1h0.8v0.8h-0.8zM231.1 361.8h0.8v0.8h-0.8zM210.9 374.3h0.8v0.8h-0.8zM224.4 370.4h0.8v0.8h-0.8zM216.5 361.9h0.8v0.8h-0.8zM221.7 362.2h0.8v0.8h-0.8zM217.4 376.3h0.8v0.8h-0.8zM225.3 365.2h0.8v0.8h-0.8zM247.1 346.7h0.8v0.8h-0.8zM231.4 367.0h0.8v0.8h-0.8zM235.1 361.9h0.8v0.8h-0.8zM226.4 372.5h0.8v0.8h-0.8zM248.6 355.5h0.8v0.8h-0.8zM254.7 342.9h0.8v0.8h-0.8zM216.9 362.9h0.8v0.8h-0.8zM217.8 375.0h0.8v0.8h-0.8zM241.2 348.4h0.8v0.8h-0.8zM214.8 374.6h0.8v0.8h-0.8zM221.4 376.7h0.8v0.8h-0.8zM244.2 342.4h0.8v0.8h-0.8zM226.3 363.2h0.8v0.8h-0.8zM231.7 364.5h0.8v0.8h-0.8zM213.6 375.2h0.8v0.8h-0.8zM214.9 365.5h0.8v0.8h-0.8zM236.1 346.6h0.8v0.8h-0.8zM230.5 354.6h0.8v0.8h-0.8zM213.8 365.4h0.8v0.8h-0.8zM224.3 375.4h0.8v0.8h-0.8zM251.4 332.8h0.8v0.8h-0.8zM215.8 372.2h0.8v0.8h-0.8zM212.3 375.3h0.8v0.8h-0.8zM219.1 363.9h0.8v0.8h-0.8zM243.4 349.1h0.8v0.8h-0.8zM229.4 371.3h0.8v0.8h-0.8zM251.8 348.2h0.8v0.8h-0.8zM240.1 352.8h0.8v0.8h-0.8zM213.9 367.8h0.8v0.8h-0.8zM237.1 354.4h0.8v0.8h-0.8zM242.6 360.2h0.8v0.8h-0.8zM242.9 352.4h0.8v0.8h-0.8zM221.6 368.8h0.8v0.8h-0.8zM234.5 363.9h0.8v0.8h-0.8zM212.9 376.6h0.8v0.8h-0.8zM233.9 354.9h0.8v0.8h-0.8zM227.3 367.8h0.8v0.8h-0.8zM226.9 360.1h0.8v0.8h-0.8zM222.7 365.4h0.8v0.8h-0.8zM239.4 345.1h0.8v0.8h-0.8zM244.7 338.9h0.8v0.8h-0.8zM239.4 352.4h0.8v0.8h-0.8zM240.9 343.7h0.8v0.8h-0.8zM223.5 372.4h0.8v0.8h-0.8zM231.2 349.2h0.8v0.8h-0.8zM223.1 368.1h0.8v0.8h-0.8zM245.3 347.3h0.8v0.8h-0.8zM248.3 345.1h0.8v0.8h-0.8zM217.6 371.8h0.8v0.8h-0.8zM214.1 373.4h0.8v0.8h-0.8zM218.6 363.5h0.8v0.8h-0.8zM241.5 340.2h0.8v0.8h-0.8zM249.5 333.2h0.8v0.8h-0.8zM222.0 367.7h0.8v0.8h-0.8zM248.2 340.9h0.8v0.8h-0.8zM253.8 338.5h0.8v0.8h-0.8zM245.0 342.4h0.8v0.8h-0.8zM228.2 362.6h0.8v0.8h-0.8zM228.0 369.6h0.8v0.8h-0.8zM244.5 346.4h0.8v0.8h-0.8zM252.2 344.2h0.8v0.8h-0.8zM253.9 336.8h0.8v0.8h-0.8zM233.1 367.0h0.8v0.8h-0.8zM236.8 355.8h0.8v0.8h-0.8zM210.6 362.1h0.8v0.8h-0.8zM221.3 362.9h0.8v0.8h-0.8zM241.9 352.0h0.8v0.8h-0.8zM241.6 346.8h0.8v0.8h-0.8zM227.4 368.3h0.8v0.8h-0.8zM244.0 349.4h0.8v0.8h-0.8zM249.8 339.7h0.8v0.8h-0.8zM227.0 367.1h0.8v0.8h-0.8zM235.7 359.1h0.8v0.8h-0.8zM230.9 355.4h0.8v0.8h-0.8zM233.6 362.2h0.8v0.8h-0.8zM249.6 334.1h0.8v0.8h-0.8zM221.6 369.1h0.8v0.8h-0.8zM224.7 364.1h0.8v0.8h-0.8zM253.0 335.8h0.8v0.8h-0.8zM242.6 343.9h0.8v0.8h-0.8zM231.1 354.9h0.8v0.8h-0.8zM251.3 353.6h0.8v0.8h-0.8zM218.6 358.3h0.8v0.8h-0.8zM245.2 342.2h0.8v0.8h-0.8zM237.5 347.7h0.8v0.8h-0.8zM218.5 358.2h0.8v0.8h-0.8zM238.3 361.5h0.8v0.8h-0.8zM231.5 362.5h0.8v0.8h-0.8zM221.3 356.3h0.8v0.8h-0.8zM228.4 369.3h0.8v0.8h-0.8zM238.9 360.3h0.8v0.8h-0.8zM253.8 340.0h0.8v0.8h-0.8zM222.8 368.5h0.8v0.8h-0.8zM226.1 366.8h0.8v0.8h-0.8zM226.7 363.0h0.8v0.8h-0.8zM255.9 331.0h0.8v0.8h-0.8zM243.3 354.2h0.8v0.8h-0.8zM217.4 377.1h0.8v0.8h-0.8zM244.7 343.6h0.8v0.8h-0.8zM242.0 357.4h0.8v0.8h-0.8zM251.1 358.6h0.8v0.8h-0.8zM238.6 358.3h0.8v0.8h-0.8zM244.8 356.9h0.8v0.8h-0.8zM219.4 370.8h0.8v0.8h-0.8zM241.5 356.4h0.8v0.8h-0.8zM225.1 350.3h0.8v0.8h-0.8zM248.2 342.4h0.8v0.8h-0.8zM235.4 356.2h0.8v0.8h-0.8zM216.8 364.1h0.8v0.8h-0.8zM245.1 333.0h0.8v0.8h-0.8zM252.0 340.4h0.8v0.8h-0.8zM260.7 339.8h0.8v0.8h-0.8zM217.4 367.0h0.8v0.8h-0.8zM227.1 354.3h0.8v0.8h-0.8zM240.0 346.2h0.8v0.8h-0.8zM249.1 340.6h0.8v0.8h-0.8zM239.8 345.0h0.8v0.8h-0.8zM245.2 351.8h0.8v0.8h-0.8zM239.7 334.9h0.8v0.8h-0.8zM230.8 344.1h0.8v0.8h-0.8zM240.0 359.5h0.8v0.8h-0.8zM232.0 364.6h0.8v0.8h-0.8zM241.0 362.6h0.8v0.8h-0.8zM236.0 353.9h0.8v0.8h-0.8zM239.9 353.5h0.8v0.8h-0.8zM217.0 365.7h0.8v0.8h-0.8zM220.4 366.4h0.8v0.8h-0.8zM243.5 343.3h0.8v0.8h-0.8zM242.5 342.6h0.8v0.8h-0.8zM247.8 334.5h0.8v0.8h-0.8zM232.9 362.6h0.8v0.8h-0.8zM231.8 343.5h0.8v0.8h-0.8zM246.5 333.7h0.8v0.8h-0.8zM229.9 357.1h0.8v0.8h-0.8zM239.5 366.1h0.8v0.8h-0.8zM213.2 376.7h0.8v0.8h-0.8zM236.7 351.5h0.8v0.8h-0.8zM247.0 346.1h0.8v0.8h-0.8zM246.2 336.8h0.8v0.8h-0.8zM249.7 337.8h0.8v0.8h-0.8zM239.4 340.1h0.8v0.8h-0.8zM239.7 354.2h0.8v0.8h-0.8zM215.9 373.1h0.8v0.8h-0.8zM246.4 349.6h0.8v0.8h-0.8zM230.0 370.8h0.8v0.8h-0.8zM222.4 376.7h0.8v0.8h-0.8zM218.2 372.9h0.8v0.8h-0.8zM249.0 341.8h0.8v0.8h-0.8zM236.9 361.2h0.8v0.8h-0.8zM213.0 361.9h0.8v0.8h-0.8zM224.2 376.9h0.8v0.8h-0.8zM213.6 370.0h0.8v0.8h-0.8zM237.6 362.4h0.8v0.8h-0.8zM234.7 353.3h0.8v0.8h-0.8zM240.4 350.2h0.8v0.8h-0.8zM231.2 364.2h0.8v0.8h-0.8zM245.2 347.3h0.8v0.8h-0.8zM238.9 348.9h0.8v0.8h-0.8zM255.3 330.0h0.8v0.8h-0.8zM255.9 340.2h0.8v0.8h-0.8zM221.7 377.2h0.8v0.8h-0.8zM232.4 349.3h0.8v0.8h-0.8zM247.2 341.7h0.8v0.8h-0.8zM240.0 355.9h0.8v0.8h-0.8zM235.2 356.6h0.8v0.8h-0.8zM233.8 363.9h0.8v0.8h-0.8zM232.8 353.9h0.8v0.8h-0.8zM243.6 351.2h0.8v0.8h-0.8zM234.7 348.6h0.8v0.8h-0.8zM238.5 357.9h0.8v0.8h-0.8zM242.5 343.5h0.8v0.8h-0.8zM230.1 377.1h0.8v0.8h-0.8zM243.4 347.5h0.8v0.8h-0.8zM214.3 375.5h0.8v0.8h-0.8zM228.1 363.0h0.8v0.8h-0.8zM249.3 352.9h0.8v0.8h-0.8zM245.2 343.8h0.8v0.8h-0.8zM216.8 369.8h0.8v0.8h-0.8zM241.9 353.0h0.8v0.8h-0.8zM218.7 373.1h0.8v0.8h-0.8zM238.6 348.6h0.8v0.8h-0.8zM246.8 338.5h0.8v0.8h-0.8zM217.9 359.3h0.8v0.8h-0.8zM214.4 374.1h0.8v0.8h-0.8zM230.8 358.9h0.8v0.8h-0.8zM236.9 350.4h0.8v0.8h-0.8zM243.2 354.4h0.8v0.8h-0.8zM231.8 363.0h0.8v0.8h-0.8zM218.2 359.0h0.8v0.8h-0.8zM248.6 362.0h0.8v0.8h-0.8zM253.3 344.9h0.8v0.8h-0.8zM242.8 342.7h0.8v0.8h-0.8zM245.2 352.9h0.8v0.8h-0.8zM256.7 341.6h0.8v0.8h-0.8zM237.7 363.8h0.8v0.8h-0.8zM239.5 363.7h0.8v0.8h-0.8zM249.2 341.6h0.8v0.8h-0.8zM223.7 377.4h0.8v0.8h-0.8zM222.3 368.9h0.8v0.8h-0.8zM248.7 343.5h0.8v0.8h-0.8zM218.6 370.5h0.8v0.8h-0.8zM250.1 357.1h0.8v0.8h-0.8zM227.1 367.5h0.8v0.8h-0.8zM240.9 336.1h0.8v0.8h-0.8zM222.6 361.0h0.8v0.8h-0.8zM233.4 351.0h0.8v0.8h-0.8zM231.4 365.8h0.8v0.8h-0.8zM252.6 341.7h0.8v0.8h-0.8zM257.4 335.8h0.8v0.8h-0.8zM219.4 358.5h0.8v0.8h-0.8zM221.4 364.3h0.8v0.8h-0.8zM240.9 358.5h0.8v0.8h-0.8zM229.5 371.3h0.8v0.8h-0.8zM226.8 361.5h0.8v0.8h-0.8zM220.3 365.7h0.8v0.8h-0.8zM219.2 376.3h0.8v0.8h-0.8zM250.6 343.1h0.8v0.8h-0.8zM236.9 349.6h0.8v0.8h-0.8zM235.6 357.4h0.8v0.8h-0.8zM250.8 343.7h0.8v0.8h-0.8zM248.7 353.1h0.8v0.8h-0.8zM228.2 364.2h0.8v0.8h-0.8zM237.3 356.4h0.8v0.8h-0.8zM240.8 332.1h0.8v0.8h-0.8zM216.6 368.7h0.8v0.8h-0.8zM250.3 357.0h0.8v0.8h-0.8zM253.4 357.5h0.8v0.8h-0.8zM232.0 354.1h0.8v0.8h-0.8zM237.5 348.3h0.8v0.8h-0.8zM249.2 340.8h0.8v0.8h-0.8zM238.9 349.5h0.8v0.8h-0.8zM227.0 371.3h0.8v0.8h-0.8zM216.7 373.3h0.8v0.8h-0.8zM217.4 372.0h0.8v0.8h-0.8zM219.1 360.2h0.8v0.8h-0.8zM222.1 365.7h0.8v0.8h-0.8zM245.3 331.7h0.8v0.8h-0.8zM218.6 368.4h0.8v0.8h-0.8zM225.9 359.2h0.8v0.8h-0.8zM220.0 375.5h0.8v0.8h-0.8zM239.8 349.6h0.8v0.8h-0.8zM231.6 360.4h0.8v0.8h-0.8zM227.3 363.0h0.8v0.8h-0.8zM232.3 356.1h0.8v0.8h-0.8zM221.1 360.0h0.8v0.8h-0.8z" fill="#4a9a86" fill-opacity="0.4"/>
<path d="M245.2 336.7h0.8v0.8h-0.8zM255.2 341.5h0.8v0.8h-0.8zM256.3 350.1h0.8v0.8h-0.8zM236.1 355.5h0.8v0.8h-0.8zM227.1 348.4h0.8v0.8h-0.8zM244.1 339.3h0.8v0.8h-0.8zM228.9 359.0h0.8v0.8h-0.8zM256.7 348.7h0.8v0.8h-0.8zM218.3 363.7h0.8v0.8h-0.8zM223.2 366.2h0.8v0.8h-0.8zM238.5 357.4h0.8v0.8h-0.8zM216.0 369.2h0.8v0.8h-0.8zM243.1 345.3h0.8v0.8h-0.8zM235.1 345.3h0.8v0.8h-0.8zM231.1 358.6h0.8v0.8h-0.8zM211.9 373.9h0.8v0.8h-0.8zM219.3 375.9h0.8v0.8h-0.8zM215.6 366.6h0.8v0.8h-0.8zM252.7 342.2h0.8v0.8h-0.8zM250.4 350.2h0.8v0.8h-0.8zM215.0 374.7h0.8v0.8h-0.8zM217.6 365.5h0.8v0.8h-0.8zM244.7 346.6h0.8v0.8h-0.8zM244.2 343.7h0.8v0.8h-0.8zM227.0 358.0h0.8v0.8h-0.8zM241.7 343.3h0.8v0.8h-0.8zM225.3 370.0h0.8v0.8h-0.8zM238.5 344.2h0.8v0.8h-0.8zM251.7 337.6h0.8v0.8h-0.8zM250.1 351.1h0.8v0.8h-0.8zM219.5 366.5h0.8v0.8h-0.8zM222.5 369.0h0.8v0.8h-0.8zM217.7 371.8h0.8v0.8h-0.8zM222.0 361.3h0.8v0.8h-0.8zM236.9 354.0h0.8v0.8h-0.8zM240.3 337.3h0.8v0.8h-0.8zM233.6 358.9h0.8v0.8h-0.8zM220.2 370.9h0.8v0.8h-0.8zM227.3 362.9h0.8v0.8h-0.8zM233.8 358.6h0.8v0.8h-0.8zM231.9 365.6h0.8v0.8h-0.8zM256.9 344.4h0.8v0.8h-0.8zM238.9 352.7h0.8v0.8h-0.8zM247.1 344.9h0.8v0.8h-0.8zM225.6 364.0h0.8v0.8h-0.8zM225.9 349.4h0.8v0.8h-0.8zM223.5 363.0h0.8v0.8h-0.8zM222.9 362.8h0.8v0.8h-0.8zM239.7 356.0h0.8v0.8h-0.8zM242.4 348.3h0.8v0.8h-0.8zM221.6 375.9h0.8v0.8h-0.8zM240.3 354.5h0.8v0.8h-0.8zM230.4 356.1h0.8v0.8h-0.8zM231.6 355.8h0.8v0.8h-0.8zM245.9 351.5h0.8v0.8h-0.8zM245.8 346.6h0.8v0.8h-0.8zM226.8 362.5h0.8v0.8h-0.8zM229.8 353.9h0.8v0.8h-0.8zM233.7 338.5h0.8v0.8h-0.8zM234.1 356.5h0.8v0.8h-0.8zM225.8 360.6h0.8v0.8h-0.8zM254.6 336.7h0.8v0.8h-0.8zM234.6 355.0h0.8v0.8h-0.8zM236.2 350.7h0.8v0.8h-0.8zM215.4 374.5h0.8v0.8h-0.8zM232.8 349.4h0.8v0.8h-0.8zM242.2 339.6h0.8v0.8h-0.8zM219.1 373.2h0.8v0.8h-0.8zM230.7 368.0h0.8v0.8h-0.8zM232.8 337.3h0.8v0.8h-0.8zM238.5 356.4h0.8v0.8h-0.8zM235.8 355.6h0.8v0.8h-0.8zM244.1 344.1h0.8v0.8h-0.8zM226.2 368.4h0.8v0.8h-0.8zM223.5 368.4h0.8v0.8h-0.8zM212.6 372.5h0.8v0.8h-0.8zM238.9 369.1h0.8v0.8h-0.8zM234.1 354.2h0.8v0.8h-0.8zM232.8 357.1h0.8v0.8h-0.8zM230.9 368.1h0.8v0.8h-0.8zM234.2 353.2h0.8v0.8h-0.8zM232.6 365.5h0.8v0.8h-0.8zM223.0 356.7h0.8v0.8h-0.8zM228.5 344.4h0.8v0.8h-0.8zM211.2 373.2h0.8v0.8h-0.8zM228.0 351.8h0.8v0.8h-0.8zM215.5 363.8h0.8v0.8h-0.8zM234.5 367.4h0.8v0.8h-0.8zM226.5 363.7h0.8v0.8h-0.8zM240.7 351.9h0.8v0.8h-0.8zM245.8 343.3h0.8v0.8h-0.8zM218.5 366.4h0.8v0.8h-0.8zM226.4 376.0h0.8v0.8h-0.8zM234.0 355.9h0.8v0.8h-0.8zM216.2 374.8h0.8v0.8h-0.8zM231.1 355.4h0.8v0.8h-0.8zM246.5 341.6h0.8v0.8h-0.8zM217.6 365.5h0.8v0.8h-0.8zM236.3 351.3h0.8v0.8h-0.8zM232.9 356.4h0.8v0.8h-0.8zM250.7 344.8h0.8v0.8h-0.8zM236.9 359.3h0.8v0.8h-0.8zM227.7 361.8h0.8v0.8h-0.8zM235.2 353.3h0.8v0.8h-0.8zM234.5 363.9h0.8v0.8h-0.8zM245.5 334.6h0.8v0.8h-0.8zM237.0 346.0h0.8v0.8h-0.8zM214.9 366.9h0.8v0.8h-0.8zM248.1 352.3h0.8v0.8h-0.8zM246.3 343.9h0.8v0.8h-0.8zM236.6 357.4h0.8v0.8h-0.8zM245.7 337.2h0.8v0.8h-0.8zM249.8 350.8h0.8v0.8h-0.8zM231.3 348.8h0.8v0.8h-0.8zM233.7 350.4h0.8v0.8h-0.8zM247.7 344.2h0.8v0.8h-0.8zM228.3 370.7h0.8v0.8h-0.8zM219.9 375.9h0.8v0.8h-0.8zM256.4 350.5h0.8v0.8h-0.8zM254.9 341.3h0.8v0.8h-0.8zM245.5 349.4h0.8v0.8h-0.8zM214.4 375.1h0.8v0.8h-0.8zM218.0 367.6h0.8v0.8h-0.8zM244.5 355.6h0.8v0.8h-0.8zM223.6 370.8h0.8v0.8h-0.8zM228.1 355.5h0.8v0.8h-0.8zM220.2 354.4h0.8v0.8h-0.8zM245.4 353.0h0.8v0.8h-0.8zM221.1 365.7h0.8v0.8h-0.8zM247.6 353.1h0.8v0.8h-0.8zM229.8 368.0h0.8v0.8h-0.8zM218.3 372.0h0.8v0.8h-0.8zM245.0 343.1h0.8v0.8h-0.8zM211.4 356.3h0.8v0.8h-0.8zM233.7 363.2h0.8v0.8h-0.8zM221.6 368.8h0.8v0.8h-0.8zM220.2 356.4h0.8v0.8h-0.8zM250.4 337.4h0.8v0.8h-0.8zM214.8 375.9h0.8v0.8h-0.8zM215.8 371.8h0.8v0.8h-0.8zM244.8 339.8h0.8v0.8h-0.8zM223.3 368.3h0.8v0.8h-0.8zM245.2 340.1h0.8v0.8h-0.8zM225.9 362.8h0.8v0.8h-0.8zM230.4 362.6h0.8v0.8h-0.8zM217.7 357.6h0.8v0.8h-0.8zM248.4 344.3h0.8v0.8h-0.8zM233.5 361.2h0.8v0.8h-0.8zM225.6 360.7h0.8v0.8h-0.8zM239.4 359.2h0.8v0.8h-0.8zM234.8 363.9h0.8v0.8h-0.8zM211.6 373.8h0.8v0.8h-0.8zM249.7 343.2h0.8v0.8h-0.8zM228.9 352.2h0.8v0.8h-0.8zM244.4 354.4h0.8v0.8h-0.8zM239.6 351.9h0.8v0.8h-0.8zM243.8 348.5h0.8v0.8h-0.8zM213.5 377.8h0.8v0.8h-0.8zM248.3 353.1h0.8v0.8h-0.8zM258.4 343.4h0.8v0.8h-0.8zM246.6 341.2h0.8v0.8h-0.8zM223.6 373.4h0.8v0.8h-0.8zM257.8 340.1h0.8v0.8h-0.8zM215.5 375.1h0.8v0.8h-0.8zM246.7 343.1h0.8v0.8h-0.8zM218.9 373.4h0.8v0.8h-0.8zM215.7 368.9h0.8v0.8h-0.8zM210.4 368.3h0.8v0.8h-0.8zM221.1 364.1h0.8v0.8h-0.8zM238.9 350.6h0.8v0.8h-0.8zM217.6 361.8h0.8v0.8h-0.8zM222.9 366.6h0.8v0.8h-0.8zM248.1 342.0h0.8v0.8h-0.8zM232.9 353.8h0.8v0.8h-0.8zM245.6 330.0h0.8v0.8h-0.8zM232.1 364.5h0.8v0.8h-0.8zM223.7 364.5h0.8v0.8h-0.8zM220.0 361.7h0.8v0.8h-0.8zM250.4 346.9h0.8v0.8h-0.8zM234.0 354.8h0.8v0.8h-0.8zM230.9 358.4h0.8v0.8h-0.8zM218.3 369.1h0.8v0.8h-0.8zM222.9 362.7h0.8v0.8h-0.8zM214.6 377.7h0.8v0.8h-0.8zM222.5 365.5h0.8v0.8h-0.8zM245.5 352.8h0.8v0.8h-0.8zM245.1 335.8h0.8v0.8h-0.8zM224.5 355.6h0.8v0.8h-0.8zM231.2 360.8h0.8v0.8h-0.8zM240.6 329.2h0.8v0.8h-0.8zM225.5 359.5h0.8v0.8h-0.8zM230.4 349.4h0.8v0.8h-0.8zM215.2 371.3h0.8v0.8h-0.8zM239.6 347.3h0.8v0.8h-0.8zM229.7 358.5h0.8v0.8h-0.8zM247.7 347.3h0.8v0.8h-0.8zM233.1 356.1h0.8v0.8h-0.8zM247.0 344.8h0.8v0.8h-0.8zM218.5 365.0h0.8v0.8h-0.8zM226.9 350.1h0.8v0.8h-0.8zM255.6 343.8h0.8v0.8h-0.8zM217.5 370.6h0.8v0.8h-0.8zM247.7 352.5h0.8v0.8h-0.8zM238.7 354.0h0.8v0.8h-0.8zM218.4 372.2h0.8v0.8h-0.8zM252.1 345.8h0.8v0.8h-0.8zM237.2 356.4h0.8v0.8h-0.8zM227.4 353.5h0.8v0.8h-0.8zM237.2 346.6h0.8v0.8h-0.8zM237.7 355.6h0.8v0.8h-0.8zM241.0 339.7h0.8v0.8h-0.8zM226.8 356.7h0.8v0.8h-0.8zM252.5 351.8h0.8v0.8h-0.8zM231.1 356.2h0.8v0.8h-0.8zM234.4 359.6h0.8v0.8h-0.8zM222.1 367.9h0.8v0.8h-0.8zM240.2 355.1h0.8v0.8h-0.8zM229.8 352.6h0.8v0.8h-0.8zM219.5 372.3h0.8v0.8h-0.8zM213.4 376.1h0.8v0.8h-0.8zM232.9 362.7h0.8v0.8h-0.8zM251.1 339.9h0.8v0.8h-0.8zM254.5 339.4h0.8v0.8h-0.8zM230.2 361.2h0.8v0.8h-0.8zM217.9 369.8h0.8v0.8h-0.8zM252.7 343.7h0.8v0.8h-0.8zM245.0 348.2h0.8v0.8h-0.8zM232.4 353.7h0.8v0.8h-0.8zM223.9 365.3h0.8v0.8h-0.8zM220.4 367.7h0.8v0.8h-0.8zM242.2 343.7h0.8v0.8h-0.8zM222.9 376.3h0.8v0.8h-0.8zM232.5 353.8h0.8v0.8h-0.8zM212.2 365.3h0.8v0.8h-0.8zM219.2 365.3h0.8v0.8h-0.8zM247.5 350.3h0.8v0.8h-0.8zM227.9 351.4h0.8v0.8h-0.8zM250.4 344.6h0.8v0.8h-0.8zM216.0 376.2h0.8v0.8h-0.8zM222.6 373.5h0.8v0.8h-0.8zM235.8 354.9h0.8v0.8h-0.8zM238.2 349.5h0.8v0.8h-0.8zM242.8 347.9h0.8v0.8h-0.8zM237.4 354.7h0.8v0.8h-0.8zM235.2 361.4h0.8v0.8h-0.8zM236.7 359.6h0.8v0.8h-0.8zM234.3 358.4h0.8v0.8h-0.8zM245.3 344.9h0.8v0.8h-0.8zM236.1 369.3h0.8v0.8h-0.8zM231.0 363.2h0.8v0.8h-0.8zM245.1 343.9h0.8v0.8h-0.8zM237.8 357.3h0.8v0.8h-0.8zM212.2 373.4h0.8v0.8h-0.8zM223.5 359.4h0.8v0.8h-0.8zM247.7 338.0h0.8v0.8h-0.8zM235.6 337.3h0.8v0.8h-0.8zM220.5 368.3h0.8v0.8h-0.8zM236.8 362.1h0.8v0.8h-0.8zM254.4 350.2h0.8v0.8h-0.8zM222.1 370.8h0.8v0.8h-0.8zM232.1 362.7h0.8v0.8h-0.8zM228.6 371.9h0.8v0.8h-0.8zM227.1 359.0h0.8v0.8h-0.8zM223.7 374.6h0.8v0.8h-0.8zM252.6 350.7h0.8v0.8h-0.8zM218.5 375.3h0.8v0.8h-0.8zM223.6 364.1h0.8v0.8h-0.8zM236.1 355.2h0.8v0.8h-0.8zM230.7 348.6h0.8v0.8h-0.8zM214.4 374.4h0.8v0.8h-0.8zM250.8 341.3h0.8v0.8h-0.8zM235.5 353.5h0.8v0.8h-0.8zM217.6 370.2h0.8v0.8h-0.8zM222.6 365.4h0.8v0.8h-0.8zM248.1 349.3h0.8v0.8h-0.8zM257.5 339.8h0.8v0.8h-0.8zM256.7 333.8h0.8v0.8h-0.8zM232.2 363.1h0.8v0.8h-0.8zM245.9 360.8h0.8v0.8h-0.8zM239.9 342.3h0.8v0.8h-0.8zM237.9 356.9h0.8v0.8h-0.8zM233.0 351.1h0.8v0.8h-0.8zM219.9 376.2h0.8v0.8h-0.8zM235.5 346.1h0.8v0.8h-0.8zM226.6 370.9h0.8v0.8h-0.8zM250.3 347.4h0.8v0.8h-0.8zM220.3 371.9h0.8v0.8h-0.8zM244.5 349.0h0.8v0.8h-0.8zM214.3 370.4h0.8v0.8h-0.8zM231.7 364.6h0.8v0.8h-0.8zM249.1 339.4h0.8v0.8h-0.8zM229.9 361.9h0.8v0.8h-0.8zM244.8 348.0h0.8v0.8h-0.8zM216.7 366.8h0.8v0.8h-0.8zM254.8 333.5h0.8v0.8h-0.8zM249.6 350.9h0.8v0.8h-0.8zM249.4 346.6h0.8v0.8h-0.8zM247.6 353.5h0.8v0.8h-0.8zM226.3 366.6h0.8v0.8h-0.8zM251.0 355.0h0.8v0.8h-0.8zM226.7 348.7h0.8v0.8h-0.8zM231.9 350.9h0.8v0.8h-0.8zM218.4 363.7h0.8v0.8h-0.8zM229.5 354.8h0.8v0.8h-0.8zM240.7 343.3h0.8v0.8h-0.8zM225.2 362.9h0.8v0.8h-0.8zM239.1 361.2h0.8v0.8h-0.8zM211.7 377.3h0.8v0.8h-0.8zM233.5 345.6h0.8v0.8h-0.8zM220.0 373.4h0.8v0.8h-0.8zM216.6 368.0h0.8v0.8h-0.8zM233.2 356.8h0.8v0.8h-0.8zM237.0 354.9h0.8v0.8h-0.8zM252.3 342.1h0.8v0.8h-0.8zM245.1 359.5h0.8v0.8h-0.8zM225.1 361.2h0.8v0.8h-0.8zM228.7 353.5h0.8v0.8h-0.8zM251.0 344.0h0.8v0.8h-0.8zM230.4 370.4h0.8v0.8h-0.8zM227.7 357.4h0.8v0.8h-0.8zM231.5 359.4h0.8v0.8h-0.8zM248.5 350.4h0.8v0.8h-0.8zM245.3 345.5h0.8v0.8h-0.8zM221.8 360.4h0.8v0.8h-0.8zM236.6 354.1h0.8v0.8h-0.8zM238.7 353.3h0.8v0.8h-0.8zM224.4 360.4h0.8v0.8h-0.8zM233.9 353.6h0.8v0.8h-0.8zM229.8 367.4h0.8v0.8h-0.8zM220.8 371.7h0.8v0.8h-0.8zM211.1 370.9h0.8v0.8h-0.8zM229.8 346.9h0.8v0.8h-0.8zM217.7 373.3h0.8v0.8h-0.8zM218.6 373.4h0.8v0.8h-0.8zM233.9 357.6h0.8v0.8h-0.8zM240.5 351.9h0.8v0.8h-0.8zM247.1 349.9h0.8v0.8h-0.8zM251.2 339.0h0.8v0.8h-0.8zM242.8 353.4h0.8v0.8h-0.8zM224.1 363.8h0.8v0.8h-0.8zM246.2 349.1h0.8v0.8h-0.8zM222.2 377.9h0.8v0.8h-0.8zM224.7 358.8h0.8v0.8h-0.8zM248.4 359.6h0.8v0.8h-0.8zM212.1 372.9h0.8v0.8h-0.8zM223.6 367.4h0.8v0.8h-0.8zM224.6 368.9h0.8v0.8h-0.8zM243.1 346.6h0.8v0.8h-0.8zM224.2 351.4h0.8v0.8h-0.8zM244.2 352.4h0.8v0.8h-0.8zM212.6 371.1h0.8v0.8h-0.8zM251.8 338.3h0.8v0.8h-0.8zM241.1 346.1h0.8v0.8h-0.8zM225.5 362.8h0.8v0.8h-0.8zM228.9 354.9h0.8v0.8h-0.8zM230.2 354.0h0.8v0.8h-0.8zM211.0 377.1h0.8v0.8h-0.8zM240.7 353.1h0.8v0.8h-0.8zM218.0 364.3h0.8v0.8h-0.8zM218.4 377.3h0.8v0.8h-0.8zM233.8 352.5h0.8v0.8h-0.8zM219.9 374.7h0.8v0.8h-0.8zM243.9 354.9h0.8v0.8h-0.8zM215.6 357.1h0.8v0.8h-0.8zM246.0 351.5h0.8v0.8h-0.8zM245.8 336.7h0.8v0.8h-0.8zM246.2 361.4h0.8v0.8h-0.8zM235.2 352.8h0.8v0.8h-0.8zM230.0 366.5h0.8v0.8h-0.8zM222.8 354.1h0.8v0.8h-0.8zM234.5 356.2h0.8v0.8h-0.8zM237.0 366.5h0.8v0.8h-0.8zM226.4 360.0h0.8v0.8h-0.8zM226.4 372.4h0.8v0.8h-0.8zM236.4 363.4h0.8v0.8h-0.8zM237.4 356.9h0.8v0.8h-0.8zM224.4 357.7h0.8v0.8h-0.8zM235.8 357.7h0.8v0.8h-0.8zM232.7 361.7h0.8v0.8h-0.8zM218.1 371.8h0.8v0.8h-0.8zM237.4 362.1h0.8v0.8h-0.8zM212.0 372.2h0.8v0.8h-0.8zM240.1 361.6h0.8v0.8h-0.8zM247.9 352.9h0.8v0.8h-0.8zM218.0 368.7h0.8v0.8h-0.8zM247.1 367.6h0.8v0.8h-0.8zM253.1 356.2h0.8v0.8h-0.8zM218.3 363.1h0.8v0.8h-0.8zM245.1 343.8h0.8v0.8h-0.8zM214.9 366.4h0.8v0.8h-0.8zM223.3 373.5h0.8v0.8h-0.8zM249.7 337.2h0.8v0.8h-0.8zM245.8 351.8h0.8v0.8h-0.8zM236.6 356.6h0.8v0.8h-0.8zM254.8 349.0h0.8v0.8h-0.8zM227.8 364.8h0.8v0.8h-0.8zM226.2 367.3h0.8v0.8h-0.8zM218.9 362.0h0.8v0.8h-0.8zM246.4 348.6h0.8v0.8h-0.8zM258.5 334.1h0.8v0.8h-0.8zM222.6 365.1h0.8v0.8h-0.8zM258.0 345.0h0.8v0.8h-0.8zM228.1 335.2h0.8v0.8h-0.8zM228.9 366.2h0.8v0.8h-0.8zM221.9 356.3h0.8v0.8h-0.8zM212.6 366.6h0.8v0.8h-0.8zM223.3 366.5h0.8v0.8h-0.8zM219.2 372.9h0.8v0.8h-0.8zM218.4 367.1h0.8v0.8h-0.8zM231.2 358.9h0.8v0.8h-0.8zM223.5 369.5h0.8v0.8h-0.8zM249.5 341.4h0.8v0.8h-0.8zM234.9 361.1h0.8v0.8h-0.8zM225.1 364.3h0.8v0.8h-0.8zM221.8 358.5h0.8v0.8h-0.8zM251.2 336.4h0.8v0.8h-0.8zM216.0 376.4h0.8v0.8h-0.8zM214.9 373.3h0.8v0.8h-0.8zM251.0 346.8h0.8v0.8h-0.8zM222.5 357.6h0.8v0.8h-0.8zM216.6 366.2h0.8v0.8h-0.8zM214.1 376.4h0.8v0.8h-0.8zM243.9 340.8h0.8v0.8h-0.8zM237.4 359.4h0.8v0.8h-0.8zM222.9 361.1h0.8v0.8h-0.8zM225.2 372.4h0.8v0.8h-0.8zM234.8 358.9h0.8v0.8h-0.8zM221.0 374.4h0.8v0.8h-0.8zM218.7 373.2h0.8v0.8h-0.8zM233.6 369.1h0.8v0.8h-0.8zM219.9 366.5h0.8v0.8h-0.8zM220.0 366.5h0.8v0.8h-0.8zM214.9 375.2h0.8v0.8h-0.8zM226.9 364.7h0.8v0.8h-0.8zM225.9 352.3h0.8v0.8h-0.8zM242.4 339.9h0.8v0.8h-0.8zM218.6 369.9h0.8v0.8h-0.8zM213.5 374.7h0.8v0.8h-0.8zM222.7 362.9h0.8v0.8h-0.8zM247.7 340.8h0.8v0.8h-0.8zM219.5 371.0h0.8v0.8h-0.8zM234.2 358.3h0.8v0.8h-0.8zM214.7 373.4h0.8v0.8h-0.8zM238.8 354.2h0.8v0.8h-0.8zM224.7 357.1h0.8v0.8h-0.8zM214.9 374.9h0.8v0.8h-0.8zM213.2 369.8h0.8v0.8h-0.8zM216.8 370.1h0.8v0.8h-0.8zM244.7 333.9h0.8v0.8h-0.8zM237.2 354.8h0.8v0.8h-0.8zM229.2 354.6h0.8v0.8h-0.8zM232.1 367.9h0.8v0.8h-0.8zM233.4 357.8h0.8v0.8h-0.8zM251.4 344.1h0.8v0.8h-0.8zM222.7 365.4h0.8v0.8h-0.8zM215.4 369.3h0.8v0.8h-0.8zM216.8 367.7h0.8v0.8h-0.8zM222.0 358.4h0.8v0.8h-0.8zM242.4 353.3h0.8v0.8h-0.8zM232.7 341.8h0.8v0.8h-0.8zM219.8 364.2h0.8v0.8h-0.8zM230.7 359.2h0.8v0.8h-0.8zM228.7 362.0h0.8v0.8h-0.8zM234.7 360.4h0.8v0.8h-0.8zM242.3 337.5h0.8v0.8h-0.8zM241.4 355.9h0.8v0.8h-0.8zM220.2 362.0h0.8v0.8h-0.8zM228.3 366.3h0.8v0.8h-0.8zM223.1 368.1h0.8v0.8h-0.8zM225.5 367.9h0.8v0.8h-0.8zM244.9 351.1h0.8v0.8h-0.8zM238.2 346.1h0.8v0.8h-0.8zM240.1 365.0h0.8v0.8h-0.8zM224.7 361.2h0.8v0.8h-0.8zM218.2 377.2h0.8v0.8h-0.8zM215.6 370.1h0.8v0.8h-0.8zM227.9 377.7h0.8v0.8h-0.8zM236.6 344.7h0.8v0.8h-0.8zM239.7 351.3h0.8v0.8h-0.8zM230.6 366.7h0.8v0.8h-0.8zM219.4 365.1h0.8v0.8h-0.8zM222.6 363.0h0.8v0.8h-0.8zM243.4 343.1h0.8v0.8h-0.8zM254.8 340.9h0.8v0.8h-0.8zM243.8 345.5h0.8v0.8h-0.8zM237.6 347.0h0.8v0.8h-0.8zM229.7 372.9h0.8v0.8h-0.8zM239.9 345.0h0.8v0.8h-0.8zM252.8 361.1h0.8v0.8h-0.8zM228.3 369.1h0.8v0.8h-0.8zM247.0 348.9h0.8v0.8h-0.8zM245.2 330.6h0.8v0.8h-0.8zM242.5 352.9h0.8v0.8h-0.8zM242.1 359.0h0.8v0.8h-0.8zM250.2 344.2h0.8v0.8h-0.8zM234.1 356.6h0.8v0.8h-0.8zM213.8 375.9h0.8v0.8h-0.8zM221.0 362.7h0.8v0.8h-0.8zM235.6 357.4h0.8v0.8h-0.8zM217.2 375.4h0.8v0.8h-0.8z" fill="#90b8b0" fill-opacity="0.45"/>
<ellipse cx="222" cy="364" rx="6.5" ry="12" fill="#2e8c6c" fill-opacity="0.95" transform="rotate(38 222 364)" filter="url(#bl12)"/>
<ellipse cx="222.8" cy="365.6" rx="2.8" ry="6.6" fill="#e04020" fill-opacity="1.0" transform="rotate(36 222.8 365.6)" filter="url(#bl9)"/>
<ellipse cx="223.2" cy="365.2" rx="1.7" ry="4.6" fill="#ec2a10" fill-opacity="1.0" transform="rotate(36 223.2 365.2)" filter="url(#bl6)"/>
<ellipse cx="214.5" cy="376.5" rx="3.6" ry="1.4" fill="#c01818" fill-opacity="1.0" transform="rotate(-35 214.5 376.5)" filter="url(#bl6)"/>
<path d="M219 339.6 L225.6 329.4 L247.6 330.8 L259.4 347 L258.7 369 L247.6 374.2 L214 373.4 Z" fill="none" stroke="#8c8c8c" stroke-width="0.55"/>
<text x="225.40" y="338.30" font-size="4.4" font-weight="normal" text-anchor="start" fill="#333" >D</text>
<text x="232.00" y="338.30" font-size="4.4" font-weight="normal" text-anchor="start" fill="#333" >82.86%</text>
<text x="247.20" y="345.40" font-size="6.0" font-weight="bold" text-anchor="middle" fill="#1616b4" stroke="#1616b4" stroke-width="0.32" >Gating</text>
<text x="207.70" y="349.00" font-size="6.2" font-weight="bold" text-anchor="middle" fill="#000" stroke="#000" stroke-width="0.2" transform="rotate(-90 207.7 349.0)">SSC</text>
<text x="238.80" y="384.00" font-size="6.2" font-weight="bold" text-anchor="middle" fill="#000" textLength="10" lengthAdjust="spacingAndGlyphs" stroke="#000" stroke-width="0.2" >FSC</text>
<rect x="279.30" y="327.00" width="52.20" height="51.80" fill="#fff" stroke="#b0b0b0" stroke-width="0.9" />
<rect x="282.4" y="329.1" width="25.2" height="5.4" fill="#f0f0f0"/>
<path d="M287.6 375.4h0.8v0.8h-0.8zM288.8 375.7h0.8v0.8h-0.8zM293.6 366.8h0.8v0.8h-0.8zM288.5 367.7h0.8v0.8h-0.8zM288.8 357.0h0.8v0.8h-0.8zM294.5 357.4h0.8v0.8h-0.8zM294.0 367.9h0.8v0.8h-0.8zM287.7 372.0h0.8v0.8h-0.8zM286.2 367.1h0.8v0.8h-0.8zM289.2 368.7h0.8v0.8h-0.8zM287.3 360.2h0.8v0.8h-0.8zM290.1 363.7h0.8v0.8h-0.8zM289.1 365.8h0.8v0.8h-0.8zM289.8 366.6h0.8v0.8h-0.8zM290.7 368.8h0.8v0.8h-0.8zM293.7 370.7h0.8v0.8h-0.8zM288.8 376.3h0.8v0.8h-0.8zM290.0 360.2h0.8v0.8h-0.8zM290.6 361.0h0.8v0.8h-0.8zM289.4 365.6h0.8v0.8h-0.8zM293.1 367.1h0.8v0.8h-0.8zM288.4 370.1h0.8v0.8h-0.8zM286.8 362.9h0.8v0.8h-0.8zM286.9 359.3h0.8v0.8h-0.8zM291.6 366.2h0.8v0.8h-0.8zM287.9 365.5h0.8v0.8h-0.8zM290.1 373.5h0.8v0.8h-0.8zM290.4 360.5h0.8v0.8h-0.8zM292.8 368.1h0.8v0.8h-0.8zM295.3 374.4h0.8v0.8h-0.8zM285.7 367.7h0.8v0.8h-0.8zM289.1 360.6h0.8v0.8h-0.8zM294.1 361.4h0.8v0.8h-0.8zM294.8 375.0h0.8v0.8h-0.8zM288.1 367.9h0.8v0.8h-0.8zM286.9 359.2h0.8v0.8h-0.8zM290.7 371.6h0.8v0.8h-0.8zM288.2 372.7h0.8v0.8h-0.8zM290.9 358.4h0.8v0.8h-0.8zM293.7 360.4h0.8v0.8h-0.8zM291.4 365.1h0.8v0.8h-0.8zM292.4 363.4h0.8v0.8h-0.8zM293.2 370.4h0.8v0.8h-0.8zM292.4 370.0h0.8v0.8h-0.8zM287.2 369.2h0.8v0.8h-0.8zM290.4 369.0h0.8v0.8h-0.8zM291.4 366.0h0.8v0.8h-0.8zM292.7 367.6h0.8v0.8h-0.8zM293.2 363.8h0.8v0.8h-0.8zM291.2 369.7h0.8v0.8h-0.8zM289.7 372.2h0.8v0.8h-0.8zM292.1 365.4h0.8v0.8h-0.8zM293.1 361.9h0.8v0.8h-0.8zM290.4 362.3h0.8v0.8h-0.8zM292.6 372.5h0.8v0.8h-0.8zM290.7 363.3h0.8v0.8h-0.8zM287.6 361.6h0.8v0.8h-0.8zM287.1 372.4h0.8v0.8h-0.8zM291.2 362.1h0.8v0.8h-0.8zM291.9 367.9h0.8v0.8h-0.8zM293.1 363.0h0.8v0.8h-0.8zM292.1 359.4h0.8v0.8h-0.8zM297.2 354.2h0.8v0.8h-0.8zM287.1 360.9h0.8v0.8h-0.8zM289.6 366.4h0.8v0.8h-0.8zM291.9 366.4h0.8v0.8h-0.8zM290.9 366.6h0.8v0.8h-0.8zM285.9 363.7h0.8v0.8h-0.8zM292.8 362.7h0.8v0.8h-0.8zM293.3 367.4h0.8v0.8h-0.8zM294.6 364.7h0.8v0.8h-0.8zM288.9 365.0h0.8v0.8h-0.8zM289.5 364.8h0.8v0.8h-0.8zM295.4 365.5h0.8v0.8h-0.8zM288.4 357.8h0.8v0.8h-0.8zM294.5 364.0h0.8v0.8h-0.8zM288.0 371.2h0.8v0.8h-0.8zM287.4 369.2h0.8v0.8h-0.8zM293.5 367.4h0.8v0.8h-0.8zM290.9 376.6h0.8v0.8h-0.8zM288.5 368.0h0.8v0.8h-0.8zM292.4 364.6h0.8v0.8h-0.8zM295.4 371.0h0.8v0.8h-0.8zM294.3 367.5h0.8v0.8h-0.8zM295.8 366.9h0.8v0.8h-0.8zM292.5 366.0h0.8v0.8h-0.8zM290.9 360.9h0.8v0.8h-0.8zM291.7 364.5h0.8v0.8h-0.8zM291.4 367.0h0.8v0.8h-0.8zM294.7 360.1h0.8v0.8h-0.8z" fill="#90aaa4" fill-opacity="0.4"/>
<ellipse cx="291" cy="366" rx="4" ry="7" fill="#c8d6d2" fill-opacity="0.8" transform="rotate(0 291 366)" filter="url(#bl12)"/>
<ellipse cx="292.4" cy="342.0" rx="6.2" ry="3.8" fill="#40b090" fill-opacity="1.0" transform="rotate(0 292.4 342.0)" filter="url(#bl8)"/>
<ellipse cx="293.4" cy="342.8" rx="4.0" ry="1.9" fill="#d02018" fill-opacity="1.0" transform="rotate(0 293.4 342.8)" filter="url(#bl6)"/>
<rect x="282.00" y="328.70" width="26.00" height="19.30" fill="none" stroke="#8a8a8a" stroke-width="0.6" />
<text x="283.20" y="333.50" font-size="4.4" font-weight="normal" text-anchor="start" fill="#333" >G</text>
<text x="288.50" y="333.50" font-size="4.4" font-weight="normal" text-anchor="start" fill="#333" >80.04%</text>
<rect x="305.10" y="358.50" width="23.30" height="19.00" fill="none" stroke="#8a8a8a" stroke-width="0.6" />
<text x="306.30" y="363.30" font-size="4.4" font-weight="normal" text-anchor="start" fill="#333" >H</text>
<text x="311.60" y="363.30" font-size="4.4" font-weight="normal" text-anchor="start" fill="#333" >0.00%</text>
<text x="318.80" y="337.60" font-size="6.2" font-weight="bold" text-anchor="middle" fill="#1616b4" stroke="#1616b4" stroke-width="0.32" >Un-</text>
<text x="319.40" y="345.60" font-size="6.2" font-weight="bold" text-anchor="middle" fill="#1616b4" textLength="22.5" lengthAdjust="spacingAndGlyphs" stroke="#1616b4" stroke-width="0.32" >injected</text>
<text x="277.00" y="354.60" font-size="6.0" font-weight="bold" text-anchor="middle" fill="#000" textLength="34" lengthAdjust="spacingAndGlyphs" stroke="#000" stroke-width="0.25" transform="rotate(-90 277.0 354.6)">mCD45-APC</text>
<text x="304.00" y="384.40" font-size="6.1" font-weight="bold" text-anchor="middle" fill="#000" textLength="28" lengthAdjust="spacingAndGlyphs" stroke="#000" stroke-width="0.25" >hCD45-PE</text>
<rect x="210.30" y="387.30" width="52.20" height="52.20" fill="#fff" stroke="#b0b0b0" stroke-width="0.9" />
<rect x="213.9" y="390.2" width="24.3" height="5.4" fill="#f0f0f0"/>
<path d="M232.1 428.1h0.8v0.8h-0.8zM223.1 426.5h0.8v0.8h-0.8zM225.4 429.8h0.8v0.8h-0.8zM226.5 425.2h0.8v0.8h-0.8zM227.0 434.5h0.8v0.8h-0.8zM224.9 429.2h0.8v0.8h-0.8zM227.9 428.1h0.8v0.8h-0.8zM221.1 430.9h0.8v0.8h-0.8zM223.1 431.5h0.8v0.8h-0.8zM228.3 435.1h0.8v0.8h-0.8zM227.2 424.9h0.8v0.8h-0.8zM220.8 428.4h0.8v0.8h-0.8zM221.5 425.1h0.8v0.8h-0.8zM221.5 430.6h0.8v0.8h-0.8zM216.5 420.3h0.8v0.8h-0.8zM221.9 425.3h0.8v0.8h-0.8zM227.1 433.3h0.8v0.8h-0.8zM227.6 428.2h0.8v0.8h-0.8zM229.5 429.8h0.8v0.8h-0.8zM226.3 432.6h0.8v0.8h-0.8zM228.1 427.6h0.8v0.8h-0.8zM222.1 432.3h0.8v0.8h-0.8zM225.4 434.6h0.8v0.8h-0.8zM230.2 422.9h0.8v0.8h-0.8zM222.7 435.6h0.8v0.8h-0.8zM224.6 426.7h0.8v0.8h-0.8zM222.7 430.3h0.8v0.8h-0.8zM225.3 428.7h0.8v0.8h-0.8zM218.7 435.8h0.8v0.8h-0.8zM221.7 434.9h0.8v0.8h-0.8zM227.8 426.9h0.8v0.8h-0.8zM218.9 426.6h0.8v0.8h-0.8zM223.6 428.5h0.8v0.8h-0.8zM222.9 428.2h0.8v0.8h-0.8zM223.8 428.6h0.8v0.8h-0.8zM226.2 428.7h0.8v0.8h-0.8zM223.2 428.5h0.8v0.8h-0.8zM224.3 423.4h0.8v0.8h-0.8zM226.9 432.1h0.8v0.8h-0.8zM220.2 424.0h0.8v0.8h-0.8zM226.9 434.5h0.8v0.8h-0.8zM227.4 430.3h0.8v0.8h-0.8zM225.8 433.4h0.8v0.8h-0.8zM221.5 429.8h0.8v0.8h-0.8zM226.9 425.8h0.8v0.8h-0.8zM223.2 428.8h0.8v0.8h-0.8zM218.8 428.4h0.8v0.8h-0.8zM232.0 429.8h0.8v0.8h-0.8zM221.7 431.9h0.8v0.8h-0.8zM220.3 428.4h0.8v0.8h-0.8zM223.0 427.5h0.8v0.8h-0.8zM224.1 432.2h0.8v0.8h-0.8zM228.5 432.3h0.8v0.8h-0.8zM220.3 430.8h0.8v0.8h-0.8zM223.7 428.4h0.8v0.8h-0.8zM222.4 423.5h0.8v0.8h-0.8zM225.2 431.6h0.8v0.8h-0.8zM230.4 435.5h0.8v0.8h-0.8zM226.3 428.4h0.8v0.8h-0.8zM222.3 429.0h0.8v0.8h-0.8zM219.0 433.5h0.8v0.8h-0.8zM219.6 433.1h0.8v0.8h-0.8zM227.4 429.5h0.8v0.8h-0.8zM227.2 428.7h0.8v0.8h-0.8zM220.1 427.5h0.8v0.8h-0.8zM218.6 427.4h0.8v0.8h-0.8zM226.0 430.8h0.8v0.8h-0.8zM223.9 431.9h0.8v0.8h-0.8zM226.4 436.1h0.8v0.8h-0.8zM223.7 432.9h0.8v0.8h-0.8zM219.9 432.7h0.8v0.8h-0.8zM221.3 428.1h0.8v0.8h-0.8zM230.2 431.5h0.8v0.8h-0.8zM226.6 428.6h0.8v0.8h-0.8zM221.3 425.2h0.8v0.8h-0.8zM226.5 430.6h0.8v0.8h-0.8zM223.5 427.2h0.8v0.8h-0.8zM222.6 423.4h0.8v0.8h-0.8zM230.1 428.6h0.8v0.8h-0.8zM220.9 423.4h0.8v0.8h-0.8zM220.9 422.5h0.8v0.8h-0.8zM226.7 428.9h0.8v0.8h-0.8zM223.7 426.1h0.8v0.8h-0.8zM226.1 425.5h0.8v0.8h-0.8zM225.6 433.9h0.8v0.8h-0.8zM222.1 431.7h0.8v0.8h-0.8zM224.1 430.9h0.8v0.8h-0.8zM224.4 429.9h0.8v0.8h-0.8zM226.4 428.2h0.8v0.8h-0.8zM223.1 429.3h0.8v0.8h-0.8zM224.5 433.7h0.8v0.8h-0.8zM224.5 434.8h0.8v0.8h-0.8zM223.1 427.5h0.8v0.8h-0.8zM222.5 422.7h0.8v0.8h-0.8zM222.1 429.4h0.8v0.8h-0.8zM225.6 433.2h0.8v0.8h-0.8zM224.7 424.6h0.8v0.8h-0.8zM230.2 431.5h0.8v0.8h-0.8zM220.1 425.4h0.8v0.8h-0.8zM225.7 435.4h0.8v0.8h-0.8zM223.0 435.7h0.8v0.8h-0.8zM226.9 430.3h0.8v0.8h-0.8zM225.2 434.1h0.8v0.8h-0.8zM225.0 430.8h0.8v0.8h-0.8zM219.4 429.3h0.8v0.8h-0.8zM216.8 428.0h0.8v0.8h-0.8zM224.7 429.4h0.8v0.8h-0.8zM218.8 426.2h0.8v0.8h-0.8zM224.1 424.9h0.8v0.8h-0.8zM223.3 436.4h0.8v0.8h-0.8zM219.1 429.3h0.8v0.8h-0.8zM221.9 427.2h0.8v0.8h-0.8zM223.4 430.2h0.8v0.8h-0.8zM225.1 430.8h0.8v0.8h-0.8zM226.7 432.8h0.8v0.8h-0.8zM216.6 426.1h0.8v0.8h-0.8zM221.5 426.8h0.8v0.8h-0.8zM224.5 431.0h0.8v0.8h-0.8zM225.1 432.9h0.8v0.8h-0.8zM223.7 427.5h0.8v0.8h-0.8zM221.7 424.4h0.8v0.8h-0.8zM227.1 427.8h0.8v0.8h-0.8zM222.7 429.7h0.8v0.8h-0.8zM227.3 433.7h0.8v0.8h-0.8zM224.1 434.7h0.8v0.8h-0.8zM228.0 431.1h0.8v0.8h-0.8zM226.1 426.2h0.8v0.8h-0.8zM226.6 428.2h0.8v0.8h-0.8zM224.3 432.6h0.8v0.8h-0.8zM220.1 429.4h0.8v0.8h-0.8zM227.0 428.7h0.8v0.8h-0.8zM221.6 431.3h0.8v0.8h-0.8zM222.0 431.5h0.8v0.8h-0.8zM229.8 428.7h0.8v0.8h-0.8zM224.9 434.1h0.8v0.8h-0.8zM217.8 424.9h0.8v0.8h-0.8zM220.7 431.5h0.8v0.8h-0.8zM224.7 432.7h0.8v0.8h-0.8zM228.2 428.3h0.8v0.8h-0.8zM223.0 427.5h0.8v0.8h-0.8zM225.8 429.5h0.8v0.8h-0.8zM227.6 429.7h0.8v0.8h-0.8zM225.4 422.9h0.8v0.8h-0.8zM221.2 429.8h0.8v0.8h-0.8zM224.3 432.0h0.8v0.8h-0.8zM225.1 425.4h0.8v0.8h-0.8zM222.5 425.8h0.8v0.8h-0.8zM218.4 430.9h0.8v0.8h-0.8zM223.6 428.0h0.8v0.8h-0.8zM218.5 434.9h0.8v0.8h-0.8zM218.6 430.8h0.8v0.8h-0.8zM225.9 431.4h0.8v0.8h-0.8zM228.7 430.1h0.8v0.8h-0.8zM225.0 432.4h0.8v0.8h-0.8zM223.4 428.5h0.8v0.8h-0.8zM224.1 427.6h0.8v0.8h-0.8zM222.9 426.9h0.8v0.8h-0.8zM223.2 426.9h0.8v0.8h-0.8zM225.2 426.2h0.8v0.8h-0.8zM222.0 432.9h0.8v0.8h-0.8z" fill="#4a9e92" fill-opacity="0.45"/>
<ellipse cx="223.7" cy="429.4" rx="5" ry="5" fill="#78b8ac" fill-opacity="0.9" transform="rotate(0 223.7 429.4)" filter="url(#bl10)"/>
<ellipse cx="246.4" cy="430" rx="3.6" ry="4" fill="#c4d4d0" fill-opacity="0.9" transform="rotate(0 246.4 430)" filter="url(#bl10)"/>
<ellipse cx="226.5" cy="398.8" rx="3.2" ry="2.4" fill="#90c8c0" fill-opacity="1.0" transform="rotate(0 226.5 398.8)" filter="url(#bl8)"/>
<ellipse cx="224.5" cy="404.0" rx="7.2" ry="2.8" fill="#5a4030" fill-opacity="1.0" transform="rotate(0 224.5 404.0)" filter="url(#bl8)"/>
<ellipse cx="226.8" cy="404.0" rx="4.2" ry="2.4" fill="#d81c10" fill-opacity="1.0" transform="rotate(0 226.8 404.0)" filter="url(#bl6)"/>
<rect x="213.70" y="390.00" width="24.70" height="18.70" fill="none" stroke="#8a8a8a" stroke-width="0.6" />
<text x="214.90" y="394.80" font-size="4.4" font-weight="normal" text-anchor="start" fill="#333" >G</text>
<text x="220.20" y="394.80" font-size="4.4" font-weight="normal" text-anchor="start" fill="#333" >72.75%</text>
<rect x="236.40" y="419.40" width="24.10" height="19.40" fill="none" stroke="#8a8a8a" stroke-width="0.6" />
<text x="237.60" y="424.20" font-size="4.4" font-weight="normal" text-anchor="start" fill="#333" >H</text>
<text x="242.90" y="424.20" font-size="4.4" font-weight="normal" text-anchor="start" fill="#333" >7.46%</text>
<text x="247.80" y="404.20" font-size="6.3" font-weight="bold" text-anchor="middle" fill="#1616b4" textLength="28.2" lengthAdjust="spacingAndGlyphs" stroke="#1616b4" stroke-width="0.32" >(–)BI97D6</text>
<text x="208.80" y="413.70" font-size="6.0" font-weight="bold" text-anchor="middle" fill="#000" textLength="34" lengthAdjust="spacingAndGlyphs" stroke="#000" stroke-width="0.25" transform="rotate(-90 208.8 413.7)">mCD45-APC</text>
<text x="235.00" y="444.90" font-size="6.1" font-weight="bold" text-anchor="middle" fill="#000" textLength="28.5" lengthAdjust="spacingAndGlyphs" stroke="#000" stroke-width="0.25" >hCD45-PE</text>
<rect x="278.00" y="388.00" width="53.50" height="50.80" fill="#fff" stroke="#b0b0b0" stroke-width="0.9" />
<rect x="281.6" y="390.3" width="24.8" height="5.4" fill="#f0f0f0"/>
<path d="M289.7 429.1h0.8v0.8h-0.8zM291.7 432.2h0.8v0.8h-0.8zM290.3 431.8h0.8v0.8h-0.8zM292.0 429.6h0.8v0.8h-0.8zM292.4 430.5h0.8v0.8h-0.8zM294.9 431.2h0.8v0.8h-0.8zM292.1 429.6h0.8v0.8h-0.8zM292.1 428.6h0.8v0.8h-0.8zM292.6 431.9h0.8v0.8h-0.8zM292.2 428.4h0.8v0.8h-0.8zM287.9 431.7h0.8v0.8h-0.8zM297.2 431.0h0.8v0.8h-0.8zM292.1 433.8h0.8v0.8h-0.8zM288.7 431.6h0.8v0.8h-0.8zM297.3 429.9h0.8v0.8h-0.8zM297.6 433.6h0.8v0.8h-0.8zM288.6 428.1h0.8v0.8h-0.8zM291.7 427.2h0.8v0.8h-0.8zM287.3 432.2h0.8v0.8h-0.8zM291.1 430.3h0.8v0.8h-0.8zM289.8 432.7h0.8v0.8h-0.8zM296.3 432.4h0.8v0.8h-0.8zM296.0 432.4h0.8v0.8h-0.8zM293.0 430.0h0.8v0.8h-0.8zM288.6 429.1h0.8v0.8h-0.8zM292.7 433.1h0.8v0.8h-0.8zM286.9 426.9h0.8v0.8h-0.8zM287.1 433.7h0.8v0.8h-0.8zM295.5 432.4h0.8v0.8h-0.8zM292.6 432.8h0.8v0.8h-0.8zM294.5 434.5h0.8v0.8h-0.8zM291.0 428.3h0.8v0.8h-0.8zM292.3 436.8h0.8v0.8h-0.8zM290.9 430.7h0.8v0.8h-0.8zM291.9 432.2h0.8v0.8h-0.8zM294.5 431.3h0.8v0.8h-0.8zM297.4 427.1h0.8v0.8h-0.8zM292.3 433.0h0.8v0.8h-0.8zM293.2 426.4h0.8v0.8h-0.8zM292.8 433.2h0.8v0.8h-0.8zM292.1 430.0h0.8v0.8h-0.8zM285.8 430.4h0.8v0.8h-0.8zM294.1 427.4h0.8v0.8h-0.8zM292.1 432.8h0.8v0.8h-0.8zM294.8 426.4h0.8v0.8h-0.8zM294.3 428.5h0.8v0.8h-0.8zM300.5 430.6h0.8v0.8h-0.8zM289.8 430.2h0.8v0.8h-0.8zM287.0 427.3h0.8v0.8h-0.8zM286.6 430.7h0.8v0.8h-0.8zM294.9 431.4h0.8v0.8h-0.8zM293.6 430.0h0.8v0.8h-0.8zM291.2 431.3h0.8v0.8h-0.8zM289.3 428.4h0.8v0.8h-0.8zM283.7 424.8h0.8v0.8h-0.8zM291.5 434.1h0.8v0.8h-0.8zM287.0 427.1h0.8v0.8h-0.8zM291.7 430.7h0.8v0.8h-0.8zM288.0 431.3h0.8v0.8h-0.8zM298.0 426.9h0.8v0.8h-0.8zM289.7 427.8h0.8v0.8h-0.8zM288.3 428.2h0.8v0.8h-0.8zM292.2 433.0h0.8v0.8h-0.8zM293.9 423.1h0.8v0.8h-0.8zM290.2 433.4h0.8v0.8h-0.8zM292.1 435.3h0.8v0.8h-0.8zM290.7 432.2h0.8v0.8h-0.8zM290.8 428.2h0.8v0.8h-0.8zM294.3 433.8h0.8v0.8h-0.8zM289.3 423.3h0.8v0.8h-0.8zM290.1 424.6h0.8v0.8h-0.8zM292.9 428.1h0.8v0.8h-0.8zM289.6 430.2h0.8v0.8h-0.8zM288.2 429.1h0.8v0.8h-0.8zM295.9 428.6h0.8v0.8h-0.8zM290.2 430.8h0.8v0.8h-0.8zM294.5 429.5h0.8v0.8h-0.8zM295.6 427.0h0.8v0.8h-0.8zM292.2 430.7h0.8v0.8h-0.8zM291.7 432.0h0.8v0.8h-0.8zM286.6 430.2h0.8v0.8h-0.8zM297.1 428.0h0.8v0.8h-0.8zM286.6 437.5h0.8v0.8h-0.8zM291.8 428.4h0.8v0.8h-0.8zM296.9 437.8h0.8v0.8h-0.8zM294.0 425.2h0.8v0.8h-0.8zM293.7 434.6h0.8v0.8h-0.8zM299.3 431.2h0.8v0.8h-0.8zM290.0 435.7h0.8v0.8h-0.8zM297.0 428.5h0.8v0.8h-0.8zM288.0 429.2h0.8v0.8h-0.8zM290.0 437.2h0.8v0.8h-0.8zM294.3 435.6h0.8v0.8h-0.8zM290.5 426.6h0.8v0.8h-0.8zM295.0 431.0h0.8v0.8h-0.8zM292.0 431.3h0.8v0.8h-0.8zM295.1 433.2h0.8v0.8h-0.8zM290.8 435.2h0.8v0.8h-0.8zM296.5 430.9h0.8v0.8h-0.8zM298.7 426.7h0.8v0.8h-0.8zM291.5 428.0h0.8v0.8h-0.8zM290.8 427.0h0.8v0.8h-0.8zM296.9 429.5h0.8v0.8h-0.8zM293.1 432.0h0.8v0.8h-0.8zM299.3 430.0h0.8v0.8h-0.8zM295.0 433.5h0.8v0.8h-0.8zM299.2 426.9h0.8v0.8h-0.8zM300.0 433.5h0.8v0.8h-0.8zM286.0 429.6h0.8v0.8h-0.8zM289.7 426.9h0.8v0.8h-0.8zM292.1 429.8h0.8v0.8h-0.8zM297.7 425.6h0.8v0.8h-0.8zM285.8 436.4h0.8v0.8h-0.8zM293.1 434.0h0.8v0.8h-0.8zM288.7 429.0h0.8v0.8h-0.8zM295.2 430.8h0.8v0.8h-0.8zM289.9 427.8h0.8v0.8h-0.8zM290.6 433.0h0.8v0.8h-0.8zM293.3 437.1h0.8v0.8h-0.8zM289.5 434.4h0.8v0.8h-0.8zM290.6 429.5h0.8v0.8h-0.8zM286.5 434.1h0.8v0.8h-0.8zM294.4 427.5h0.8v0.8h-0.8zM290.1 430.3h0.8v0.8h-0.8zM292.8 430.2h0.8v0.8h-0.8zM291.8 431.7h0.8v0.8h-0.8zM290.5 436.4h0.8v0.8h-0.8zM290.8 432.3h0.8v0.8h-0.8zM295.9 431.1h0.8v0.8h-0.8zM291.7 429.9h0.8v0.8h-0.8zM294.1 436.0h0.8v0.8h-0.8zM289.1 428.7h0.8v0.8h-0.8zM291.9 428.4h0.8v0.8h-0.8zM288.8 431.3h0.8v0.8h-0.8zM286.7 429.5h0.8v0.8h-0.8zM293.3 429.2h0.8v0.8h-0.8zM290.9 433.9h0.8v0.8h-0.8zM294.6 438.1h0.8v0.8h-0.8zM293.1 436.5h0.8v0.8h-0.8zM291.8 432.3h0.8v0.8h-0.8zM293.9 430.1h0.8v0.8h-0.8zM294.1 428.2h0.8v0.8h-0.8zM289.9 435.5h0.8v0.8h-0.8zM296.6 431.3h0.8v0.8h-0.8zM287.9 428.6h0.8v0.8h-0.8zM292.3 428.5h0.8v0.8h-0.8zM291.0 430.0h0.8v0.8h-0.8zM295.3 434.1h0.8v0.8h-0.8zM294.7 435.7h0.8v0.8h-0.8zM288.7 427.5h0.8v0.8h-0.8z" fill="#3a9a78" fill-opacity="0.5"/>
<ellipse cx="292" cy="430.8" rx="4.6" ry="3.8" fill="#4aa888" fill-opacity="0.9" transform="rotate(0 292 430.8)" filter="url(#bl8)"/>
<ellipse cx="293.4" cy="403.4" rx="5.2" ry="2.8" fill="#50a888" fill-opacity="1.0" transform="rotate(0 293.4 403.4)" filter="url(#bl8)"/>
<ellipse cx="294" cy="400.4" rx="3.6" ry="1.8" fill="#a8d4c8" fill-opacity="1.0" transform="rotate(0 294 400.4)" filter="url(#bl8)"/>
<ellipse cx="313.4" cy="431.4" rx="5.6" ry="5.0" fill="#48b078" fill-opacity="1.0" transform="rotate(0 313.4 431.4)" filter="url(#bl8)"/>
<ellipse cx="313.4" cy="431.6" rx="3.4" ry="3.2" fill="#e82010" fill-opacity="1.0" transform="rotate(0 313.4 431.6)" filter="url(#bl6)"/>
<rect x="281.30" y="390.00" width="25.40" height="19.40" fill="none" stroke="#8a8a8a" stroke-width="0.6" />
<text x="282.50" y="394.80" font-size="4.4" font-weight="normal" text-anchor="start" fill="#333" >G</text>
<text x="287.80" y="394.80" font-size="4.4" font-weight="normal" text-anchor="start" fill="#333" >17.92%</text>
<rect x="304.00" y="419.40" width="25.50" height="18.70" fill="none" stroke="#8a8a8a" stroke-width="0.6" />
<text x="305.20" y="424.20" font-size="4.4" font-weight="normal" text-anchor="start" fill="#333" >H</text>
<text x="310.50" y="424.20" font-size="4.4" font-weight="normal" text-anchor="start" fill="#333" >66.01%</text>
<text x="318.00" y="403.60" font-size="6.2" font-weight="bold" text-anchor="middle" fill="#1616b4" stroke="#1616b4" stroke-width="0.32" >DMSO</text>
<text x="276.30" y="414.60" font-size="6.0" font-weight="bold" text-anchor="middle" fill="#000" textLength="34" lengthAdjust="spacingAndGlyphs" stroke="#000" stroke-width="0.25" transform="rotate(-90 276.3 414.6)">mCD45-APC</text>
<text x="305.40" y="444.90" font-size="6.1" font-weight="bold" text-anchor="middle" fill="#000" textLength="28.5" lengthAdjust="spacingAndGlyphs" stroke="#000" stroke-width="0.25" >hCD45-PE</text>
<text x="424.20" y="336.40" font-size="8" font-weight="bold" text-anchor="middle" fill="#000" textLength="54.5" lengthAdjust="spacingAndGlyphs" stroke="#000" stroke-width="0.12" >Survival Curve</text>
<line x1="365.50" y1="344.78" x2="365.50" y2="428.30" stroke="#111" stroke-width="1.1" />
<line x1="362.60" y1="428.30" x2="365.50" y2="428.30" stroke="#111" stroke-width="0.9" />
<text x="362.60" y="430.60" font-size="6.2" font-weight="bold" text-anchor="end" fill="#000" stroke="#000" stroke-width="0.15" >0</text>
<line x1="362.60" y1="414.43" x2="365.50" y2="414.43" stroke="#111" stroke-width="0.9" />
<text x="362.60" y="416.73" font-size="6.2" font-weight="bold" text-anchor="end" fill="#000" stroke="#000" stroke-width="0.15" >20</text>
<line x1="362.60" y1="400.56" x2="365.50" y2="400.56" stroke="#111" stroke-width="0.9" />
<text x="362.60" y="402.86" font-size="6.2" font-weight="bold" text-anchor="end" fill="#000" stroke="#000" stroke-width="0.15" >40</text>
<line x1="362.60" y1="386.69" x2="365.50" y2="386.69" stroke="#111" stroke-width="0.9" />
<text x="362.60" y="388.99" font-size="6.2" font-weight="bold" text-anchor="end" fill="#000" stroke="#000" stroke-width="0.15" >60</text>
<line x1="362.60" y1="372.82" x2="365.50" y2="372.82" stroke="#111" stroke-width="0.9" />
<text x="362.60" y="375.12" font-size="6.2" font-weight="bold" text-anchor="end" fill="#000" stroke="#000" stroke-width="0.15" >80</text>
<line x1="362.60" y1="358.95" x2="365.50" y2="358.95" stroke="#111" stroke-width="0.9" />
<text x="362.60" y="361.25" font-size="6.2" font-weight="bold" text-anchor="end" fill="#000" stroke="#000" stroke-width="0.15" >100</text>
<line x1="362.60" y1="345.08" x2="365.50" y2="345.08" stroke="#111" stroke-width="0.9" />
<text x="362.60" y="347.38" font-size="6.2" font-weight="bold" text-anchor="end" fill="#000" stroke="#000" stroke-width="0.15" >120</text>
<line x1="365.50" y1="428.30" x2="401.10" y2="428.30" stroke="#111" stroke-width="1.1" />
<line x1="411.20" y1="428.30" x2="483.00" y2="428.30" stroke="#111" stroke-width="1.1" />
<line x1="365.50" y1="428.30" x2="365.50" y2="430.90" stroke="#111" stroke-width="0.9" />
<text x="365.50" y="436.70" font-size="6.2" font-weight="bold" text-anchor="middle" fill="#000" stroke="#000" stroke-width="0.15" >0</text>
<line x1="383.30" y1="428.30" x2="383.30" y2="430.90" stroke="#111" stroke-width="0.9" />
<text x="383.30" y="436.70" font-size="6.2" font-weight="bold" text-anchor="middle" fill="#000" stroke="#000" stroke-width="0.15" >10</text>
<line x1="401.10" y1="428.30" x2="401.10" y2="430.90" stroke="#111" stroke-width="0.9" />
<text x="401.10" y="436.70" font-size="6.2" font-weight="bold" text-anchor="middle" fill="#000" stroke="#000" stroke-width="0.15" >20</text>
<line x1="411.20" y1="428.30" x2="411.20" y2="430.90" stroke="#111" stroke-width="0.9" />
<text x="411.20" y="436.70" font-size="6.2" font-weight="bold" text-anchor="middle" fill="#000" stroke="#000" stroke-width="0.15" >50</text>
<line x1="429.15" y1="428.30" x2="429.15" y2="430.90" stroke="#111" stroke-width="0.9" />
<text x="429.15" y="436.70" font-size="6.2" font-weight="bold" text-anchor="middle" fill="#000" stroke="#000" stroke-width="0.15" >60</text>
<line x1="447.10" y1="428.30" x2="447.10" y2="430.90" stroke="#111" stroke-width="0.9" />
<text x="447.10" y="436.70" font-size="6.2" font-weight="bold" text-anchor="middle" fill="#000" stroke="#000" stroke-width="0.15" >70</text>
<line x1="465.05" y1="428.30" x2="465.05" y2="430.90" stroke="#111" stroke-width="0.9" />
<text x="465.05" y="436.70" font-size="6.2" font-weight="bold" text-anchor="middle" fill="#000" stroke="#000" stroke-width="0.15" >80</text>
<line x1="483.00" y1="428.30" x2="483.00" y2="430.90" stroke="#111" stroke-width="0.9" />
<text x="483.00" y="436.70" font-size="6.2" font-weight="bold" text-anchor="middle" fill="#000" stroke="#000" stroke-width="0.15" >90</text>
<text x="423.60" y="447.40" font-size="7.4" font-weight="bold" text-anchor="middle" fill="#000" textLength="58" lengthAdjust="spacingAndGlyphs" stroke="#000" stroke-width="0.12" >Days post-injection</text>
<text x="346.00" y="388.00" font-size="7.2" font-weight="bold" text-anchor="middle" fill="#000" textLength="51" lengthAdjust="spacingAndGlyphs" stroke="#000" stroke-width="0.12" transform="rotate(-90 346.0 388.0)" dominant-baseline="central">Percent survival</text>
<line x1="365.50" y1="358.95" x2="401.70" y2="358.95" stroke="#50c080" stroke-width="1.2" />
<path d="M411.20 358.95 L414.79 358.95 L414.79 372.82 L425.56 372.82 L425.56 386.69 L429.15 386.69 L429.15 400.56 L434.53 400.56 L434.53 414.43 L438.12 414.43 L438.12 428.30" fill="none" stroke="#111" stroke-width="1.35"/>
<path d="M410.30 358.95 L452.49 358.95 L452.49 372.82 L457.87 372.82 L457.87 386.69 L466.84 386.69 L466.84 400.56 L477.62 400.56 L477.62 414.43 L479.41 414.43 L479.41 428.30" fill="none" stroke="#3aa844" stroke-width="1.35"/>
<circle cx="414.79" cy="372.82" r="1.6" fill="#111"/>
<circle cx="425.56" cy="386.69" r="1.6" fill="#111"/>
<circle cx="429.15" cy="400.56" r="1.6" fill="#111"/>
<circle cx="434.53" cy="414.43" r="1.6" fill="#111"/>
<circle cx="438.12" cy="428.30" r="1.6" fill="#111"/>
<rect x="450.99" y="371.32" width="3.0" height="3.0" fill="#2a9a30"/>
<rect x="456.37" y="385.19" width="3.0" height="3.0" fill="#2a9a30"/>
<rect x="465.34" y="399.06" width="3.0" height="3.0" fill="#2a9a30"/>
<rect x="476.12" y="412.93" width="3.0" height="3.0" fill="#2a9a30"/>
<rect x="477.91" y="426.80" width="3.0" height="3.0" fill="#2a9a30"/>
<text x="381.0" y="388.3" font-size="7.0" font-weight="bold" fill="#000" stroke="#000" stroke-width="0.12" textLength="29" lengthAdjust="spacingAndGlyphs"><tspan font-style="italic">P</tspan> = .0039</text>
<line x1="472.20" y1="359.00" x2="481.40" y2="359.00" stroke="#111" stroke-width="1.2" />
<circle cx="476.8" cy="359.0" r="1.6" fill="#111"/>
<text x="486.30" y="361.60" font-size="7.2" font-weight="bold" text-anchor="start" fill="#000" textLength="22.7" lengthAdjust="spacingAndGlyphs" stroke="#000" stroke-width="0.12" >Vehicle</text>
<line x1="472.20" y1="373.60" x2="481.40" y2="373.60" stroke="#3aa844" stroke-width="1.2" />
<rect x="475.3" y="372.1" width="3.0" height="3.0" fill="#2a9a30"/>
<text x="483.80" y="376.20" font-size="7.2" font-weight="bold" text-anchor="start" fill="#000" textLength="31" lengthAdjust="spacingAndGlyphs" stroke="#000" stroke-width="0.12" >(–)BI97D6</text>
</svg>
</body></html>
